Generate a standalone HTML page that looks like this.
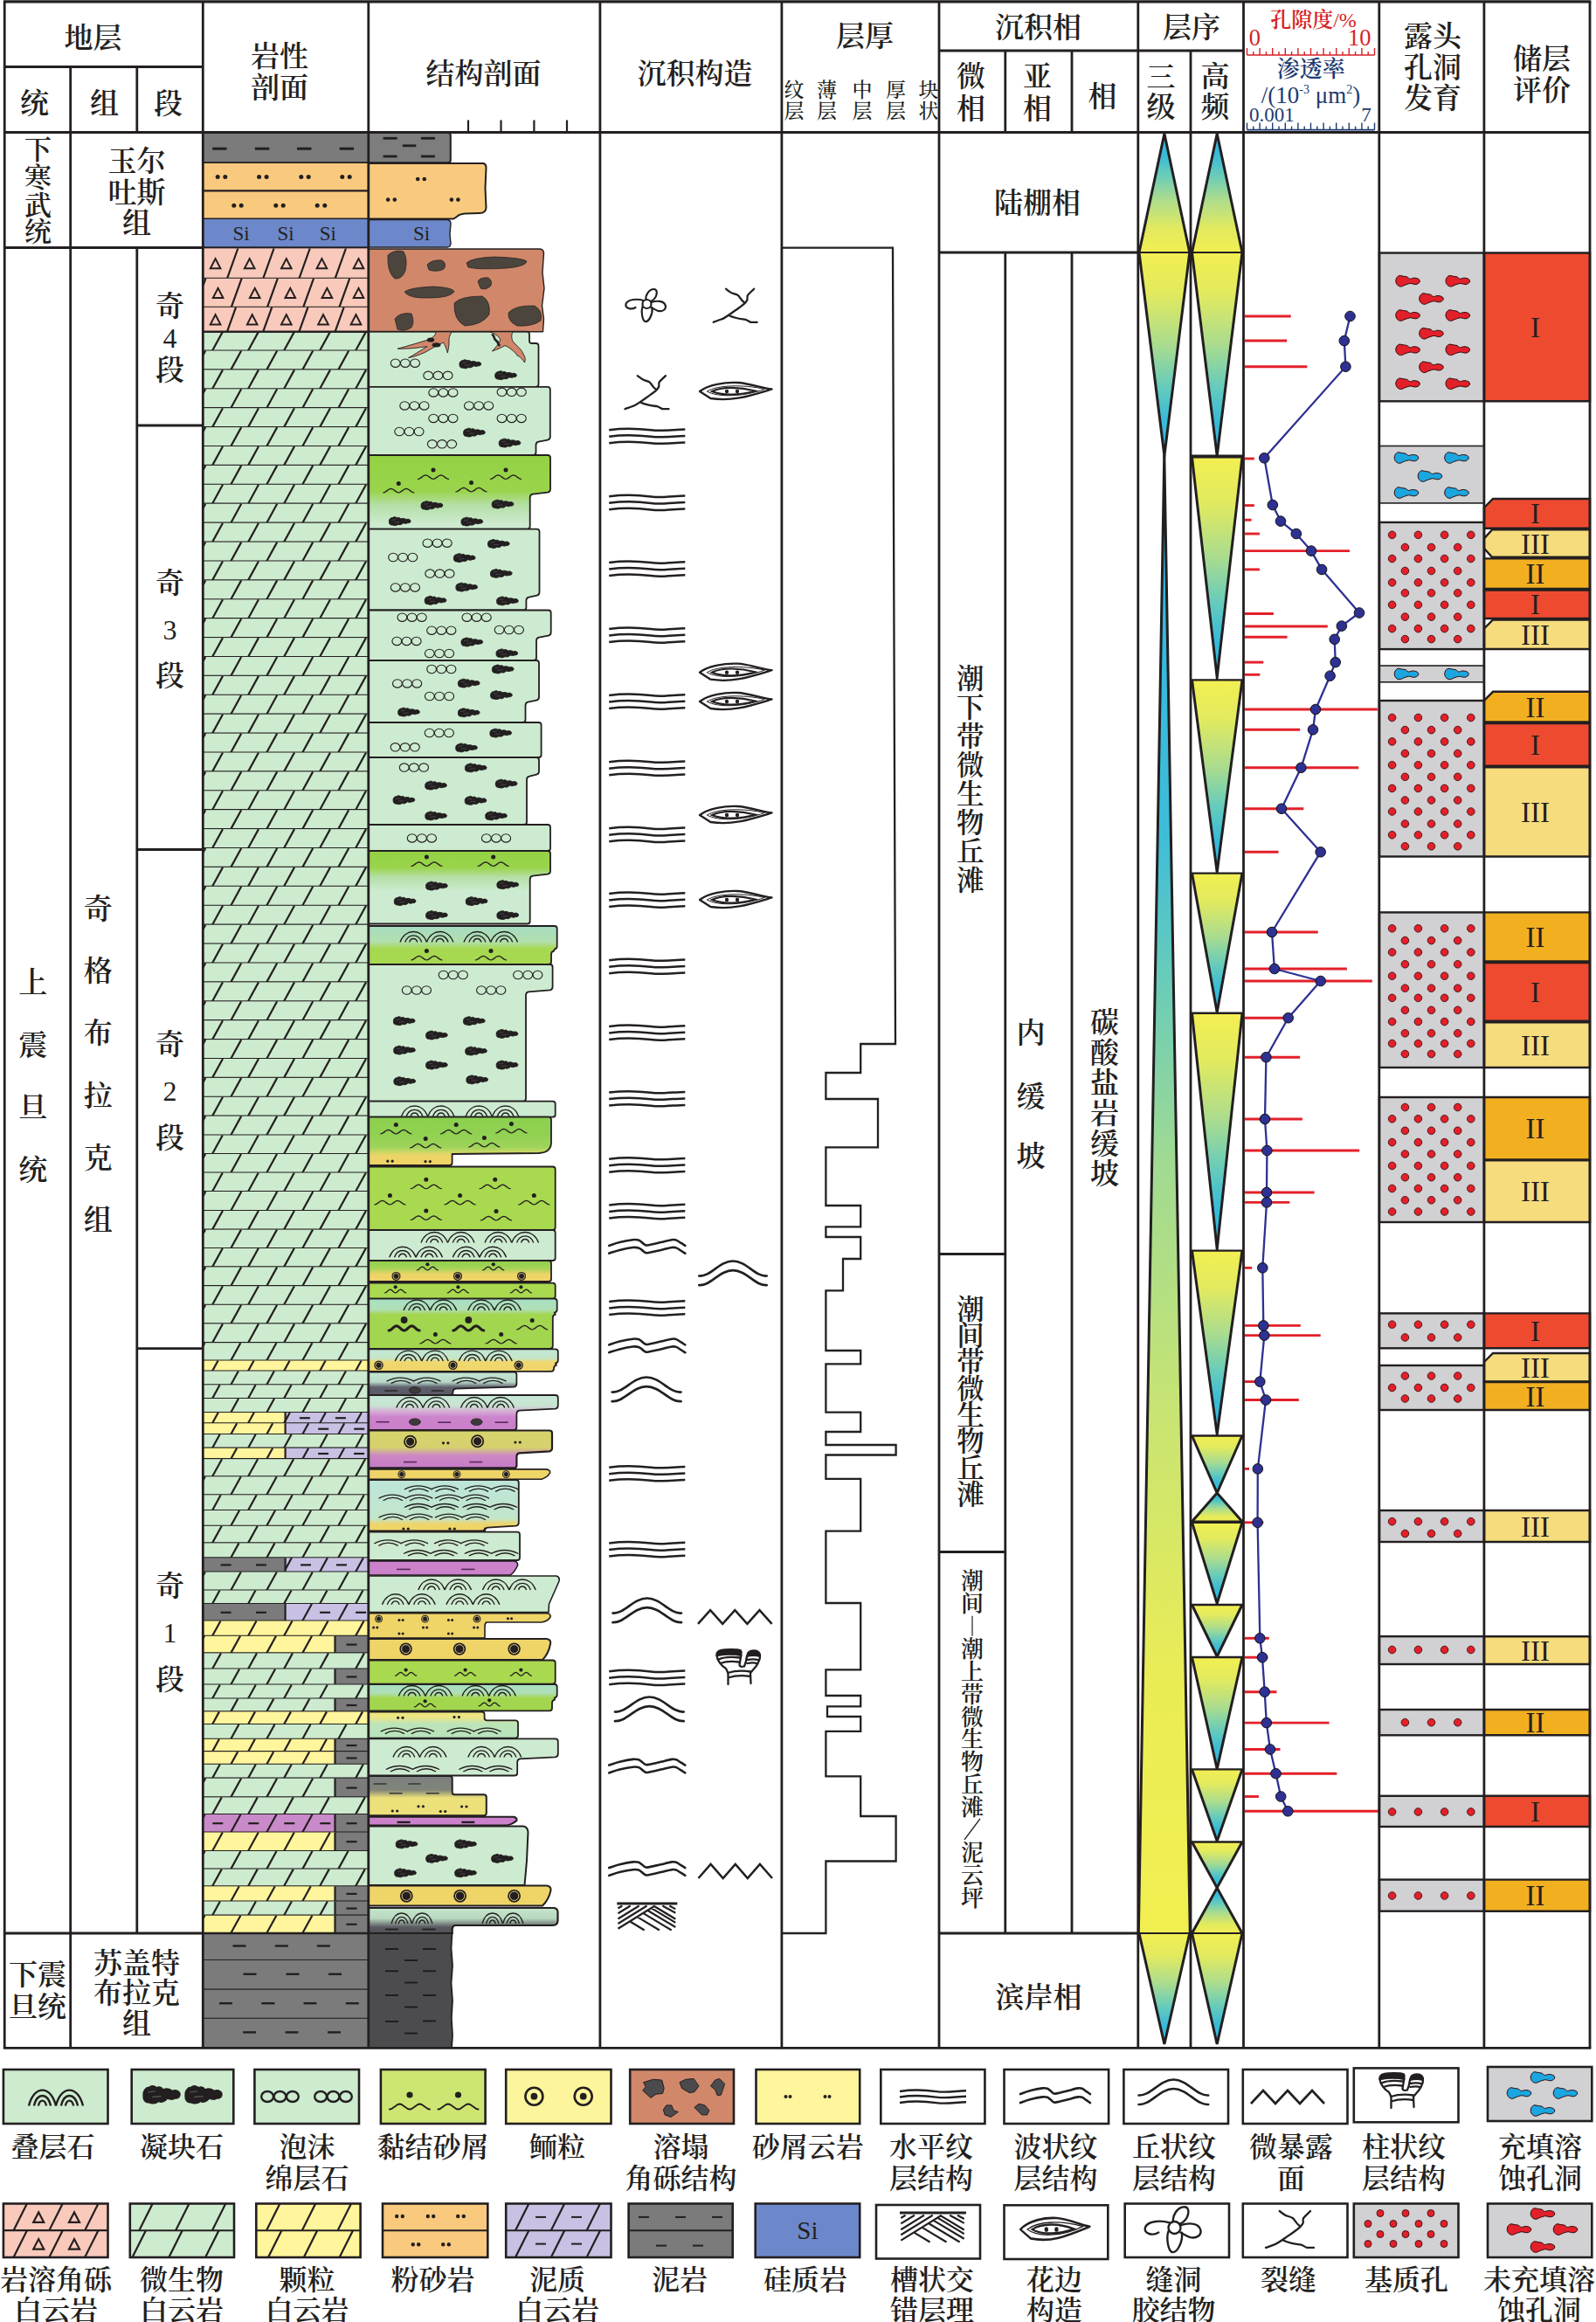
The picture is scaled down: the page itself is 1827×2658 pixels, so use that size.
<!DOCTYPE html>
<html><head><meta charset="utf-8"><title>Stratigraphic column</title>
<style>html,body{margin:0;padding:0;background:#fff;overflow:hidden}svg{display:block}
text{font-family:'Liberation Serif','Noto Serif CJK SC',serif}</style></head>
<body><svg xmlns="http://www.w3.org/2000/svg" width="1827" height="2658" viewBox="0 0 1827 2658">
<rect width="1827" height="2658" fill="#fff"/>
<defs><linearGradient id="g1" gradientUnits="userSpaceOnUse" x1="0" y1="521" x2="0" y2="606"><stop offset="0.0000" stop-color="#93d243"/><stop offset="0.4824" stop-color="#9ad44c"/><stop offset="0.6706" stop-color="#b4dfa6"/><stop offset="0.9294" stop-color="#cdebd0"/><stop offset="1.0000" stop-color="#cdebd0"/></linearGradient><linearGradient id="g2" gradientUnits="userSpaceOnUse" x1="0" y1="974" x2="0" y2="1057"><stop offset="0.0000" stop-color="#93d243"/><stop offset="0.2289" stop-color="#9ad44c"/><stop offset="0.3614" stop-color="#b4dfa6"/><stop offset="0.5542" stop-color="#cdebd0"/><stop offset="1.0000" stop-color="#cdebd0"/></linearGradient><linearGradient id="g3" gradientUnits="userSpaceOnUse" x1="0" y1="1060" x2="0" y2="1104"><stop offset="0.0000" stop-color="#a6dcc2"/><stop offset="0.4091" stop-color="#b2dfae"/><stop offset="0.5909" stop-color="#a6d850"/><stop offset="1.0000" stop-color="#a6d850"/></linearGradient><linearGradient id="g4" gradientUnits="userSpaceOnUse" x1="0" y1="1278.7" x2="0" y2="1334"><stop offset="0.0000" stop-color="#8bd04e"/><stop offset="0.3852" stop-color="#92d152"/><stop offset="0.6203" stop-color="#9ed45a"/><stop offset="0.7197" stop-color="#c8d864"/><stop offset="0.7920" stop-color="#ecd468"/><stop offset="1.0000" stop-color="#f0d466"/></linearGradient><linearGradient id="g5" gradientUnits="userSpaceOnUse" x1="0" y1="1443" x2="0" y2="1467"><stop offset="0.0000" stop-color="#8fd04e"/><stop offset="0.3750" stop-color="#a5d456"/><stop offset="0.6667" stop-color="#efd468"/><stop offset="1.0000" stop-color="#efd468"/></linearGradient><linearGradient id="g6" gradientUnits="userSpaceOnUse" x1="0" y1="1486.7" x2="0" y2="1543.8"><stop offset="0.0000" stop-color="#a8e0c4"/><stop offset="0.2154" stop-color="#b0dfb6"/><stop offset="0.3205" stop-color="#a2d64e"/><stop offset="0.9685" stop-color="#a2d64e"/></linearGradient><linearGradient id="g7" gradientUnits="userSpaceOnUse" x1="0" y1="1544.3" x2="0" y2="1569.8"><stop offset="0.0000" stop-color="#c0e8d8"/><stop offset="0.4196" stop-color="#c6e6c6"/><stop offset="0.5765" stop-color="#f0d870"/><stop offset="1.0000" stop-color="#efd468"/></linearGradient><linearGradient id="g8" gradientUnits="userSpaceOnUse" x1="0" y1="1570.6" x2="0" y2="1597"><stop offset="0.0000" stop-color="#c4e8d2"/><stop offset="0.4318" stop-color="#b8d8c8"/><stop offset="0.6591" stop-color="#5e5e6c"/><stop offset="1.0000" stop-color="#5a5a66"/></linearGradient><linearGradient id="g9" gradientUnits="userSpaceOnUse" x1="0" y1="1597" x2="0" y2="1637"><stop offset="0.0000" stop-color="#c6e8d6"/><stop offset="0.3000" stop-color="#c8e4d0"/><stop offset="0.4875" stop-color="#d6a6d6"/><stop offset="0.6250" stop-color="#cc84cc"/><stop offset="1.0000" stop-color="#c97ec9"/></linearGradient><linearGradient id="g10" gradientUnits="userSpaceOnUse" x1="0" y1="1637.5" x2="0" y2="1680.4"><stop offset="0.0000" stop-color="#d6d56c"/><stop offset="0.4545" stop-color="#d6d06e"/><stop offset="0.6643" stop-color="#cc88c4"/><stop offset="0.9907" stop-color="#c67ac6"/></linearGradient><linearGradient id="g11" gradientUnits="userSpaceOnUse" x1="0" y1="1694" x2="0" y2="1752.5"><stop offset="0.0000" stop-color="#bde6d8"/><stop offset="0.7521" stop-color="#c2e6cc"/><stop offset="0.8718" stop-color="#efd468"/><stop offset="1.0000" stop-color="#efd468"/></linearGradient><linearGradient id="g12" gradientUnits="userSpaceOnUse" x1="0" y1="1928" x2="0" y2="1958.3"><stop offset="0.0000" stop-color="#a8e0c4"/><stop offset="0.3300" stop-color="#b0dfb6"/><stop offset="0.5281" stop-color="#a2d64e"/><stop offset="0.9901" stop-color="#a2d64e"/></linearGradient><linearGradient id="g13" gradientUnits="userSpaceOnUse" x1="0" y1="1959.5" x2="0" y2="1989.6"><stop offset="0.0000" stop-color="#efe47e"/><stop offset="0.2159" stop-color="#ece684"/><stop offset="0.4485" stop-color="#bde4b8"/><stop offset="1.0000" stop-color="#b8e4bc"/></linearGradient><linearGradient id="g14" gradientUnits="userSpaceOnUse" x1="0" y1="2033" x2="0" y2="2078.3"><stop offset="0.0000" stop-color="#7a8080"/><stop offset="0.3532" stop-color="#808478"/><stop offset="0.5519" stop-color="#ece07a"/><stop offset="0.9934" stop-color="#ece07a"/></linearGradient><linearGradient id="g15" gradientUnits="userSpaceOnUse" x1="0" y1="2184" x2="0" y2="2213"><stop offset="0.0000" stop-color="#c4e6cc"/><stop offset="0.4138" stop-color="#b8d8c0"/><stop offset="0.7586" stop-color="#5a5a62"/><stop offset="1.0000" stop-color="#4e4e52"/></linearGradient><linearGradient id="g16" gradientUnits="userSpaceOnUse" x1="0" y1="153" x2="0" y2="289"><stop offset="0.0000" stop-color="#2bb6e3"/><stop offset="0.1800" stop-color="#3abbd6"/><stop offset="0.3400" stop-color="#66cbbb"/><stop offset="0.5500" stop-color="#abdc8e"/><stop offset="0.8000" stop-color="#e2ea5e"/><stop offset="1.0000" stop-color="#f2ef52"/></linearGradient><linearGradient id="g17" gradientUnits="userSpaceOnUse" x1="0" y1="289" x2="0" y2="521.8"><stop offset="0.0000" stop-color="#f2ef52"/><stop offset="0.2000" stop-color="#e2ea5e"/><stop offset="0.4500" stop-color="#abdc8e"/><stop offset="0.6600" stop-color="#66cbbb"/><stop offset="0.8200" stop-color="#3abbd6"/><stop offset="1.0000" stop-color="#2bb6e3"/></linearGradient><linearGradient id="g18" gradientUnits="userSpaceOnUse" x1="0" y1="521" x2="0" y2="2213"><stop offset="0.0000" stop-color="#2bb6e3"/><stop offset="0.2595" stop-color="#3fbdd8"/><stop offset="0.3481" stop-color="#66cbbb"/><stop offset="0.4781" stop-color="#a0da92"/><stop offset="0.6495" stop-color="#c8e472"/><stop offset="0.8268" stop-color="#eaec56"/><stop offset="1.0000" stop-color="#f2ef50"/></linearGradient><linearGradient id="g19" gradientUnits="userSpaceOnUse" x1="0" y1="2213" x2="0" y2="2340"><stop offset="0.0000" stop-color="#f2ef52"/><stop offset="0.2000" stop-color="#e2ea5e"/><stop offset="0.4500" stop-color="#abdc8e"/><stop offset="0.6600" stop-color="#66cbbb"/><stop offset="0.8200" stop-color="#3abbd6"/><stop offset="1.0000" stop-color="#2bb6e3"/></linearGradient><linearGradient id="g20" gradientUnits="userSpaceOnUse" x1="0" y1="153" x2="0" y2="289"><stop offset="0.0000" stop-color="#2bb6e3"/><stop offset="0.1800" stop-color="#3abbd6"/><stop offset="0.3400" stop-color="#66cbbb"/><stop offset="0.5500" stop-color="#abdc8e"/><stop offset="0.8000" stop-color="#e2ea5e"/><stop offset="1.0000" stop-color="#f2ef52"/></linearGradient><linearGradient id="g21" gradientUnits="userSpaceOnUse" x1="0" y1="289" x2="0" y2="521.8"><stop offset="0.0000" stop-color="#f2ef52"/><stop offset="0.2000" stop-color="#e2ea5e"/><stop offset="0.4500" stop-color="#abdc8e"/><stop offset="0.6600" stop-color="#66cbbb"/><stop offset="0.8200" stop-color="#3abbd6"/><stop offset="1.0000" stop-color="#2bb6e3"/></linearGradient><linearGradient id="g22" gradientUnits="userSpaceOnUse" x1="0" y1="523.4" x2="0" y2="775.6"><stop offset="0.0000" stop-color="#f2ef52"/><stop offset="0.2000" stop-color="#e2ea5e"/><stop offset="0.4500" stop-color="#abdc8e"/><stop offset="0.6600" stop-color="#66cbbb"/><stop offset="0.8200" stop-color="#3abbd6"/><stop offset="1.0000" stop-color="#2bb6e3"/></linearGradient><linearGradient id="g23" gradientUnits="userSpaceOnUse" x1="0" y1="778.4" x2="0" y2="998.5"><stop offset="0.0000" stop-color="#f2ef52"/><stop offset="0.2000" stop-color="#e2ea5e"/><stop offset="0.4500" stop-color="#abdc8e"/><stop offset="0.6600" stop-color="#66cbbb"/><stop offset="0.8200" stop-color="#3abbd6"/><stop offset="1.0000" stop-color="#2bb6e3"/></linearGradient><linearGradient id="g24" gradientUnits="userSpaceOnUse" x1="0" y1="999.6" x2="0" y2="1158.7"><stop offset="0.0000" stop-color="#f2ef52"/><stop offset="0.2000" stop-color="#e2ea5e"/><stop offset="0.4500" stop-color="#abdc8e"/><stop offset="0.6600" stop-color="#66cbbb"/><stop offset="0.8200" stop-color="#3abbd6"/><stop offset="1.0000" stop-color="#2bb6e3"/></linearGradient><linearGradient id="g25" gradientUnits="userSpaceOnUse" x1="0" y1="1159.8" x2="0" y2="1429.9"><stop offset="0.0000" stop-color="#f2ef52"/><stop offset="0.2000" stop-color="#e2ea5e"/><stop offset="0.4500" stop-color="#abdc8e"/><stop offset="0.6600" stop-color="#66cbbb"/><stop offset="0.8200" stop-color="#3abbd6"/><stop offset="1.0000" stop-color="#2bb6e3"/></linearGradient><linearGradient id="g26" gradientUnits="userSpaceOnUse" x1="0" y1="1431.6" x2="0" y2="1641.8"><stop offset="0.0000" stop-color="#f2ef52"/><stop offset="0.2000" stop-color="#e2ea5e"/><stop offset="0.4500" stop-color="#abdc8e"/><stop offset="0.6600" stop-color="#66cbbb"/><stop offset="0.8200" stop-color="#3abbd6"/><stop offset="1.0000" stop-color="#2bb6e3"/></linearGradient><linearGradient id="g27" gradientUnits="userSpaceOnUse" x1="0" y1="1643.5" x2="0" y2="1709"><stop offset="0.0000" stop-color="#f2ef52"/><stop offset="0.2000" stop-color="#e2ea5e"/><stop offset="0.4500" stop-color="#abdc8e"/><stop offset="0.6600" stop-color="#66cbbb"/><stop offset="0.8200" stop-color="#3abbd6"/><stop offset="1.0000" stop-color="#2bb6e3"/></linearGradient><linearGradient id="g28" gradientUnits="userSpaceOnUse" x1="0" y1="1742.7" x2="0" y2="1835.5"><stop offset="0.0000" stop-color="#f2ef52"/><stop offset="0.2000" stop-color="#e2ea5e"/><stop offset="0.4500" stop-color="#abdc8e"/><stop offset="0.6600" stop-color="#66cbbb"/><stop offset="0.8200" stop-color="#3abbd6"/><stop offset="1.0000" stop-color="#2bb6e3"/></linearGradient><linearGradient id="g29" gradientUnits="userSpaceOnUse" x1="0" y1="1837" x2="0" y2="1896.2"><stop offset="0.0000" stop-color="#f2ef52"/><stop offset="0.2000" stop-color="#e2ea5e"/><stop offset="0.4500" stop-color="#abdc8e"/><stop offset="0.6600" stop-color="#66cbbb"/><stop offset="0.8200" stop-color="#3abbd6"/><stop offset="1.0000" stop-color="#2bb6e3"/></linearGradient><linearGradient id="g30" gradientUnits="userSpaceOnUse" x1="0" y1="1897" x2="0" y2="2024.8"><stop offset="0.0000" stop-color="#f2ef52"/><stop offset="0.2000" stop-color="#e2ea5e"/><stop offset="0.4500" stop-color="#abdc8e"/><stop offset="0.6600" stop-color="#66cbbb"/><stop offset="0.8200" stop-color="#3abbd6"/><stop offset="1.0000" stop-color="#2bb6e3"/></linearGradient><linearGradient id="g31" gradientUnits="userSpaceOnUse" x1="0" y1="2025.4" x2="0" y2="2107.5"><stop offset="0.0000" stop-color="#f2ef52"/><stop offset="0.2000" stop-color="#e2ea5e"/><stop offset="0.4500" stop-color="#abdc8e"/><stop offset="0.6600" stop-color="#66cbbb"/><stop offset="0.8200" stop-color="#3abbd6"/><stop offset="1.0000" stop-color="#2bb6e3"/></linearGradient><linearGradient id="g32" gradientUnits="userSpaceOnUse" x1="0" y1="2108.5" x2="0" y2="2161"><stop offset="0.0000" stop-color="#f2ef52"/><stop offset="0.2000" stop-color="#e2ea5e"/><stop offset="0.4500" stop-color="#abdc8e"/><stop offset="0.6600" stop-color="#66cbbb"/><stop offset="0.8200" stop-color="#3abbd6"/><stop offset="1.0000" stop-color="#2bb6e3"/></linearGradient><linearGradient id="g33" gradientUnits="userSpaceOnUse" x1="0" y1="1709" x2="0" y2="1741.7"><stop offset="0.0000" stop-color="#2bb6e3"/><stop offset="0.1800" stop-color="#3abbd6"/><stop offset="0.3400" stop-color="#66cbbb"/><stop offset="0.5500" stop-color="#abdc8e"/><stop offset="0.8000" stop-color="#e2ea5e"/><stop offset="1.0000" stop-color="#f2ef52"/></linearGradient><linearGradient id="g34" gradientUnits="userSpaceOnUse" x1="0" y1="2161" x2="0" y2="2213"><stop offset="0.0000" stop-color="#2bb6e3"/><stop offset="0.1800" stop-color="#3abbd6"/><stop offset="0.3400" stop-color="#66cbbb"/><stop offset="0.5500" stop-color="#abdc8e"/><stop offset="0.8000" stop-color="#e2ea5e"/><stop offset="1.0000" stop-color="#f2ef52"/></linearGradient><linearGradient id="g35" gradientUnits="userSpaceOnUse" x1="0" y1="2213" x2="0" y2="2340"><stop offset="0.0000" stop-color="#f2ef52"/><stop offset="0.2000" stop-color="#e2ea5e"/><stop offset="0.4500" stop-color="#abdc8e"/><stop offset="0.6600" stop-color="#66cbbb"/><stop offset="0.8200" stop-color="#3abbd6"/><stop offset="1.0000" stop-color="#2bb6e3"/></linearGradient></defs>
<g id="litho">
<rect x="232.5" y="379.6" width="189" height="21.9" fill="#cdebce" stroke="none" stroke-width="0" />
<line x1="243" y1="401.5" x2="255" y2="379.6" stroke="#231f20" stroke-width="2.2" />
<line x1="284" y1="401.5" x2="296" y2="379.6" stroke="#231f20" stroke-width="2.2" />
<line x1="325" y1="401.5" x2="337" y2="379.6" stroke="#231f20" stroke-width="2.2" />
<line x1="366" y1="401.5" x2="378" y2="379.6" stroke="#231f20" stroke-width="2.2" />
<line x1="407" y1="401.5" x2="419" y2="379.6" stroke="#231f20" stroke-width="2.2" />
<line x1="232.5" y1="401.5" x2="421.5" y2="401.5" stroke="#231f20" stroke-width="2.2" />
<rect x="232.5" y="401.5" width="189" height="21.9" fill="#cdebce" stroke="none" stroke-width="0" />
<line x1="232.5" y1="406.5" x2="235.2" y2="401.5" stroke="#231f20" stroke-width="2.2" />
<line x1="264.2" y1="423.4" x2="276.2" y2="401.5" stroke="#231f20" stroke-width="2.2" />
<line x1="305.2" y1="423.4" x2="317.2" y2="401.5" stroke="#231f20" stroke-width="2.2" />
<line x1="346.2" y1="423.4" x2="358.2" y2="401.5" stroke="#231f20" stroke-width="2.2" />
<line x1="387.2" y1="423.4" x2="399.2" y2="401.5" stroke="#231f20" stroke-width="2.2" />
<line x1="232.5" y1="423.4" x2="421.5" y2="423.4" stroke="#231f20" stroke-width="2.2" />
<rect x="232.5" y="423.4" width="189" height="21.9" fill="#cdebce" stroke="none" stroke-width="0" />
<line x1="243" y1="445.3" x2="255" y2="423.4" stroke="#231f20" stroke-width="2.2" />
<line x1="284" y1="445.3" x2="296" y2="423.4" stroke="#231f20" stroke-width="2.2" />
<line x1="325" y1="445.3" x2="337" y2="423.4" stroke="#231f20" stroke-width="2.2" />
<line x1="366" y1="445.3" x2="378" y2="423.4" stroke="#231f20" stroke-width="2.2" />
<line x1="407" y1="445.3" x2="419" y2="423.4" stroke="#231f20" stroke-width="2.2" />
<line x1="232.5" y1="445.3" x2="421.5" y2="445.3" stroke="#231f20" stroke-width="2.2" />
<rect x="232.5" y="445.3" width="189" height="21.9" fill="#cdebce" stroke="none" stroke-width="0" />
<line x1="232.5" y1="450.3" x2="235.2" y2="445.3" stroke="#231f20" stroke-width="2.2" />
<line x1="264.2" y1="467.2" x2="276.2" y2="445.3" stroke="#231f20" stroke-width="2.2" />
<line x1="305.2" y1="467.2" x2="317.2" y2="445.3" stroke="#231f20" stroke-width="2.2" />
<line x1="346.2" y1="467.2" x2="358.2" y2="445.3" stroke="#231f20" stroke-width="2.2" />
<line x1="387.2" y1="467.2" x2="399.2" y2="445.3" stroke="#231f20" stroke-width="2.2" />
<line x1="232.5" y1="467.2" x2="421.5" y2="467.2" stroke="#231f20" stroke-width="2.2" />
<rect x="232.5" y="467.2" width="189" height="21.9" fill="#cdebce" stroke="none" stroke-width="0" />
<line x1="243" y1="489.1" x2="255" y2="467.2" stroke="#231f20" stroke-width="2.2" />
<line x1="284" y1="489.1" x2="296" y2="467.2" stroke="#231f20" stroke-width="2.2" />
<line x1="325" y1="489.1" x2="337" y2="467.2" stroke="#231f20" stroke-width="2.2" />
<line x1="366" y1="489.1" x2="378" y2="467.2" stroke="#231f20" stroke-width="2.2" />
<line x1="407" y1="489.1" x2="419" y2="467.2" stroke="#231f20" stroke-width="2.2" />
<line x1="232.5" y1="489.1" x2="421.5" y2="489.1" stroke="#231f20" stroke-width="2.2" />
<rect x="232.5" y="489.1" width="189" height="21.9" fill="#cdebce" stroke="none" stroke-width="0" />
<line x1="232.5" y1="494.1" x2="235.2" y2="489.1" stroke="#231f20" stroke-width="2.2" />
<line x1="264.2" y1="511" x2="276.2" y2="489.1" stroke="#231f20" stroke-width="2.2" />
<line x1="305.2" y1="511" x2="317.2" y2="489.1" stroke="#231f20" stroke-width="2.2" />
<line x1="346.2" y1="511" x2="358.2" y2="489.1" stroke="#231f20" stroke-width="2.2" />
<line x1="387.2" y1="511" x2="399.2" y2="489.1" stroke="#231f20" stroke-width="2.2" />
<line x1="232.5" y1="511" x2="421.5" y2="511" stroke="#231f20" stroke-width="2.2" />
<rect x="232.5" y="511" width="189" height="21.9" fill="#cdebce" stroke="none" stroke-width="0" />
<line x1="243" y1="532.9" x2="255" y2="511" stroke="#231f20" stroke-width="2.2" />
<line x1="284" y1="532.9" x2="296" y2="511" stroke="#231f20" stroke-width="2.2" />
<line x1="325" y1="532.9" x2="337" y2="511" stroke="#231f20" stroke-width="2.2" />
<line x1="366" y1="532.9" x2="378" y2="511" stroke="#231f20" stroke-width="2.2" />
<line x1="407" y1="532.9" x2="419" y2="511" stroke="#231f20" stroke-width="2.2" />
<line x1="232.5" y1="532.9" x2="421.5" y2="532.9" stroke="#231f20" stroke-width="2.2" />
<rect x="232.5" y="532.9" width="189" height="21.9" fill="#cdebce" stroke="none" stroke-width="0" />
<line x1="232.5" y1="537.9" x2="235.2" y2="532.9" stroke="#231f20" stroke-width="2.2" />
<line x1="264.2" y1="554.8" x2="276.2" y2="532.9" stroke="#231f20" stroke-width="2.2" />
<line x1="305.2" y1="554.8" x2="317.2" y2="532.9" stroke="#231f20" stroke-width="2.2" />
<line x1="346.2" y1="554.8" x2="358.2" y2="532.9" stroke="#231f20" stroke-width="2.2" />
<line x1="387.2" y1="554.8" x2="399.2" y2="532.9" stroke="#231f20" stroke-width="2.2" />
<line x1="232.5" y1="554.8" x2="421.5" y2="554.8" stroke="#231f20" stroke-width="2.2" />
<rect x="232.5" y="554.8" width="189" height="21.9" fill="#cdebce" stroke="none" stroke-width="0" />
<line x1="243" y1="576.7" x2="255" y2="554.8" stroke="#231f20" stroke-width="2.2" />
<line x1="284" y1="576.7" x2="296" y2="554.8" stroke="#231f20" stroke-width="2.2" />
<line x1="325" y1="576.7" x2="337" y2="554.8" stroke="#231f20" stroke-width="2.2" />
<line x1="366" y1="576.7" x2="378" y2="554.8" stroke="#231f20" stroke-width="2.2" />
<line x1="407" y1="576.7" x2="419" y2="554.8" stroke="#231f20" stroke-width="2.2" />
<line x1="232.5" y1="576.7" x2="421.5" y2="576.7" stroke="#231f20" stroke-width="2.2" />
<rect x="232.5" y="576.7" width="189" height="21.9" fill="#cdebce" stroke="none" stroke-width="0" />
<line x1="232.5" y1="581.7" x2="235.2" y2="576.7" stroke="#231f20" stroke-width="2.2" />
<line x1="264.2" y1="598.7" x2="276.2" y2="576.7" stroke="#231f20" stroke-width="2.2" />
<line x1="305.2" y1="598.7" x2="317.2" y2="576.7" stroke="#231f20" stroke-width="2.2" />
<line x1="346.2" y1="598.7" x2="358.2" y2="576.7" stroke="#231f20" stroke-width="2.2" />
<line x1="387.2" y1="598.7" x2="399.2" y2="576.7" stroke="#231f20" stroke-width="2.2" />
<line x1="232.5" y1="598.7" x2="421.5" y2="598.7" stroke="#231f20" stroke-width="2.2" />
<rect x="232.5" y="598.7" width="189" height="21.9" fill="#cdebce" stroke="none" stroke-width="0" />
<line x1="243" y1="620.6" x2="255" y2="598.7" stroke="#231f20" stroke-width="2.2" />
<line x1="284" y1="620.6" x2="296" y2="598.7" stroke="#231f20" stroke-width="2.2" />
<line x1="325" y1="620.6" x2="337" y2="598.7" stroke="#231f20" stroke-width="2.2" />
<line x1="366" y1="620.6" x2="378" y2="598.7" stroke="#231f20" stroke-width="2.2" />
<line x1="407" y1="620.6" x2="419" y2="598.7" stroke="#231f20" stroke-width="2.2" />
<line x1="232.5" y1="620.6" x2="421.5" y2="620.6" stroke="#231f20" stroke-width="2.2" />
<rect x="232.5" y="620.6" width="189" height="21.9" fill="#cdebce" stroke="none" stroke-width="0" />
<line x1="232.5" y1="625.6" x2="235.2" y2="620.6" stroke="#231f20" stroke-width="2.2" />
<line x1="264.2" y1="642.5" x2="276.2" y2="620.6" stroke="#231f20" stroke-width="2.2" />
<line x1="305.2" y1="642.5" x2="317.2" y2="620.6" stroke="#231f20" stroke-width="2.2" />
<line x1="346.2" y1="642.5" x2="358.2" y2="620.6" stroke="#231f20" stroke-width="2.2" />
<line x1="387.2" y1="642.5" x2="399.2" y2="620.6" stroke="#231f20" stroke-width="2.2" />
<line x1="232.5" y1="642.5" x2="421.5" y2="642.5" stroke="#231f20" stroke-width="2.2" />
<rect x="232.5" y="642.5" width="189" height="21.9" fill="#cdebce" stroke="none" stroke-width="0" />
<line x1="243" y1="664.4" x2="255" y2="642.5" stroke="#231f20" stroke-width="2.2" />
<line x1="284" y1="664.4" x2="296" y2="642.5" stroke="#231f20" stroke-width="2.2" />
<line x1="325" y1="664.4" x2="337" y2="642.5" stroke="#231f20" stroke-width="2.2" />
<line x1="366" y1="664.4" x2="378" y2="642.5" stroke="#231f20" stroke-width="2.2" />
<line x1="407" y1="664.4" x2="419" y2="642.5" stroke="#231f20" stroke-width="2.2" />
<line x1="232.5" y1="664.4" x2="421.5" y2="664.4" stroke="#231f20" stroke-width="2.2" />
<rect x="232.5" y="664.4" width="189" height="21.9" fill="#cdebce" stroke="none" stroke-width="0" />
<line x1="232.5" y1="669.4" x2="235.2" y2="664.4" stroke="#231f20" stroke-width="2.2" />
<line x1="264.2" y1="686.3" x2="276.2" y2="664.4" stroke="#231f20" stroke-width="2.2" />
<line x1="305.2" y1="686.3" x2="317.2" y2="664.4" stroke="#231f20" stroke-width="2.2" />
<line x1="346.2" y1="686.3" x2="358.2" y2="664.4" stroke="#231f20" stroke-width="2.2" />
<line x1="387.2" y1="686.3" x2="399.2" y2="664.4" stroke="#231f20" stroke-width="2.2" />
<line x1="232.5" y1="686.3" x2="421.5" y2="686.3" stroke="#231f20" stroke-width="2.2" />
<rect x="232.5" y="686.3" width="189" height="21.9" fill="#cdebce" stroke="none" stroke-width="0" />
<line x1="243" y1="708.2" x2="255" y2="686.3" stroke="#231f20" stroke-width="2.2" />
<line x1="284" y1="708.2" x2="296" y2="686.3" stroke="#231f20" stroke-width="2.2" />
<line x1="325" y1="708.2" x2="337" y2="686.3" stroke="#231f20" stroke-width="2.2" />
<line x1="366" y1="708.2" x2="378" y2="686.3" stroke="#231f20" stroke-width="2.2" />
<line x1="407" y1="708.2" x2="419" y2="686.3" stroke="#231f20" stroke-width="2.2" />
<line x1="232.5" y1="708.2" x2="421.5" y2="708.2" stroke="#231f20" stroke-width="2.2" />
<rect x="232.5" y="708.2" width="189" height="21.9" fill="#cdebce" stroke="none" stroke-width="0" />
<line x1="232.5" y1="713.2" x2="235.2" y2="708.2" stroke="#231f20" stroke-width="2.2" />
<line x1="264.2" y1="730.1" x2="276.2" y2="708.2" stroke="#231f20" stroke-width="2.2" />
<line x1="305.2" y1="730.1" x2="317.2" y2="708.2" stroke="#231f20" stroke-width="2.2" />
<line x1="346.2" y1="730.1" x2="358.2" y2="708.2" stroke="#231f20" stroke-width="2.2" />
<line x1="387.2" y1="730.1" x2="399.2" y2="708.2" stroke="#231f20" stroke-width="2.2" />
<line x1="232.5" y1="730.1" x2="421.5" y2="730.1" stroke="#231f20" stroke-width="2.2" />
<rect x="232.5" y="730.1" width="189" height="21.9" fill="#cdebce" stroke="none" stroke-width="0" />
<line x1="243" y1="752" x2="255" y2="730.1" stroke="#231f20" stroke-width="2.2" />
<line x1="284" y1="752" x2="296" y2="730.1" stroke="#231f20" stroke-width="2.2" />
<line x1="325" y1="752" x2="337" y2="730.1" stroke="#231f20" stroke-width="2.2" />
<line x1="366" y1="752" x2="378" y2="730.1" stroke="#231f20" stroke-width="2.2" />
<line x1="407" y1="752" x2="419" y2="730.1" stroke="#231f20" stroke-width="2.2" />
<line x1="232.5" y1="752" x2="421.5" y2="752" stroke="#231f20" stroke-width="2.2" />
<rect x="232.5" y="752" width="189" height="21.9" fill="#cdebce" stroke="none" stroke-width="0" />
<line x1="232.5" y1="757" x2="235.2" y2="752" stroke="#231f20" stroke-width="2.2" />
<line x1="264.2" y1="773.9" x2="276.2" y2="752" stroke="#231f20" stroke-width="2.2" />
<line x1="305.2" y1="773.9" x2="317.2" y2="752" stroke="#231f20" stroke-width="2.2" />
<line x1="346.2" y1="773.9" x2="358.2" y2="752" stroke="#231f20" stroke-width="2.2" />
<line x1="387.2" y1="773.9" x2="399.2" y2="752" stroke="#231f20" stroke-width="2.2" />
<line x1="232.5" y1="773.9" x2="421.5" y2="773.9" stroke="#231f20" stroke-width="2.2" />
<rect x="232.5" y="773.9" width="189" height="21.9" fill="#cdebce" stroke="none" stroke-width="0" />
<line x1="243" y1="795.8" x2="255" y2="773.9" stroke="#231f20" stroke-width="2.2" />
<line x1="284" y1="795.8" x2="296" y2="773.9" stroke="#231f20" stroke-width="2.2" />
<line x1="325" y1="795.8" x2="337" y2="773.9" stroke="#231f20" stroke-width="2.2" />
<line x1="366" y1="795.8" x2="378" y2="773.9" stroke="#231f20" stroke-width="2.2" />
<line x1="407" y1="795.8" x2="419" y2="773.9" stroke="#231f20" stroke-width="2.2" />
<line x1="232.5" y1="795.8" x2="421.5" y2="795.8" stroke="#231f20" stroke-width="2.2" />
<rect x="232.5" y="795.8" width="189" height="21.9" fill="#cdebce" stroke="none" stroke-width="0" />
<line x1="232.5" y1="800.8" x2="235.2" y2="795.8" stroke="#231f20" stroke-width="2.2" />
<line x1="264.2" y1="817.7" x2="276.2" y2="795.8" stroke="#231f20" stroke-width="2.2" />
<line x1="305.2" y1="817.7" x2="317.2" y2="795.8" stroke="#231f20" stroke-width="2.2" />
<line x1="346.2" y1="817.7" x2="358.2" y2="795.8" stroke="#231f20" stroke-width="2.2" />
<line x1="387.2" y1="817.7" x2="399.2" y2="795.8" stroke="#231f20" stroke-width="2.2" />
<line x1="232.5" y1="817.7" x2="421.5" y2="817.7" stroke="#231f20" stroke-width="2.2" />
<rect x="232.5" y="817.7" width="189" height="21.9" fill="#cdebce" stroke="none" stroke-width="0" />
<line x1="243" y1="839.6" x2="255" y2="817.7" stroke="#231f20" stroke-width="2.2" />
<line x1="284" y1="839.6" x2="296" y2="817.7" stroke="#231f20" stroke-width="2.2" />
<line x1="325" y1="839.6" x2="337" y2="817.7" stroke="#231f20" stroke-width="2.2" />
<line x1="366" y1="839.6" x2="378" y2="817.7" stroke="#231f20" stroke-width="2.2" />
<line x1="407" y1="839.6" x2="419" y2="817.7" stroke="#231f20" stroke-width="2.2" />
<line x1="232.5" y1="839.6" x2="421.5" y2="839.6" stroke="#231f20" stroke-width="2.2" />
<rect x="232.5" y="839.6" width="189" height="21.9" fill="#cdebce" stroke="none" stroke-width="0" />
<line x1="232.5" y1="844.6" x2="235.2" y2="839.6" stroke="#231f20" stroke-width="2.2" />
<line x1="264.2" y1="861.5" x2="276.2" y2="839.6" stroke="#231f20" stroke-width="2.2" />
<line x1="305.2" y1="861.5" x2="317.2" y2="839.6" stroke="#231f20" stroke-width="2.2" />
<line x1="346.2" y1="861.5" x2="358.2" y2="839.6" stroke="#231f20" stroke-width="2.2" />
<line x1="387.2" y1="861.5" x2="399.2" y2="839.6" stroke="#231f20" stroke-width="2.2" />
<line x1="232.5" y1="861.5" x2="421.5" y2="861.5" stroke="#231f20" stroke-width="2.2" />
<rect x="232.5" y="861.5" width="189" height="21.9" fill="#cdebce" stroke="none" stroke-width="0" />
<line x1="243" y1="883.4" x2="255" y2="861.5" stroke="#231f20" stroke-width="2.2" />
<line x1="284" y1="883.4" x2="296" y2="861.5" stroke="#231f20" stroke-width="2.2" />
<line x1="325" y1="883.4" x2="337" y2="861.5" stroke="#231f20" stroke-width="2.2" />
<line x1="366" y1="883.4" x2="378" y2="861.5" stroke="#231f20" stroke-width="2.2" />
<line x1="407" y1="883.4" x2="419" y2="861.5" stroke="#231f20" stroke-width="2.2" />
<line x1="232.5" y1="883.4" x2="421.5" y2="883.4" stroke="#231f20" stroke-width="2.2" />
<rect x="232.5" y="883.4" width="189" height="21.9" fill="#cdebce" stroke="none" stroke-width="0" />
<line x1="232.5" y1="888.4" x2="235.2" y2="883.4" stroke="#231f20" stroke-width="2.2" />
<line x1="264.2" y1="905.3" x2="276.2" y2="883.4" stroke="#231f20" stroke-width="2.2" />
<line x1="305.2" y1="905.3" x2="317.2" y2="883.4" stroke="#231f20" stroke-width="2.2" />
<line x1="346.2" y1="905.3" x2="358.2" y2="883.4" stroke="#231f20" stroke-width="2.2" />
<line x1="387.2" y1="905.3" x2="399.2" y2="883.4" stroke="#231f20" stroke-width="2.2" />
<line x1="232.5" y1="905.3" x2="421.5" y2="905.3" stroke="#231f20" stroke-width="2.2" />
<rect x="232.5" y="905.3" width="189" height="21.9" fill="#cdebce" stroke="none" stroke-width="0" />
<line x1="243" y1="927.2" x2="255" y2="905.3" stroke="#231f20" stroke-width="2.2" />
<line x1="284" y1="927.2" x2="296" y2="905.3" stroke="#231f20" stroke-width="2.2" />
<line x1="325" y1="927.2" x2="337" y2="905.3" stroke="#231f20" stroke-width="2.2" />
<line x1="366" y1="927.2" x2="378" y2="905.3" stroke="#231f20" stroke-width="2.2" />
<line x1="407" y1="927.2" x2="419" y2="905.3" stroke="#231f20" stroke-width="2.2" />
<line x1="232.5" y1="927.2" x2="421.5" y2="927.2" stroke="#231f20" stroke-width="2.2" />
<rect x="232.5" y="927.2" width="189" height="21.9" fill="#cdebce" stroke="none" stroke-width="0" />
<line x1="232.5" y1="932.2" x2="235.2" y2="927.2" stroke="#231f20" stroke-width="2.2" />
<line x1="264.2" y1="949.1" x2="276.2" y2="927.2" stroke="#231f20" stroke-width="2.2" />
<line x1="305.2" y1="949.1" x2="317.2" y2="927.2" stroke="#231f20" stroke-width="2.2" />
<line x1="346.2" y1="949.1" x2="358.2" y2="927.2" stroke="#231f20" stroke-width="2.2" />
<line x1="387.2" y1="949.1" x2="399.2" y2="927.2" stroke="#231f20" stroke-width="2.2" />
<line x1="232.5" y1="949.1" x2="421.5" y2="949.1" stroke="#231f20" stroke-width="2.2" />
<rect x="232.5" y="949.1" width="189" height="21.9" fill="#cdebce" stroke="none" stroke-width="0" />
<line x1="243" y1="971" x2="255" y2="949.1" stroke="#231f20" stroke-width="2.2" />
<line x1="284" y1="971" x2="296" y2="949.1" stroke="#231f20" stroke-width="2.2" />
<line x1="325" y1="971" x2="337" y2="949.1" stroke="#231f20" stroke-width="2.2" />
<line x1="366" y1="971" x2="378" y2="949.1" stroke="#231f20" stroke-width="2.2" />
<line x1="407" y1="971" x2="419" y2="949.1" stroke="#231f20" stroke-width="2.2" />
<line x1="232.5" y1="971" x2="421.5" y2="971" stroke="#231f20" stroke-width="2.2" />
<rect x="232.5" y="971" width="189" height="21.9" fill="#cdebce" stroke="none" stroke-width="0" />
<line x1="232.5" y1="976" x2="235.2" y2="971" stroke="#231f20" stroke-width="2.2" />
<line x1="264.2" y1="992.9" x2="276.2" y2="971" stroke="#231f20" stroke-width="2.2" />
<line x1="305.2" y1="992.9" x2="317.2" y2="971" stroke="#231f20" stroke-width="2.2" />
<line x1="346.2" y1="992.9" x2="358.2" y2="971" stroke="#231f20" stroke-width="2.2" />
<line x1="387.2" y1="992.9" x2="399.2" y2="971" stroke="#231f20" stroke-width="2.2" />
<line x1="232.5" y1="992.9" x2="421.5" y2="992.9" stroke="#231f20" stroke-width="2.2" />
<rect x="232.5" y="992.9" width="189" height="21.9" fill="#cdebce" stroke="none" stroke-width="0" />
<line x1="243" y1="1014.8" x2="255" y2="992.9" stroke="#231f20" stroke-width="2.2" />
<line x1="284" y1="1014.8" x2="296" y2="992.9" stroke="#231f20" stroke-width="2.2" />
<line x1="325" y1="1014.8" x2="337" y2="992.9" stroke="#231f20" stroke-width="2.2" />
<line x1="366" y1="1014.8" x2="378" y2="992.9" stroke="#231f20" stroke-width="2.2" />
<line x1="407" y1="1014.8" x2="419" y2="992.9" stroke="#231f20" stroke-width="2.2" />
<line x1="232.5" y1="1014.8" x2="421.5" y2="1014.8" stroke="#231f20" stroke-width="2.2" />
<rect x="232.5" y="1014.8" width="189" height="21.9" fill="#cdebce" stroke="none" stroke-width="0" />
<line x1="232.5" y1="1019.8" x2="235.2" y2="1014.8" stroke="#231f20" stroke-width="2.2" />
<line x1="264.2" y1="1036.8" x2="276.2" y2="1014.8" stroke="#231f20" stroke-width="2.2" />
<line x1="305.2" y1="1036.8" x2="317.2" y2="1014.8" stroke="#231f20" stroke-width="2.2" />
<line x1="346.2" y1="1036.8" x2="358.2" y2="1014.8" stroke="#231f20" stroke-width="2.2" />
<line x1="387.2" y1="1036.8" x2="399.2" y2="1014.8" stroke="#231f20" stroke-width="2.2" />
<line x1="232.5" y1="1036.8" x2="421.5" y2="1036.8" stroke="#231f20" stroke-width="2.2" />
<rect x="232.5" y="1036.8" width="189" height="21.9" fill="#cdebce" stroke="none" stroke-width="0" />
<line x1="243" y1="1058.7" x2="255" y2="1036.8" stroke="#231f20" stroke-width="2.2" />
<line x1="284" y1="1058.7" x2="296" y2="1036.8" stroke="#231f20" stroke-width="2.2" />
<line x1="325" y1="1058.7" x2="337" y2="1036.8" stroke="#231f20" stroke-width="2.2" />
<line x1="366" y1="1058.7" x2="378" y2="1036.8" stroke="#231f20" stroke-width="2.2" />
<line x1="407" y1="1058.7" x2="419" y2="1036.8" stroke="#231f20" stroke-width="2.2" />
<line x1="232.5" y1="1058.7" x2="421.5" y2="1058.7" stroke="#231f20" stroke-width="2.2" />
<rect x="232.5" y="1058.7" width="189" height="21.9" fill="#cdebce" stroke="none" stroke-width="0" />
<line x1="232.5" y1="1063.7" x2="235.2" y2="1058.7" stroke="#231f20" stroke-width="2.2" />
<line x1="264.2" y1="1080.6" x2="276.2" y2="1058.7" stroke="#231f20" stroke-width="2.2" />
<line x1="305.2" y1="1080.6" x2="317.2" y2="1058.7" stroke="#231f20" stroke-width="2.2" />
<line x1="346.2" y1="1080.6" x2="358.2" y2="1058.7" stroke="#231f20" stroke-width="2.2" />
<line x1="387.2" y1="1080.6" x2="399.2" y2="1058.7" stroke="#231f20" stroke-width="2.2" />
<line x1="232.5" y1="1080.6" x2="421.5" y2="1080.6" stroke="#231f20" stroke-width="2.2" />
<rect x="232.5" y="1080.6" width="189" height="21.9" fill="#cdebce" stroke="none" stroke-width="0" />
<line x1="243" y1="1102.5" x2="255" y2="1080.6" stroke="#231f20" stroke-width="2.2" />
<line x1="284" y1="1102.5" x2="296" y2="1080.6" stroke="#231f20" stroke-width="2.2" />
<line x1="325" y1="1102.5" x2="337" y2="1080.6" stroke="#231f20" stroke-width="2.2" />
<line x1="366" y1="1102.5" x2="378" y2="1080.6" stroke="#231f20" stroke-width="2.2" />
<line x1="407" y1="1102.5" x2="419" y2="1080.6" stroke="#231f20" stroke-width="2.2" />
<line x1="232.5" y1="1102.5" x2="421.5" y2="1102.5" stroke="#231f20" stroke-width="2.2" />
<rect x="232.5" y="1102.5" width="189" height="21.9" fill="#cdebce" stroke="none" stroke-width="0" />
<line x1="232.5" y1="1107.5" x2="235.2" y2="1102.5" stroke="#231f20" stroke-width="2.2" />
<line x1="264.2" y1="1124.4" x2="276.2" y2="1102.5" stroke="#231f20" stroke-width="2.2" />
<line x1="305.2" y1="1124.4" x2="317.2" y2="1102.5" stroke="#231f20" stroke-width="2.2" />
<line x1="346.2" y1="1124.4" x2="358.2" y2="1102.5" stroke="#231f20" stroke-width="2.2" />
<line x1="387.2" y1="1124.4" x2="399.2" y2="1102.5" stroke="#231f20" stroke-width="2.2" />
<line x1="232.5" y1="1124.4" x2="421.5" y2="1124.4" stroke="#231f20" stroke-width="2.2" />
<rect x="232.5" y="1124.4" width="189" height="21.9" fill="#cdebce" stroke="none" stroke-width="0" />
<line x1="243" y1="1146.3" x2="255" y2="1124.4" stroke="#231f20" stroke-width="2.2" />
<line x1="284" y1="1146.3" x2="296" y2="1124.4" stroke="#231f20" stroke-width="2.2" />
<line x1="325" y1="1146.3" x2="337" y2="1124.4" stroke="#231f20" stroke-width="2.2" />
<line x1="366" y1="1146.3" x2="378" y2="1124.4" stroke="#231f20" stroke-width="2.2" />
<line x1="407" y1="1146.3" x2="419" y2="1124.4" stroke="#231f20" stroke-width="2.2" />
<line x1="232.5" y1="1146.3" x2="421.5" y2="1146.3" stroke="#231f20" stroke-width="2.2" />
<rect x="232.5" y="1146.3" width="189" height="21.9" fill="#cdebce" stroke="none" stroke-width="0" />
<line x1="232.5" y1="1151.3" x2="235.2" y2="1146.3" stroke="#231f20" stroke-width="2.2" />
<line x1="264.2" y1="1168.2" x2="276.2" y2="1146.3" stroke="#231f20" stroke-width="2.2" />
<line x1="305.2" y1="1168.2" x2="317.2" y2="1146.3" stroke="#231f20" stroke-width="2.2" />
<line x1="346.2" y1="1168.2" x2="358.2" y2="1146.3" stroke="#231f20" stroke-width="2.2" />
<line x1="387.2" y1="1168.2" x2="399.2" y2="1146.3" stroke="#231f20" stroke-width="2.2" />
<line x1="232.5" y1="1168.2" x2="421.5" y2="1168.2" stroke="#231f20" stroke-width="2.2" />
<rect x="232.5" y="1168.2" width="189" height="21.9" fill="#cdebce" stroke="none" stroke-width="0" />
<line x1="243" y1="1190.1" x2="255" y2="1168.2" stroke="#231f20" stroke-width="2.2" />
<line x1="284" y1="1190.1" x2="296" y2="1168.2" stroke="#231f20" stroke-width="2.2" />
<line x1="325" y1="1190.1" x2="337" y2="1168.2" stroke="#231f20" stroke-width="2.2" />
<line x1="366" y1="1190.1" x2="378" y2="1168.2" stroke="#231f20" stroke-width="2.2" />
<line x1="407" y1="1190.1" x2="419" y2="1168.2" stroke="#231f20" stroke-width="2.2" />
<line x1="232.5" y1="1190.1" x2="421.5" y2="1190.1" stroke="#231f20" stroke-width="2.2" />
<rect x="232.5" y="1190.1" width="189" height="21.9" fill="#cdebce" stroke="none" stroke-width="0" />
<line x1="232.5" y1="1195.1" x2="235.2" y2="1190.1" stroke="#231f20" stroke-width="2.2" />
<line x1="264.2" y1="1212" x2="276.2" y2="1190.1" stroke="#231f20" stroke-width="2.2" />
<line x1="305.2" y1="1212" x2="317.2" y2="1190.1" stroke="#231f20" stroke-width="2.2" />
<line x1="346.2" y1="1212" x2="358.2" y2="1190.1" stroke="#231f20" stroke-width="2.2" />
<line x1="387.2" y1="1212" x2="399.2" y2="1190.1" stroke="#231f20" stroke-width="2.2" />
<line x1="232.5" y1="1212" x2="421.5" y2="1212" stroke="#231f20" stroke-width="2.2" />
<rect x="232.5" y="1212" width="189" height="21.9" fill="#cdebce" stroke="none" stroke-width="0" />
<line x1="243" y1="1233.9" x2="255" y2="1212" stroke="#231f20" stroke-width="2.2" />
<line x1="284" y1="1233.9" x2="296" y2="1212" stroke="#231f20" stroke-width="2.2" />
<line x1="325" y1="1233.9" x2="337" y2="1212" stroke="#231f20" stroke-width="2.2" />
<line x1="366" y1="1233.9" x2="378" y2="1212" stroke="#231f20" stroke-width="2.2" />
<line x1="407" y1="1233.9" x2="419" y2="1212" stroke="#231f20" stroke-width="2.2" />
<line x1="232.5" y1="1233.9" x2="421.5" y2="1233.9" stroke="#231f20" stroke-width="2.2" />
<rect x="232.5" y="1233.9" width="189" height="21.9" fill="#cdebce" stroke="none" stroke-width="0" />
<line x1="232.5" y1="1238.9" x2="235.2" y2="1233.9" stroke="#231f20" stroke-width="2.2" />
<line x1="264.2" y1="1255.8" x2="276.2" y2="1233.9" stroke="#231f20" stroke-width="2.2" />
<line x1="305.2" y1="1255.8" x2="317.2" y2="1233.9" stroke="#231f20" stroke-width="2.2" />
<line x1="346.2" y1="1255.8" x2="358.2" y2="1233.9" stroke="#231f20" stroke-width="2.2" />
<line x1="387.2" y1="1255.8" x2="399.2" y2="1233.9" stroke="#231f20" stroke-width="2.2" />
<line x1="232.5" y1="1255.8" x2="421.5" y2="1255.8" stroke="#231f20" stroke-width="2.2" />
<rect x="232.5" y="1255.8" width="189" height="21.8" fill="#cdebce" stroke="none" stroke-width="0" />
<line x1="243" y1="1277.6" x2="255" y2="1255.8" stroke="#231f20" stroke-width="2.2" />
<line x1="284" y1="1277.6" x2="296" y2="1255.8" stroke="#231f20" stroke-width="2.2" />
<line x1="325" y1="1277.6" x2="337" y2="1255.8" stroke="#231f20" stroke-width="2.2" />
<line x1="366" y1="1277.6" x2="378" y2="1255.8" stroke="#231f20" stroke-width="2.2" />
<line x1="407" y1="1277.6" x2="419" y2="1255.8" stroke="#231f20" stroke-width="2.2" />
<line x1="232.5" y1="1277.6" x2="421.5" y2="1277.6" stroke="#231f20" stroke-width="2.2" />
<rect x="232.5" y="1277.6" width="189" height="21.9" fill="#cdebce" stroke="none" stroke-width="0" />
<line x1="232.5" y1="1282.6" x2="235.2" y2="1277.6" stroke="#231f20" stroke-width="2.2" />
<line x1="264.2" y1="1299.5" x2="276.2" y2="1277.6" stroke="#231f20" stroke-width="2.2" />
<line x1="305.2" y1="1299.5" x2="317.2" y2="1277.6" stroke="#231f20" stroke-width="2.2" />
<line x1="346.2" y1="1299.5" x2="358.2" y2="1277.6" stroke="#231f20" stroke-width="2.2" />
<line x1="387.2" y1="1299.5" x2="399.2" y2="1277.6" stroke="#231f20" stroke-width="2.2" />
<line x1="232.5" y1="1299.5" x2="421.5" y2="1299.5" stroke="#231f20" stroke-width="2.2" />
<rect x="232.5" y="1299.5" width="189" height="21.5" fill="#cdebce" stroke="none" stroke-width="0" />
<line x1="243" y1="1321" x2="254.8" y2="1299.5" stroke="#231f20" stroke-width="2.2" />
<line x1="284" y1="1321" x2="295.8" y2="1299.5" stroke="#231f20" stroke-width="2.2" />
<line x1="325" y1="1321" x2="336.8" y2="1299.5" stroke="#231f20" stroke-width="2.2" />
<line x1="366" y1="1321" x2="377.8" y2="1299.5" stroke="#231f20" stroke-width="2.2" />
<line x1="407" y1="1321" x2="418.8" y2="1299.5" stroke="#231f20" stroke-width="2.2" />
<line x1="232.5" y1="1321" x2="421.5" y2="1321" stroke="#231f20" stroke-width="2.2" />
<rect x="232.5" y="1321" width="189" height="21.5" fill="#cdebce" stroke="none" stroke-width="0" />
<line x1="232.5" y1="1325.6" x2="235" y2="1321" stroke="#231f20" stroke-width="2.2" />
<line x1="264.2" y1="1342.5" x2="276" y2="1321" stroke="#231f20" stroke-width="2.2" />
<line x1="305.2" y1="1342.5" x2="317" y2="1321" stroke="#231f20" stroke-width="2.2" />
<line x1="346.2" y1="1342.5" x2="358" y2="1321" stroke="#231f20" stroke-width="2.2" />
<line x1="387.2" y1="1342.5" x2="399" y2="1321" stroke="#231f20" stroke-width="2.2" />
<line x1="232.5" y1="1342.5" x2="421.5" y2="1342.5" stroke="#231f20" stroke-width="2.2" />
<rect x="232.5" y="1342.5" width="189" height="21.5" fill="#cdebce" stroke="none" stroke-width="0" />
<line x1="243" y1="1364" x2="254.8" y2="1342.5" stroke="#231f20" stroke-width="2.2" />
<line x1="284" y1="1364" x2="295.8" y2="1342.5" stroke="#231f20" stroke-width="2.2" />
<line x1="325" y1="1364" x2="336.8" y2="1342.5" stroke="#231f20" stroke-width="2.2" />
<line x1="366" y1="1364" x2="377.8" y2="1342.5" stroke="#231f20" stroke-width="2.2" />
<line x1="407" y1="1364" x2="418.8" y2="1342.5" stroke="#231f20" stroke-width="2.2" />
<line x1="232.5" y1="1364" x2="421.5" y2="1364" stroke="#231f20" stroke-width="2.2" />
<rect x="232.5" y="1364" width="189" height="22" fill="#cdebce" stroke="none" stroke-width="0" />
<line x1="232.5" y1="1369.1" x2="235.3" y2="1364" stroke="#231f20" stroke-width="2.2" />
<line x1="264.2" y1="1386" x2="276.3" y2="1364" stroke="#231f20" stroke-width="2.2" />
<line x1="305.2" y1="1386" x2="317.3" y2="1364" stroke="#231f20" stroke-width="2.2" />
<line x1="346.2" y1="1386" x2="358.3" y2="1364" stroke="#231f20" stroke-width="2.2" />
<line x1="387.2" y1="1386" x2="399.3" y2="1364" stroke="#231f20" stroke-width="2.2" />
<line x1="232.5" y1="1386" x2="421.5" y2="1386" stroke="#231f20" stroke-width="2.2" />
<rect x="232.5" y="1386" width="189" height="21.6" fill="#cdebce" stroke="none" stroke-width="0" />
<line x1="243" y1="1407.6" x2="254.9" y2="1386" stroke="#231f20" stroke-width="2.2" />
<line x1="284" y1="1407.6" x2="295.9" y2="1386" stroke="#231f20" stroke-width="2.2" />
<line x1="325" y1="1407.6" x2="336.9" y2="1386" stroke="#231f20" stroke-width="2.2" />
<line x1="366" y1="1407.6" x2="377.9" y2="1386" stroke="#231f20" stroke-width="2.2" />
<line x1="407" y1="1407.6" x2="418.9" y2="1386" stroke="#231f20" stroke-width="2.2" />
<line x1="232.5" y1="1407.6" x2="421.5" y2="1407.6" stroke="#231f20" stroke-width="2.2" />
<rect x="232.5" y="1407.6" width="189" height="21.4" fill="#cdebce" stroke="none" stroke-width="0" />
<line x1="232.5" y1="1412.1" x2="235" y2="1407.6" stroke="#231f20" stroke-width="2.2" />
<line x1="264.2" y1="1429" x2="276" y2="1407.6" stroke="#231f20" stroke-width="2.2" />
<line x1="305.2" y1="1429" x2="317" y2="1407.6" stroke="#231f20" stroke-width="2.2" />
<line x1="346.2" y1="1429" x2="358" y2="1407.6" stroke="#231f20" stroke-width="2.2" />
<line x1="387.2" y1="1429" x2="399" y2="1407.6" stroke="#231f20" stroke-width="2.2" />
<line x1="232.5" y1="1429" x2="421.5" y2="1429" stroke="#231f20" stroke-width="2.2" />
<rect x="232.5" y="1429" width="189" height="21.4" fill="#cdebce" stroke="none" stroke-width="0" />
<line x1="243" y1="1450.4" x2="254.8" y2="1429" stroke="#231f20" stroke-width="2.2" />
<line x1="284" y1="1450.4" x2="295.8" y2="1429" stroke="#231f20" stroke-width="2.2" />
<line x1="325" y1="1450.4" x2="336.8" y2="1429" stroke="#231f20" stroke-width="2.2" />
<line x1="366" y1="1450.4" x2="377.8" y2="1429" stroke="#231f20" stroke-width="2.2" />
<line x1="407" y1="1450.4" x2="418.8" y2="1429" stroke="#231f20" stroke-width="2.2" />
<line x1="232.5" y1="1450.4" x2="421.5" y2="1450.4" stroke="#231f20" stroke-width="2.2" />
<rect x="232.5" y="1450.4" width="189" height="21.8" fill="#cdebce" stroke="none" stroke-width="0" />
<line x1="232.5" y1="1455.3" x2="235.2" y2="1450.4" stroke="#231f20" stroke-width="2.2" />
<line x1="264.2" y1="1472.2" x2="276.2" y2="1450.4" stroke="#231f20" stroke-width="2.2" />
<line x1="305.2" y1="1472.2" x2="317.2" y2="1450.4" stroke="#231f20" stroke-width="2.2" />
<line x1="346.2" y1="1472.2" x2="358.2" y2="1450.4" stroke="#231f20" stroke-width="2.2" />
<line x1="387.2" y1="1472.2" x2="399.2" y2="1450.4" stroke="#231f20" stroke-width="2.2" />
<line x1="232.5" y1="1472.2" x2="421.5" y2="1472.2" stroke="#231f20" stroke-width="2.2" />
<rect x="232.5" y="1472.2" width="189" height="21.6" fill="#cdebce" stroke="none" stroke-width="0" />
<line x1="243" y1="1493.8" x2="254.9" y2="1472.2" stroke="#231f20" stroke-width="2.2" />
<line x1="284" y1="1493.8" x2="295.9" y2="1472.2" stroke="#231f20" stroke-width="2.2" />
<line x1="325" y1="1493.8" x2="336.9" y2="1472.2" stroke="#231f20" stroke-width="2.2" />
<line x1="366" y1="1493.8" x2="377.9" y2="1472.2" stroke="#231f20" stroke-width="2.2" />
<line x1="407" y1="1493.8" x2="418.9" y2="1472.2" stroke="#231f20" stroke-width="2.2" />
<line x1="232.5" y1="1493.8" x2="421.5" y2="1493.8" stroke="#231f20" stroke-width="2.2" />
<rect x="232.5" y="1493.8" width="189" height="21.6" fill="#cdebce" stroke="none" stroke-width="0" />
<line x1="232.5" y1="1498.5" x2="235.1" y2="1493.8" stroke="#231f20" stroke-width="2.2" />
<line x1="264.2" y1="1515.4" x2="276.1" y2="1493.8" stroke="#231f20" stroke-width="2.2" />
<line x1="305.2" y1="1515.4" x2="317.1" y2="1493.8" stroke="#231f20" stroke-width="2.2" />
<line x1="346.2" y1="1515.4" x2="358.1" y2="1493.8" stroke="#231f20" stroke-width="2.2" />
<line x1="387.2" y1="1515.4" x2="399.1" y2="1493.8" stroke="#231f20" stroke-width="2.2" />
<line x1="232.5" y1="1515.4" x2="421.5" y2="1515.4" stroke="#231f20" stroke-width="2.2" />
<rect x="232.5" y="1515.4" width="189" height="21.8" fill="#cdebce" stroke="none" stroke-width="0" />
<line x1="243" y1="1537.2" x2="255" y2="1515.4" stroke="#231f20" stroke-width="2.2" />
<line x1="284" y1="1537.2" x2="296" y2="1515.4" stroke="#231f20" stroke-width="2.2" />
<line x1="325" y1="1537.2" x2="337" y2="1515.4" stroke="#231f20" stroke-width="2.2" />
<line x1="366" y1="1537.2" x2="378" y2="1515.4" stroke="#231f20" stroke-width="2.2" />
<line x1="407" y1="1537.2" x2="419" y2="1515.4" stroke="#231f20" stroke-width="2.2" />
<line x1="232.5" y1="1537.2" x2="421.5" y2="1537.2" stroke="#231f20" stroke-width="2.2" />
<rect x="232.5" y="1537.2" width="189" height="20.3" fill="#cdebce" stroke="none" stroke-width="0" />
<line x1="232.5" y1="1540.6" x2="234.4" y2="1537.2" stroke="#231f20" stroke-width="2.2" />
<line x1="264.2" y1="1557.5" x2="275.4" y2="1537.2" stroke="#231f20" stroke-width="2.2" />
<line x1="305.2" y1="1557.5" x2="316.4" y2="1537.2" stroke="#231f20" stroke-width="2.2" />
<line x1="346.2" y1="1557.5" x2="357.4" y2="1537.2" stroke="#231f20" stroke-width="2.2" />
<line x1="387.2" y1="1557.5" x2="398.4" y2="1537.2" stroke="#231f20" stroke-width="2.2" />
<line x1="232.5" y1="1557.5" x2="421.5" y2="1557.5" stroke="#231f20" stroke-width="2.2" />
<rect x="232.5" y="1557.5" width="189" height="12" fill="#fff59c" stroke="none" stroke-width="0" />
<line x1="243" y1="1569.5" x2="249.6" y2="1557.5" stroke="#231f20" stroke-width="2.2" />
<line x1="284" y1="1569.5" x2="290.6" y2="1557.5" stroke="#231f20" stroke-width="2.2" />
<line x1="325" y1="1569.5" x2="331.6" y2="1557.5" stroke="#231f20" stroke-width="2.2" />
<line x1="366" y1="1569.5" x2="372.6" y2="1557.5" stroke="#231f20" stroke-width="2.2" />
<line x1="407" y1="1569.5" x2="413.6" y2="1557.5" stroke="#231f20" stroke-width="2.2" />
<line x1="232.5" y1="1569.5" x2="421.5" y2="1569.5" stroke="#231f20" stroke-width="2.2" />
<rect x="232.5" y="1569.5" width="189" height="15.8" fill="#cdebce" stroke="none" stroke-width="0" />
<line x1="264.2" y1="1585.3" x2="272.9" y2="1569.5" stroke="#231f20" stroke-width="2.2" />
<line x1="305.2" y1="1585.3" x2="313.9" y2="1569.5" stroke="#231f20" stroke-width="2.2" />
<line x1="346.2" y1="1585.3" x2="354.9" y2="1569.5" stroke="#231f20" stroke-width="2.2" />
<line x1="387.2" y1="1585.3" x2="395.9" y2="1569.5" stroke="#231f20" stroke-width="2.2" />
<line x1="232.5" y1="1585.3" x2="421.5" y2="1585.3" stroke="#231f20" stroke-width="2.2" />
<rect x="232.5" y="1585.3" width="189" height="15.7" fill="#cdebce" stroke="none" stroke-width="0" />
<line x1="243" y1="1601" x2="251.6" y2="1585.3" stroke="#231f20" stroke-width="2.2" />
<line x1="284" y1="1601" x2="292.6" y2="1585.3" stroke="#231f20" stroke-width="2.2" />
<line x1="325" y1="1601" x2="333.6" y2="1585.3" stroke="#231f20" stroke-width="2.2" />
<line x1="366" y1="1601" x2="374.6" y2="1585.3" stroke="#231f20" stroke-width="2.2" />
<line x1="407" y1="1601" x2="415.6" y2="1585.3" stroke="#231f20" stroke-width="2.2" />
<line x1="232.5" y1="1601" x2="421.5" y2="1601" stroke="#231f20" stroke-width="2.2" />
<rect x="232.5" y="1601" width="189" height="16" fill="#cdebce" stroke="none" stroke-width="0" />
<line x1="264.2" y1="1617" x2="273" y2="1601" stroke="#231f20" stroke-width="2.2" />
<line x1="305.2" y1="1617" x2="314" y2="1601" stroke="#231f20" stroke-width="2.2" />
<line x1="346.2" y1="1617" x2="355" y2="1601" stroke="#231f20" stroke-width="2.2" />
<line x1="387.2" y1="1617" x2="396" y2="1601" stroke="#231f20" stroke-width="2.2" />
<line x1="232.5" y1="1617" x2="421.5" y2="1617" stroke="#231f20" stroke-width="2.2" />
<rect x="232.5" y="1617" width="94.1" height="12.3" fill="#fff59c" stroke="none" stroke-width="0" />
<line x1="243" y1="1629.3" x2="249.8" y2="1617" stroke="#231f20" stroke-width="2.2" />
<line x1="284" y1="1629.3" x2="290.8" y2="1617" stroke="#231f20" stroke-width="2.2" />
<line x1="325" y1="1629.3" x2="326.6" y2="1626.4" stroke="#231f20" stroke-width="2.2" />
<rect x="326.6" y="1617" width="94.9" height="12.3" fill="#c9c1e3" stroke="none" stroke-width="0" />
<line x1="326.6" y1="1626.4" x2="331.8" y2="1617" stroke="#231f20" stroke-width="2.2" />
<line x1="366" y1="1629.3" x2="372.8" y2="1617" stroke="#231f20" stroke-width="2.2" />
<line x1="407" y1="1629.3" x2="413.8" y2="1617" stroke="#231f20" stroke-width="2.2" />
<line x1="342.9" y1="1623.2" x2="354.9" y2="1623.2" stroke="#231f20" stroke-width="2.2" />
<line x1="383.9" y1="1623.2" x2="395.9" y2="1623.2" stroke="#231f20" stroke-width="2.2" />
<line x1="326.6" y1="1617" x2="326.6" y2="1629.3" stroke="#231f20" stroke-width="2.2" />
<line x1="232.5" y1="1629.3" x2="421.5" y2="1629.3" stroke="#231f20" stroke-width="2.2" />
<rect x="232.5" y="1629.3" width="94.1" height="12.7" fill="#fff59c" stroke="none" stroke-width="0" />
<line x1="264.2" y1="1642" x2="271.2" y2="1629.3" stroke="#231f20" stroke-width="2.2" />
<line x1="305.2" y1="1642" x2="312.2" y2="1629.3" stroke="#231f20" stroke-width="2.2" />
<rect x="326.6" y="1629.3" width="94.9" height="12.7" fill="#c9c1e3" stroke="none" stroke-width="0" />
<line x1="346.2" y1="1642" x2="353.2" y2="1629.3" stroke="#231f20" stroke-width="2.2" />
<line x1="387.2" y1="1642" x2="394.2" y2="1629.3" stroke="#231f20" stroke-width="2.2" />
<line x1="364.2" y1="1635.7" x2="376.2" y2="1635.7" stroke="#231f20" stroke-width="2.2" />
<line x1="405.2" y1="1635.7" x2="417.2" y2="1635.7" stroke="#231f20" stroke-width="2.2" />
<line x1="326.6" y1="1629.3" x2="326.6" y2="1642" stroke="#231f20" stroke-width="2.2" />
<line x1="232.5" y1="1642" x2="421.5" y2="1642" stroke="#231f20" stroke-width="2.2" />
<rect x="232.5" y="1642" width="189" height="15.7" fill="#cdebce" stroke="none" stroke-width="0" />
<line x1="243" y1="1657.7" x2="251.6" y2="1642" stroke="#231f20" stroke-width="2.2" />
<line x1="284" y1="1657.7" x2="292.6" y2="1642" stroke="#231f20" stroke-width="2.2" />
<line x1="325" y1="1657.7" x2="333.6" y2="1642" stroke="#231f20" stroke-width="2.2" />
<line x1="366" y1="1657.7" x2="374.6" y2="1642" stroke="#231f20" stroke-width="2.2" />
<line x1="407" y1="1657.7" x2="415.6" y2="1642" stroke="#231f20" stroke-width="2.2" />
<line x1="232.5" y1="1657.7" x2="421.5" y2="1657.7" stroke="#231f20" stroke-width="2.2" />
<rect x="232.5" y="1657.7" width="94.1" height="12.5" fill="#fff59c" stroke="none" stroke-width="0" />
<line x1="264.2" y1="1670.2" x2="271.1" y2="1657.7" stroke="#231f20" stroke-width="2.2" />
<line x1="305.2" y1="1670.2" x2="312.1" y2="1657.7" stroke="#231f20" stroke-width="2.2" />
<rect x="326.6" y="1657.7" width="94.9" height="12.5" fill="#c9c1e3" stroke="none" stroke-width="0" />
<line x1="346.2" y1="1670.2" x2="353.1" y2="1657.7" stroke="#231f20" stroke-width="2.2" />
<line x1="387.2" y1="1670.2" x2="394.1" y2="1657.7" stroke="#231f20" stroke-width="2.2" />
<line x1="364.1" y1="1664" x2="376.1" y2="1664" stroke="#231f20" stroke-width="2.2" />
<line x1="405.1" y1="1664" x2="417.1" y2="1664" stroke="#231f20" stroke-width="2.2" />
<line x1="326.6" y1="1657.7" x2="326.6" y2="1670.2" stroke="#231f20" stroke-width="2.2" />
<line x1="232.5" y1="1670.2" x2="421.5" y2="1670.2" stroke="#231f20" stroke-width="2.2" />
<rect x="232.5" y="1670.2" width="189" height="20.1" fill="#cdebce" stroke="none" stroke-width="0" />
<line x1="243" y1="1690.3" x2="254.1" y2="1670.2" stroke="#231f20" stroke-width="2.2" />
<line x1="284" y1="1690.3" x2="295.1" y2="1670.2" stroke="#231f20" stroke-width="2.2" />
<line x1="325" y1="1690.3" x2="336.1" y2="1670.2" stroke="#231f20" stroke-width="2.2" />
<line x1="366" y1="1690.3" x2="377.1" y2="1670.2" stroke="#231f20" stroke-width="2.2" />
<line x1="407" y1="1690.3" x2="418.1" y2="1670.2" stroke="#231f20" stroke-width="2.2" />
<line x1="232.5" y1="1690.3" x2="421.5" y2="1690.3" stroke="#231f20" stroke-width="2.2" />
<rect x="232.5" y="1690.3" width="189" height="21" fill="#cdebce" stroke="none" stroke-width="0" />
<line x1="232.5" y1="1694.4" x2="234.8" y2="1690.3" stroke="#231f20" stroke-width="2.2" />
<line x1="264.2" y1="1711.3" x2="275.8" y2="1690.3" stroke="#231f20" stroke-width="2.2" />
<line x1="305.2" y1="1711.3" x2="316.8" y2="1690.3" stroke="#231f20" stroke-width="2.2" />
<line x1="346.2" y1="1711.3" x2="357.8" y2="1690.3" stroke="#231f20" stroke-width="2.2" />
<line x1="387.2" y1="1711.3" x2="398.8" y2="1690.3" stroke="#231f20" stroke-width="2.2" />
<line x1="232.5" y1="1711.3" x2="421.5" y2="1711.3" stroke="#231f20" stroke-width="2.2" />
<rect x="232.5" y="1711.3" width="189" height="17.7" fill="#cdebce" stroke="none" stroke-width="0" />
<line x1="243" y1="1729" x2="252.7" y2="1711.3" stroke="#231f20" stroke-width="2.2" />
<line x1="284" y1="1729" x2="293.7" y2="1711.3" stroke="#231f20" stroke-width="2.2" />
<line x1="325" y1="1729" x2="334.7" y2="1711.3" stroke="#231f20" stroke-width="2.2" />
<line x1="366" y1="1729" x2="375.7" y2="1711.3" stroke="#231f20" stroke-width="2.2" />
<line x1="407" y1="1729" x2="416.7" y2="1711.3" stroke="#231f20" stroke-width="2.2" />
<line x1="232.5" y1="1729" x2="421.5" y2="1729" stroke="#231f20" stroke-width="2.2" />
<rect x="232.5" y="1729" width="189" height="17.8" fill="#cdebce" stroke="none" stroke-width="0" />
<line x1="232.5" y1="1729.9" x2="233" y2="1729" stroke="#231f20" stroke-width="2.2" />
<line x1="264.2" y1="1746.8" x2="274" y2="1729" stroke="#231f20" stroke-width="2.2" />
<line x1="305.2" y1="1746.8" x2="315" y2="1729" stroke="#231f20" stroke-width="2.2" />
<line x1="346.2" y1="1746.8" x2="356" y2="1729" stroke="#231f20" stroke-width="2.2" />
<line x1="387.2" y1="1746.8" x2="397" y2="1729" stroke="#231f20" stroke-width="2.2" />
<line x1="232.5" y1="1746.8" x2="421.5" y2="1746.8" stroke="#231f20" stroke-width="2.2" />
<rect x="232.5" y="1746.8" width="189" height="19.6" fill="#cdebce" stroke="none" stroke-width="0" />
<line x1="243" y1="1766.4" x2="253.8" y2="1746.8" stroke="#231f20" stroke-width="2.2" />
<line x1="284" y1="1766.4" x2="294.8" y2="1746.8" stroke="#231f20" stroke-width="2.2" />
<line x1="325" y1="1766.4" x2="335.8" y2="1746.8" stroke="#231f20" stroke-width="2.2" />
<line x1="366" y1="1766.4" x2="376.8" y2="1746.8" stroke="#231f20" stroke-width="2.2" />
<line x1="407" y1="1766.4" x2="417.8" y2="1746.8" stroke="#231f20" stroke-width="2.2" />
<line x1="232.5" y1="1766.4" x2="421.5" y2="1766.4" stroke="#231f20" stroke-width="2.2" />
<rect x="232.5" y="1766.4" width="189" height="16.9" fill="#cdebce" stroke="none" stroke-width="0" />
<line x1="264.2" y1="1783.3" x2="273.5" y2="1766.4" stroke="#231f20" stroke-width="2.2" />
<line x1="305.2" y1="1783.3" x2="314.5" y2="1766.4" stroke="#231f20" stroke-width="2.2" />
<line x1="346.2" y1="1783.3" x2="355.5" y2="1766.4" stroke="#231f20" stroke-width="2.2" />
<line x1="387.2" y1="1783.3" x2="396.5" y2="1766.4" stroke="#231f20" stroke-width="2.2" />
<line x1="232.5" y1="1783.3" x2="421.5" y2="1783.3" stroke="#231f20" stroke-width="2.2" />
<rect x="232.5" y="1783.3" width="94.1" height="16.2" fill="#7b7b7b" stroke="none" stroke-width="0" />
<line x1="252.6" y1="1791.4" x2="264.6" y2="1791.4" stroke="#231f20" stroke-width="2.2" />
<line x1="293" y1="1791.4" x2="305" y2="1791.4" stroke="#231f20" stroke-width="2.2" />
<rect x="326.6" y="1783.3" width="94.9" height="16.2" fill="#c9c1e3" stroke="none" stroke-width="0" />
<line x1="326.6" y1="1796.6" x2="333.9" y2="1783.3" stroke="#231f20" stroke-width="2.2" />
<line x1="366" y1="1799.5" x2="374.9" y2="1783.3" stroke="#231f20" stroke-width="2.2" />
<line x1="407" y1="1799.5" x2="415.9" y2="1783.3" stroke="#231f20" stroke-width="2.2" />
<line x1="344" y1="1791.4" x2="356" y2="1791.4" stroke="#231f20" stroke-width="2.2" />
<line x1="385" y1="1791.4" x2="397" y2="1791.4" stroke="#231f20" stroke-width="2.2" />
<line x1="326.6" y1="1783.3" x2="326.6" y2="1799.5" stroke="#231f20" stroke-width="2.2" />
<line x1="232.5" y1="1799.5" x2="421.5" y2="1799.5" stroke="#231f20" stroke-width="2.2" />
<rect x="232.5" y="1799.5" width="189" height="21" fill="#cdebce" stroke="none" stroke-width="0" />
<line x1="232.5" y1="1803.6" x2="234.8" y2="1799.5" stroke="#231f20" stroke-width="2.2" />
<line x1="264.2" y1="1820.5" x2="275.8" y2="1799.5" stroke="#231f20" stroke-width="2.2" />
<line x1="305.2" y1="1820.5" x2="316.8" y2="1799.5" stroke="#231f20" stroke-width="2.2" />
<line x1="346.2" y1="1820.5" x2="357.8" y2="1799.5" stroke="#231f20" stroke-width="2.2" />
<line x1="387.2" y1="1820.5" x2="398.8" y2="1799.5" stroke="#231f20" stroke-width="2.2" />
<line x1="232.5" y1="1820.5" x2="421.5" y2="1820.5" stroke="#231f20" stroke-width="2.2" />
<rect x="232.5" y="1820.5" width="189" height="15.5" fill="#cdebce" stroke="none" stroke-width="0" />
<line x1="243" y1="1836" x2="251.5" y2="1820.5" stroke="#231f20" stroke-width="2.2" />
<line x1="284" y1="1836" x2="292.5" y2="1820.5" stroke="#231f20" stroke-width="2.2" />
<line x1="325" y1="1836" x2="333.5" y2="1820.5" stroke="#231f20" stroke-width="2.2" />
<line x1="366" y1="1836" x2="374.5" y2="1820.5" stroke="#231f20" stroke-width="2.2" />
<line x1="407" y1="1836" x2="415.5" y2="1820.5" stroke="#231f20" stroke-width="2.2" />
<line x1="232.5" y1="1836" x2="421.5" y2="1836" stroke="#231f20" stroke-width="2.2" />
<rect x="232.5" y="1836" width="94.1" height="19.5" fill="#7b7b7b" stroke="none" stroke-width="0" />
<line x1="252.6" y1="1845.8" x2="264.6" y2="1845.8" stroke="#231f20" stroke-width="2.2" />
<line x1="293" y1="1845.8" x2="305" y2="1845.8" stroke="#231f20" stroke-width="2.2" />
<rect x="326.6" y="1836" width="94.9" height="19.5" fill="#c9c1e3" stroke="none" stroke-width="0" />
<line x1="346.2" y1="1855.5" x2="356.9" y2="1836" stroke="#231f20" stroke-width="2.2" />
<line x1="387.2" y1="1855.5" x2="397.9" y2="1836" stroke="#231f20" stroke-width="2.2" />
<line x1="366.1" y1="1845.8" x2="378.1" y2="1845.8" stroke="#231f20" stroke-width="2.2" />
<line x1="407.1" y1="1845.8" x2="419.1" y2="1845.8" stroke="#231f20" stroke-width="2.2" />
<line x1="326.6" y1="1836" x2="326.6" y2="1855.5" stroke="#231f20" stroke-width="2.2" />
<line x1="232.5" y1="1855.5" x2="421.5" y2="1855.5" stroke="#231f20" stroke-width="2.2" />
<rect x="232.5" y="1855.5" width="189" height="17.3" fill="#fff59c" stroke="none" stroke-width="0" />
<line x1="243" y1="1872.8" x2="252.5" y2="1855.5" stroke="#231f20" stroke-width="2.2" />
<line x1="284" y1="1872.8" x2="293.5" y2="1855.5" stroke="#231f20" stroke-width="2.2" />
<line x1="325" y1="1872.8" x2="334.5" y2="1855.5" stroke="#231f20" stroke-width="2.2" />
<line x1="366" y1="1872.8" x2="375.5" y2="1855.5" stroke="#231f20" stroke-width="2.2" />
<line x1="407" y1="1872.8" x2="416.5" y2="1855.5" stroke="#231f20" stroke-width="2.2" />
<line x1="232.5" y1="1872.8" x2="421.5" y2="1872.8" stroke="#231f20" stroke-width="2.2" />
<rect x="232.5" y="1872.8" width="151" height="19.6" fill="#fff59c" stroke="none" stroke-width="0" />
<line x1="232.5" y1="1875.5" x2="234" y2="1872.8" stroke="#231f20" stroke-width="2.2" />
<line x1="264.2" y1="1892.4" x2="275" y2="1872.8" stroke="#231f20" stroke-width="2.2" />
<line x1="305.2" y1="1892.4" x2="316" y2="1872.8" stroke="#231f20" stroke-width="2.2" />
<line x1="346.2" y1="1892.4" x2="357" y2="1872.8" stroke="#231f20" stroke-width="2.2" />
<rect x="383.5" y="1872.8" width="38" height="19.6" fill="#7b7b7b" stroke="none" stroke-width="0" />
<line x1="396.5" y1="1882.6" x2="408.5" y2="1882.6" stroke="#231f20" stroke-width="2.2" />
<line x1="383.5" y1="1872.8" x2="383.5" y2="1892.4" stroke="#231f20" stroke-width="2.2" />
<line x1="232.5" y1="1892.4" x2="421.5" y2="1892.4" stroke="#231f20" stroke-width="2.2" />
<rect x="232.5" y="1892.4" width="189" height="18.1" fill="#cdebce" stroke="none" stroke-width="0" />
<line x1="243" y1="1910.5" x2="253" y2="1892.4" stroke="#231f20" stroke-width="2.2" />
<line x1="284" y1="1910.5" x2="294" y2="1892.4" stroke="#231f20" stroke-width="2.2" />
<line x1="325" y1="1910.5" x2="335" y2="1892.4" stroke="#231f20" stroke-width="2.2" />
<line x1="366" y1="1910.5" x2="376" y2="1892.4" stroke="#231f20" stroke-width="2.2" />
<line x1="407" y1="1910.5" x2="417" y2="1892.4" stroke="#231f20" stroke-width="2.2" />
<line x1="232.5" y1="1910.5" x2="421.5" y2="1910.5" stroke="#231f20" stroke-width="2.2" />
<rect x="232.5" y="1910.5" width="151" height="18" fill="#cdebce" stroke="none" stroke-width="0" />
<line x1="232.5" y1="1911.6" x2="233.1" y2="1910.5" stroke="#231f20" stroke-width="2.2" />
<line x1="264.2" y1="1928.5" x2="274.1" y2="1910.5" stroke="#231f20" stroke-width="2.2" />
<line x1="305.2" y1="1928.5" x2="315.1" y2="1910.5" stroke="#231f20" stroke-width="2.2" />
<line x1="346.2" y1="1928.5" x2="356.1" y2="1910.5" stroke="#231f20" stroke-width="2.2" />
<rect x="383.5" y="1910.5" width="38" height="18" fill="#7b7b7b" stroke="none" stroke-width="0" />
<line x1="396.5" y1="1919.5" x2="408.5" y2="1919.5" stroke="#231f20" stroke-width="2.2" />
<line x1="383.5" y1="1910.5" x2="383.5" y2="1928.5" stroke="#231f20" stroke-width="2.2" />
<line x1="232.5" y1="1928.5" x2="421.5" y2="1928.5" stroke="#231f20" stroke-width="2.2" />
<rect x="232.5" y="1928.5" width="189" height="16" fill="#cdebce" stroke="none" stroke-width="0" />
<line x1="243" y1="1944.5" x2="251.8" y2="1928.5" stroke="#231f20" stroke-width="2.2" />
<line x1="284" y1="1944.5" x2="292.8" y2="1928.5" stroke="#231f20" stroke-width="2.2" />
<line x1="325" y1="1944.5" x2="333.8" y2="1928.5" stroke="#231f20" stroke-width="2.2" />
<line x1="366" y1="1944.5" x2="374.8" y2="1928.5" stroke="#231f20" stroke-width="2.2" />
<line x1="407" y1="1944.5" x2="415.8" y2="1928.5" stroke="#231f20" stroke-width="2.2" />
<line x1="232.5" y1="1944.5" x2="421.5" y2="1944.5" stroke="#231f20" stroke-width="2.2" />
<rect x="232.5" y="1944.5" width="151" height="14.9" fill="#cdebce" stroke="none" stroke-width="0" />
<line x1="264.2" y1="1959.4" x2="272.4" y2="1944.5" stroke="#231f20" stroke-width="2.2" />
<line x1="305.2" y1="1959.4" x2="313.4" y2="1944.5" stroke="#231f20" stroke-width="2.2" />
<line x1="346.2" y1="1959.4" x2="354.4" y2="1944.5" stroke="#231f20" stroke-width="2.2" />
<rect x="383.5" y="1944.5" width="38" height="14.9" fill="#7b7b7b" stroke="none" stroke-width="0" />
<line x1="396.5" y1="1952" x2="408.5" y2="1952" stroke="#231f20" stroke-width="2.2" />
<line x1="383.5" y1="1944.5" x2="383.5" y2="1959.4" stroke="#231f20" stroke-width="2.2" />
<line x1="232.5" y1="1959.4" x2="421.5" y2="1959.4" stroke="#231f20" stroke-width="2.2" />
<rect x="232.5" y="1959.4" width="189" height="14.6" fill="#fff59c" stroke="none" stroke-width="0" />
<line x1="243" y1="1974" x2="251" y2="1959.4" stroke="#231f20" stroke-width="2.2" />
<line x1="284" y1="1974" x2="292" y2="1959.4" stroke="#231f20" stroke-width="2.2" />
<line x1="325" y1="1974" x2="333" y2="1959.4" stroke="#231f20" stroke-width="2.2" />
<line x1="366" y1="1974" x2="374" y2="1959.4" stroke="#231f20" stroke-width="2.2" />
<line x1="407" y1="1974" x2="415" y2="1959.4" stroke="#231f20" stroke-width="2.2" />
<line x1="232.5" y1="1974" x2="421.5" y2="1974" stroke="#231f20" stroke-width="2.2" />
<rect x="232.5" y="1974" width="189" height="16.8" fill="#cdebce" stroke="none" stroke-width="0" />
<line x1="264.2" y1="1990.8" x2="273.4" y2="1974" stroke="#231f20" stroke-width="2.2" />
<line x1="305.2" y1="1990.8" x2="314.4" y2="1974" stroke="#231f20" stroke-width="2.2" />
<line x1="346.2" y1="1990.8" x2="355.4" y2="1974" stroke="#231f20" stroke-width="2.2" />
<line x1="387.2" y1="1990.8" x2="396.4" y2="1974" stroke="#231f20" stroke-width="2.2" />
<line x1="232.5" y1="1990.8" x2="421.5" y2="1990.8" stroke="#231f20" stroke-width="2.2" />
<rect x="232.5" y="1990.8" width="151" height="14.4" fill="#fff59c" stroke="none" stroke-width="0" />
<line x1="243" y1="2005.2" x2="250.9" y2="1990.8" stroke="#231f20" stroke-width="2.2" />
<line x1="284" y1="2005.2" x2="291.9" y2="1990.8" stroke="#231f20" stroke-width="2.2" />
<line x1="325" y1="2005.2" x2="332.9" y2="1990.8" stroke="#231f20" stroke-width="2.2" />
<line x1="366" y1="2005.2" x2="373.9" y2="1990.8" stroke="#231f20" stroke-width="2.2" />
<rect x="383.5" y="1990.8" width="38" height="14.4" fill="#7b7b7b" stroke="none" stroke-width="0" />
<line x1="396.5" y1="1998" x2="408.5" y2="1998" stroke="#231f20" stroke-width="2.2" />
<line x1="383.5" y1="1990.8" x2="383.5" y2="2005.2" stroke="#231f20" stroke-width="2.2" />
<line x1="232.5" y1="2005.2" x2="421.5" y2="2005.2" stroke="#231f20" stroke-width="2.2" />
<rect x="232.5" y="2005.2" width="151" height="14.6" fill="#fff59c" stroke="none" stroke-width="0" />
<line x1="264.2" y1="2019.8" x2="272.2" y2="2005.2" stroke="#231f20" stroke-width="2.2" />
<line x1="305.2" y1="2019.8" x2="313.2" y2="2005.2" stroke="#231f20" stroke-width="2.2" />
<line x1="346.2" y1="2019.8" x2="354.2" y2="2005.2" stroke="#231f20" stroke-width="2.2" />
<rect x="383.5" y="2005.2" width="38" height="14.6" fill="#7b7b7b" stroke="none" stroke-width="0" />
<line x1="396.5" y1="2012.5" x2="408.5" y2="2012.5" stroke="#231f20" stroke-width="2.2" />
<line x1="383.5" y1="2005.2" x2="383.5" y2="2019.8" stroke="#231f20" stroke-width="2.2" />
<line x1="232.5" y1="2019.8" x2="421.5" y2="2019.8" stroke="#231f20" stroke-width="2.2" />
<rect x="232.5" y="2019.8" width="189" height="15.9" fill="#cdebce" stroke="none" stroke-width="0" />
<line x1="243" y1="2035.7" x2="251.7" y2="2019.8" stroke="#231f20" stroke-width="2.2" />
<line x1="284" y1="2035.7" x2="292.7" y2="2019.8" stroke="#231f20" stroke-width="2.2" />
<line x1="325" y1="2035.7" x2="333.7" y2="2019.8" stroke="#231f20" stroke-width="2.2" />
<line x1="366" y1="2035.7" x2="374.7" y2="2019.8" stroke="#231f20" stroke-width="2.2" />
<line x1="407" y1="2035.7" x2="415.7" y2="2019.8" stroke="#231f20" stroke-width="2.2" />
<line x1="232.5" y1="2035.7" x2="421.5" y2="2035.7" stroke="#231f20" stroke-width="2.2" />
<rect x="232.5" y="2035.7" width="151" height="21.7" fill="#cdebce" stroke="none" stroke-width="0" />
<line x1="232.5" y1="2040.5" x2="235.1" y2="2035.7" stroke="#231f20" stroke-width="2.2" />
<line x1="264.2" y1="2057.4" x2="276.1" y2="2035.7" stroke="#231f20" stroke-width="2.2" />
<line x1="305.2" y1="2057.4" x2="317.1" y2="2035.7" stroke="#231f20" stroke-width="2.2" />
<line x1="346.2" y1="2057.4" x2="358.1" y2="2035.7" stroke="#231f20" stroke-width="2.2" />
<rect x="383.5" y="2035.7" width="38" height="21.7" fill="#7b7b7b" stroke="none" stroke-width="0" />
<line x1="396.5" y1="2046.6" x2="408.5" y2="2046.6" stroke="#231f20" stroke-width="2.2" />
<line x1="383.5" y1="2035.7" x2="383.5" y2="2057.4" stroke="#231f20" stroke-width="2.2" />
<line x1="232.5" y1="2057.4" x2="421.5" y2="2057.4" stroke="#231f20" stroke-width="2.2" />
<rect x="232.5" y="2057.4" width="189" height="19.6" fill="#cdebce" stroke="none" stroke-width="0" />
<line x1="243" y1="2077" x2="253.8" y2="2057.4" stroke="#231f20" stroke-width="2.2" />
<line x1="284" y1="2077" x2="294.8" y2="2057.4" stroke="#231f20" stroke-width="2.2" />
<line x1="325" y1="2077" x2="335.8" y2="2057.4" stroke="#231f20" stroke-width="2.2" />
<line x1="366" y1="2077" x2="376.8" y2="2057.4" stroke="#231f20" stroke-width="2.2" />
<line x1="407" y1="2077" x2="417.8" y2="2057.4" stroke="#231f20" stroke-width="2.2" />
<line x1="232.5" y1="2077" x2="421.5" y2="2077" stroke="#231f20" stroke-width="2.2" />
<rect x="232.5" y="2077" width="151" height="20.5" fill="#c98ac9" stroke="none" stroke-width="0" />
<line x1="232.5" y1="2080.6" x2="234.5" y2="2077" stroke="#231f20" stroke-width="2.2" />
<line x1="264.2" y1="2097.5" x2="275.5" y2="2077" stroke="#231f20" stroke-width="2.2" />
<line x1="305.2" y1="2097.5" x2="316.5" y2="2077" stroke="#231f20" stroke-width="2.2" />
<line x1="346.2" y1="2097.5" x2="357.5" y2="2077" stroke="#231f20" stroke-width="2.2" />
<line x1="243.3" y1="2087.2" x2="255.3" y2="2087.2" stroke="#231f20" stroke-width="2.2" />
<line x1="284.3" y1="2087.2" x2="296.3" y2="2087.2" stroke="#231f20" stroke-width="2.2" />
<line x1="325.3" y1="2087.2" x2="337.3" y2="2087.2" stroke="#231f20" stroke-width="2.2" />
<line x1="366.3" y1="2087.2" x2="378.3" y2="2087.2" stroke="#231f20" stroke-width="2.2" />
<rect x="383.5" y="2077" width="38" height="20.5" fill="#7b7b7b" stroke="none" stroke-width="0" />
<line x1="396.5" y1="2087.2" x2="408.5" y2="2087.2" stroke="#231f20" stroke-width="2.2" />
<line x1="383.5" y1="2077" x2="383.5" y2="2097.5" stroke="#231f20" stroke-width="2.2" />
<line x1="232.5" y1="2097.5" x2="421.5" y2="2097.5" stroke="#231f20" stroke-width="2.2" />
<rect x="232.5" y="2097.5" width="151" height="21.5" fill="#fff59c" stroke="none" stroke-width="0" />
<line x1="243" y1="2119" x2="254.8" y2="2097.5" stroke="#231f20" stroke-width="2.2" />
<line x1="284" y1="2119" x2="295.8" y2="2097.5" stroke="#231f20" stroke-width="2.2" />
<line x1="325" y1="2119" x2="336.8" y2="2097.5" stroke="#231f20" stroke-width="2.2" />
<line x1="366" y1="2119" x2="377.8" y2="2097.5" stroke="#231f20" stroke-width="2.2" />
<rect x="383.5" y="2097.5" width="38" height="21.5" fill="#7b7b7b" stroke="none" stroke-width="0" />
<line x1="396.5" y1="2108.2" x2="408.5" y2="2108.2" stroke="#231f20" stroke-width="2.2" />
<line x1="383.5" y1="2097.5" x2="383.5" y2="2119" stroke="#231f20" stroke-width="2.2" />
<line x1="232.5" y1="2119" x2="421.5" y2="2119" stroke="#231f20" stroke-width="2.2" />
<rect x="232.5" y="2119" width="189" height="20.6" fill="#cdebce" stroke="none" stroke-width="0" />
<line x1="232.5" y1="2122.7" x2="234.5" y2="2119" stroke="#231f20" stroke-width="2.2" />
<line x1="264.2" y1="2139.6" x2="275.5" y2="2119" stroke="#231f20" stroke-width="2.2" />
<line x1="305.2" y1="2139.6" x2="316.5" y2="2119" stroke="#231f20" stroke-width="2.2" />
<line x1="346.2" y1="2139.6" x2="357.5" y2="2119" stroke="#231f20" stroke-width="2.2" />
<line x1="387.2" y1="2139.6" x2="398.5" y2="2119" stroke="#231f20" stroke-width="2.2" />
<line x1="232.5" y1="2139.6" x2="421.5" y2="2139.6" stroke="#231f20" stroke-width="2.2" />
<rect x="232.5" y="2139.6" width="189" height="19.7" fill="#cdebce" stroke="none" stroke-width="0" />
<line x1="243" y1="2159.3" x2="253.8" y2="2139.6" stroke="#231f20" stroke-width="2.2" />
<line x1="284" y1="2159.3" x2="294.8" y2="2139.6" stroke="#231f20" stroke-width="2.2" />
<line x1="325" y1="2159.3" x2="335.8" y2="2139.6" stroke="#231f20" stroke-width="2.2" />
<line x1="366" y1="2159.3" x2="376.8" y2="2139.6" stroke="#231f20" stroke-width="2.2" />
<line x1="407" y1="2159.3" x2="417.8" y2="2139.6" stroke="#231f20" stroke-width="2.2" />
<line x1="232.5" y1="2159.3" x2="421.5" y2="2159.3" stroke="#231f20" stroke-width="2.2" />
<rect x="232.5" y="2159.3" width="151" height="17.2" fill="#fff59c" stroke="none" stroke-width="0" />
<line x1="232.5" y1="2159.6" x2="232.7" y2="2159.3" stroke="#231f20" stroke-width="2.2" />
<line x1="264.2" y1="2176.5" x2="273.7" y2="2159.3" stroke="#231f20" stroke-width="2.2" />
<line x1="305.2" y1="2176.5" x2="314.7" y2="2159.3" stroke="#231f20" stroke-width="2.2" />
<line x1="346.2" y1="2176.5" x2="355.7" y2="2159.3" stroke="#231f20" stroke-width="2.2" />
<rect x="383.5" y="2159.3" width="38" height="17.2" fill="#7b7b7b" stroke="none" stroke-width="0" />
<line x1="396.5" y1="2167.9" x2="408.5" y2="2167.9" stroke="#231f20" stroke-width="2.2" />
<line x1="383.5" y1="2159.3" x2="383.5" y2="2176.5" stroke="#231f20" stroke-width="2.2" />
<line x1="232.5" y1="2176.5" x2="421.5" y2="2176.5" stroke="#231f20" stroke-width="2.2" />
<rect x="232.5" y="2176.5" width="151" height="16.2" fill="#cdebce" stroke="none" stroke-width="0" />
<line x1="243" y1="2192.7" x2="251.9" y2="2176.5" stroke="#231f20" stroke-width="2.2" />
<line x1="284" y1="2192.7" x2="292.9" y2="2176.5" stroke="#231f20" stroke-width="2.2" />
<line x1="325" y1="2192.7" x2="333.9" y2="2176.5" stroke="#231f20" stroke-width="2.2" />
<line x1="366" y1="2192.7" x2="374.9" y2="2176.5" stroke="#231f20" stroke-width="2.2" />
<rect x="383.5" y="2176.5" width="38" height="16.2" fill="#7b7b7b" stroke="none" stroke-width="0" />
<line x1="396.5" y1="2184.6" x2="408.5" y2="2184.6" stroke="#231f20" stroke-width="2.2" />
<line x1="383.5" y1="2176.5" x2="383.5" y2="2192.7" stroke="#231f20" stroke-width="2.2" />
<line x1="232.5" y1="2192.7" x2="421.5" y2="2192.7" stroke="#231f20" stroke-width="2.2" />
<rect x="232.5" y="2192.7" width="151" height="20.3" fill="#fff59c" stroke="none" stroke-width="0" />
<line x1="232.5" y1="2196.1" x2="234.4" y2="2192.7" stroke="#231f20" stroke-width="2.2" />
<line x1="264.2" y1="2213" x2="275.4" y2="2192.7" stroke="#231f20" stroke-width="2.2" />
<line x1="305.2" y1="2213" x2="316.4" y2="2192.7" stroke="#231f20" stroke-width="2.2" />
<line x1="346.2" y1="2213" x2="357.4" y2="2192.7" stroke="#231f20" stroke-width="2.2" />
<rect x="383.5" y="2192.7" width="38" height="20.3" fill="#7b7b7b" stroke="none" stroke-width="0" />
<line x1="396.5" y1="2202.8" x2="408.5" y2="2202.8" stroke="#231f20" stroke-width="2.2" />
<line x1="383.5" y1="2192.7" x2="383.5" y2="2213" stroke="#231f20" stroke-width="2.2" />
<line x1="232.5" y1="2213" x2="421.5" y2="2213" stroke="#231f20" stroke-width="2.2" />
<line x1="232.5" y1="379.6" x2="421.5" y2="379.6" stroke="#231f20" stroke-width="2.2" />
<rect x="232.5" y="152" width="189" height="34" fill="#7b7b7b" stroke="none" stroke-width="0" />
<line x1="243.2" y1="170.2" x2="259.6" y2="170.2" stroke="#231f20" stroke-width="3" />
<line x1="291.8" y1="170.2" x2="308.2" y2="170.2" stroke="#231f20" stroke-width="3" />
<line x1="340" y1="170.2" x2="356.4" y2="170.2" stroke="#231f20" stroke-width="3" />
<line x1="388.6" y1="170.2" x2="405" y2="170.2" stroke="#231f20" stroke-width="3" />
<line x1="232.5" y1="186.3" x2="421.5" y2="186.3" stroke="#231f20" stroke-width="2.2" />
<rect x="232.5" y="187" width="189" height="31.5" fill="#f9ca7e" stroke="none" stroke-width="0" />
<rect x="232.5" y="218.5" width="189" height="32" fill="#f9ca7e" stroke="none" stroke-width="0" />
<line x1="232.5" y1="218.3" x2="421.5" y2="218.3" stroke="#231f20" stroke-width="2.2" />
<circle cx="249.2" cy="202.4" r="2.5" fill="#231f20" stroke="none" stroke-width="0" />
<circle cx="257.8" cy="202.4" r="2.5" fill="#231f20" stroke="none" stroke-width="0" />
<circle cx="296.6" cy="202.4" r="2.5" fill="#231f20" stroke="none" stroke-width="0" />
<circle cx="305.1" cy="202.4" r="2.5" fill="#231f20" stroke="none" stroke-width="0" />
<circle cx="344.8" cy="202.4" r="2.5" fill="#231f20" stroke="none" stroke-width="0" />
<circle cx="353.2" cy="202.4" r="2.5" fill="#231f20" stroke="none" stroke-width="0" />
<circle cx="391.8" cy="202.4" r="2.5" fill="#231f20" stroke="none" stroke-width="0" />
<circle cx="400.2" cy="202.4" r="2.5" fill="#231f20" stroke="none" stroke-width="0" />
<circle cx="267.8" cy="235.3" r="2.5" fill="#231f20" stroke="none" stroke-width="0" />
<circle cx="276.2" cy="235.3" r="2.5" fill="#231f20" stroke="none" stroke-width="0" />
<circle cx="315.8" cy="235.3" r="2.5" fill="#231f20" stroke="none" stroke-width="0" />
<circle cx="324.2" cy="235.3" r="2.5" fill="#231f20" stroke="none" stroke-width="0" />
<circle cx="363.2" cy="235.3" r="2.5" fill="#231f20" stroke="none" stroke-width="0" />
<circle cx="371.8" cy="235.3" r="2.5" fill="#231f20" stroke="none" stroke-width="0" />
<line x1="232.5" y1="250.5" x2="421.5" y2="250.5" stroke="#231f20" stroke-width="2.2" />
<rect x="232.5" y="251" width="189" height="32" fill="#6c88ca" stroke="none" stroke-width="0" />
<text x="276" y="274.5" font-size="23" text-anchor="middle" fill="#231f20" font-weight="normal" >Si</text>
<text x="327" y="274.5" font-size="23" text-anchor="middle" fill="#231f20" font-weight="normal" >Si</text>
<text x="375.3" y="274.5" font-size="23" text-anchor="middle" fill="#231f20" font-weight="normal" >Si</text>
<line x1="232.5" y1="283.5" x2="421.5" y2="283.5" stroke="#231f20" stroke-width="2.6" />
<rect x="232.5" y="284.5" width="189" height="34.3" fill="#f9cabb" stroke="none" stroke-width="0" />
<line x1="260" y1="318.8" x2="272.3" y2="284.5" stroke="#231f20" stroke-width="2.2" />
<line x1="301.2" y1="318.8" x2="313.5" y2="284.5" stroke="#231f20" stroke-width="2.2" />
<line x1="342.4" y1="318.8" x2="354.7" y2="284.5" stroke="#231f20" stroke-width="2.2" />
<line x1="383.6" y1="318.8" x2="395.9" y2="284.5" stroke="#231f20" stroke-width="2.2" />
<path d="M240.8 307.3 L252.4 307.3 L246.6 296.1 Z" fill="none" stroke="#231f20" stroke-width="2" />
<path d="M279.9 307.3 L291.5 307.3 L285.7 296.1 Z" fill="none" stroke="#231f20" stroke-width="2" />
<path d="M322 307.3 L333.6 307.3 L327.8 296.1 Z" fill="none" stroke="#231f20" stroke-width="2" />
<path d="M362.6 307.3 L374.2 307.3 L368.4 296.1 Z" fill="none" stroke="#231f20" stroke-width="2" />
<path d="M404.7 307.3 L416.3 307.3 L410.5 296.1 Z" fill="none" stroke="#231f20" stroke-width="2" />
<line x1="232.5" y1="318.8" x2="421.5" y2="318.8" stroke="#231f20" stroke-width="2.2" />
<rect x="232.5" y="318.8" width="189" height="33" fill="#f9cabb" stroke="none" stroke-width="0" />
<line x1="232.5" y1="326.8" x2="235.4" y2="318.8" stroke="#231f20" stroke-width="2.2" />
<line x1="264.7" y1="351.8" x2="276.6" y2="318.8" stroke="#231f20" stroke-width="2.2" />
<line x1="305.9" y1="351.8" x2="317.8" y2="318.8" stroke="#231f20" stroke-width="2.2" />
<line x1="347.1" y1="351.8" x2="359" y2="318.8" stroke="#231f20" stroke-width="2.2" />
<line x1="388.3" y1="351.8" x2="400.2" y2="318.8" stroke="#231f20" stroke-width="2.2" />
<path d="M243.8 341 L255.4 341 L249.6 329.8 Z" fill="none" stroke="#231f20" stroke-width="2" />
<path d="M285.9 341 L297.5 341 L291.7 329.8 Z" fill="none" stroke="#231f20" stroke-width="2" />
<path d="M326.5 341 L338.1 341 L332.3 329.8 Z" fill="none" stroke="#231f20" stroke-width="2" />
<path d="M368.6 341 L380.2 341 L374.4 329.8 Z" fill="none" stroke="#231f20" stroke-width="2" />
<path d="M404.7 341 L416.3 341 L410.5 329.8 Z" fill="none" stroke="#231f20" stroke-width="2" />
<line x1="232.5" y1="351.8" x2="421.5" y2="351.8" stroke="#231f20" stroke-width="2.2" />
<rect x="232.5" y="351.8" width="189" height="27.8" fill="#f9cabb" stroke="none" stroke-width="0" />
<line x1="260" y1="379.6" x2="270" y2="351.8" stroke="#231f20" stroke-width="2.2" />
<line x1="301.2" y1="379.6" x2="311.2" y2="351.8" stroke="#231f20" stroke-width="2.2" />
<line x1="342.4" y1="379.6" x2="352.4" y2="351.8" stroke="#231f20" stroke-width="2.2" />
<line x1="383.6" y1="379.6" x2="393.6" y2="351.8" stroke="#231f20" stroke-width="2.2" />
<path d="M240.8 371.4 L252.4 371.4 L246.6 360.2 Z" fill="none" stroke="#231f20" stroke-width="2" />
<path d="M282.9 371.4 L294.5 371.4 L288.7 360.2 Z" fill="none" stroke="#231f20" stroke-width="2" />
<path d="M322 371.4 L333.6 371.4 L327.8 360.2 Z" fill="none" stroke="#231f20" stroke-width="2" />
<path d="M364.2 371.4 L375.8 371.4 L370 360.2 Z" fill="none" stroke="#231f20" stroke-width="2" />
<path d="M401.7 371.4 L413.3 371.4 L407.5 360.2 Z" fill="none" stroke="#231f20" stroke-width="2" />
<line x1="232.5" y1="379.6" x2="421.5" y2="379.6" stroke="#231f20" stroke-width="2.2" />
<rect x="232.5" y="2213" width="189" height="31" fill="#7b7b7b" stroke="none" stroke-width="0" />
<line x1="266.5" y1="2227.5" x2="281.5" y2="2227.5" stroke="#231f20" stroke-width="2.4" />
<line x1="314.8" y1="2227.5" x2="329.8" y2="2227.5" stroke="#231f20" stroke-width="2.4" />
<line x1="362.9" y1="2227.5" x2="377.9" y2="2227.5" stroke="#231f20" stroke-width="2.4" />
<line x1="232.5" y1="2244" x2="421.5" y2="2244" stroke="#231f20" stroke-width="2.2" />
<rect x="232.5" y="2244" width="189" height="33.7" fill="#7b7b7b" stroke="none" stroke-width="0" />
<line x1="278.5" y1="2259.8" x2="293.5" y2="2259.8" stroke="#231f20" stroke-width="2.4" />
<line x1="327.5" y1="2259.8" x2="342.5" y2="2259.8" stroke="#231f20" stroke-width="2.4" />
<line x1="376.1" y1="2259.8" x2="391.1" y2="2259.8" stroke="#231f20" stroke-width="2.4" />
<line x1="232.5" y1="2277.7" x2="421.5" y2="2277.7" stroke="#231f20" stroke-width="2.2" />
<rect x="232.5" y="2277.7" width="189" height="33.1" fill="#7b7b7b" stroke="none" stroke-width="0" />
<line x1="251" y1="2293.2" x2="266" y2="2293.2" stroke="#231f20" stroke-width="2.4" />
<line x1="299.4" y1="2293.2" x2="314.4" y2="2293.2" stroke="#231f20" stroke-width="2.4" />
<line x1="347.5" y1="2293.2" x2="362.5" y2="2293.2" stroke="#231f20" stroke-width="2.4" />
<line x1="395.8" y1="2293.2" x2="410.8" y2="2293.2" stroke="#231f20" stroke-width="2.4" />
<line x1="232.5" y1="2310.8" x2="421.5" y2="2310.8" stroke="#231f20" stroke-width="2.2" />
<rect x="232.5" y="2310.8" width="189" height="33.2" fill="#7b7b7b" stroke="none" stroke-width="0" />
<line x1="278.1" y1="2326.4" x2="293.1" y2="2326.4" stroke="#231f20" stroke-width="2.4" />
<line x1="326.5" y1="2326.4" x2="341.5" y2="2326.4" stroke="#231f20" stroke-width="2.4" />
<line x1="375" y1="2326.4" x2="390" y2="2326.4" stroke="#231f20" stroke-width="2.4" />
<line x1="232.5" y1="2344" x2="421.5" y2="2344" stroke="#231f20" stroke-width="2.2" />
<line x1="232.5" y1="2213" x2="421.5" y2="2213" stroke="#231f20" stroke-width="2.4" />
</g>
<g id="struct">
<path d="M422 152 L512.8 152 Q515.8 152 515.8 155 L515.8 183.3 Q515.8 186.3 512.8 186.3 L422 186.3 Z" fill="#7d7d7d" stroke="#231f20" stroke-width="2" stroke-linejoin="round"/>
<line x1="438.6" y1="158.3" x2="454.6" y2="158.3" stroke="#231f20" stroke-width="2.8" />
<line x1="438.6" y1="179" x2="454.6" y2="179" stroke="#231f20" stroke-width="2.8" />
<line x1="460.8" y1="166.8" x2="476.3" y2="166.8" stroke="#231f20" stroke-width="2.8" />
<line x1="481.9" y1="158.3" x2="497.9" y2="158.3" stroke="#231f20" stroke-width="2.8" />
<line x1="481.9" y1="179" x2="497.9" y2="179" stroke="#231f20" stroke-width="2.8" />
<path d="M422 187 L553 187 Q556.5 187.5 556.5 192 L555.5 215 L556.5 238 Q556 244 549 244 L532 244.5 Q526 245 523 248 L519 250.5 L422 250.5 Z" fill="#f9ca7e" stroke="#231f20" stroke-width="2" />
<circle cx="478.2" cy="205" r="2.3" fill="#231f20" stroke="none" stroke-width="0" />
<circle cx="485.8" cy="205" r="2.3" fill="#231f20" stroke="none" stroke-width="0" />
<circle cx="444.2" cy="228.6" r="2.3" fill="#231f20" stroke="none" stroke-width="0" />
<circle cx="451.8" cy="228.6" r="2.3" fill="#231f20" stroke="none" stroke-width="0" />
<circle cx="516.9" cy="228.6" r="2.3" fill="#231f20" stroke="none" stroke-width="0" />
<circle cx="524.4" cy="228.6" r="2.3" fill="#231f20" stroke="none" stroke-width="0" />
<path d="M422 251.5 L512 251.5 Q516 252 516 256 L515 268 L516 279 Q515.5 283 512 283 L422 283 Z" fill="#6c88ca" stroke="#231f20" stroke-width="1.4" />
<text x="482.5" y="275" font-size="23" text-anchor="middle" fill="#231f20" font-weight="normal" >Si</text>
<path d="M422 285 L618 285 Q622.5 285.5 622.5 290 L621 312 L623 330 L620.5 350 L622.5 365 L621.5 379.6 L422 379.6 Z" fill="#d1886a" stroke="#231f20" stroke-width="1.4" />
<path d="M444 292 Q452 285 462 288 Q467 296 464 310 Q460 320 452 319 Q443 312 444 292 Z" fill="#4b453d" stroke="#231f20" stroke-width="0.7" />
<path d="M489 303 Q494 297 506 298 Q512 302 508 308 Q500 312 491 309 Z" fill="#4b453d" stroke="#231f20" stroke-width="0.7" />
<path d="M534 301 Q540 295 566 294 Q598 295 603 299 Q602 305 580 307 Q548 309 536 306 Z" fill="#4b453d" stroke="#231f20" stroke-width="0.7" />
<path d="M547 322 Q550 317 559 318 Q564 321 562 327 Q556 333 550 330 Z" fill="#4b453d" stroke="#231f20" stroke-width="0.7" />
<path d="M463 334 Q470 329 496 328 Q519 329 520 334 Q514 341 492 341 Q468 342 463 334 Z" fill="#4b453d" stroke="#231f20" stroke-width="0.7" />
<path d="M520 347 Q527 339 552 339 Q562 345 560 360 Q552 372 532 373 Q519 366 520 347 Z" fill="#4b453d" stroke="#231f20" stroke-width="0.7" />
<path d="M582 358 Q590 349 612 350 Q622 356 619 367 Q610 374 592 373 Q581 368 582 358 Z" fill="#4b453d" stroke="#231f20" stroke-width="0.7" />
<path d="M452 365 Q458 357 471 359 Q475 368 471 375 Q463 380 455 377 Z" fill="#4b453d" stroke="#231f20" stroke-width="0.7" />
<path d="M422 379.6 L603 379.6 Q606 379.6 606 382.6 L606 390.5 Q606 393 609 393 L613.5 393 Q616.5 393 616.5 396 L616.5 439.8 Q616.5 442.8 613.5 442.8 L422 442.8 Z" fill="#cdebd0" stroke="#231f20" stroke-width="1.8" stroke-linejoin="round"/>
<path d="M499 379.6 L517 379.6 C515 384 513.5 387 514 390 C514.5 395 513 400 512.4 404 C511 399 509.5 395 507.5 392 C504 394 499 396 494 399 C487 404 476 408 467.6 409.6 C474 406 482 401 489 396.5 C480 398 468 399.5 455.2 399.2 C467 396 480 392 490 389 C495 387 499 384 499 379.6 Z" fill="#d1886a" stroke="#231f20" stroke-width="0.9" />
<path d="M560.5 379.6 L587 379.6 C585 384 585.5 389 588 392 C592 396 597 400 599 405 C601 408 602 412 600.6 415 C598 411 595 408 592 406.8 L590 404 C587 401 582 397 578 395.5 C574 398 569 400 563.4 402 C567 398 571 394 572.5 390 C573 386 568 383 560.5 379.6 Z" fill="#d1886a" stroke="#231f20" stroke-width="0.9" />
<ellipse cx="493" cy="389" rx="4.2" ry="2.6" fill="#231f20"/>
<ellipse cx="499.5" cy="394.8" rx="5" ry="2.6" fill="#231f20"/>
<path d="M563 382.5 C567 385 564.5 388 568 390 C571.5 392 569 394.5 572.5 395.5" fill="none" stroke="#231f20" stroke-width="2.6" />
<line x1="422" y1="379.6" x2="621.5" y2="379.6" stroke="#231f20" stroke-width="1.4" />
<ellipse cx="452.7" cy="415.7" rx="5.4" ry="4.7" fill="none" stroke="#231f20" stroke-width="1.1"/>
<ellipse cx="463.9" cy="415.7" rx="5.4" ry="4.7" fill="none" stroke="#231f20" stroke-width="1.1"/>
<ellipse cx="475.1" cy="415.7" rx="5.4" ry="4.7" fill="none" stroke="#231f20" stroke-width="1.1"/>
<ellipse cx="490.2" cy="429.8" rx="5.4" ry="4.7" fill="none" stroke="#231f20" stroke-width="1.1"/>
<ellipse cx="501.4" cy="429.8" rx="5.4" ry="4.7" fill="none" stroke="#231f20" stroke-width="1.1"/>
<ellipse cx="512.6" cy="429.8" rx="5.4" ry="4.7" fill="none" stroke="#231f20" stroke-width="1.1"/>
<path d="M0 0.5 C-0.4 -2.2 1.5 -4.2 4 -4.3 C5 -5.3 7.5 -5.4 9 -4 C10.5 -4.8 12.3 -4.3 13.2 -3 C15.5 -3.6 18 -3.4 19.5 -2.2 C21 -3 24 -2.6 24.6 -0.8 C25 1 23.4 2.2 21.5 1.8 C20 2.8 17.5 2.6 16.2 1.9 C14.5 3.8 12 4.5 10.2 3.6 C8.5 5 5.5 5.2 3.8 4.2 C1.6 4.6 -0.2 3 0 0.5 Z" fill="#231f20" stroke="#231f20" stroke-width="0.9" transform="translate(526 416.9) scale(1)"/>
<path d="M529 415.4 l5 -0.6 M532 418.1 l6 -0.4" stroke="#5a5a5a" stroke-width="0.6" fill="none"/>
<path d="M0 0.5 C-0.4 -2.2 1.5 -4.2 4 -4.3 C5 -5.3 7.5 -5.4 9 -4 C10.5 -4.8 12.3 -4.3 13.2 -3 C15.5 -3.6 18 -3.4 19.5 -2.2 C21 -3 24 -2.6 24.6 -0.8 C25 1 23.4 2.2 21.5 1.8 C20 2.8 17.5 2.6 16.2 1.9 C14.5 3.8 12 4.5 10.2 3.6 C8.5 5 5.5 5.2 3.8 4.2 C1.6 4.6 -0.2 3 0 0.5 Z" fill="#231f20" stroke="#231f20" stroke-width="0.9" transform="translate(566.7 429.8) scale(1)"/>
<path d="M569.7 428.3 l5 -0.6 M572.7 431 l6 -0.4" stroke="#5a5a5a" stroke-width="0.6" fill="none"/>
<path d="M422 442.8 L626.8 442.8 Q629.8 442.8 629.8 445.8 L629.8 500 Q629.8 503 626.8 503.6 L616.5 505.6 Q613.5 506.2 613.5 509.5 L613.5 518 Q613.5 521 610.5 521 L422 521 Z" fill="#cdebd0" stroke="#231f20" stroke-width="1.8" stroke-linejoin="round"/>
<ellipse cx="496.2" cy="449.4" rx="5.4" ry="4.7" fill="none" stroke="#231f20" stroke-width="1.1"/>
<ellipse cx="507.4" cy="449.4" rx="5.4" ry="4.7" fill="none" stroke="#231f20" stroke-width="1.1"/>
<ellipse cx="518.6" cy="449.4" rx="5.4" ry="4.7" fill="none" stroke="#231f20" stroke-width="1.1"/>
<ellipse cx="574.5" cy="448.8" rx="5.4" ry="4.7" fill="none" stroke="#231f20" stroke-width="1.1"/>
<ellipse cx="585.7" cy="448.8" rx="5.4" ry="4.7" fill="none" stroke="#231f20" stroke-width="1.1"/>
<ellipse cx="596.9" cy="448.8" rx="5.4" ry="4.7" fill="none" stroke="#231f20" stroke-width="1.1"/>
<ellipse cx="463.2" cy="464.4" rx="5.4" ry="4.7" fill="none" stroke="#231f20" stroke-width="1.1"/>
<ellipse cx="474.4" cy="464.4" rx="5.4" ry="4.7" fill="none" stroke="#231f20" stroke-width="1.1"/>
<ellipse cx="485.6" cy="464.4" rx="5.4" ry="4.7" fill="none" stroke="#231f20" stroke-width="1.1"/>
<ellipse cx="536.9" cy="464.4" rx="5.4" ry="4.7" fill="none" stroke="#231f20" stroke-width="1.1"/>
<ellipse cx="548.1" cy="464.4" rx="5.4" ry="4.7" fill="none" stroke="#231f20" stroke-width="1.1"/>
<ellipse cx="559.3" cy="464.4" rx="5.4" ry="4.7" fill="none" stroke="#231f20" stroke-width="1.1"/>
<ellipse cx="496.2" cy="478.9" rx="5.4" ry="4.7" fill="none" stroke="#231f20" stroke-width="1.1"/>
<ellipse cx="507.4" cy="478.9" rx="5.4" ry="4.7" fill="none" stroke="#231f20" stroke-width="1.1"/>
<ellipse cx="518.6" cy="478.9" rx="5.4" ry="4.7" fill="none" stroke="#231f20" stroke-width="1.1"/>
<ellipse cx="574.5" cy="478.9" rx="5.4" ry="4.7" fill="none" stroke="#231f20" stroke-width="1.1"/>
<ellipse cx="585.7" cy="478.9" rx="5.4" ry="4.7" fill="none" stroke="#231f20" stroke-width="1.1"/>
<ellipse cx="596.9" cy="478.9" rx="5.4" ry="4.7" fill="none" stroke="#231f20" stroke-width="1.1"/>
<ellipse cx="457.2" cy="494" rx="5.4" ry="4.7" fill="none" stroke="#231f20" stroke-width="1.1"/>
<ellipse cx="468.4" cy="494" rx="5.4" ry="4.7" fill="none" stroke="#231f20" stroke-width="1.1"/>
<ellipse cx="479.6" cy="494" rx="5.4" ry="4.7" fill="none" stroke="#231f20" stroke-width="1.1"/>
<ellipse cx="494.8" cy="508.3" rx="5.4" ry="4.7" fill="none" stroke="#231f20" stroke-width="1.1"/>
<ellipse cx="506" cy="508.3" rx="5.4" ry="4.7" fill="none" stroke="#231f20" stroke-width="1.1"/>
<ellipse cx="517.2" cy="508.3" rx="5.4" ry="4.7" fill="none" stroke="#231f20" stroke-width="1.1"/>
<path d="M0 0.5 C-0.4 -2.2 1.5 -4.2 4 -4.3 C5 -5.3 7.5 -5.4 9 -4 C10.5 -4.8 12.3 -4.3 13.2 -3 C15.5 -3.6 18 -3.4 19.5 -2.2 C21 -3 24 -2.6 24.6 -0.8 C25 1 23.4 2.2 21.5 1.8 C20 2.8 17.5 2.6 16.2 1.9 C14.5 3.8 12 4.5 10.2 3.6 C8.5 5 5.5 5.2 3.8 4.2 C1.6 4.6 -0.2 3 0 0.5 Z" fill="#231f20" stroke="#231f20" stroke-width="0.9" transform="translate(530.6 495.2) scale(1)"/>
<path d="M533.6 493.7 l5 -0.6 M536.6 496.4 l6 -0.4" stroke="#5a5a5a" stroke-width="0.6" fill="none"/>
<path d="M0 0.5 C-0.4 -2.2 1.5 -4.2 4 -4.3 C5 -5.3 7.5 -5.4 9 -4 C10.5 -4.8 12.3 -4.3 13.2 -3 C15.5 -3.6 18 -3.4 19.5 -2.2 C21 -3 24 -2.6 24.6 -0.8 C25 1 23.4 2.2 21.5 1.8 C20 2.8 17.5 2.6 16.2 1.9 C14.5 3.8 12 4.5 10.2 3.6 C8.5 5 5.5 5.2 3.8 4.2 C1.6 4.6 -0.2 3 0 0.5 Z" fill="#231f20" stroke="#231f20" stroke-width="0.9" transform="translate(571.2 507.2) scale(1)"/>
<path d="M574.2 505.7 l5 -0.6 M577.2 508.4 l6 -0.4" stroke="#5a5a5a" stroke-width="0.6" fill="none"/>
<path d="M422 521 L627 521 Q630 521 630 524 L630 560 Q630 563 627 563.6 L609.7 565.6 Q606.7 566.2 606.7 569.5 L606.7 602.6 Q606.7 605.6 603.7 605.6 L422 605.6 Z" fill="url(#g1)" stroke="#231f20" stroke-width="1.8" stroke-linejoin="round"/>
<circle cx="496" cy="538" r="2.5" fill="#231f20" stroke="none" stroke-width="0" />
<path d="M478.5 548.3 L479.6 548.1 L480.7 547.7 L481.8 546.9 L482.9 546.1 L484 545.3 L485.1 544.5 L486.2 544.1 L487.2 543.9 L488.3 544.1 L489.4 544.5 L490.5 545.3 L491.6 546.1 L492.7 546.9 L493.8 547.7 L494.9 548.1 L496 548.3 L497.1 548.1 L498.2 547.7 L499.3 546.9 L500.4 546.1 L501.5 545.3 L502.6 544.5 L503.7 544.1 L504.8 543.9 L505.8 544.1 L506.9 544.5 L508 545.3 L509.1 546.1 L510.2 546.9 L511.3 547.7 L512.4 548.1 L513.5 548.3" fill="none" stroke="#231f20" stroke-width="1.3" stroke-linecap="round" stroke-linejoin="round"/>
<circle cx="579" cy="538" r="2.5" fill="#231f20" stroke="none" stroke-width="0" />
<path d="M561.5 548.3 L562.6 548.1 L563.7 547.7 L564.8 546.9 L565.9 546.1 L567 545.3 L568.1 544.5 L569.2 544.1 L570.2 543.9 L571.3 544.1 L572.4 544.5 L573.5 545.3 L574.6 546.1 L575.7 546.9 L576.8 547.7 L577.9 548.1 L579 548.3 L580.1 548.1 L581.2 547.7 L582.3 546.9 L583.4 546.1 L584.5 545.3 L585.6 544.5 L586.7 544.1 L587.8 543.9 L588.8 544.1 L589.9 544.5 L591 545.3 L592.1 546.1 L593.2 546.9 L594.3 547.7 L595.4 548.1 L596.5 548.3" fill="none" stroke="#231f20" stroke-width="1.3" stroke-linecap="round" stroke-linejoin="round"/>
<circle cx="456.3" cy="553.5" r="2.5" fill="#231f20" stroke="none" stroke-width="0" />
<path d="M438.8 563.8 L439.9 563.6 L441 563.2 L442.1 562.4 L443.2 561.6 L444.3 560.8 L445.4 560 L446.5 559.6 L447.6 559.4 L448.6 559.6 L449.7 560 L450.8 560.8 L451.9 561.6 L453 562.4 L454.1 563.2 L455.2 563.6 L456.3 563.8 L457.4 563.6 L458.5 563.2 L459.6 562.4 L460.7 561.6 L461.8 560.8 L462.9 560 L464 559.6 L465.1 559.4 L466.1 559.6 L467.2 560 L468.3 560.8 L469.4 561.6 L470.5 562.4 L471.6 563.2 L472.7 563.6 L473.8 563.8" fill="none" stroke="#231f20" stroke-width="1.3" stroke-linecap="round" stroke-linejoin="round"/>
<circle cx="539.5" cy="552.5" r="2.5" fill="#231f20" stroke="none" stroke-width="0" />
<path d="M522 562.8 L523.1 562.6 L524.2 562.2 L525.3 561.4 L526.4 560.6 L527.5 559.8 L528.6 559 L529.7 558.6 L530.8 558.4 L531.8 558.6 L532.9 559 L534 559.8 L535.1 560.6 L536.2 561.4 L537.3 562.2 L538.4 562.6 L539.5 562.8 L540.6 562.6 L541.7 562.2 L542.8 561.4 L543.9 560.6 L545 559.8 L546.1 559 L547.2 558.6 L548.2 558.4 L549.3 558.6 L550.4 559 L551.5 559.8 L552.6 560.6 L553.7 561.4 L554.8 562.2 L555.9 562.6 L557 562.8" fill="none" stroke="#231f20" stroke-width="1.3" stroke-linecap="round" stroke-linejoin="round"/>
<path d="M0 0.5 C-0.4 -2.2 1.5 -4.2 4 -4.3 C5 -5.3 7.5 -5.4 9 -4 C10.5 -4.8 12.3 -4.3 13.2 -3 C15.5 -3.6 18 -3.4 19.5 -2.2 C21 -3 24 -2.6 24.6 -0.8 C25 1 23.4 2.2 21.5 1.8 C20 2.8 17.5 2.6 16.2 1.9 C14.5 3.8 12 4.5 10.2 3.6 C8.5 5 5.5 5.2 3.8 4.2 C1.6 4.6 -0.2 3 0 0.5 Z" fill="#231f20" stroke="#231f20" stroke-width="0.9" transform="translate(482.1 578.7) scale(1)"/>
<path d="M485.1 577.2 l5 -0.6 M488.1 579.9 l6 -0.4" stroke="#5a5a5a" stroke-width="0.6" fill="none"/>
<path d="M0 0.5 C-0.4 -2.2 1.5 -4.2 4 -4.3 C5 -5.3 7.5 -5.4 9 -4 C10.5 -4.8 12.3 -4.3 13.2 -3 C15.5 -3.6 18 -3.4 19.5 -2.2 C21 -3 24 -2.6 24.6 -0.8 C25 1 23.4 2.2 21.5 1.8 C20 2.8 17.5 2.6 16.2 1.9 C14.5 3.8 12 4.5 10.2 3.6 C8.5 5 5.5 5.2 3.8 4.2 C1.6 4.6 -0.2 3 0 0.5 Z" fill="#231f20" stroke="#231f20" stroke-width="0.9" transform="translate(563.2 577.2) scale(1)"/>
<path d="M566.2 575.7 l5 -0.6 M569.2 578.4 l6 -0.4" stroke="#5a5a5a" stroke-width="0.6" fill="none"/>
<path d="M0 0.5 C-0.4 -2.2 1.5 -4.2 4 -4.3 C5 -5.3 7.5 -5.4 9 -4 C10.5 -4.8 12.3 -4.3 13.2 -3 C15.5 -3.6 18 -3.4 19.5 -2.2 C21 -3 24 -2.6 24.6 -0.8 C25 1 23.4 2.2 21.5 1.8 C20 2.8 17.5 2.6 16.2 1.9 C14.5 3.8 12 4.5 10.2 3.6 C8.5 5 5.5 5.2 3.8 4.2 C1.6 4.6 -0.2 3 0 0.5 Z" fill="#231f20" stroke="#231f20" stroke-width="0.9" transform="translate(445.4 596.8) scale(1)"/>
<path d="M448.4 595.3 l5 -0.6 M451.4 598 l6 -0.4" stroke="#5a5a5a" stroke-width="0.6" fill="none"/>
<path d="M0 0.5 C-0.4 -2.2 1.5 -4.2 4 -4.3 C5 -5.3 7.5 -5.4 9 -4 C10.5 -4.8 12.3 -4.3 13.2 -3 C15.5 -3.6 18 -3.4 19.5 -2.2 C21 -3 24 -2.6 24.6 -0.8 C25 1 23.4 2.2 21.5 1.8 C20 2.8 17.5 2.6 16.2 1.9 C14.5 3.8 12 4.5 10.2 3.6 C8.5 5 5.5 5.2 3.8 4.2 C1.6 4.6 -0.2 3 0 0.5 Z" fill="#231f20" stroke="#231f20" stroke-width="0.9" transform="translate(528 597.2) scale(1)"/>
<path d="M531 595.7 l5 -0.6 M534 598.4 l6 -0.4" stroke="#5a5a5a" stroke-width="0.6" fill="none"/>
<path d="M422 605.6 L614.5 605.6 Q617.5 605.6 617.5 608.6 L617.5 678 Q617.5 681 614.5 681.6 L605.4 683.6 Q602.4 684.2 602.4 687.5 L602.4 695.5 Q602.4 698.5 599.4 698.5 L422 698.5 Z" fill="#cdebd0" stroke="#231f20" stroke-width="1.8" stroke-linejoin="round"/>
<ellipse cx="489.4" cy="621.7" rx="5.4" ry="4.7" fill="none" stroke="#231f20" stroke-width="1.1"/>
<ellipse cx="500.6" cy="621.7" rx="5.4" ry="4.7" fill="none" stroke="#231f20" stroke-width="1.1"/>
<ellipse cx="511.8" cy="621.7" rx="5.4" ry="4.7" fill="none" stroke="#231f20" stroke-width="1.1"/>
<ellipse cx="450.1" cy="638" rx="5.4" ry="4.7" fill="none" stroke="#231f20" stroke-width="1.1"/>
<ellipse cx="461.2" cy="638" rx="5.4" ry="4.7" fill="none" stroke="#231f20" stroke-width="1.1"/>
<ellipse cx="472.4" cy="638" rx="5.4" ry="4.7" fill="none" stroke="#231f20" stroke-width="1.1"/>
<ellipse cx="492.2" cy="656.6" rx="5.4" ry="4.7" fill="none" stroke="#231f20" stroke-width="1.1"/>
<ellipse cx="503.4" cy="656.6" rx="5.4" ry="4.7" fill="none" stroke="#231f20" stroke-width="1.1"/>
<ellipse cx="514.6" cy="656.6" rx="5.4" ry="4.7" fill="none" stroke="#231f20" stroke-width="1.1"/>
<ellipse cx="452.7" cy="672.4" rx="5.4" ry="4.7" fill="none" stroke="#231f20" stroke-width="1.1"/>
<ellipse cx="463.9" cy="672.4" rx="5.4" ry="4.7" fill="none" stroke="#231f20" stroke-width="1.1"/>
<ellipse cx="475.1" cy="672.4" rx="5.4" ry="4.7" fill="none" stroke="#231f20" stroke-width="1.1"/>
<path d="M0 0.5 C-0.4 -2.2 1.5 -4.2 4 -4.3 C5 -5.3 7.5 -5.4 9 -4 C10.5 -4.8 12.3 -4.3 13.2 -3 C15.5 -3.6 18 -3.4 19.5 -2.2 C21 -3 24 -2.6 24.6 -0.8 C25 1 23.4 2.2 21.5 1.8 C20 2.8 17.5 2.6 16.2 1.9 C14.5 3.8 12 4.5 10.2 3.6 C8.5 5 5.5 5.2 3.8 4.2 C1.6 4.6 -0.2 3 0 0.5 Z" fill="#231f20" stroke="#231f20" stroke-width="0.9" transform="translate(558.5 622.6) scale(1)"/>
<path d="M561.5 621.1 l5 -0.6 M564.5 623.8 l6 -0.4" stroke="#5a5a5a" stroke-width="0.6" fill="none"/>
<path d="M0 0.5 C-0.4 -2.2 1.5 -4.2 4 -4.3 C5 -5.3 7.5 -5.4 9 -4 C10.5 -4.8 12.3 -4.3 13.2 -3 C15.5 -3.6 18 -3.4 19.5 -2.2 C21 -3 24 -2.6 24.6 -0.8 C25 1 23.4 2.2 21.5 1.8 C20 2.8 17.5 2.6 16.2 1.9 C14.5 3.8 12 4.5 10.2 3.6 C8.5 5 5.5 5.2 3.8 4.2 C1.6 4.6 -0.2 3 0 0.5 Z" fill="#231f20" stroke="#231f20" stroke-width="0.9" transform="translate(519.4 638.7) scale(1)"/>
<path d="M522.4 637.2 l5 -0.6 M525.4 639.9 l6 -0.4" stroke="#5a5a5a" stroke-width="0.6" fill="none"/>
<path d="M0 0.5 C-0.4 -2.2 1.5 -4.2 4 -4.3 C5 -5.3 7.5 -5.4 9 -4 C10.5 -4.8 12.3 -4.3 13.2 -3 C15.5 -3.6 18 -3.4 19.5 -2.2 C21 -3 24 -2.6 24.6 -0.8 C25 1 23.4 2.2 21.5 1.8 C20 2.8 17.5 2.6 16.2 1.9 C14.5 3.8 12 4.5 10.2 3.6 C8.5 5 5.5 5.2 3.8 4.2 C1.6 4.6 -0.2 3 0 0.5 Z" fill="#231f20" stroke="#231f20" stroke-width="0.9" transform="translate(561.5 656.5) scale(1)"/>
<path d="M564.5 655 l5 -0.6 M567.5 657.7 l6 -0.4" stroke="#5a5a5a" stroke-width="0.6" fill="none"/>
<path d="M0 0.5 C-0.4 -2.2 1.5 -4.2 4 -4.3 C5 -5.3 7.5 -5.4 9 -4 C10.5 -4.8 12.3 -4.3 13.2 -3 C15.5 -3.6 18 -3.4 19.5 -2.2 C21 -3 24 -2.6 24.6 -0.8 C25 1 23.4 2.2 21.5 1.8 C20 2.8 17.5 2.6 16.2 1.9 C14.5 3.8 12 4.5 10.2 3.6 C8.5 5 5.5 5.2 3.8 4.2 C1.6 4.6 -0.2 3 0 0.5 Z" fill="#231f20" stroke="#231f20" stroke-width="0.9" transform="translate(521.9 672.2) scale(1)"/>
<path d="M524.9 670.7 l5 -0.6 M527.9 673.4 l6 -0.4" stroke="#5a5a5a" stroke-width="0.6" fill="none"/>
<path d="M0 0.5 C-0.4 -2.2 1.5 -4.2 4 -4.3 C5 -5.3 7.5 -5.4 9 -4 C10.5 -4.8 12.3 -4.3 13.2 -3 C15.5 -3.6 18 -3.4 19.5 -2.2 C21 -3 24 -2.6 24.6 -0.8 C25 1 23.4 2.2 21.5 1.8 C20 2.8 17.5 2.6 16.2 1.9 C14.5 3.8 12 4.5 10.2 3.6 C8.5 5 5.5 5.2 3.8 4.2 C1.6 4.6 -0.2 3 0 0.5 Z" fill="#231f20" stroke="#231f20" stroke-width="0.9" transform="translate(486.2 687.4) scale(1)"/>
<path d="M489.2 685.9 l5 -0.6 M492.2 688.6 l6 -0.4" stroke="#5a5a5a" stroke-width="0.6" fill="none"/>
<path d="M0 0.5 C-0.4 -2.2 1.5 -4.2 4 -4.3 C5 -5.3 7.5 -5.4 9 -4 C10.5 -4.8 12.3 -4.3 13.2 -3 C15.5 -3.6 18 -3.4 19.5 -2.2 C21 -3 24 -2.6 24.6 -0.8 C25 1 23.4 2.2 21.5 1.8 C20 2.8 17.5 2.6 16.2 1.9 C14.5 3.8 12 4.5 10.2 3.6 C8.5 5 5.5 5.2 3.8 4.2 C1.6 4.6 -0.2 3 0 0.5 Z" fill="#231f20" stroke="#231f20" stroke-width="0.9" transform="translate(568.6 688) scale(1)"/>
<path d="M571.6 686.5 l5 -0.6 M574.6 689.2 l6 -0.4" stroke="#5a5a5a" stroke-width="0.6" fill="none"/>
<path d="M422 698.5 L627.7 698.5 Q630.7 698.5 630.7 701.5 L630.7 724 Q630.7 727 627.7 727.6 L617 729.6 Q614 730.2 614 733.5 L614 753 Q614 756 611 756 L422 756 Z" fill="#cdebd0" stroke="#231f20" stroke-width="1.8" stroke-linejoin="round"/>
<ellipse cx="460.4" cy="706.7" rx="5.4" ry="4.7" fill="none" stroke="#231f20" stroke-width="1.1"/>
<ellipse cx="471.6" cy="706.7" rx="5.4" ry="4.7" fill="none" stroke="#231f20" stroke-width="1.1"/>
<ellipse cx="482.8" cy="706.7" rx="5.4" ry="4.7" fill="none" stroke="#231f20" stroke-width="1.1"/>
<ellipse cx="534.4" cy="706.7" rx="5.4" ry="4.7" fill="none" stroke="#231f20" stroke-width="1.1"/>
<ellipse cx="545.6" cy="706.7" rx="5.4" ry="4.7" fill="none" stroke="#231f20" stroke-width="1.1"/>
<ellipse cx="556.8" cy="706.7" rx="5.4" ry="4.7" fill="none" stroke="#231f20" stroke-width="1.1"/>
<ellipse cx="494.1" cy="721.7" rx="5.4" ry="4.7" fill="none" stroke="#231f20" stroke-width="1.1"/>
<ellipse cx="505.3" cy="721.7" rx="5.4" ry="4.7" fill="none" stroke="#231f20" stroke-width="1.1"/>
<ellipse cx="516.5" cy="721.7" rx="5.4" ry="4.7" fill="none" stroke="#231f20" stroke-width="1.1"/>
<ellipse cx="571.6" cy="721" rx="5.4" ry="4.7" fill="none" stroke="#231f20" stroke-width="1.1"/>
<ellipse cx="582.8" cy="721" rx="5.4" ry="4.7" fill="none" stroke="#231f20" stroke-width="1.1"/>
<ellipse cx="594" cy="721" rx="5.4" ry="4.7" fill="none" stroke="#231f20" stroke-width="1.1"/>
<ellipse cx="454.3" cy="733.9" rx="5.4" ry="4.7" fill="none" stroke="#231f20" stroke-width="1.1"/>
<ellipse cx="465.5" cy="733.9" rx="5.4" ry="4.7" fill="none" stroke="#231f20" stroke-width="1.1"/>
<ellipse cx="476.7" cy="733.9" rx="5.4" ry="4.7" fill="none" stroke="#231f20" stroke-width="1.1"/>
<path d="M0 0.5 C-0.4 -2.2 1.5 -4.2 4 -4.3 C5 -5.3 7.5 -5.4 9 -4 C10.5 -4.8 12.3 -4.3 13.2 -3 C15.5 -3.6 18 -3.4 19.5 -2.2 C21 -3 24 -2.6 24.6 -0.8 C25 1 23.4 2.2 21.5 1.8 C20 2.8 17.5 2.6 16.2 1.9 C14.5 3.8 12 4.5 10.2 3.6 C8.5 5 5.5 5.2 3.8 4.2 C1.6 4.6 -0.2 3 0 0.5 Z" fill="#231f20" stroke="#231f20" stroke-width="0.9" transform="translate(528 735.1) scale(1)"/>
<path d="M531 733.6 l5 -0.6 M534 736.3 l6 -0.4" stroke="#5a5a5a" stroke-width="0.6" fill="none"/>
<ellipse cx="491.8" cy="748" rx="5.4" ry="4.7" fill="none" stroke="#231f20" stroke-width="1.1"/>
<ellipse cx="503" cy="748" rx="5.4" ry="4.7" fill="none" stroke="#231f20" stroke-width="1.1"/>
<ellipse cx="514.2" cy="748" rx="5.4" ry="4.7" fill="none" stroke="#231f20" stroke-width="1.1"/>
<path d="M0 0.5 C-0.4 -2.2 1.5 -4.2 4 -4.3 C5 -5.3 7.5 -5.4 9 -4 C10.5 -4.8 12.3 -4.3 13.2 -3 C15.5 -3.6 18 -3.4 19.5 -2.2 C21 -3 24 -2.6 24.6 -0.8 C25 1 23.4 2.2 21.5 1.8 C20 2.8 17.5 2.6 16.2 1.9 C14.5 3.8 12 4.5 10.2 3.6 C8.5 5 5.5 5.2 3.8 4.2 C1.6 4.6 -0.2 3 0 0.5 Z" fill="#231f20" stroke="#231f20" stroke-width="0.9" transform="translate(568 748) scale(1)"/>
<path d="M571 746.5 l5 -0.6 M574 749.2 l6 -0.4" stroke="#5a5a5a" stroke-width="0.6" fill="none"/>
<path d="M422 756 L614 756 Q617 756 617 759 L617 798 Q617 801 614 801.6 L604.5 803.6 Q601.5 804.2 601.5 807.5 L601.5 824 Q601.5 827 598.5 827 L422 827 Z" fill="#cdebd0" stroke="#231f20" stroke-width="1.8" stroke-linejoin="round"/>
<ellipse cx="494.1" cy="766" rx="5.4" ry="4.7" fill="none" stroke="#231f20" stroke-width="1.1"/>
<ellipse cx="505.3" cy="766" rx="5.4" ry="4.7" fill="none" stroke="#231f20" stroke-width="1.1"/>
<ellipse cx="516.5" cy="766" rx="5.4" ry="4.7" fill="none" stroke="#231f20" stroke-width="1.1"/>
<path d="M0 0.5 C-0.4 -2.2 1.5 -4.2 4 -4.3 C5 -5.3 7.5 -5.4 9 -4 C10.5 -4.8 12.3 -4.3 13.2 -3 C15.5 -3.6 18 -3.4 19.5 -2.2 C21 -3 24 -2.6 24.6 -0.8 C25 1 23.4 2.2 21.5 1.8 C20 2.8 17.5 2.6 16.2 1.9 C14.5 3.8 12 4.5 10.2 3.6 C8.5 5 5.5 5.2 3.8 4.2 C1.6 4.6 -0.2 3 0 0.5 Z" fill="#231f20" stroke="#231f20" stroke-width="0.9" transform="translate(563.4 766.1) scale(1)"/>
<path d="M566.4 764.6 l5 -0.6 M569.4 767.3 l6 -0.4" stroke="#5a5a5a" stroke-width="0.6" fill="none"/>
<ellipse cx="454.9" cy="782.4" rx="5.4" ry="4.7" fill="none" stroke="#231f20" stroke-width="1.1"/>
<ellipse cx="466.1" cy="782.4" rx="5.4" ry="4.7" fill="none" stroke="#231f20" stroke-width="1.1"/>
<ellipse cx="477.3" cy="782.4" rx="5.4" ry="4.7" fill="none" stroke="#231f20" stroke-width="1.1"/>
<path d="M0 0.5 C-0.4 -2.2 1.5 -4.2 4 -4.3 C5 -5.3 7.5 -5.4 9 -4 C10.5 -4.8 12.3 -4.3 13.2 -3 C15.5 -3.6 18 -3.4 19.5 -2.2 C21 -3 24 -2.6 24.6 -0.8 C25 1 23.4 2.2 21.5 1.8 C20 2.8 17.5 2.6 16.2 1.9 C14.5 3.8 12 4.5 10.2 3.6 C8.5 5 5.5 5.2 3.8 4.2 C1.6 4.6 -0.2 3 0 0.5 Z" fill="#231f20" stroke="#231f20" stroke-width="0.9" transform="translate(524.4 782.2) scale(1)"/>
<path d="M527.4 780.7 l5 -0.6 M530.4 783.4 l6 -0.4" stroke="#5a5a5a" stroke-width="0.6" fill="none"/>
<ellipse cx="491.8" cy="797" rx="5.4" ry="4.7" fill="none" stroke="#231f20" stroke-width="1.1"/>
<ellipse cx="503" cy="797" rx="5.4" ry="4.7" fill="none" stroke="#231f20" stroke-width="1.1"/>
<ellipse cx="514.2" cy="797" rx="5.4" ry="4.7" fill="none" stroke="#231f20" stroke-width="1.1"/>
<path d="M0 0.5 C-0.4 -2.2 1.5 -4.2 4 -4.3 C5 -5.3 7.5 -5.4 9 -4 C10.5 -4.8 12.3 -4.3 13.2 -3 C15.5 -3.6 18 -3.4 19.5 -2.2 C21 -3 24 -2.6 24.6 -0.8 C25 1 23.4 2.2 21.5 1.8 C20 2.8 17.5 2.6 16.2 1.9 C14.5 3.8 12 4.5 10.2 3.6 C8.5 5 5.5 5.2 3.8 4.2 C1.6 4.6 -0.2 3 0 0.5 Z" fill="#231f20" stroke="#231f20" stroke-width="0.9" transform="translate(561.6 795.8) scale(1)"/>
<path d="M564.6 794.3 l5 -0.6 M567.6 797 l6 -0.4" stroke="#5a5a5a" stroke-width="0.6" fill="none"/>
<path d="M0 0.5 C-0.4 -2.2 1.5 -4.2 4 -4.3 C5 -5.3 7.5 -5.4 9 -4 C10.5 -4.8 12.3 -4.3 13.2 -3 C15.5 -3.6 18 -3.4 19.5 -2.2 C21 -3 24 -2.6 24.6 -0.8 C25 1 23.4 2.2 21.5 1.8 C20 2.8 17.5 2.6 16.2 1.9 C14.5 3.8 12 4.5 10.2 3.6 C8.5 5 5.5 5.2 3.8 4.2 C1.6 4.6 -0.2 3 0 0.5 Z" fill="#231f20" stroke="#231f20" stroke-width="0.9" transform="translate(455.7 815.2) scale(1)"/>
<path d="M458.7 813.7 l5 -0.6 M461.7 816.4 l6 -0.4" stroke="#5a5a5a" stroke-width="0.6" fill="none"/>
<path d="M0 0.5 C-0.4 -2.2 1.5 -4.2 4 -4.3 C5 -5.3 7.5 -5.4 9 -4 C10.5 -4.8 12.3 -4.3 13.2 -3 C15.5 -3.6 18 -3.4 19.5 -2.2 C21 -3 24 -2.6 24.6 -0.8 C25 1 23.4 2.2 21.5 1.8 C20 2.8 17.5 2.6 16.2 1.9 C14.5 3.8 12 4.5 10.2 3.6 C8.5 5 5.5 5.2 3.8 4.2 C1.6 4.6 -0.2 3 0 0.5 Z" fill="#231f20" stroke="#231f20" stroke-width="0.9" transform="translate(524.4 815.9) scale(1)"/>
<path d="M527.4 814.4 l5 -0.6 M530.4 817.1 l6 -0.4" stroke="#5a5a5a" stroke-width="0.6" fill="none"/>
<path d="M422 827 L616.6 827 Q619.6 827 619.6 830 L619.6 864 Q619.6 867 616.6 867 L422 867 Z" fill="#cdebd0" stroke="#231f20" stroke-width="1.8" stroke-linejoin="round"/>
<ellipse cx="491.6" cy="839" rx="5.4" ry="4.7" fill="none" stroke="#231f20" stroke-width="1.1"/>
<ellipse cx="502.8" cy="839" rx="5.4" ry="4.7" fill="none" stroke="#231f20" stroke-width="1.1"/>
<ellipse cx="514" cy="839" rx="5.4" ry="4.7" fill="none" stroke="#231f20" stroke-width="1.1"/>
<path d="M0 0.5 C-0.4 -2.2 1.5 -4.2 4 -4.3 C5 -5.3 7.5 -5.4 9 -4 C10.5 -4.8 12.3 -4.3 13.2 -3 C15.5 -3.6 18 -3.4 19.5 -2.2 C21 -3 24 -2.6 24.6 -0.8 C25 1 23.4 2.2 21.5 1.8 C20 2.8 17.5 2.6 16.2 1.9 C14.5 3.8 12 4.5 10.2 3.6 C8.5 5 5.5 5.2 3.8 4.2 C1.6 4.6 -0.2 3 0 0.5 Z" fill="#231f20" stroke="#231f20" stroke-width="0.9" transform="translate(560.9 839.2) scale(1)"/>
<path d="M563.9 837.7 l5 -0.6 M566.9 840.4 l6 -0.4" stroke="#5a5a5a" stroke-width="0.6" fill="none"/>
<ellipse cx="452.5" cy="855.3" rx="5.4" ry="4.7" fill="none" stroke="#231f20" stroke-width="1.1"/>
<ellipse cx="463.7" cy="855.3" rx="5.4" ry="4.7" fill="none" stroke="#231f20" stroke-width="1.1"/>
<ellipse cx="474.9" cy="855.3" rx="5.4" ry="4.7" fill="none" stroke="#231f20" stroke-width="1.1"/>
<path d="M0 0.5 C-0.4 -2.2 1.5 -4.2 4 -4.3 C5 -5.3 7.5 -5.4 9 -4 C10.5 -4.8 12.3 -4.3 13.2 -3 C15.5 -3.6 18 -3.4 19.5 -2.2 C21 -3 24 -2.6 24.6 -0.8 C25 1 23.4 2.2 21.5 1.8 C20 2.8 17.5 2.6 16.2 1.9 C14.5 3.8 12 4.5 10.2 3.6 C8.5 5 5.5 5.2 3.8 4.2 C1.6 4.6 -0.2 3 0 0.5 Z" fill="#231f20" stroke="#231f20" stroke-width="0.9" transform="translate(521.7 856) scale(1)"/>
<path d="M524.7 854.5 l5 -0.6 M527.7 857.2 l6 -0.4" stroke="#5a5a5a" stroke-width="0.6" fill="none"/>
<path d="M422 867 L614 867 Q617 867 617 870 L617 883 Q617 886 614 886.6 L606 888.6 Q603 889.2 603 892.5 L603 941 Q603 944 600 944 L422 944 Z" fill="#cdebd0" stroke="#231f20" stroke-width="1.8" stroke-linejoin="round"/>
<ellipse cx="462.7" cy="878.6" rx="5.4" ry="4.7" fill="none" stroke="#231f20" stroke-width="1.1"/>
<ellipse cx="473.9" cy="878.6" rx="5.4" ry="4.7" fill="none" stroke="#231f20" stroke-width="1.1"/>
<ellipse cx="485.1" cy="878.6" rx="5.4" ry="4.7" fill="none" stroke="#231f20" stroke-width="1.1"/>
<path d="M0 0.5 C-0.4 -2.2 1.5 -4.2 4 -4.3 C5 -5.3 7.5 -5.4 9 -4 C10.5 -4.8 12.3 -4.3 13.2 -3 C15.5 -3.6 18 -3.4 19.5 -2.2 C21 -3 24 -2.6 24.6 -0.8 C25 1 23.4 2.2 21.5 1.8 C20 2.8 17.5 2.6 16.2 1.9 C14.5 3.8 12 4.5 10.2 3.6 C8.5 5 5.5 5.2 3.8 4.2 C1.6 4.6 -0.2 3 0 0.5 Z" fill="#231f20" stroke="#231f20" stroke-width="0.9" transform="translate(532.4 879) scale(1)"/>
<path d="M535.4 877.5 l5 -0.6 M538.4 880.2 l6 -0.4" stroke="#5a5a5a" stroke-width="0.6" fill="none"/>
<path d="M0 0.5 C-0.4 -2.2 1.5 -4.2 4 -4.3 C5 -5.3 7.5 -5.4 9 -4 C10.5 -4.8 12.3 -4.3 13.2 -3 C15.5 -3.6 18 -3.4 19.5 -2.2 C21 -3 24 -2.6 24.6 -0.8 C25 1 23.4 2.2 21.5 1.8 C20 2.8 17.5 2.6 16.2 1.9 C14.5 3.8 12 4.5 10.2 3.6 C8.5 5 5.5 5.2 3.8 4.2 C1.6 4.6 -0.2 3 0 0.5 Z" fill="#231f20" stroke="#231f20" stroke-width="0.9" transform="translate(486.7 899.2) scale(1)"/>
<path d="M489.7 897.7 l5 -0.6 M492.7 900.4 l6 -0.4" stroke="#5a5a5a" stroke-width="0.6" fill="none"/>
<path d="M0 0.5 C-0.4 -2.2 1.5 -4.2 4 -4.3 C5 -5.3 7.5 -5.4 9 -4 C10.5 -4.8 12.3 -4.3 13.2 -3 C15.5 -3.6 18 -3.4 19.5 -2.2 C21 -3 24 -2.6 24.6 -0.8 C25 1 23.4 2.2 21.5 1.8 C20 2.8 17.5 2.6 16.2 1.9 C14.5 3.8 12 4.5 10.2 3.6 C8.5 5 5.5 5.2 3.8 4.2 C1.6 4.6 -0.2 3 0 0.5 Z" fill="#231f20" stroke="#231f20" stroke-width="0.9" transform="translate(567.3 897.2) scale(1)"/>
<path d="M570.3 895.7 l5 -0.6 M573.3 898.4 l6 -0.4" stroke="#5a5a5a" stroke-width="0.6" fill="none"/>
<path d="M0 0.5 C-0.4 -2.2 1.5 -4.2 4 -4.3 C5 -5.3 7.5 -5.4 9 -4 C10.5 -4.8 12.3 -4.3 13.2 -3 C15.5 -3.6 18 -3.4 19.5 -2.2 C21 -3 24 -2.6 24.6 -0.8 C25 1 23.4 2.2 21.5 1.8 C20 2.8 17.5 2.6 16.2 1.9 C14.5 3.8 12 4.5 10.2 3.6 C8.5 5 5.5 5.2 3.8 4.2 C1.6 4.6 -0.2 3 0 0.5 Z" fill="#231f20" stroke="#231f20" stroke-width="0.9" transform="translate(450.1 915.9) scale(1)"/>
<path d="M453.1 914.4 l5 -0.6 M456.1 917.1 l6 -0.4" stroke="#5a5a5a" stroke-width="0.6" fill="none"/>
<path d="M0 0.5 C-0.4 -2.2 1.5 -4.2 4 -4.3 C5 -5.3 7.5 -5.4 9 -4 C10.5 -4.8 12.3 -4.3 13.2 -3 C15.5 -3.6 18 -3.4 19.5 -2.2 C21 -3 24 -2.6 24.6 -0.8 C25 1 23.4 2.2 21.5 1.8 C20 2.8 17.5 2.6 16.2 1.9 C14.5 3.8 12 4.5 10.2 3.6 C8.5 5 5.5 5.2 3.8 4.2 C1.6 4.6 -0.2 3 0 0.5 Z" fill="#231f20" stroke="#231f20" stroke-width="0.9" transform="translate(532.2 916.5) scale(1)"/>
<path d="M535.2 915 l5 -0.6 M538.2 917.7 l6 -0.4" stroke="#5a5a5a" stroke-width="0.6" fill="none"/>
<path d="M0 0.5 C-0.4 -2.2 1.5 -4.2 4 -4.3 C5 -5.3 7.5 -5.4 9 -4 C10.5 -4.8 12.3 -4.3 13.2 -3 C15.5 -3.6 18 -3.4 19.5 -2.2 C21 -3 24 -2.6 24.6 -0.8 C25 1 23.4 2.2 21.5 1.8 C20 2.8 17.5 2.6 16.2 1.9 C14.5 3.8 12 4.5 10.2 3.6 C8.5 5 5.5 5.2 3.8 4.2 C1.6 4.6 -0.2 3 0 0.5 Z" fill="#231f20" stroke="#231f20" stroke-width="0.9" transform="translate(486.8 934) scale(1)"/>
<path d="M489.8 932.5 l5 -0.6 M492.8 935.2 l6 -0.4" stroke="#5a5a5a" stroke-width="0.6" fill="none"/>
<path d="M0 0.5 C-0.4 -2.2 1.5 -4.2 4 -4.3 C5 -5.3 7.5 -5.4 9 -4 C10.5 -4.8 12.3 -4.3 13.2 -3 C15.5 -3.6 18 -3.4 19.5 -2.2 C21 -3 24 -2.6 24.6 -0.8 C25 1 23.4 2.2 21.5 1.8 C20 2.8 17.5 2.6 16.2 1.9 C14.5 3.8 12 4.5 10.2 3.6 C8.5 5 5.5 5.2 3.8 4.2 C1.6 4.6 -0.2 3 0 0.5 Z" fill="#231f20" stroke="#231f20" stroke-width="0.9" transform="translate(555.7 934) scale(1)"/>
<path d="M558.7 932.5 l5 -0.6 M561.7 935.2 l6 -0.4" stroke="#5a5a5a" stroke-width="0.6" fill="none"/>
<path d="M422 944 L627 944 Q630 944 630 947 L630 971 Q630 974 627 974 L422 974 Z" fill="#cdebd0" stroke="#231f20" stroke-width="1.8" stroke-linejoin="round"/>
<ellipse cx="471.7" cy="959.4" rx="5.4" ry="4.7" fill="none" stroke="#231f20" stroke-width="1.1"/>
<ellipse cx="482.9" cy="959.4" rx="5.4" ry="4.7" fill="none" stroke="#231f20" stroke-width="1.1"/>
<ellipse cx="494.1" cy="959.4" rx="5.4" ry="4.7" fill="none" stroke="#231f20" stroke-width="1.1"/>
<ellipse cx="556.8" cy="959.4" rx="5.4" ry="4.7" fill="none" stroke="#231f20" stroke-width="1.1"/>
<ellipse cx="568" cy="959.4" rx="5.4" ry="4.7" fill="none" stroke="#231f20" stroke-width="1.1"/>
<ellipse cx="579.2" cy="959.4" rx="5.4" ry="4.7" fill="none" stroke="#231f20" stroke-width="1.1"/>
<path d="M422 974 L627 974 Q630 974 630 977 L630 997 Q630 1000 627 1000.6 L609.7 1002.6 Q606.7 1003.2 606.7 1006.5 L606.7 1054.5 Q606.7 1057.5 603.7 1057.5 L422 1057.5 Z" fill="url(#g2)" stroke="#231f20" stroke-width="1.8" stroke-linejoin="round"/>
<circle cx="488.4" cy="981" r="2.5" fill="#231f20" stroke="none" stroke-width="0" />
<path d="M470.9 991.3 L472 991.1 L473.1 990.7 L474.2 989.9 L475.3 989.1 L476.4 988.3 L477.5 987.5 L478.6 987.1 L479.6 986.9 L480.7 987.1 L481.8 987.5 L482.9 988.3 L484 989.1 L485.1 989.9 L486.2 990.7 L487.3 991.1 L488.4 991.3 L489.5 991.1 L490.6 990.7 L491.7 989.9 L492.8 989.1 L493.9 988.3 L495 987.5 L496.1 987.1 L497.1 986.9 L498.2 987.1 L499.3 987.5 L500.4 988.3 L501.5 989.1 L502.6 989.9 L503.7 990.7 L504.8 991.1 L505.9 991.3" fill="none" stroke="#231f20" stroke-width="1.3" stroke-linecap="round" stroke-linejoin="round"/>
<circle cx="564.7" cy="981" r="2.5" fill="#231f20" stroke="none" stroke-width="0" />
<path d="M547.2 991.3 L548.3 991.1 L549.4 990.7 L550.5 989.9 L551.6 989.1 L552.7 988.3 L553.8 987.5 L554.9 987.1 L556 986.9 L557 987.1 L558.1 987.5 L559.2 988.3 L560.3 989.1 L561.4 989.9 L562.5 990.7 L563.6 991.1 L564.7 991.3 L565.8 991.1 L566.9 990.7 L568 989.9 L569.1 989.1 L570.2 988.3 L571.3 987.5 L572.4 987.1 L573.5 986.9 L574.5 987.1 L575.6 987.5 L576.7 988.3 L577.8 989.1 L578.9 989.9 L580 990.7 L581.1 991.1 L582.2 991.3" fill="none" stroke="#231f20" stroke-width="1.3" stroke-linecap="round" stroke-linejoin="round"/>
<path d="M0 0.5 C-0.4 -2.2 1.5 -4.2 4 -4.3 C5 -5.3 7.5 -5.4 9 -4 C10.5 -4.8 12.3 -4.3 13.2 -3 C15.5 -3.6 18 -3.4 19.5 -2.2 C21 -3 24 -2.6 24.6 -0.8 C25 1 23.4 2.2 21.5 1.8 C20 2.8 17.5 2.6 16.2 1.9 C14.5 3.8 12 4.5 10.2 3.6 C8.5 5 5.5 5.2 3.8 4.2 C1.6 4.6 -0.2 3 0 0.5 Z" fill="#231f20" stroke="#231f20" stroke-width="0.9" transform="translate(487.6 1014.2) scale(1)"/>
<path d="M490.6 1012.7 l5 -0.6 M493.6 1015.4 l6 -0.4" stroke="#5a5a5a" stroke-width="0.6" fill="none"/>
<path d="M0 0.5 C-0.4 -2.2 1.5 -4.2 4 -4.3 C5 -5.3 7.5 -5.4 9 -4 C10.5 -4.8 12.3 -4.3 13.2 -3 C15.5 -3.6 18 -3.4 19.5 -2.2 C21 -3 24 -2.6 24.6 -0.8 C25 1 23.4 2.2 21.5 1.8 C20 2.8 17.5 2.6 16.2 1.9 C14.5 3.8 12 4.5 10.2 3.6 C8.5 5 5.5 5.2 3.8 4.2 C1.6 4.6 -0.2 3 0 0.5 Z" fill="#231f20" stroke="#231f20" stroke-width="0.9" transform="translate(568.9 1012.8) scale(1)"/>
<path d="M571.9 1011.3 l5 -0.6 M574.9 1014 l6 -0.4" stroke="#5a5a5a" stroke-width="0.6" fill="none"/>
<path d="M0 0.5 C-0.4 -2.2 1.5 -4.2 4 -4.3 C5 -5.3 7.5 -5.4 9 -4 C10.5 -4.8 12.3 -4.3 13.2 -3 C15.5 -3.6 18 -3.4 19.5 -2.2 C21 -3 24 -2.6 24.6 -0.8 C25 1 23.4 2.2 21.5 1.8 C20 2.8 17.5 2.6 16.2 1.9 C14.5 3.8 12 4.5 10.2 3.6 C8.5 5 5.5 5.2 3.8 4.2 C1.6 4.6 -0.2 3 0 0.5 Z" fill="#231f20" stroke="#231f20" stroke-width="0.9" transform="translate(451.3 1031.7) scale(1)"/>
<path d="M454.3 1030.2 l5 -0.6 M457.3 1032.9 l6 -0.4" stroke="#5a5a5a" stroke-width="0.6" fill="none"/>
<path d="M0 0.5 C-0.4 -2.2 1.5 -4.2 4 -4.3 C5 -5.3 7.5 -5.4 9 -4 C10.5 -4.8 12.3 -4.3 13.2 -3 C15.5 -3.6 18 -3.4 19.5 -2.2 C21 -3 24 -2.6 24.6 -0.8 C25 1 23.4 2.2 21.5 1.8 C20 2.8 17.5 2.6 16.2 1.9 C14.5 3.8 12 4.5 10.2 3.6 C8.5 5 5.5 5.2 3.8 4.2 C1.6 4.6 -0.2 3 0 0.5 Z" fill="#231f20" stroke="#231f20" stroke-width="0.9" transform="translate(533.3 1031.7) scale(1)"/>
<path d="M536.3 1030.2 l5 -0.6 M539.3 1032.9 l6 -0.4" stroke="#5a5a5a" stroke-width="0.6" fill="none"/>
<path d="M0 0.5 C-0.4 -2.2 1.5 -4.2 4 -4.3 C5 -5.3 7.5 -5.4 9 -4 C10.5 -4.8 12.3 -4.3 13.2 -3 C15.5 -3.6 18 -3.4 19.5 -2.2 C21 -3 24 -2.6 24.6 -0.8 C25 1 23.4 2.2 21.5 1.8 C20 2.8 17.5 2.6 16.2 1.9 C14.5 3.8 12 4.5 10.2 3.6 C8.5 5 5.5 5.2 3.8 4.2 C1.6 4.6 -0.2 3 0 0.5 Z" fill="#231f20" stroke="#231f20" stroke-width="0.9" transform="translate(487.6 1047.7) scale(1)"/>
<path d="M490.6 1046.2 l5 -0.6 M493.6 1048.9 l6 -0.4" stroke="#5a5a5a" stroke-width="0.6" fill="none"/>
<path d="M0 0.5 C-0.4 -2.2 1.5 -4.2 4 -4.3 C5 -5.3 7.5 -5.4 9 -4 C10.5 -4.8 12.3 -4.3 13.2 -3 C15.5 -3.6 18 -3.4 19.5 -2.2 C21 -3 24 -2.6 24.6 -0.8 C25 1 23.4 2.2 21.5 1.8 C20 2.8 17.5 2.6 16.2 1.9 C14.5 3.8 12 4.5 10.2 3.6 C8.5 5 5.5 5.2 3.8 4.2 C1.6 4.6 -0.2 3 0 0.5 Z" fill="#231f20" stroke="#231f20" stroke-width="0.9" transform="translate(568.9 1047.7) scale(1)"/>
<path d="M571.9 1046.2 l5 -0.6 M574.9 1048.9 l6 -0.4" stroke="#5a5a5a" stroke-width="0.6" fill="none"/>
<path d="M422 1060 L634.7 1060 Q637.7 1060 637.7 1063 L637.7 1083 Q637.7 1086 634.7 1086.6 L634 1088.6 Q631 1089.2 631 1092.5 L631 1101 Q631 1104 628 1104 L422 1104 Z" fill="url(#g3)" stroke="#231f20" stroke-width="1.8" stroke-linejoin="round"/>
<path d="M458 1078.5 C463.8 1062.5 482.7 1062.5 488.5 1078.5" fill="none" stroke="#231f20" stroke-width="1.4"/>
<path d="M463.8 1078.5 C467.4 1068.3 479.1 1068.3 482.7 1078.5" fill="none" stroke="#231f20" stroke-width="1.4"/>
<path d="M468.7 1078.5 C470.4 1073.2 476.1 1073.2 477.8 1078.5" fill="none" stroke="#231f20" stroke-width="1.4"/>
<path d="M488.4 1078.5 C494.2 1062.5 513.1 1062.5 518.9 1078.5" fill="none" stroke="#231f20" stroke-width="1.4"/>
<path d="M494.2 1078.5 C497.8 1068.3 509.5 1068.3 513.1 1078.5" fill="none" stroke="#231f20" stroke-width="1.4"/>
<path d="M499.1 1078.5 C500.8 1073.2 506.5 1073.2 508.2 1078.5" fill="none" stroke="#231f20" stroke-width="1.4"/>
<path d="M531 1078.5 C536.8 1062.5 555.9 1062.5 561.8 1078.5" fill="none" stroke="#231f20" stroke-width="1.4"/>
<path d="M536.8 1078.5 C540.5 1068.3 552.3 1068.3 555.9 1078.5" fill="none" stroke="#231f20" stroke-width="1.4"/>
<path d="M541.8 1078.5 C543.5 1073.2 549.2 1073.2 551 1078.5" fill="none" stroke="#231f20" stroke-width="1.4"/>
<path d="M561.8 1078.5 C567.6 1062.5 586.7 1062.5 592.5 1078.5" fill="none" stroke="#231f20" stroke-width="1.4"/>
<path d="M567.6 1078.5 C571.2 1068.3 583 1068.3 586.7 1078.5" fill="none" stroke="#231f20" stroke-width="1.4"/>
<path d="M572.5 1078.5 C574.3 1073.2 580 1073.2 581.7 1078.5" fill="none" stroke="#231f20" stroke-width="1.4"/>
<circle cx="488.4" cy="1088.5" r="2.5" fill="#231f20" stroke="none" stroke-width="0" />
<path d="M470.9 1098.8 L472 1098.6 L473.1 1098.2 L474.2 1097.4 L475.3 1096.6 L476.4 1095.8 L477.5 1095 L478.6 1094.6 L479.6 1094.4 L480.7 1094.6 L481.8 1095 L482.9 1095.8 L484 1096.6 L485.1 1097.4 L486.2 1098.2 L487.3 1098.6 L488.4 1098.8 L489.5 1098.6 L490.6 1098.2 L491.7 1097.4 L492.8 1096.6 L493.9 1095.8 L495 1095 L496.1 1094.6 L497.1 1094.4 L498.2 1094.6 L499.3 1095 L500.4 1095.8 L501.5 1096.6 L502.6 1097.4 L503.7 1098.2 L504.8 1098.6 L505.9 1098.8" fill="none" stroke="#231f20" stroke-width="1.3" stroke-linecap="round" stroke-linejoin="round"/>
<circle cx="562" cy="1088.5" r="2.5" fill="#231f20" stroke="none" stroke-width="0" />
<path d="M544.5 1098.8 L545.6 1098.6 L546.7 1098.2 L547.8 1097.4 L548.9 1096.6 L550 1095.8 L551.1 1095 L552.2 1094.6 L553.2 1094.4 L554.3 1094.6 L555.4 1095 L556.5 1095.8 L557.6 1096.6 L558.7 1097.4 L559.8 1098.2 L560.9 1098.6 L562 1098.8 L563.1 1098.6 L564.2 1098.2 L565.3 1097.4 L566.4 1096.6 L567.5 1095.8 L568.6 1095 L569.7 1094.6 L570.8 1094.4 L571.8 1094.6 L572.9 1095 L574 1095.8 L575.1 1096.6 L576.2 1097.4 L577.3 1098.2 L578.4 1098.6 L579.5 1098.8" fill="none" stroke="#231f20" stroke-width="1.3" stroke-linecap="round" stroke-linejoin="round"/>
<path d="M422 1104 L629.6 1104 Q632.6 1104 632.6 1107 L632.6 1129.7 Q632.6 1132.7 629.6 1133.3 L605 1135.3 Q602 1135.9 602 1139.2 L602 1257.6 Q602 1260.6 599 1260.6 L422 1260.6 Z" fill="#cdebd0" stroke="#231f20" stroke-width="1.8" stroke-linejoin="round"/>
<ellipse cx="507.6" cy="1116" rx="5.4" ry="4.7" fill="none" stroke="#231f20" stroke-width="1.1"/>
<ellipse cx="518.8" cy="1116" rx="5.4" ry="4.7" fill="none" stroke="#231f20" stroke-width="1.1"/>
<ellipse cx="530" cy="1116" rx="5.4" ry="4.7" fill="none" stroke="#231f20" stroke-width="1.1"/>
<ellipse cx="593" cy="1116" rx="5.4" ry="4.7" fill="none" stroke="#231f20" stroke-width="1.1"/>
<ellipse cx="604.2" cy="1116" rx="5.4" ry="4.7" fill="none" stroke="#231f20" stroke-width="1.1"/>
<ellipse cx="615.5" cy="1116" rx="5.4" ry="4.7" fill="none" stroke="#231f20" stroke-width="1.1"/>
<ellipse cx="465.7" cy="1133.5" rx="5.4" ry="4.7" fill="none" stroke="#231f20" stroke-width="1.1"/>
<ellipse cx="476.9" cy="1133.5" rx="5.4" ry="4.7" fill="none" stroke="#231f20" stroke-width="1.1"/>
<ellipse cx="488.1" cy="1133.5" rx="5.4" ry="4.7" fill="none" stroke="#231f20" stroke-width="1.1"/>
<ellipse cx="551" cy="1133.5" rx="5.4" ry="4.7" fill="none" stroke="#231f20" stroke-width="1.1"/>
<ellipse cx="562.2" cy="1133.5" rx="5.4" ry="4.7" fill="none" stroke="#231f20" stroke-width="1.1"/>
<ellipse cx="573.4" cy="1133.5" rx="5.4" ry="4.7" fill="none" stroke="#231f20" stroke-width="1.1"/>
<path d="M0 0.5 C-0.4 -2.2 1.5 -4.2 4 -4.3 C5 -5.3 7.5 -5.4 9 -4 C10.5 -4.8 12.3 -4.3 13.2 -3 C15.5 -3.6 18 -3.4 19.5 -2.2 C21 -3 24 -2.6 24.6 -0.8 C25 1 23.4 2.2 21.5 1.8 C20 2.8 17.5 2.6 16.2 1.9 C14.5 3.8 12 4.5 10.2 3.6 C8.5 5 5.5 5.2 3.8 4.2 C1.6 4.6 -0.2 3 0 0.5 Z" fill="#231f20" stroke="#231f20" stroke-width="0.9" transform="translate(450.4 1168.8) scale(1)"/>
<path d="M453.4 1167.3 l5 -0.6 M456.4 1170 l6 -0.4" stroke="#5a5a5a" stroke-width="0.6" fill="none"/>
<path d="M0 0.5 C-0.4 -2.2 1.5 -4.2 4 -4.3 C5 -5.3 7.5 -5.4 9 -4 C10.5 -4.8 12.3 -4.3 13.2 -3 C15.5 -3.6 18 -3.4 19.5 -2.2 C21 -3 24 -2.6 24.6 -0.8 C25 1 23.4 2.2 21.5 1.8 C20 2.8 17.5 2.6 16.2 1.9 C14.5 3.8 12 4.5 10.2 3.6 C8.5 5 5.5 5.2 3.8 4.2 C1.6 4.6 -0.2 3 0 0.5 Z" fill="#231f20" stroke="#231f20" stroke-width="0.9" transform="translate(530.5 1168.8) scale(1)"/>
<path d="M533.5 1167.3 l5 -0.6 M536.5 1170 l6 -0.4" stroke="#5a5a5a" stroke-width="0.6" fill="none"/>
<path d="M0 0.5 C-0.4 -2.2 1.5 -4.2 4 -4.3 C5 -5.3 7.5 -5.4 9 -4 C10.5 -4.8 12.3 -4.3 13.2 -3 C15.5 -3.6 18 -3.4 19.5 -2.2 C21 -3 24 -2.6 24.6 -0.8 C25 1 23.4 2.2 21.5 1.8 C20 2.8 17.5 2.6 16.2 1.9 C14.5 3.8 12 4.5 10.2 3.6 C8.5 5 5.5 5.2 3.8 4.2 C1.6 4.6 -0.2 3 0 0.5 Z" fill="#231f20" stroke="#231f20" stroke-width="0.9" transform="translate(487.6 1185.1) scale(1)"/>
<path d="M490.6 1183.6 l5 -0.6 M493.6 1186.3 l6 -0.4" stroke="#5a5a5a" stroke-width="0.6" fill="none"/>
<path d="M0 0.5 C-0.4 -2.2 1.5 -4.2 4 -4.3 C5 -5.3 7.5 -5.4 9 -4 C10.5 -4.8 12.3 -4.3 13.2 -3 C15.5 -3.6 18 -3.4 19.5 -2.2 C21 -3 24 -2.6 24.6 -0.8 C25 1 23.4 2.2 21.5 1.8 C20 2.8 17.5 2.6 16.2 1.9 C14.5 3.8 12 4.5 10.2 3.6 C8.5 5 5.5 5.2 3.8 4.2 C1.6 4.6 -0.2 3 0 0.5 Z" fill="#231f20" stroke="#231f20" stroke-width="0.9" transform="translate(568.2 1183.5) scale(1)"/>
<path d="M571.2 1182 l5 -0.6 M574.2 1184.7 l6 -0.4" stroke="#5a5a5a" stroke-width="0.6" fill="none"/>
<path d="M0 0.5 C-0.4 -2.2 1.5 -4.2 4 -4.3 C5 -5.3 7.5 -5.4 9 -4 C10.5 -4.8 12.3 -4.3 13.2 -3 C15.5 -3.6 18 -3.4 19.5 -2.2 C21 -3 24 -2.6 24.6 -0.8 C25 1 23.4 2.2 21.5 1.8 C20 2.8 17.5 2.6 16.2 1.9 C14.5 3.8 12 4.5 10.2 3.6 C8.5 5 5.5 5.2 3.8 4.2 C1.6 4.6 -0.2 3 0 0.5 Z" fill="#231f20" stroke="#231f20" stroke-width="0.9" transform="translate(450.7 1202.2) scale(1)"/>
<path d="M453.7 1200.7 l5 -0.6 M456.7 1203.4 l6 -0.4" stroke="#5a5a5a" stroke-width="0.6" fill="none"/>
<path d="M0 0.5 C-0.4 -2.2 1.5 -4.2 4 -4.3 C5 -5.3 7.5 -5.4 9 -4 C10.5 -4.8 12.3 -4.3 13.2 -3 C15.5 -3.6 18 -3.4 19.5 -2.2 C21 -3 24 -2.6 24.6 -0.8 C25 1 23.4 2.2 21.5 1.8 C20 2.8 17.5 2.6 16.2 1.9 C14.5 3.8 12 4.5 10.2 3.6 C8.5 5 5.5 5.2 3.8 4.2 C1.6 4.6 -0.2 3 0 0.5 Z" fill="#231f20" stroke="#231f20" stroke-width="0.9" transform="translate(532.7 1203.2) scale(1)"/>
<path d="M535.7 1201.7 l5 -0.6 M538.7 1204.4 l6 -0.4" stroke="#5a5a5a" stroke-width="0.6" fill="none"/>
<path d="M0 0.5 C-0.4 -2.2 1.5 -4.2 4 -4.3 C5 -5.3 7.5 -5.4 9 -4 C10.5 -4.8 12.3 -4.3 13.2 -3 C15.5 -3.6 18 -3.4 19.5 -2.2 C21 -3 24 -2.6 24.6 -0.8 C25 1 23.4 2.2 21.5 1.8 C20 2.8 17.5 2.6 16.2 1.9 C14.5 3.8 12 4.5 10.2 3.6 C8.5 5 5.5 5.2 3.8 4.2 C1.6 4.6 -0.2 3 0 0.5 Z" fill="#231f20" stroke="#231f20" stroke-width="0.9" transform="translate(487.6 1219.2) scale(1)"/>
<path d="M490.6 1217.7 l5 -0.6 M493.6 1220.4 l6 -0.4" stroke="#5a5a5a" stroke-width="0.6" fill="none"/>
<path d="M0 0.5 C-0.4 -2.2 1.5 -4.2 4 -4.3 C5 -5.3 7.5 -5.4 9 -4 C10.5 -4.8 12.3 -4.3 13.2 -3 C15.5 -3.6 18 -3.4 19.5 -2.2 C21 -3 24 -2.6 24.6 -0.8 C25 1 23.4 2.2 21.5 1.8 C20 2.8 17.5 2.6 16.2 1.9 C14.5 3.8 12 4.5 10.2 3.6 C8.5 5 5.5 5.2 3.8 4.2 C1.6 4.6 -0.2 3 0 0.5 Z" fill="#231f20" stroke="#231f20" stroke-width="0.9" transform="translate(568.2 1219.2) scale(1)"/>
<path d="M571.2 1217.7 l5 -0.6 M574.2 1220.4 l6 -0.4" stroke="#5a5a5a" stroke-width="0.6" fill="none"/>
<path d="M0 0.5 C-0.4 -2.2 1.5 -4.2 4 -4.3 C5 -5.3 7.5 -5.4 9 -4 C10.5 -4.8 12.3 -4.3 13.2 -3 C15.5 -3.6 18 -3.4 19.5 -2.2 C21 -3 24 -2.6 24.6 -0.8 C25 1 23.4 2.2 21.5 1.8 C20 2.8 17.5 2.6 16.2 1.9 C14.5 3.8 12 4.5 10.2 3.6 C8.5 5 5.5 5.2 3.8 4.2 C1.6 4.6 -0.2 3 0 0.5 Z" fill="#231f20" stroke="#231f20" stroke-width="0.9" transform="translate(450.9 1237.8) scale(1)"/>
<path d="M453.9 1236.3 l5 -0.6 M456.9 1239 l6 -0.4" stroke="#5a5a5a" stroke-width="0.6" fill="none"/>
<path d="M0 0.5 C-0.4 -2.2 1.5 -4.2 4 -4.3 C5 -5.3 7.5 -5.4 9 -4 C10.5 -4.8 12.3 -4.3 13.2 -3 C15.5 -3.6 18 -3.4 19.5 -2.2 C21 -3 24 -2.6 24.6 -0.8 C25 1 23.4 2.2 21.5 1.8 C20 2.8 17.5 2.6 16.2 1.9 C14.5 3.8 12 4.5 10.2 3.6 C8.5 5 5.5 5.2 3.8 4.2 C1.6 4.6 -0.2 3 0 0.5 Z" fill="#231f20" stroke="#231f20" stroke-width="0.9" transform="translate(533.9 1236) scale(1)"/>
<path d="M536.9 1234.5 l5 -0.6 M539.9 1237.2 l6 -0.4" stroke="#5a5a5a" stroke-width="0.6" fill="none"/>
<path d="M422 1260.6 L632.7 1260.6 Q635.7 1260.6 635.7 1263.6 L635.7 1275.7 Q635.7 1278.7 632.7 1278.7 L422 1278.7 Z" fill="#cdebd0" stroke="#231f20" stroke-width="1.8" stroke-linejoin="round"/>
<clipPath id="cpB16"><rect x="422" y="1261" width="214" height="17"/></clipPath><g clip-path="url(#cpB16)">
<path d="M459.4 1278 C465.2 1262 483.9 1262 489.7 1278" fill="none" stroke="#231f20" stroke-width="1.4"/>
<path d="M465.2 1278 C468.7 1267.8 480.4 1267.8 483.9 1278" fill="none" stroke="#231f20" stroke-width="1.4"/>
<path d="M470 1278 C471.7 1272.7 477.4 1272.7 479.1 1278" fill="none" stroke="#231f20" stroke-width="1.4"/>
<path d="M489.7 1278 C495.5 1262 514.2 1262 520 1278" fill="none" stroke="#231f20" stroke-width="1.4"/>
<path d="M495.5 1278 C499 1267.8 510.7 1267.8 514.2 1278" fill="none" stroke="#231f20" stroke-width="1.4"/>
<path d="M500.3 1278 C502 1272.7 507.7 1272.7 509.4 1278" fill="none" stroke="#231f20" stroke-width="1.4"/>
<path d="M533 1278 C538.8 1262 557.6 1262 563.4 1278" fill="none" stroke="#231f20" stroke-width="1.4"/>
<path d="M538.8 1278 C542.4 1267.8 554 1267.8 557.6 1278" fill="none" stroke="#231f20" stroke-width="1.4"/>
<path d="M543.6 1278 C545.4 1272.7 551 1272.7 552.8 1278" fill="none" stroke="#231f20" stroke-width="1.4"/>
<path d="M563.4 1278 C569.2 1262 588 1262 593.8 1278" fill="none" stroke="#231f20" stroke-width="1.4"/>
<path d="M569.2 1278 C572.8 1267.8 584.4 1267.8 588 1278" fill="none" stroke="#231f20" stroke-width="1.4"/>
<path d="M574 1278 C575.8 1272.7 581.4 1272.7 583.2 1278" fill="none" stroke="#231f20" stroke-width="1.4"/>
</g>
<path d="M422 1278.7 L628 1278.7 Q631 1278.7 631 1281.7 L631 1307.5 Q631 1319.5 616.6 1320 L517.6 1321 L517.6 1331 Q517.6 1334 514.6 1334 L422 1334 Z" fill="url(#g4)" stroke="#231f20" stroke-width="1.8" stroke-linejoin="round"/>
<circle cx="453.3" cy="1287.5" r="2.5" fill="#231f20" stroke="none" stroke-width="0" />
<path d="M435.8 1297.8 L436.9 1297.6 L438 1297.2 L439.1 1296.4 L440.2 1295.6 L441.3 1294.8 L442.4 1294 L443.5 1293.6 L444.6 1293.4 L445.6 1293.6 L446.7 1294 L447.8 1294.8 L448.9 1295.6 L450 1296.4 L451.1 1297.2 L452.2 1297.6 L453.3 1297.8 L454.4 1297.6 L455.5 1297.2 L456.6 1296.4 L457.7 1295.6 L458.8 1294.8 L459.9 1294 L461 1293.6 L462.1 1293.4 L463.1 1293.6 L464.2 1294 L465.3 1294.8 L466.4 1295.6 L467.5 1296.4 L468.6 1297.2 L469.7 1297.6 L470.8 1297.8" fill="none" stroke="#231f20" stroke-width="1.3" stroke-linecap="round" stroke-linejoin="round"/>
<circle cx="522.2" cy="1287.5" r="2.5" fill="#231f20" stroke="none" stroke-width="0" />
<path d="M504.7 1297.8 L505.8 1297.6 L506.9 1297.2 L508 1296.4 L509.1 1295.6 L510.2 1294.8 L511.3 1294 L512.4 1293.6 L513.5 1293.4 L514.5 1293.6 L515.6 1294 L516.7 1294.8 L517.8 1295.6 L518.9 1296.4 L520 1297.2 L521.1 1297.6 L522.2 1297.8 L523.3 1297.6 L524.4 1297.2 L525.5 1296.4 L526.6 1295.6 L527.7 1294.8 L528.8 1294 L529.9 1293.6 L531 1293.4 L532 1293.6 L533.1 1294 L534.2 1294.8 L535.3 1295.6 L536.4 1296.4 L537.5 1297.2 L538.6 1297.6 L539.7 1297.8" fill="none" stroke="#231f20" stroke-width="1.3" stroke-linecap="round" stroke-linejoin="round"/>
<circle cx="585.4" cy="1286.5" r="2.5" fill="#231f20" stroke="none" stroke-width="0" />
<path d="M567.9 1296.8 L569 1296.6 L570.1 1296.2 L571.2 1295.4 L572.3 1294.6 L573.4 1293.8 L574.5 1293 L575.6 1292.6 L576.6 1292.4 L577.7 1292.6 L578.8 1293 L579.9 1293.8 L581 1294.6 L582.1 1295.4 L583.2 1296.2 L584.3 1296.6 L585.4 1296.8 L586.5 1296.6 L587.6 1296.2 L588.7 1295.4 L589.8 1294.6 L590.9 1293.8 L592 1293 L593.1 1292.6 L594.1 1292.4 L595.2 1292.6 L596.3 1293 L597.4 1293.8 L598.5 1294.6 L599.6 1295.4 L600.7 1296.2 L601.8 1296.6 L602.9 1296.8" fill="none" stroke="#231f20" stroke-width="1.3" stroke-linecap="round" stroke-linejoin="round"/>
<circle cx="487.2" cy="1303.5" r="2.5" fill="#231f20" stroke="none" stroke-width="0" />
<path d="M469.7 1313.8 L470.8 1313.6 L471.9 1313.2 L473 1312.4 L474.1 1311.6 L475.2 1310.8 L476.3 1310 L477.4 1309.6 L478.4 1309.4 L479.5 1309.6 L480.6 1310 L481.7 1310.8 L482.8 1311.6 L483.9 1312.4 L485 1313.2 L486.1 1313.6 L487.2 1313.8 L488.3 1313.6 L489.4 1313.2 L490.5 1312.4 L491.6 1311.6 L492.7 1310.8 L493.8 1310 L494.9 1309.6 L495.9 1309.4 L497 1309.6 L498.1 1310 L499.2 1310.8 L500.3 1311.6 L501.4 1312.4 L502.5 1313.2 L503.6 1313.6 L504.7 1313.8" fill="none" stroke="#231f20" stroke-width="1.3" stroke-linecap="round" stroke-linejoin="round"/>
<circle cx="554.4" cy="1302.5" r="2.5" fill="#231f20" stroke="none" stroke-width="0" />
<path d="M536.9 1312.8 L538 1312.6 L539.1 1312.2 L540.2 1311.4 L541.3 1310.6 L542.4 1309.8 L543.5 1309 L544.6 1308.6 L545.6 1308.4 L546.7 1308.6 L547.8 1309 L548.9 1309.8 L550 1310.6 L551.1 1311.4 L552.2 1312.2 L553.3 1312.6 L554.4 1312.8 L555.5 1312.6 L556.6 1312.2 L557.7 1311.4 L558.8 1310.6 L559.9 1309.8 L561 1309 L562.1 1308.6 L563.1 1308.4 L564.2 1308.6 L565.3 1309 L566.4 1309.8 L567.5 1310.6 L568.6 1311.4 L569.7 1312.2 L570.8 1312.6 L571.9 1312.8" fill="none" stroke="#231f20" stroke-width="1.3" stroke-linecap="round" stroke-linejoin="round"/>
<circle cx="443.8" cy="1329.2" r="1.6" fill="#231f20" stroke="none" stroke-width="0" />
<circle cx="449.2" cy="1329.2" r="1.6" fill="#231f20" stroke="none" stroke-width="0" />
<circle cx="487" cy="1329.6" r="1.6" fill="#231f20" stroke="none" stroke-width="0" />
<circle cx="492.4" cy="1329.6" r="1.6" fill="#231f20" stroke="none" stroke-width="0" />
<path d="M422 1335.5 L632.7 1335.5 Q635.7 1335.5 635.7 1338.5 L635.7 1405 Q635.7 1408 632.7 1408 L422 1408 Z" fill="#a9d94f" stroke="#231f20" stroke-width="1.8" stroke-linejoin="round"/>
<circle cx="487.8" cy="1350.3" r="2.5" fill="#231f20" stroke="none" stroke-width="0" />
<path d="M470.3 1360.6 L471.4 1360.4 L472.5 1360 L473.6 1359.2 L474.7 1358.4 L475.8 1357.6 L476.9 1356.8 L478 1356.4 L479.1 1356.2 L480.1 1356.4 L481.2 1356.8 L482.3 1357.6 L483.4 1358.4 L484.5 1359.2 L485.6 1360 L486.7 1360.4 L487.8 1360.6 L488.9 1360.4 L490 1360 L491.1 1359.2 L492.2 1358.4 L493.3 1357.6 L494.4 1356.8 L495.5 1356.4 L496.6 1356.2 L497.6 1356.4 L498.7 1356.8 L499.8 1357.6 L500.9 1358.4 L502 1359.2 L503.1 1360 L504.2 1360.4 L505.3 1360.6" fill="none" stroke="#231f20" stroke-width="1.3" stroke-linecap="round" stroke-linejoin="round"/>
<circle cx="566.7" cy="1350.3" r="2.5" fill="#231f20" stroke="none" stroke-width="0" />
<path d="M549.2 1360.6 L550.3 1360.4 L551.4 1360 L552.5 1359.2 L553.6 1358.4 L554.7 1357.6 L555.8 1356.8 L556.9 1356.4 L558 1356.2 L559 1356.4 L560.1 1356.8 L561.2 1357.6 L562.3 1358.4 L563.4 1359.2 L564.5 1360 L565.6 1360.4 L566.7 1360.6 L567.8 1360.4 L568.9 1360 L570 1359.2 L571.1 1358.4 L572.2 1357.6 L573.3 1356.8 L574.4 1356.4 L575.5 1356.2 L576.5 1356.4 L577.6 1356.8 L578.7 1357.6 L579.8 1358.4 L580.9 1359.2 L582 1360 L583.1 1360.4 L584.2 1360.6" fill="none" stroke="#231f20" stroke-width="1.3" stroke-linecap="round" stroke-linejoin="round"/>
<circle cx="446.4" cy="1368.5" r="2.5" fill="#231f20" stroke="none" stroke-width="0" />
<path d="M428.9 1378.8 L430 1378.6 L431.1 1378.2 L432.2 1377.4 L433.3 1376.6 L434.4 1375.8 L435.5 1375 L436.6 1374.6 L437.6 1374.4 L438.7 1374.6 L439.8 1375 L440.9 1375.8 L442 1376.6 L443.1 1377.4 L444.2 1378.2 L445.3 1378.6 L446.4 1378.8 L447.5 1378.6 L448.6 1378.2 L449.7 1377.4 L450.8 1376.6 L451.9 1375.8 L453 1375 L454.1 1374.6 L455.1 1374.4 L456.2 1374.6 L457.3 1375 L458.4 1375.8 L459.5 1376.6 L460.6 1377.4 L461.7 1378.2 L462.8 1378.6 L463.9 1378.8" fill="none" stroke="#231f20" stroke-width="1.3" stroke-linecap="round" stroke-linejoin="round"/>
<circle cx="526.6" cy="1368.5" r="2.5" fill="#231f20" stroke="none" stroke-width="0" />
<path d="M509.1 1378.8 L510.2 1378.6 L511.3 1378.2 L512.4 1377.4 L513.5 1376.6 L514.6 1375.8 L515.7 1375 L516.8 1374.6 L517.9 1374.4 L518.9 1374.6 L520 1375 L521.1 1375.8 L522.2 1376.6 L523.3 1377.4 L524.4 1378.2 L525.5 1378.6 L526.6 1378.8 L527.7 1378.6 L528.8 1378.2 L529.9 1377.4 L531 1376.6 L532.1 1375.8 L533.2 1375 L534.3 1374.6 L535.4 1374.4 L536.4 1374.6 L537.5 1375 L538.6 1375.8 L539.7 1376.6 L540.8 1377.4 L541.9 1378.2 L543 1378.6 L544.1 1378.8" fill="none" stroke="#231f20" stroke-width="1.3" stroke-linecap="round" stroke-linejoin="round"/>
<circle cx="611.3" cy="1368.5" r="2.5" fill="#231f20" stroke="none" stroke-width="0" />
<path d="M593.8 1378.8 L594.9 1378.6 L596 1378.2 L597.1 1377.4 L598.2 1376.6 L599.3 1375.8 L600.4 1375 L601.5 1374.6 L602.5 1374.4 L603.6 1374.6 L604.7 1375 L605.8 1375.8 L606.9 1376.6 L608 1377.4 L609.1 1378.2 L610.2 1378.6 L611.3 1378.8 L612.4 1378.6 L613.5 1378.2 L614.6 1377.4 L615.7 1376.6 L616.8 1375.8 L617.9 1375 L619 1374.6 L620 1374.4 L621.1 1374.6 L622.2 1375 L623.3 1375.8 L624.4 1376.6 L625.5 1377.4 L626.6 1378.2 L627.7 1378.6 L628.8 1378.8" fill="none" stroke="#231f20" stroke-width="1.3" stroke-linecap="round" stroke-linejoin="round"/>
<circle cx="487.8" cy="1386" r="2.5" fill="#231f20" stroke="none" stroke-width="0" />
<path d="M470.3 1396.3 L471.4 1396.1 L472.5 1395.7 L473.6 1394.9 L474.7 1394.1 L475.8 1393.3 L476.9 1392.5 L478 1392.1 L479.1 1391.9 L480.1 1392.1 L481.2 1392.5 L482.3 1393.3 L483.4 1394.1 L484.5 1394.9 L485.6 1395.7 L486.7 1396.1 L487.8 1396.3 L488.9 1396.1 L490 1395.7 L491.1 1394.9 L492.2 1394.1 L493.3 1393.3 L494.4 1392.5 L495.5 1392.1 L496.6 1391.9 L497.6 1392.1 L498.7 1392.5 L499.8 1393.3 L500.9 1394.1 L502 1394.9 L503.1 1395.7 L504.2 1396.1 L505.3 1396.3" fill="none" stroke="#231f20" stroke-width="1.3" stroke-linecap="round" stroke-linejoin="round"/>
<circle cx="568" cy="1386.5" r="2.5" fill="#231f20" stroke="none" stroke-width="0" />
<path d="M550.5 1396.8 L551.6 1396.6 L552.7 1396.2 L553.8 1395.4 L554.9 1394.6 L556 1393.8 L557.1 1393 L558.2 1392.6 L559.2 1392.4 L560.3 1392.6 L561.4 1393 L562.5 1393.8 L563.6 1394.6 L564.7 1395.4 L565.8 1396.2 L566.9 1396.6 L568 1396.8 L569.1 1396.6 L570.2 1396.2 L571.3 1395.4 L572.4 1394.6 L573.5 1393.8 L574.6 1393 L575.7 1392.6 L576.8 1392.4 L577.8 1392.6 L578.9 1393 L580 1393.8 L581.1 1394.6 L582.2 1395.4 L583.3 1396.2 L584.4 1396.6 L585.5 1396.8" fill="none" stroke="#231f20" stroke-width="1.3" stroke-linecap="round" stroke-linejoin="round"/>
<path d="M422 1408 L632.7 1408 Q635.7 1408 635.7 1411 L635.7 1440 Q635.7 1443 632.7 1443 L422 1443 Z" fill="#cdebd0" stroke="#231f20" stroke-width="1.8" stroke-linejoin="round"/>
<path d="M482 1422.5 C487.8 1406.5 506.7 1406.5 512.5 1422.5" fill="none" stroke="#231f20" stroke-width="1.4"/>
<path d="M487.8 1422.5 C491.4 1412.3 503.1 1412.3 506.7 1422.5" fill="none" stroke="#231f20" stroke-width="1.4"/>
<path d="M492.7 1422.5 C494.4 1417.2 500.1 1417.2 501.8 1422.5" fill="none" stroke="#231f20" stroke-width="1.4"/>
<path d="M512.5 1422.5 C518.3 1406.5 537.2 1406.5 543 1422.5" fill="none" stroke="#231f20" stroke-width="1.4"/>
<path d="M518.3 1422.5 C521.9 1412.3 533.6 1412.3 537.2 1422.5" fill="none" stroke="#231f20" stroke-width="1.4"/>
<path d="M523.2 1422.5 C524.9 1417.2 530.6 1417.2 532.3 1422.5" fill="none" stroke="#231f20" stroke-width="1.4"/>
<path d="M555 1422.5 C560.8 1406.5 579.9 1406.5 585.8 1422.5" fill="none" stroke="#231f20" stroke-width="1.4"/>
<path d="M560.8 1422.5 C564.5 1412.3 576.3 1412.3 579.9 1422.5" fill="none" stroke="#231f20" stroke-width="1.4"/>
<path d="M565.8 1422.5 C567.5 1417.2 573.2 1417.2 575 1422.5" fill="none" stroke="#231f20" stroke-width="1.4"/>
<path d="M585.8 1422.5 C591.6 1406.5 610.7 1406.5 616.5 1422.5" fill="none" stroke="#231f20" stroke-width="1.4"/>
<path d="M591.6 1422.5 C595.2 1412.3 607 1412.3 610.7 1422.5" fill="none" stroke="#231f20" stroke-width="1.4"/>
<path d="M596.5 1422.5 C598.3 1417.2 604 1417.2 605.7 1422.5" fill="none" stroke="#231f20" stroke-width="1.4"/>
<path d="M445.7 1439.2 C451.5 1423.2 470.3 1423.2 476.1 1439.2" fill="none" stroke="#231f20" stroke-width="1.4"/>
<path d="M451.5 1439.2 C455.1 1429 466.7 1429 470.3 1439.2" fill="none" stroke="#231f20" stroke-width="1.4"/>
<path d="M456.3 1439.2 C458.1 1433.9 463.7 1433.9 465.5 1439.2" fill="none" stroke="#231f20" stroke-width="1.4"/>
<path d="M476.1 1439.2 C481.9 1423.2 500.7 1423.2 506.5 1439.2" fill="none" stroke="#231f20" stroke-width="1.4"/>
<path d="M481.9 1439.2 C485.5 1429 497.1 1429 500.7 1439.2" fill="none" stroke="#231f20" stroke-width="1.4"/>
<path d="M486.7 1439.2 C488.5 1433.9 494.1 1433.9 495.9 1439.2" fill="none" stroke="#231f20" stroke-width="1.4"/>
<path d="M518.3 1439.2 C524.1 1423.2 543.1 1423.2 549 1439.2" fill="none" stroke="#231f20" stroke-width="1.4"/>
<path d="M524.1 1439.2 C527.7 1429 539.5 1429 543.1 1439.2" fill="none" stroke="#231f20" stroke-width="1.4"/>
<path d="M529 1439.2 C530.8 1433.9 536.5 1433.9 538.2 1439.2" fill="none" stroke="#231f20" stroke-width="1.4"/>
<path d="M549 1439.2 C554.8 1423.2 573.8 1423.2 579.6 1439.2" fill="none" stroke="#231f20" stroke-width="1.4"/>
<path d="M554.8 1439.2 C558.4 1429 570.2 1429 573.8 1439.2" fill="none" stroke="#231f20" stroke-width="1.4"/>
<path d="M559.7 1439.2 C561.4 1433.9 567.1 1433.9 568.9 1439.2" fill="none" stroke="#231f20" stroke-width="1.4"/>
<path d="M422 1443 L628 1443 Q631 1443 631 1446 L631 1464 Q631 1467 628 1467 L422 1467 Z" fill="url(#g5)" stroke="#231f20" stroke-width="1.8" stroke-linejoin="round"/>
<circle cx="489.4" cy="1447.3" r="2.1" fill="#231f20" stroke="none" stroke-width="0" />
<path d="M477.4 1453.8 L478.1 1453.7 L478.9 1453.3 L479.6 1452.7 L480.4 1452 L481.1 1451.3 L481.9 1450.7 L482.6 1450.3 L483.4 1450.2 L484.1 1450.3 L484.9 1450.7 L485.6 1451.3 L486.4 1452 L487.1 1452.7 L487.9 1453.3 L488.6 1453.7 L489.4 1453.8 L490.1 1453.7 L490.9 1453.3 L491.6 1452.7 L492.4 1452 L493.1 1451.3 L493.9 1450.7 L494.6 1450.3 L495.4 1450.2 L496.1 1450.3 L496.9 1450.7 L497.6 1451.3 L498.4 1452 L499.1 1452.7 L499.9 1453.3 L500.6 1453.7 L501.4 1453.8" fill="none" stroke="#231f20" stroke-width="1.3" stroke-linecap="round" stroke-linejoin="round"/>
<circle cx="564.8" cy="1447.3" r="2.1" fill="#231f20" stroke="none" stroke-width="0" />
<path d="M552.8 1453.8 L553.5 1453.7 L554.3 1453.3 L555 1452.7 L555.8 1452 L556.5 1451.3 L557.3 1450.7 L558 1450.3 L558.8 1450.2 L559.5 1450.3 L560.3 1450.7 L561 1451.3 L561.8 1452 L562.5 1452.7 L563.3 1453.3 L564 1453.7 L564.8 1453.8 L565.5 1453.7 L566.3 1453.3 L567 1452.7 L567.8 1452 L568.5 1451.3 L569.3 1450.7 L570 1450.3 L570.8 1450.2 L571.5 1450.3 L572.3 1450.7 L573 1451.3 L573.8 1452 L574.5 1452.7 L575.3 1453.3 L576 1453.7 L576.8 1453.8" fill="none" stroke="#231f20" stroke-width="1.3" stroke-linecap="round" stroke-linejoin="round"/>
<circle cx="453.5" cy="1460.9" r="5" fill="#231f20" stroke="none" stroke-width="0" />
<circle cx="453.5" cy="1460.9" r="3.5" fill="none" stroke="#e6d27a" stroke-width="0.8" />
<circle cx="453.5" cy="1460.9" r="2.1" fill="#231f20" stroke="none" stroke-width="0" />
<circle cx="524" cy="1460.9" r="5" fill="#231f20" stroke="none" stroke-width="0" />
<circle cx="524" cy="1460.9" r="3.5" fill="none" stroke="#e6d27a" stroke-width="0.8" />
<circle cx="524" cy="1460.9" r="2.1" fill="#231f20" stroke="none" stroke-width="0" />
<circle cx="597" cy="1460.9" r="5" fill="#231f20" stroke="none" stroke-width="0" />
<circle cx="597" cy="1460.9" r="3.5" fill="none" stroke="#e6d27a" stroke-width="0.8" />
<circle cx="597" cy="1460.9" r="2.1" fill="#231f20" stroke="none" stroke-width="0" />
<path d="M422 1468.6 L632.7 1468.6 Q635.7 1468.6 635.7 1471.6 L635.7 1483.7 Q635.7 1486.7 632.7 1486.7 L422 1486.7 Z" fill="#a9d94f" stroke="#231f20" stroke-width="1.8" stroke-linejoin="round"/>
<circle cx="452.7" cy="1473.3" r="2.1" fill="#231f20" stroke="none" stroke-width="0" />
<path d="M440.7 1479.8 L441.4 1479.7 L442.2 1479.3 L442.9 1478.7 L443.7 1478 L444.4 1477.3 L445.2 1476.7 L445.9 1476.3 L446.7 1476.2 L447.4 1476.3 L448.2 1476.7 L448.9 1477.3 L449.7 1478 L450.4 1478.7 L451.2 1479.3 L451.9 1479.7 L452.7 1479.8 L453.4 1479.7 L454.2 1479.3 L454.9 1478.7 L455.7 1478 L456.4 1477.3 L457.2 1476.7 L457.9 1476.3 L458.7 1476.2 L459.4 1476.3 L460.2 1476.7 L460.9 1477.3 L461.7 1478 L462.4 1478.7 L463.2 1479.3 L463.9 1479.7 L464.7 1479.8" fill="none" stroke="#231f20" stroke-width="1.3" stroke-linecap="round" stroke-linejoin="round"/>
<circle cx="524.4" cy="1473.3" r="2.1" fill="#231f20" stroke="none" stroke-width="0" />
<path d="M512.4 1479.8 L513.1 1479.7 L513.9 1479.3 L514.6 1478.7 L515.4 1478 L516.1 1477.3 L516.9 1476.7 L517.6 1476.3 L518.4 1476.2 L519.1 1476.3 L519.9 1476.7 L520.6 1477.3 L521.4 1478 L522.1 1478.7 L522.9 1479.3 L523.6 1479.7 L524.4 1479.8 L525.1 1479.7 L525.9 1479.3 L526.6 1478.7 L527.4 1478 L528.1 1477.3 L528.9 1476.7 L529.6 1476.3 L530.4 1476.2 L531.1 1476.3 L531.9 1476.7 L532.6 1477.3 L533.4 1478 L534.1 1478.7 L534.9 1479.3 L535.6 1479.7 L536.4 1479.8" fill="none" stroke="#231f20" stroke-width="1.3" stroke-linecap="round" stroke-linejoin="round"/>
<circle cx="596.4" cy="1473.3" r="2.1" fill="#231f20" stroke="none" stroke-width="0" />
<path d="M584.4 1479.8 L585.1 1479.7 L585.9 1479.3 L586.6 1478.7 L587.4 1478 L588.1 1477.3 L588.9 1476.7 L589.6 1476.3 L590.4 1476.2 L591.1 1476.3 L591.9 1476.7 L592.6 1477.3 L593.4 1478 L594.1 1478.7 L594.9 1479.3 L595.6 1479.7 L596.4 1479.8 L597.1 1479.7 L597.9 1479.3 L598.6 1478.7 L599.4 1478 L600.1 1477.3 L600.9 1476.7 L601.6 1476.3 L602.4 1476.2 L603.1 1476.3 L603.9 1476.7 L604.6 1477.3 L605.4 1478 L606.1 1478.7 L606.9 1479.3 L607.6 1479.7 L608.4 1479.8" fill="none" stroke="#231f20" stroke-width="1.3" stroke-linecap="round" stroke-linejoin="round"/>
<path d="M422 1486.7 L634.7 1486.7 Q637.7 1486.7 637.7 1489.7 L637.7 1499 Q637.7 1502 634.7 1502.6 L635.8 1504.6 Q632.8 1505.2 632.8 1508.5 L632.8 1540.8 Q632.8 1543.8 629.8 1543.8 L422 1543.8 Z" fill="url(#g6)" stroke="#231f20" stroke-width="1.8" stroke-linejoin="round"/>
<path d="M462 1500 C467.8 1484 486.6 1484 492.4 1500" fill="none" stroke="#231f20" stroke-width="1.4"/>
<path d="M467.8 1500 C471.3 1489.8 483 1489.8 486.6 1500" fill="none" stroke="#231f20" stroke-width="1.4"/>
<path d="M472.6 1500 C474.4 1494.7 480 1494.7 481.7 1500" fill="none" stroke="#231f20" stroke-width="1.4"/>
<path d="M492.4 1500 C498.1 1484 516.9 1484 522.7 1500" fill="none" stroke="#231f20" stroke-width="1.4"/>
<path d="M498.1 1500 C501.7 1489.8 513.4 1489.8 516.9 1500" fill="none" stroke="#231f20" stroke-width="1.4"/>
<path d="M503 1500 C504.7 1494.7 510.3 1494.7 512.1 1500" fill="none" stroke="#231f20" stroke-width="1.4"/>
<path d="M535.7 1500 C541.5 1484 560.3 1484 566 1500" fill="none" stroke="#231f20" stroke-width="1.4"/>
<path d="M541.5 1500 C545 1489.8 556.7 1489.8 560.3 1500" fill="none" stroke="#231f20" stroke-width="1.4"/>
<path d="M546.3 1500 C548.1 1494.7 553.7 1494.7 555.4 1500" fill="none" stroke="#231f20" stroke-width="1.4"/>
<path d="M566 1500 C571.8 1484 590.6 1484 596.4 1500" fill="none" stroke="#231f20" stroke-width="1.4"/>
<path d="M571.8 1500 C575.4 1489.8 587.1 1489.8 590.6 1500" fill="none" stroke="#231f20" stroke-width="1.4"/>
<path d="M576.7 1500 C578.4 1494.7 584 1494.7 585.8 1500" fill="none" stroke="#231f20" stroke-width="1.4"/>
<circle cx="462.6" cy="1511" r="3.9" fill="#231f20" stroke="none" stroke-width="0" />
<path d="M445.1 1523 L446.2 1522.8 L447.3 1522.2 L448.4 1521.4 L449.5 1520.4 L450.6 1519.4 L451.7 1518.6 L452.8 1518 L453.9 1517.8 L454.9 1518 L456 1518.6 L457.1 1519.4 L458.2 1520.4 L459.3 1521.4 L460.4 1522.2 L461.5 1522.8 L462.6 1523 L463.7 1522.8 L464.8 1522.2 L465.9 1521.4 L467 1520.4 L468.1 1519.4 L469.2 1518.6 L470.3 1518 L471.4 1517.8 L472.4 1518 L473.5 1518.6 L474.6 1519.4 L475.7 1520.4 L476.8 1521.4 L477.9 1522.2 L479 1522.8 L480.1 1523" fill="none" stroke="#231f20" stroke-width="3.1" stroke-linecap="round" stroke-linejoin="round"/>
<circle cx="536.3" cy="1511" r="3.9" fill="#231f20" stroke="none" stroke-width="0" />
<path d="M518.8 1523 L519.9 1522.8 L521 1522.2 L522.1 1521.4 L523.2 1520.4 L524.3 1519.4 L525.4 1518.6 L526.5 1518 L527.5 1517.8 L528.6 1518 L529.7 1518.6 L530.8 1519.4 L531.9 1520.4 L533 1521.4 L534.1 1522.2 L535.2 1522.8 L536.3 1523 L537.4 1522.8 L538.5 1522.2 L539.6 1521.4 L540.7 1520.4 L541.8 1519.4 L542.9 1518.6 L544 1518 L545 1517.8 L546.1 1518 L547.2 1518.6 L548.3 1519.4 L549.4 1520.4 L550.5 1521.4 L551.6 1522.2 L552.7 1522.8 L553.8 1523" fill="none" stroke="#231f20" stroke-width="3.1" stroke-linecap="round" stroke-linejoin="round"/>
<circle cx="498.4" cy="1527.5" r="2.5" fill="#231f20" stroke="none" stroke-width="0" />
<path d="M480.9 1537.8 L482 1537.6 L483.1 1537.2 L484.2 1536.4 L485.3 1535.6 L486.4 1534.8 L487.5 1534 L488.6 1533.6 L489.6 1533.4 L490.7 1533.6 L491.8 1534 L492.9 1534.8 L494 1535.6 L495.1 1536.4 L496.2 1537.2 L497.3 1537.6 L498.4 1537.8 L499.5 1537.6 L500.6 1537.2 L501.7 1536.4 L502.8 1535.6 L503.9 1534.8 L505 1534 L506.1 1533.6 L507.1 1533.4 L508.2 1533.6 L509.3 1534 L510.4 1534.8 L511.5 1535.6 L512.6 1536.4 L513.7 1537.2 L514.8 1537.6 L515.9 1537.8" fill="none" stroke="#231f20" stroke-width="1.3" stroke-linecap="round" stroke-linejoin="round"/>
<circle cx="573.7" cy="1527.5" r="2.5" fill="#231f20" stroke="none" stroke-width="0" />
<path d="M556.2 1537.8 L557.3 1537.6 L558.4 1537.2 L559.5 1536.4 L560.6 1535.6 L561.7 1534.8 L562.8 1534 L563.9 1533.6 L565 1533.4 L566 1533.6 L567.1 1534 L568.2 1534.8 L569.3 1535.6 L570.4 1536.4 L571.5 1537.2 L572.6 1537.6 L573.7 1537.8 L574.8 1537.6 L575.9 1537.2 L577 1536.4 L578.1 1535.6 L579.2 1534.8 L580.3 1534 L581.4 1533.6 L582.5 1533.4 L583.5 1533.6 L584.6 1534 L585.7 1534.8 L586.8 1535.6 L587.9 1536.4 L589 1537.2 L590.1 1537.6 L591.2 1537.8" fill="none" stroke="#231f20" stroke-width="1.3" stroke-linecap="round" stroke-linejoin="round"/>
<circle cx="609.2" cy="1511.5" r="2.5" fill="#231f20" stroke="none" stroke-width="0" />
<path d="M591.7 1521.8 L592.8 1521.6 L593.9 1521.2 L595 1520.4 L596.1 1519.6 L597.2 1518.8 L598.3 1518 L599.4 1517.6 L600.5 1517.4 L601.5 1517.6 L602.6 1518 L603.7 1518.8 L604.8 1519.6 L605.9 1520.4 L607 1521.2 L608.1 1521.6 L609.2 1521.8 L610.3 1521.6 L611.4 1521.2 L612.5 1520.4 L613.6 1519.6 L614.7 1518.8 L615.8 1518 L616.9 1517.6 L618 1517.4 L619 1517.6 L620.1 1518 L621.2 1518.8 L622.3 1519.6 L623.4 1520.4 L624.5 1521.2 L625.6 1521.6 L626.7 1521.8" fill="none" stroke="#231f20" stroke-width="1.3" stroke-linecap="round" stroke-linejoin="round"/>
<path d="M422 1544.3 L635.8 1544.3 Q638.8 1544.3 638.8 1547.3 L638.8 1557 Q638.8 1560 635.8 1560.6 L637 1562.6 Q634 1563.2 634 1566.5 L634 1566.8 Q634 1569.8 631 1569.8 L422 1569.8 Z" fill="url(#g7)" stroke="#231f20" stroke-width="1.8" stroke-linejoin="round"/>
<path d="M452.3 1558.1 C458.1 1542.1 477 1542.1 482.8 1558.1" fill="none" stroke="#231f20" stroke-width="1.4"/>
<path d="M458.1 1558.1 C461.7 1547.9 473.4 1547.9 477 1558.1" fill="none" stroke="#231f20" stroke-width="1.4"/>
<path d="M463 1558.1 C464.7 1552.8 470.4 1552.8 472.1 1558.1" fill="none" stroke="#231f20" stroke-width="1.4"/>
<path d="M482.8 1558.1 C488.5 1542.1 507.4 1542.1 513.2 1558.1" fill="none" stroke="#231f20" stroke-width="1.4"/>
<path d="M488.5 1558.1 C492.1 1547.9 503.8 1547.9 507.4 1558.1" fill="none" stroke="#231f20" stroke-width="1.4"/>
<path d="M493.4 1558.1 C495.1 1552.8 500.8 1552.8 502.5 1558.1" fill="none" stroke="#231f20" stroke-width="1.4"/>
<path d="M525.3 1558.1 C531.1 1542.1 550 1542.1 555.8 1558.1" fill="none" stroke="#231f20" stroke-width="1.4"/>
<path d="M531.1 1558.1 C534.7 1547.9 546.4 1547.9 550 1558.1" fill="none" stroke="#231f20" stroke-width="1.4"/>
<path d="M536 1558.1 C537.7 1552.8 543.4 1552.8 545.1 1558.1" fill="none" stroke="#231f20" stroke-width="1.4"/>
<path d="M555.8 1558.1 C561.5 1542.1 580.4 1542.1 586.2 1558.1" fill="none" stroke="#231f20" stroke-width="1.4"/>
<path d="M561.5 1558.1 C565.1 1547.9 576.8 1547.9 580.4 1558.1" fill="none" stroke="#231f20" stroke-width="1.4"/>
<path d="M566.4 1558.1 C568.1 1552.8 573.8 1552.8 575.5 1558.1" fill="none" stroke="#231f20" stroke-width="1.4"/>
<circle cx="433.5" cy="1562.8" r="5.2" fill="#231f20" stroke="none" stroke-width="0" />
<circle cx="433.5" cy="1562.8" r="3.6" fill="none" stroke="#e6d27a" stroke-width="0.8" />
<circle cx="433.5" cy="1562.8" r="2.2" fill="#231f20" stroke="none" stroke-width="0" />
<circle cx="518.5" cy="1562.8" r="5.2" fill="#231f20" stroke="none" stroke-width="0" />
<circle cx="518.5" cy="1562.8" r="3.6" fill="none" stroke="#e6d27a" stroke-width="0.8" />
<circle cx="518.5" cy="1562.8" r="2.2" fill="#231f20" stroke="none" stroke-width="0" />
<circle cx="593.7" cy="1562.8" r="5.2" fill="#231f20" stroke="none" stroke-width="0" />
<circle cx="593.7" cy="1562.8" r="3.6" fill="none" stroke="#e6d27a" stroke-width="0.8" />
<circle cx="593.7" cy="1562.8" r="2.2" fill="#231f20" stroke="none" stroke-width="0" />
<path d="M422 1570.6 L588.4 1570.6 Q591.4 1570.6 591.4 1573.6 L591.4 1584 Q591.4 1587 588.4 1587.6 L521.5 1589.6 Q518.5 1590.2 518.5 1593.5 L518.5 1594 Q518.5 1597 515.5 1597 L422 1597 Z" fill="url(#g8)" stroke="#231f20" stroke-width="1.8" stroke-linejoin="round"/>
<path d="M442.6 1581.1 Q457.8 1573.1 474.1 1581.1" fill="none" stroke="#231f20" stroke-width="1.3"/>
<path d="M447.6 1583.6 Q458.8 1577.1 470.1 1583.6" fill="none" stroke="#231f20" stroke-width="1.3"/>
<path d="M473.1 1581.1 Q488.3 1573.1 504.5 1581.1" fill="none" stroke="#231f20" stroke-width="1.3"/>
<path d="M478.1 1583.6 Q489.3 1577.1 500.5 1583.6" fill="none" stroke="#231f20" stroke-width="1.3"/>
<path d="M517.7 1581.1 Q532.9 1573.1 549.2 1581.1" fill="none" stroke="#231f20" stroke-width="1.3"/>
<path d="M522.7 1583.6 Q533.9 1577.1 545.2 1583.6" fill="none" stroke="#231f20" stroke-width="1.3"/>
<path d="M548.2 1581.1 Q563.4 1573.1 579.6 1581.1" fill="none" stroke="#231f20" stroke-width="1.3"/>
<path d="M553.2 1583.6 Q564.4 1577.1 575.6 1583.6" fill="none" stroke="#231f20" stroke-width="1.3"/>
<line x1="440.3" y1="1592" x2="455.3" y2="1592" stroke="#2a2a2a" stroke-width="1.6" />
<ellipse cx="474.9" cy="1591.4" rx="6.5" ry="3.8" fill="#3e3a3c" stroke="#231f20" stroke-width="0.8"/>
<line x1="493.7" y1="1592" x2="508" y2="1592" stroke="#2a2a2a" stroke-width="1.6" />
<path d="M422 1597 L635.8 1597 Q638.8 1597 638.8 1600 L638.8 1609 Q638.8 1612 635.8 1612.6 L594.4 1614.6 Q591.4 1615.2 591.4 1618.5 L591.4 1633.8 Q591.4 1636.8 588.4 1636.8 L422 1636.8 Z" fill="url(#g9)" stroke="#231f20" stroke-width="1.8" stroke-linejoin="round"/>
<path d="M453.8 1611.5 C459.6 1595.5 478.5 1595.5 484.3 1611.5" fill="none" stroke="#231f20" stroke-width="1.4"/>
<path d="M459.6 1611.5 C463.2 1601.3 474.9 1601.3 478.5 1611.5" fill="none" stroke="#231f20" stroke-width="1.4"/>
<path d="M464.5 1611.5 C466.2 1606.2 471.9 1606.2 473.6 1611.5" fill="none" stroke="#231f20" stroke-width="1.4"/>
<path d="M484.2 1611.5 C490 1595.5 508.9 1595.5 514.7 1611.5" fill="none" stroke="#231f20" stroke-width="1.4"/>
<path d="M490 1611.5 C493.6 1601.3 505.3 1601.3 508.9 1611.5" fill="none" stroke="#231f20" stroke-width="1.4"/>
<path d="M494.9 1611.5 C496.6 1606.2 502.3 1606.2 504 1611.5" fill="none" stroke="#231f20" stroke-width="1.4"/>
<path d="M527.5 1611.5 C533.3 1595.5 552.2 1595.5 558 1611.5" fill="none" stroke="#231f20" stroke-width="1.4"/>
<path d="M533.3 1611.5 C536.9 1601.3 548.6 1601.3 552.2 1611.5" fill="none" stroke="#231f20" stroke-width="1.4"/>
<path d="M538.2 1611.5 C539.9 1606.2 545.6 1606.2 547.3 1611.5" fill="none" stroke="#231f20" stroke-width="1.4"/>
<path d="M558 1611.5 C563.7 1595.5 582.6 1595.5 588.4 1611.5" fill="none" stroke="#231f20" stroke-width="1.4"/>
<path d="M563.7 1611.5 C567.3 1601.3 579 1601.3 582.6 1611.5" fill="none" stroke="#231f20" stroke-width="1.4"/>
<path d="M568.6 1611.5 C570.3 1606.2 576 1606.2 577.7 1611.5" fill="none" stroke="#231f20" stroke-width="1.4"/>
<line x1="430.5" y1="1627.7" x2="445.6" y2="1627.7" stroke="#5a2a5a" stroke-width="1.6" />
<ellipse cx="474.9" cy="1627.7" rx="6.5" ry="3.8" fill="#3e3a3c" stroke="#231f20" stroke-width="0.8"/>
<line x1="501.2" y1="1628.2" x2="516.2" y2="1628.2" stroke="#5a2a5a" stroke-width="1.6" />
<ellipse cx="545.6" cy="1627.7" rx="6.5" ry="3.8" fill="#3e3a3c" stroke="#231f20" stroke-width="0.8"/>
<line x1="566.6" y1="1628.2" x2="581.7" y2="1628.2" stroke="#5a2a5a" stroke-width="1.6" />
<path d="M422 1637.5 L629 1637.5 Q632 1637.5 632 1640.5 L632 1657.8 Q632 1660.8 629 1661.4 L594.4 1663.4 Q591.4 1664 591.4 1667.3 L591.4 1677.4 Q591.4 1680.4 588.4 1680.4 L422 1680.4 Z" fill="url(#g10)" stroke="#231f20" stroke-width="2.2" stroke-linejoin="round"/>
<circle cx="469.6" cy="1650.3" r="7.5" fill="#231f20" stroke="none" stroke-width="0" />
<circle cx="469.6" cy="1650.3" r="5.2" fill="none" stroke="#e6d27a" stroke-width="1.1" />
<circle cx="469.6" cy="1650.3" r="3.1" fill="#231f20" stroke="none" stroke-width="0" />
<circle cx="546.6" cy="1649.8" r="7.5" fill="#231f20" stroke="none" stroke-width="0" />
<circle cx="546.6" cy="1649.8" r="5.2" fill="none" stroke="#e6d27a" stroke-width="1.1" />
<circle cx="546.6" cy="1649.8" r="3.1" fill="#231f20" stroke="none" stroke-width="0" />
<circle cx="507.5" cy="1651.8" r="1.6" fill="#231f20" stroke="none" stroke-width="0" />
<circle cx="512.9" cy="1651.8" r="1.6" fill="#231f20" stroke="none" stroke-width="0" />
<circle cx="589.9" cy="1651" r="1.6" fill="#231f20" stroke="none" stroke-width="0" />
<circle cx="595.3" cy="1651" r="1.6" fill="#231f20" stroke="none" stroke-width="0" />
<line x1="462" y1="1673.6" x2="477" y2="1673.6" stroke="#5a2a5a" stroke-width="1.6" />
<line x1="537.3" y1="1673.6" x2="552.3" y2="1673.6" stroke="#5a2a5a" stroke-width="1.6" />
<path d="M422 1681.9 L625 1681.9 Q630.5 1682.5 629.5 1686 Q627 1691 620 1693.2 L422 1693.2 Z" fill="#efd468" stroke="#231f20" stroke-width="1.6" />
<circle cx="459.8" cy="1687.6" r="4.4" fill="#231f20" stroke="none" stroke-width="0" />
<circle cx="459.8" cy="1687.6" r="3.1" fill="none" stroke="#e6d27a" stroke-width="0.8" />
<circle cx="459.8" cy="1687.6" r="1.8" fill="#231f20" stroke="none" stroke-width="0" />
<circle cx="523" cy="1687.6" r="4.4" fill="#231f20" stroke="none" stroke-width="0" />
<circle cx="523" cy="1687.6" r="3.1" fill="none" stroke="#e6d27a" stroke-width="0.8" />
<circle cx="523" cy="1687.6" r="1.8" fill="#231f20" stroke="none" stroke-width="0" />
<circle cx="579.4" cy="1687.6" r="4.4" fill="#231f20" stroke="none" stroke-width="0" />
<circle cx="579.4" cy="1687.6" r="3.1" fill="none" stroke="#e6d27a" stroke-width="0.8" />
<circle cx="579.4" cy="1687.6" r="1.8" fill="#231f20" stroke="none" stroke-width="0" />
<path d="M422 1694 L590.8 1694 Q593.8 1694 593.8 1697 L593.8 1743 Q593.8 1746 590.8 1746.6 L558 1748.6 Q555 1749.2 555 1752.5 L555 1749.5 Q555 1752.5 552 1752.5 L422 1752.5 Z" fill="url(#g11)" stroke="#231f20" stroke-width="1.8" stroke-linejoin="round"/>
<path d="M463 1704.9 Q478.2 1696.9 494.5 1704.9" fill="none" stroke="#231f20" stroke-width="1.3"/>
<path d="M468 1707.4 Q479.2 1700.9 490.5 1707.4" fill="none" stroke="#231f20" stroke-width="1.3"/>
<path d="M493.5 1704.9 Q508.8 1696.9 525 1704.9" fill="none" stroke="#231f20" stroke-width="1.3"/>
<path d="M498.5 1707.4 Q509.8 1700.9 521 1707.4" fill="none" stroke="#231f20" stroke-width="1.3"/>
<path d="M531.8 1704.9 Q547 1696.9 563.1 1704.9" fill="none" stroke="#231f20" stroke-width="1.3"/>
<path d="M536.8 1707.4 Q548 1700.9 559.1 1707.4" fill="none" stroke="#231f20" stroke-width="1.3"/>
<path d="M562.1 1704.9 Q577.3 1696.9 593.5 1704.9" fill="none" stroke="#231f20" stroke-width="1.3"/>
<path d="M567.1 1707.4 Q578.3 1700.9 589.5 1707.4" fill="none" stroke="#231f20" stroke-width="1.3"/>
<path d="M433.6 1715.2 Q448.8 1707.2 465 1715.2" fill="none" stroke="#231f20" stroke-width="1.3"/>
<path d="M438.6 1717.7 Q449.8 1711.2 461 1717.7" fill="none" stroke="#231f20" stroke-width="1.3"/>
<path d="M464 1715.2 Q479.1 1707.2 495.3 1715.2" fill="none" stroke="#231f20" stroke-width="1.3"/>
<path d="M469 1717.7 Q480.1 1711.2 491.3 1717.7" fill="none" stroke="#231f20" stroke-width="1.3"/>
<path d="M498 1715.2 Q513.2 1707.2 529.5 1715.2" fill="none" stroke="#231f20" stroke-width="1.3"/>
<path d="M503 1717.7 Q514.2 1711.2 525.5 1717.7" fill="none" stroke="#231f20" stroke-width="1.3"/>
<path d="M528.5 1715.2 Q543.8 1707.2 560 1715.2" fill="none" stroke="#231f20" stroke-width="1.3"/>
<path d="M533.5 1717.7 Q544.8 1711.2 556 1717.7" fill="none" stroke="#231f20" stroke-width="1.3"/>
<path d="M463 1725.5 Q478.2 1717.5 494.5 1725.5" fill="none" stroke="#231f20" stroke-width="1.3"/>
<path d="M468 1728 Q479.2 1721.5 490.5 1728" fill="none" stroke="#231f20" stroke-width="1.3"/>
<path d="M493.5 1725.5 Q508.8 1717.5 525 1725.5" fill="none" stroke="#231f20" stroke-width="1.3"/>
<path d="M498.5 1728 Q509.8 1721.5 521 1728" fill="none" stroke="#231f20" stroke-width="1.3"/>
<path d="M529.5 1725.5 Q544.9 1717.5 561.4 1725.5" fill="none" stroke="#231f20" stroke-width="1.3"/>
<path d="M534.5 1728 Q545.9 1721.5 557.4 1728" fill="none" stroke="#231f20" stroke-width="1.3"/>
<path d="M560.4 1725.5 Q575.8 1717.5 592.2 1725.5" fill="none" stroke="#231f20" stroke-width="1.3"/>
<path d="M565.4 1728 Q576.8 1721.5 588.2 1728" fill="none" stroke="#231f20" stroke-width="1.3"/>
<path d="M433.6 1737.2 Q448.8 1729.2 465 1737.2" fill="none" stroke="#231f20" stroke-width="1.3"/>
<path d="M438.6 1739.7 Q449.8 1733.2 461 1739.7" fill="none" stroke="#231f20" stroke-width="1.3"/>
<path d="M464 1737.2 Q479.1 1729.2 495.3 1737.2" fill="none" stroke="#231f20" stroke-width="1.3"/>
<path d="M469 1739.7 Q480.1 1733.2 491.3 1739.7" fill="none" stroke="#231f20" stroke-width="1.3"/>
<path d="M498 1737.2 Q513.2 1729.2 529.5 1737.2" fill="none" stroke="#231f20" stroke-width="1.3"/>
<path d="M503 1739.7 Q514.2 1733.2 525.5 1739.7" fill="none" stroke="#231f20" stroke-width="1.3"/>
<path d="M528.5 1737.2 Q543.8 1729.2 560 1737.2" fill="none" stroke="#231f20" stroke-width="1.3"/>
<path d="M533.5 1739.7 Q544.8 1733.2 556 1739.7" fill="none" stroke="#231f20" stroke-width="1.3"/>
<circle cx="461.9" cy="1750" r="1.6" fill="#231f20" stroke="none" stroke-width="0" />
<circle cx="467.3" cy="1750" r="1.6" fill="#231f20" stroke="none" stroke-width="0" />
<circle cx="514.9" cy="1750" r="1.6" fill="#231f20" stroke="none" stroke-width="0" />
<circle cx="520.3" cy="1750" r="1.6" fill="#231f20" stroke="none" stroke-width="0" />
<path d="M422 1753.7 L592 1753.7 Q595 1753.7 595 1756.7 L595 1783 Q595 1786 592 1786 L422 1786 Z" fill="#cdebd0" stroke="#231f20" stroke-width="1.8" stroke-linejoin="round"/>
<path d="M428.4 1766.9 Q443.5 1758.9 459.7 1766.9" fill="none" stroke="#231f20" stroke-width="1.3"/>
<path d="M433.4 1769.4 Q444.5 1762.9 455.7 1769.4" fill="none" stroke="#231f20" stroke-width="1.3"/>
<path d="M458.7 1766.9 Q473.9 1758.9 490 1766.9" fill="none" stroke="#231f20" stroke-width="1.3"/>
<path d="M463.7 1769.4 Q474.9 1762.9 486 1769.4" fill="none" stroke="#231f20" stroke-width="1.3"/>
<path d="M497 1766.9 Q512.1 1758.9 528.3 1766.9" fill="none" stroke="#231f20" stroke-width="1.3"/>
<path d="M502 1769.4 Q513.1 1762.9 524.3 1769.4" fill="none" stroke="#231f20" stroke-width="1.3"/>
<path d="M527.3 1766.9 Q542.4 1758.9 558.6 1766.9" fill="none" stroke="#231f20" stroke-width="1.3"/>
<path d="M532.3 1769.4 Q543.4 1762.9 554.6 1769.4" fill="none" stroke="#231f20" stroke-width="1.3"/>
<path d="M462 1778.5 Q477.2 1770.5 493.4 1778.5" fill="none" stroke="#231f20" stroke-width="1.3"/>
<path d="M467 1781 Q478.2 1774.5 489.4 1781" fill="none" stroke="#231f20" stroke-width="1.3"/>
<path d="M492.4 1778.5 Q507.5 1770.5 523.7 1778.5" fill="none" stroke="#231f20" stroke-width="1.3"/>
<path d="M497.4 1781 Q508.5 1774.5 519.7 1781" fill="none" stroke="#231f20" stroke-width="1.3"/>
<path d="M531.8 1778.5 Q547 1770.5 563.1 1778.5" fill="none" stroke="#231f20" stroke-width="1.3"/>
<path d="M536.8 1781 Q548 1774.5 559.1 1781" fill="none" stroke="#231f20" stroke-width="1.3"/>
<path d="M562.1 1778.5 Q577.3 1770.5 593.5 1778.5" fill="none" stroke="#231f20" stroke-width="1.3"/>
<path d="M567.1 1781 Q578.3 1774.5 589.5 1781" fill="none" stroke="#231f20" stroke-width="1.3"/>
<path d="M422 1787 L589 1787 Q593 1788 592.5 1792 Q589 1800 584 1803 L422 1803 Z" fill="#cb82cb" stroke="#231f20" stroke-width="1.6" />
<line x1="454" y1="1796.4" x2="469.8" y2="1796.4" stroke="#5a2a5a" stroke-width="1.6" />
<line x1="528" y1="1796.4" x2="543.4" y2="1796.4" stroke="#5a2a5a" stroke-width="1.6" />
<path d="M422 1804 L637 1804 Q641 1805 640 1810 Q633 1826 628.5 1836 L628 1845.5 L422 1845.5 Z" fill="#cdebd0" stroke="#231f20" stroke-width="1.6" />
<path d="M478.8 1820 C484.6 1804 503.4 1804 509.2 1820" fill="none" stroke="#231f20" stroke-width="1.4"/>
<path d="M484.6 1820 C488.1 1809.8 499.8 1809.8 503.4 1820" fill="none" stroke="#231f20" stroke-width="1.4"/>
<path d="M489.4 1820 C491.2 1814.7 496.8 1814.7 498.5 1820" fill="none" stroke="#231f20" stroke-width="1.4"/>
<path d="M509.1 1820 C514.9 1804 533.7 1804 539.5 1820" fill="none" stroke="#231f20" stroke-width="1.4"/>
<path d="M514.9 1820 C518.5 1809.8 530.2 1809.8 533.7 1820" fill="none" stroke="#231f20" stroke-width="1.4"/>
<path d="M519.8 1820 C521.5 1814.7 527.1 1814.7 528.9 1820" fill="none" stroke="#231f20" stroke-width="1.4"/>
<path d="M552.5 1820 C558.3 1804 577.1 1804 582.8 1820" fill="none" stroke="#231f20" stroke-width="1.4"/>
<path d="M558.3 1820 C561.8 1809.8 573.5 1809.8 577.1 1820" fill="none" stroke="#231f20" stroke-width="1.4"/>
<path d="M563.1 1820 C564.9 1814.7 570.5 1814.7 572.2 1820" fill="none" stroke="#231f20" stroke-width="1.4"/>
<path d="M582.9 1820 C588.6 1804 607.4 1804 613.2 1820" fill="none" stroke="#231f20" stroke-width="1.4"/>
<path d="M588.6 1820 C592.2 1809.8 603.9 1809.8 607.4 1820" fill="none" stroke="#231f20" stroke-width="1.4"/>
<path d="M593.5 1820 C595.2 1814.7 600.8 1814.7 602.6 1820" fill="none" stroke="#231f20" stroke-width="1.4"/>
<path d="M437.5 1836.8 C443.3 1820.8 462.1 1820.8 467.9 1836.8" fill="none" stroke="#231f20" stroke-width="1.4"/>
<path d="M443.3 1836.8 C446.8 1826.6 458.5 1826.6 462.1 1836.8" fill="none" stroke="#231f20" stroke-width="1.4"/>
<path d="M448.1 1836.8 C449.9 1831.5 455.5 1831.5 457.2 1836.8" fill="none" stroke="#231f20" stroke-width="1.4"/>
<path d="M467.9 1836.8 C473.6 1820.8 492.4 1820.8 498.2 1836.8" fill="none" stroke="#231f20" stroke-width="1.4"/>
<path d="M473.6 1836.8 C477.2 1826.6 488.9 1826.6 492.4 1836.8" fill="none" stroke="#231f20" stroke-width="1.4"/>
<path d="M478.5 1836.8 C480.2 1831.5 485.8 1831.5 487.6 1836.8" fill="none" stroke="#231f20" stroke-width="1.4"/>
<path d="M511 1836.8 C516.8 1820.8 535.6 1820.8 541.4 1836.8" fill="none" stroke="#231f20" stroke-width="1.4"/>
<path d="M516.8 1836.8 C520.4 1826.6 532 1826.6 535.6 1836.8" fill="none" stroke="#231f20" stroke-width="1.4"/>
<path d="M521.6 1836.8 C523.4 1831.5 529 1831.5 530.8 1836.8" fill="none" stroke="#231f20" stroke-width="1.4"/>
<path d="M541.4 1836.8 C547.2 1820.8 566 1820.8 571.8 1836.8" fill="none" stroke="#231f20" stroke-width="1.4"/>
<path d="M547.2 1836.8 C550.8 1826.6 562.4 1826.6 566 1836.8" fill="none" stroke="#231f20" stroke-width="1.4"/>
<path d="M552 1836.8 C553.8 1831.5 559.4 1831.5 561.2 1836.8" fill="none" stroke="#231f20" stroke-width="1.4"/>
<path d="M422 1846.8 L626 1846.8 Q631 1847.5 630 1851 Q627 1856 620 1857 L557 1857 Q555 1858 555 1862 L555 1875 L422 1875 Z" fill="#efd468" stroke="#231f20" stroke-width="1.6" />
<circle cx="433.6" cy="1853.2" r="4.4" fill="#231f20" stroke="none" stroke-width="0" />
<circle cx="433.6" cy="1853.2" r="3.1" fill="none" stroke="#e6d27a" stroke-width="0.8" />
<circle cx="433.6" cy="1853.2" r="1.8" fill="#231f20" stroke="none" stroke-width="0" />
<circle cx="486.6" cy="1853.2" r="4.4" fill="#231f20" stroke="none" stroke-width="0" />
<circle cx="486.6" cy="1853.2" r="3.1" fill="none" stroke="#e6d27a" stroke-width="0.8" />
<circle cx="486.6" cy="1853.2" r="1.8" fill="#231f20" stroke="none" stroke-width="0" />
<circle cx="546" cy="1853.2" r="4.4" fill="#231f20" stroke="none" stroke-width="0" />
<circle cx="546" cy="1853.2" r="3.1" fill="none" stroke="#e6d27a" stroke-width="0.8" />
<circle cx="546" cy="1853.2" r="1.8" fill="#231f20" stroke="none" stroke-width="0" />
<circle cx="456.9" cy="1854.5" r="1.5" fill="#231f20" stroke="none" stroke-width="0" />
<circle cx="461.1" cy="1854.5" r="1.5" fill="#231f20" stroke="none" stroke-width="0" />
<circle cx="513.4" cy="1854.5" r="1.5" fill="#231f20" stroke="none" stroke-width="0" />
<circle cx="517.6" cy="1854.5" r="1.5" fill="#231f20" stroke="none" stroke-width="0" />
<circle cx="581.4" cy="1852.7" r="1.5" fill="#231f20" stroke="none" stroke-width="0" />
<circle cx="585.6" cy="1852.7" r="1.5" fill="#231f20" stroke="none" stroke-width="0" />
<circle cx="427.6" cy="1863" r="1.5" fill="#231f20" stroke="none" stroke-width="0" />
<circle cx="431.8" cy="1863" r="1.5" fill="#231f20" stroke="none" stroke-width="0" />
<circle cx="484.5" cy="1863" r="1.5" fill="#231f20" stroke="none" stroke-width="0" />
<circle cx="488.7" cy="1863" r="1.5" fill="#231f20" stroke="none" stroke-width="0" />
<circle cx="542.6" cy="1863" r="1.5" fill="#231f20" stroke="none" stroke-width="0" />
<circle cx="546.8" cy="1863" r="1.5" fill="#231f20" stroke="none" stroke-width="0" />
<circle cx="456.9" cy="1870" r="1.5" fill="#231f20" stroke="none" stroke-width="0" />
<circle cx="461.1" cy="1870" r="1.5" fill="#231f20" stroke="none" stroke-width="0" />
<circle cx="513.4" cy="1870" r="1.5" fill="#231f20" stroke="none" stroke-width="0" />
<circle cx="517.6" cy="1870" r="1.5" fill="#231f20" stroke="none" stroke-width="0" />
<path d="M422 1876 L626 1876 Q631 1877 630 1882 Q628 1893 621 1900 L422 1900 Z" fill="#efd468" stroke="#231f20" stroke-width="2" />
<circle cx="464.6" cy="1887.6" r="7.2" fill="#231f20" stroke="none" stroke-width="0" />
<circle cx="464.6" cy="1887.6" r="5" fill="none" stroke="#e6d27a" stroke-width="1" />
<circle cx="464.6" cy="1887.6" r="3" fill="#231f20" stroke="none" stroke-width="0" />
<circle cx="526" cy="1887.6" r="7.2" fill="#231f20" stroke="none" stroke-width="0" />
<circle cx="526" cy="1887.6" r="5" fill="none" stroke="#e6d27a" stroke-width="1" />
<circle cx="526" cy="1887.6" r="3" fill="#231f20" stroke="none" stroke-width="0" />
<circle cx="588.6" cy="1887.6" r="7.2" fill="#231f20" stroke="none" stroke-width="0" />
<circle cx="588.6" cy="1887.6" r="5" fill="none" stroke="#e6d27a" stroke-width="1" />
<circle cx="588.6" cy="1887.6" r="3" fill="#231f20" stroke="none" stroke-width="0" />
<path d="M422 1900.5 L632.7 1900.5 Q635.7 1900.5 635.7 1903.5 L635.7 1924.6 Q635.7 1927.6 632.7 1927.6 L422 1927.6 Z" fill="#a9d94f" stroke="#231f20" stroke-width="1.8" stroke-linejoin="round"/>
<circle cx="464.6" cy="1911.6" r="2.1" fill="#231f20" stroke="none" stroke-width="0" />
<path d="M452.6 1918.1 L453.4 1918 L454.1 1917.6 L454.9 1917 L455.6 1916.3 L456.4 1915.6 L457.1 1915 L457.9 1914.6 L458.6 1914.5 L459.4 1914.6 L460.1 1915 L460.9 1915.6 L461.6 1916.3 L462.4 1917 L463.1 1917.6 L463.9 1918 L464.6 1918.1 L465.4 1918 L466.1 1917.6 L466.9 1917 L467.6 1916.3 L468.4 1915.6 L469.1 1915 L469.9 1914.6 L470.6 1914.5 L471.4 1914.6 L472.1 1915 L472.9 1915.6 L473.6 1916.3 L474.4 1917 L475.1 1917.6 L475.9 1918 L476.6 1918.1" fill="none" stroke="#231f20" stroke-width="1.3" stroke-linecap="round" stroke-linejoin="round"/>
<circle cx="532.6" cy="1911.6" r="2.1" fill="#231f20" stroke="none" stroke-width="0" />
<path d="M520.6 1918.1 L521.4 1918 L522.1 1917.6 L522.9 1917 L523.6 1916.3 L524.4 1915.6 L525.1 1915 L525.9 1914.6 L526.6 1914.5 L527.4 1914.6 L528.1 1915 L528.9 1915.6 L529.6 1916.3 L530.4 1917 L531.1 1917.6 L531.9 1918 L532.6 1918.1 L533.4 1918 L534.1 1917.6 L534.9 1917 L535.6 1916.3 L536.4 1915.6 L537.1 1915 L537.9 1914.6 L538.6 1914.5 L539.4 1914.6 L540.1 1915 L540.9 1915.6 L541.6 1916.3 L542.4 1917 L543.1 1917.6 L543.9 1918 L544.6 1918.1" fill="none" stroke="#231f20" stroke-width="1.3" stroke-linecap="round" stroke-linejoin="round"/>
<circle cx="596.4" cy="1911.6" r="2.1" fill="#231f20" stroke="none" stroke-width="0" />
<path d="M584.4 1918.1 L585.1 1918 L585.9 1917.6 L586.6 1917 L587.4 1916.3 L588.1 1915.6 L588.9 1915 L589.6 1914.6 L590.4 1914.5 L591.1 1914.6 L591.9 1915 L592.6 1915.6 L593.4 1916.3 L594.1 1917 L594.9 1917.6 L595.6 1918 L596.4 1918.1 L597.1 1918 L597.9 1917.6 L598.6 1917 L599.4 1916.3 L600.1 1915.6 L600.9 1915 L601.6 1914.6 L602.4 1914.5 L603.1 1914.6 L603.9 1915 L604.6 1915.6 L605.4 1916.3 L606.1 1917 L606.9 1917.6 L607.6 1918 L608.4 1918.1" fill="none" stroke="#231f20" stroke-width="1.3" stroke-linecap="round" stroke-linejoin="round"/>
<path d="M422 1928 L634.7 1928 Q637.7 1928 637.7 1931 L637.7 1940 Q637.7 1943 634.7 1943.6 L635 1945.6 Q632 1946.2 632 1949.5 L632 1955.3 Q632 1958.3 629 1958.3 L422 1958.3 Z" fill="url(#g12)" stroke="#231f20" stroke-width="1.8" stroke-linejoin="round"/>
<path d="M456.3 1941.5 C462.1 1925.5 481.1 1925.5 486.9 1941.5" fill="none" stroke="#231f20" stroke-width="1.4"/>
<path d="M462.1 1941.5 C465.7 1931.3 477.5 1931.3 481.1 1941.5" fill="none" stroke="#231f20" stroke-width="1.4"/>
<path d="M467 1941.5 C468.8 1936.2 474.5 1936.2 476.2 1941.5" fill="none" stroke="#231f20" stroke-width="1.4"/>
<path d="M487 1941.5 C492.8 1925.5 511.8 1925.5 517.6 1941.5" fill="none" stroke="#231f20" stroke-width="1.4"/>
<path d="M492.8 1941.5 C496.4 1931.3 508.2 1931.3 511.8 1941.5" fill="none" stroke="#231f20" stroke-width="1.4"/>
<path d="M497.7 1941.5 C499.4 1936.2 505.1 1936.2 506.9 1941.5" fill="none" stroke="#231f20" stroke-width="1.4"/>
<path d="M529 1941.5 C534.8 1925.5 553.9 1925.5 559.7 1941.5" fill="none" stroke="#231f20" stroke-width="1.4"/>
<path d="M534.8 1941.5 C538.4 1931.3 550.3 1931.3 553.9 1941.5" fill="none" stroke="#231f20" stroke-width="1.4"/>
<path d="M539.7 1941.5 C541.5 1936.2 547.2 1936.2 549 1941.5" fill="none" stroke="#231f20" stroke-width="1.4"/>
<path d="M559.7 1941.5 C565.5 1925.5 584.6 1925.5 590.4 1941.5" fill="none" stroke="#231f20" stroke-width="1.4"/>
<path d="M565.5 1941.5 C569.1 1931.3 581 1931.3 584.6 1941.5" fill="none" stroke="#231f20" stroke-width="1.4"/>
<path d="M570.4 1941.5 C572.2 1936.2 577.9 1936.2 579.7 1941.5" fill="none" stroke="#231f20" stroke-width="1.4"/>
<circle cx="486.6" cy="1947.3" r="2.1" fill="#231f20" stroke="none" stroke-width="0" />
<path d="M474.6 1953.8 L475.4 1953.7 L476.1 1953.3 L476.9 1952.7 L477.6 1952 L478.4 1951.3 L479.1 1950.7 L479.9 1950.3 L480.6 1950.2 L481.4 1950.3 L482.1 1950.7 L482.9 1951.3 L483.6 1952 L484.4 1952.7 L485.1 1953.3 L485.9 1953.7 L486.6 1953.8 L487.4 1953.7 L488.1 1953.3 L488.9 1952.7 L489.6 1952 L490.4 1951.3 L491.1 1950.7 L491.9 1950.3 L492.6 1950.2 L493.4 1950.3 L494.1 1950.7 L494.9 1951.3 L495.6 1952 L496.4 1952.7 L497.1 1953.3 L497.9 1953.7 L498.6 1953.8" fill="none" stroke="#231f20" stroke-width="1.3" stroke-linecap="round" stroke-linejoin="round"/>
<circle cx="560.2" cy="1946.3" r="2.1" fill="#231f20" stroke="none" stroke-width="0" />
<path d="M548.2 1952.8 L549 1952.7 L549.7 1952.3 L550.5 1951.7 L551.2 1951 L552 1950.3 L552.7 1949.7 L553.5 1949.3 L554.2 1949.2 L555 1949.3 L555.7 1949.7 L556.5 1950.3 L557.2 1951 L558 1951.7 L558.7 1952.3 L559.5 1952.7 L560.2 1952.8 L561 1952.7 L561.7 1952.3 L562.5 1951.7 L563.2 1951 L564 1950.3 L564.7 1949.7 L565.5 1949.3 L566.2 1949.2 L567 1949.3 L567.7 1949.7 L568.5 1950.3 L569.2 1951 L570 1951.7 L570.7 1952.3 L571.5 1952.7 L572.2 1952.8" fill="none" stroke="#231f20" stroke-width="1.3" stroke-linecap="round" stroke-linejoin="round"/>
<path d="M422 1959.5 L551.6 1959.5 Q554.6 1959.5 554.6 1962.5 L554.6 1966.8 Q554.6 1969.3 557.6 1969.3 L590 1969.3 Q593 1969.3 593 1972.3 L593 1986.6 Q593 1989.6 590 1989.6 L422 1989.6 Z" fill="url(#g13)" stroke="#231f20" stroke-width="1.8" stroke-linejoin="round"/>
<circle cx="455.6" cy="1966.3" r="1.6" fill="#231f20" stroke="none" stroke-width="0" />
<circle cx="461" cy="1966.3" r="1.6" fill="#231f20" stroke="none" stroke-width="0" />
<circle cx="520" cy="1965.6" r="1.6" fill="#231f20" stroke="none" stroke-width="0" />
<circle cx="525.4" cy="1965.6" r="1.6" fill="#231f20" stroke="none" stroke-width="0" />
<path d="M435.8 1982.1 Q450.9 1974.1 466.9 1982.1" fill="none" stroke="#231f20" stroke-width="1.3"/>
<path d="M440.8 1984.6 Q451.9 1978.1 462.9 1984.6" fill="none" stroke="#231f20" stroke-width="1.3"/>
<path d="M465.9 1982.1 Q480.9 1974.1 497 1982.1" fill="none" stroke="#231f20" stroke-width="1.3"/>
<path d="M470.9 1984.6 Q481.9 1978.1 493 1984.6" fill="none" stroke="#231f20" stroke-width="1.3"/>
<path d="M511.7 1982.1 Q526.9 1974.1 543.1 1982.1" fill="none" stroke="#231f20" stroke-width="1.3"/>
<path d="M516.7 1984.6 Q527.9 1978.1 539.1 1984.6" fill="none" stroke="#231f20" stroke-width="1.3"/>
<path d="M542.1 1982.1 Q557.4 1974.1 573.6 1982.1" fill="none" stroke="#231f20" stroke-width="1.3"/>
<path d="M547.1 1984.6 Q558.4 1978.1 569.6 1984.6" fill="none" stroke="#231f20" stroke-width="1.3"/>
<path d="M422 1990.4 L635.8 1990.4 Q638.8 1990.4 638.8 1993.4 L638.8 2007.7 Q638.8 2010.7 635.8 2011.3 L595.2 2013.3 Q592.2 2013.9 592.2 2017.2 L592.2 2029.5 Q592.2 2032.5 589.2 2032.5 L422 2032.5 Z" fill="#cdebd0" stroke="#231f20" stroke-width="1.8" stroke-linejoin="round"/>
<path d="M450 2011.5 C455.8 1995.5 474.7 1995.5 480.5 2011.5" fill="none" stroke="#231f20" stroke-width="1.4"/>
<path d="M455.8 2011.5 C459.4 2001.3 471.1 2001.3 474.7 2011.5" fill="none" stroke="#231f20" stroke-width="1.4"/>
<path d="M460.7 2011.5 C462.4 2006.2 468.1 2006.2 469.8 2011.5" fill="none" stroke="#231f20" stroke-width="1.4"/>
<path d="M480.5 2011.5 C486.3 1995.5 505.2 1995.5 511 2011.5" fill="none" stroke="#231f20" stroke-width="1.4"/>
<path d="M486.3 2011.5 C489.9 2001.3 501.6 2001.3 505.2 2011.5" fill="none" stroke="#231f20" stroke-width="1.4"/>
<path d="M491.2 2011.5 C492.9 2006.2 498.6 2006.2 500.3 2011.5" fill="none" stroke="#231f20" stroke-width="1.4"/>
<path d="M535.8 2011.5 C541.6 1995.5 560.5 1995.5 566.2 2011.5" fill="none" stroke="#231f20" stroke-width="1.4"/>
<path d="M541.6 2011.5 C545.2 2001.3 556.9 2001.3 560.5 2011.5" fill="none" stroke="#231f20" stroke-width="1.4"/>
<path d="M546.5 2011.5 C548.2 2006.2 553.9 2006.2 555.6 2011.5" fill="none" stroke="#231f20" stroke-width="1.4"/>
<path d="M566.2 2011.5 C572 1995.5 590.9 1995.5 596.7 2011.5" fill="none" stroke="#231f20" stroke-width="1.4"/>
<path d="M572 2011.5 C575.6 2001.3 587.3 2001.3 590.9 2011.5" fill="none" stroke="#231f20" stroke-width="1.4"/>
<path d="M576.9 2011.5 C578.6 2006.2 584.3 2006.2 586 2011.5" fill="none" stroke="#231f20" stroke-width="1.4"/>
<path d="M441.8 2025.5 Q456.9 2017.5 472.9 2025.5" fill="none" stroke="#231f20" stroke-width="1.3"/>
<path d="M446.8 2028 Q457.9 2021.5 468.9 2028" fill="none" stroke="#231f20" stroke-width="1.3"/>
<path d="M471.9 2025.5 Q486.9 2017.5 503 2025.5" fill="none" stroke="#231f20" stroke-width="1.3"/>
<path d="M476.9 2028 Q487.9 2021.5 499 2028" fill="none" stroke="#231f20" stroke-width="1.3"/>
<path d="M525.3 2025.5 Q540.3 2017.5 556.3 2025.5" fill="none" stroke="#231f20" stroke-width="1.3"/>
<path d="M530.3 2028 Q541.3 2021.5 552.3 2028" fill="none" stroke="#231f20" stroke-width="1.3"/>
<path d="M555.3 2025.5 Q570.4 2017.5 586.4 2025.5" fill="none" stroke="#231f20" stroke-width="1.3"/>
<path d="M560.3 2028 Q571.4 2021.5 582.4 2028" fill="none" stroke="#231f20" stroke-width="1.3"/>
<path d="M422 2033 L514.7 2033 Q517.7 2033 517.7 2036 L517.7 2051.8 Q517.7 2054.3 520.7 2054.3 L553.8 2054.3 Q556.8 2054.3 556.8 2057.3 L556.8 2075.3 Q556.8 2078.3 553.8 2078.3 L422 2078.3 Z" fill="url(#g14)" stroke="#231f20" stroke-width="2" stroke-linejoin="round"/>
<line x1="427.5" y1="2042" x2="442.6" y2="2042" stroke="#3a3a3a" stroke-width="1.6" />
<line x1="467.4" y1="2042" x2="481.7" y2="2042" stroke="#3a3a3a" stroke-width="1.6" />
<line x1="445.6" y1="2052.8" x2="460.6" y2="2052.8" stroke="#3a3a3a" stroke-width="1.6" />
<line x1="487.7" y1="2052.8" x2="502.7" y2="2052.8" stroke="#3a3a3a" stroke-width="1.6" />
<circle cx="479" cy="2067.8" r="1.6" fill="#231f20" stroke="none" stroke-width="0" />
<circle cx="484.4" cy="2067.8" r="1.6" fill="#231f20" stroke="none" stroke-width="0" />
<circle cx="528.6" cy="2068" r="1.6" fill="#231f20" stroke="none" stroke-width="0" />
<circle cx="534" cy="2068" r="1.6" fill="#231f20" stroke="none" stroke-width="0" />
<circle cx="449.3" cy="2073" r="1.6" fill="#231f20" stroke="none" stroke-width="0" />
<circle cx="454.7" cy="2073" r="1.6" fill="#231f20" stroke="none" stroke-width="0" />
<circle cx="504.3" cy="2073.5" r="1.6" fill="#231f20" stroke="none" stroke-width="0" />
<circle cx="509.7" cy="2073.5" r="1.6" fill="#231f20" stroke="none" stroke-width="0" />
<path d="M422 2079.8 L588 2079.8 Q592 2080.5 591.5 2084 Q587 2088 580 2089.6 L422 2089.6 Z" fill="#cb82cb" stroke="#231f20" stroke-width="2" />
<line x1="454.6" y1="2085.9" x2="469.6" y2="2085.9" stroke="#231f20" stroke-width="2.4" />
<line x1="528.3" y1="2085.9" x2="543.3" y2="2085.9" stroke="#231f20" stroke-width="2.4" />
<path d="M422 2090.4 L599 2090.4 Q604 2091 604.5 2097 L603 2130 L600.5 2158 L422 2158 Z" fill="#cdebd0" stroke="#231f20" stroke-width="2" />
<path d="M0 0.5 C-0.4 -2.2 1.5 -4.2 4 -4.3 C5 -5.3 7.5 -5.4 9 -4 C10.5 -4.8 12.3 -4.3 13.2 -3 C15.5 -3.6 18 -3.4 19.5 -2.2 C21 -3 24 -2.6 24.6 -0.8 C25 1 23.4 2.2 21.5 1.8 C20 2.8 17.5 2.6 16.2 1.9 C14.5 3.8 12 4.5 10.2 3.6 C8.5 5 5.5 5.2 3.8 4.2 C1.6 4.6 -0.2 3 0 0.5 Z" fill="#231f20" stroke="#231f20" stroke-width="0.9" transform="translate(453.2 2111) scale(1)"/>
<path d="M456.2 2109.5 l5 -0.6 M459.2 2112.2 l6 -0.4" stroke="#5a5a5a" stroke-width="0.6" fill="none"/>
<path d="M0 0.5 C-0.4 -2.2 1.5 -4.2 4 -4.3 C5 -5.3 7.5 -5.4 9 -4 C10.5 -4.8 12.3 -4.3 13.2 -3 C15.5 -3.6 18 -3.4 19.5 -2.2 C21 -3 24 -2.6 24.6 -0.8 C25 1 23.4 2.2 21.5 1.8 C20 2.8 17.5 2.6 16.2 1.9 C14.5 3.8 12 4.5 10.2 3.6 C8.5 5 5.5 5.2 3.8 4.2 C1.6 4.6 -0.2 3 0 0.5 Z" fill="#231f20" stroke="#231f20" stroke-width="0.9" transform="translate(520.7 2111) scale(1)"/>
<path d="M523.7 2109.5 l5 -0.6 M526.7 2112.2 l6 -0.4" stroke="#5a5a5a" stroke-width="0.6" fill="none"/>
<path d="M0 0.5 C-0.4 -2.2 1.5 -4.2 4 -4.3 C5 -5.3 7.5 -5.4 9 -4 C10.5 -4.8 12.3 -4.3 13.2 -3 C15.5 -3.6 18 -3.4 19.5 -2.2 C21 -3 24 -2.6 24.6 -0.8 C25 1 23.4 2.2 21.5 1.8 C20 2.8 17.5 2.6 16.2 1.9 C14.5 3.8 12 4.5 10.2 3.6 C8.5 5 5.5 5.2 3.8 4.2 C1.6 4.6 -0.2 3 0 0.5 Z" fill="#231f20" stroke="#231f20" stroke-width="0.9" transform="translate(487.7 2127.5) scale(1)"/>
<path d="M490.7 2126 l5 -0.6 M493.7 2128.7 l6 -0.4" stroke="#5a5a5a" stroke-width="0.6" fill="none"/>
<path d="M0 0.5 C-0.4 -2.2 1.5 -4.2 4 -4.3 C5 -5.3 7.5 -5.4 9 -4 C10.5 -4.8 12.3 -4.3 13.2 -3 C15.5 -3.6 18 -3.4 19.5 -2.2 C21 -3 24 -2.6 24.6 -0.8 C25 1 23.4 2.2 21.5 1.8 C20 2.8 17.5 2.6 16.2 1.9 C14.5 3.8 12 4.5 10.2 3.6 C8.5 5 5.5 5.2 3.8 4.2 C1.6 4.6 -0.2 3 0 0.5 Z" fill="#231f20" stroke="#231f20" stroke-width="0.9" transform="translate(562.7 2127.5) scale(1)"/>
<path d="M565.7 2126 l5 -0.6 M568.7 2128.7 l6 -0.4" stroke="#5a5a5a" stroke-width="0.6" fill="none"/>
<path d="M0 0.5 C-0.4 -2.2 1.5 -4.2 4 -4.3 C5 -5.3 7.5 -5.4 9 -4 C10.5 -4.8 12.3 -4.3 13.2 -3 C15.5 -3.6 18 -3.4 19.5 -2.2 C21 -3 24 -2.6 24.6 -0.8 C25 1 23.4 2.2 21.5 1.8 C20 2.8 17.5 2.6 16.2 1.9 C14.5 3.8 12 4.5 10.2 3.6 C8.5 5 5.5 5.2 3.8 4.2 C1.6 4.6 -0.2 3 0 0.5 Z" fill="#231f20" stroke="#231f20" stroke-width="0.9" transform="translate(451.7 2144) scale(1)"/>
<path d="M454.7 2142.5 l5 -0.6 M457.7 2145.2 l6 -0.4" stroke="#5a5a5a" stroke-width="0.6" fill="none"/>
<path d="M0 0.5 C-0.4 -2.2 1.5 -4.2 4 -4.3 C5 -5.3 7.5 -5.4 9 -4 C10.5 -4.8 12.3 -4.3 13.2 -3 C15.5 -3.6 18 -3.4 19.5 -2.2 C21 -3 24 -2.6 24.6 -0.8 C25 1 23.4 2.2 21.5 1.8 C20 2.8 17.5 2.6 16.2 1.9 C14.5 3.8 12 4.5 10.2 3.6 C8.5 5 5.5 5.2 3.8 4.2 C1.6 4.6 -0.2 3 0 0.5 Z" fill="#231f20" stroke="#231f20" stroke-width="0.9" transform="translate(520.7 2144) scale(1)"/>
<path d="M523.7 2142.5 l5 -0.6 M526.7 2145.2 l6 -0.4" stroke="#5a5a5a" stroke-width="0.6" fill="none"/>
<path d="M422 2158.6 L626 2158.6 Q631 2159.5 630.5 2164 Q628 2175 621 2181.5 L422 2181.5 Z" fill="#efd468" stroke="#231f20" stroke-width="2" />
<circle cx="465.3" cy="2170.3" r="7.4" fill="#231f20" stroke="none" stroke-width="0" />
<circle cx="465.3" cy="2170.3" r="5.2" fill="none" stroke="#e6d27a" stroke-width="1" />
<circle cx="465.3" cy="2170.3" r="3.1" fill="#231f20" stroke="none" stroke-width="0" />
<circle cx="526.6" cy="2170.3" r="7.4" fill="#231f20" stroke="none" stroke-width="0" />
<circle cx="526.6" cy="2170.3" r="5.2" fill="none" stroke="#e6d27a" stroke-width="1" />
<circle cx="526.6" cy="2170.3" r="3.1" fill="#231f20" stroke="none" stroke-width="0" />
<circle cx="588.6" cy="2170.3" r="7.4" fill="#231f20" stroke="none" stroke-width="0" />
<circle cx="588.6" cy="2170.3" r="5.2" fill="none" stroke="#e6d27a" stroke-width="1" />
<circle cx="588.6" cy="2170.3" r="3.1" fill="#231f20" stroke="none" stroke-width="0" />
<path d="M422 2184 L634 2184 Q638.5 2184.5 638.5 2189 L638.5 2199 Q638 2204 633 2204 L521 2204 Q518 2204.5 517.7 2208 L517.7 2213 L422 2213 Z" fill="url(#g15)" stroke="#231f20" stroke-width="2.2" />
<clipPath id="cpB42"><rect x="422" y="2184" width="217" height="20"/></clipPath><g clip-path="url(#cpB42)">
<path d="M448 2202 C452.5 2186 467 2186 471.5 2202" fill="none" stroke="#231f20" stroke-width="1.4"/>
<path d="M452.5 2202 C455.2 2191.8 464.3 2191.8 467 2202" fill="none" stroke="#231f20" stroke-width="1.4"/>
<path d="M456.2 2202 C457.6 2196.7 461.9 2196.7 463.3 2202" fill="none" stroke="#231f20" stroke-width="1.4"/>
<path d="M471.5 2202 C476 2186 490.5 2186 495 2202" fill="none" stroke="#231f20" stroke-width="1.4"/>
<path d="M476 2202 C478.7 2191.8 487.8 2191.8 490.5 2202" fill="none" stroke="#231f20" stroke-width="1.4"/>
<path d="M479.7 2202 C481.1 2196.7 485.4 2196.7 486.8 2202" fill="none" stroke="#231f20" stroke-width="1.4"/>
<path d="M552 2202 C556.5 2186 571 2186 575.5 2202" fill="none" stroke="#231f20" stroke-width="1.4"/>
<path d="M556.5 2202 C559.2 2191.8 568.3 2191.8 571 2202" fill="none" stroke="#231f20" stroke-width="1.4"/>
<path d="M560.2 2202 C561.6 2196.7 565.9 2196.7 567.3 2202" fill="none" stroke="#231f20" stroke-width="1.4"/>
<path d="M575.5 2202 C580 2186 594.5 2186 599 2202" fill="none" stroke="#231f20" stroke-width="1.4"/>
<path d="M580 2202 C582.7 2191.8 591.8 2191.8 594.5 2202" fill="none" stroke="#231f20" stroke-width="1.4"/>
<path d="M583.7 2202 C585.1 2196.7 589.4 2196.7 590.8 2202" fill="none" stroke="#231f20" stroke-width="1.4"/>
</g>
<line x1="441" y1="2208.5" x2="456" y2="2208.5" stroke="#231f20" stroke-width="1.8" />
<line x1="483.5" y1="2208.5" x2="498.5" y2="2208.5" stroke="#231f20" stroke-width="1.8" />
<path d="M422 2213 L517.5 2213 L516.5 2230 L518 2250 L516.5 2270 L518 2290 L516.8 2310 L518 2330 L517 2344 L422 2344 Z" fill="#4c4b4d" stroke="#231f20" stroke-width="1.8" />
<line x1="441" y1="2231" x2="456" y2="2231" stroke="#1a1a1a" stroke-width="1.8" />
<line x1="484" y1="2231" x2="499" y2="2231" stroke="#1a1a1a" stroke-width="1.8" />
<line x1="463" y1="2244" x2="478" y2="2244" stroke="#1a1a1a" stroke-width="1.8" />
<line x1="441" y1="2256.3" x2="456" y2="2256.3" stroke="#1a1a1a" stroke-width="1.8" />
<line x1="484" y1="2256.3" x2="499" y2="2256.3" stroke="#1a1a1a" stroke-width="1.8" />
<line x1="463" y1="2269.5" x2="478" y2="2269.5" stroke="#1a1a1a" stroke-width="1.8" />
<line x1="441" y1="2284" x2="456" y2="2284" stroke="#1a1a1a" stroke-width="1.8" />
<line x1="484" y1="2284" x2="499" y2="2284" stroke="#1a1a1a" stroke-width="1.8" />
<line x1="463" y1="2297.5" x2="478" y2="2297.5" stroke="#1a1a1a" stroke-width="1.8" />
<line x1="441" y1="2314" x2="456" y2="2314" stroke="#1a1a1a" stroke-width="1.8" />
<line x1="484" y1="2313.5" x2="499" y2="2313.5" stroke="#1a1a1a" stroke-width="1.8" />
<line x1="463" y1="2327.5" x2="478" y2="2327.5" stroke="#1a1a1a" stroke-width="1.8" />
</g>
<g id="sed">
<path d="M697.2 492.2 C714.6 489.9 730.3 490.5 745.1 492.3 S771.2 491.5 784.3 491.5" fill="none" stroke="#231f20" stroke-width="2.5"/>
<path d="M697.2 499.7 C714.6 497.4 730.3 498 745.1 499.8 S771.2 499 784.3 499" fill="none" stroke="#231f20" stroke-width="2.5"/>
<path d="M697.2 507.2 C714.6 504.9 730.3 505.5 745.1 507.3 S771.2 506.5 784.3 506.5" fill="none" stroke="#231f20" stroke-width="2.5"/>
<path d="M697.2 568.3 C714.6 566 730.3 566.6 745.1 568.4 S771.2 567.6 784.3 567.6" fill="none" stroke="#231f20" stroke-width="2.5"/>
<path d="M697.2 575.8 C714.6 573.5 730.3 574.1 745.1 575.9 S771.2 575.1 784.3 575.1" fill="none" stroke="#231f20" stroke-width="2.5"/>
<path d="M697.2 583.3 C714.6 581 730.3 581.6 745.1 583.4 S771.2 582.6 784.3 582.6" fill="none" stroke="#231f20" stroke-width="2.5"/>
<path d="M697.2 644 C714.6 641.7 730.3 642.3 745.1 644.1 S771.2 643.3 784.3 643.3" fill="none" stroke="#231f20" stroke-width="2.5"/>
<path d="M697.2 651.5 C714.6 649.2 730.3 649.8 745.1 651.6 S771.2 650.8 784.3 650.8" fill="none" stroke="#231f20" stroke-width="2.5"/>
<path d="M697.2 659 C714.6 656.7 730.3 657.3 745.1 659.1 S771.2 658.3 784.3 658.3" fill="none" stroke="#231f20" stroke-width="2.5"/>
<path d="M697.2 720 C714.6 717.7 730.3 718.3 745.1 720.1 S771.2 719.3 784.3 719.3" fill="none" stroke="#231f20" stroke-width="2.5"/>
<path d="M697.2 727.5 C714.6 725.2 730.3 725.8 745.1 727.6 S771.2 726.8 784.3 726.8" fill="none" stroke="#231f20" stroke-width="2.5"/>
<path d="M697.2 735 C714.6 732.7 730.3 733.3 745.1 735.1 S771.2 734.3 784.3 734.3" fill="none" stroke="#231f20" stroke-width="2.5"/>
<path d="M697.2 796 C714.6 793.7 730.3 794.3 745.1 796.1 S771.2 795.3 784.3 795.3" fill="none" stroke="#231f20" stroke-width="2.5"/>
<path d="M697.2 803.5 C714.6 801.2 730.3 801.8 745.1 803.6 S771.2 802.8 784.3 802.8" fill="none" stroke="#231f20" stroke-width="2.5"/>
<path d="M697.2 811 C714.6 808.7 730.3 809.3 745.1 811.1 S771.2 810.3 784.3 810.3" fill="none" stroke="#231f20" stroke-width="2.5"/>
<path d="M697.2 872.2 C714.6 869.9 730.3 870.5 745.1 872.3 S771.2 871.5 784.3 871.5" fill="none" stroke="#231f20" stroke-width="2.5"/>
<path d="M697.2 879.7 C714.6 877.4 730.3 878 745.1 879.8 S771.2 879 784.3 879" fill="none" stroke="#231f20" stroke-width="2.5"/>
<path d="M697.2 887.2 C714.6 884.9 730.3 885.5 745.1 887.3 S771.2 886.5 784.3 886.5" fill="none" stroke="#231f20" stroke-width="2.5"/>
<path d="M697.2 948.3 C714.6 946 730.3 946.6 745.1 948.4 S771.2 947.6 784.3 947.6" fill="none" stroke="#231f20" stroke-width="2.5"/>
<path d="M697.2 955.8 C714.6 953.5 730.3 954.1 745.1 955.9 S771.2 955.1 784.3 955.1" fill="none" stroke="#231f20" stroke-width="2.5"/>
<path d="M697.2 963.3 C714.6 961 730.3 961.6 745.1 963.4 S771.2 962.6 784.3 962.6" fill="none" stroke="#231f20" stroke-width="2.5"/>
<path d="M697.2 1023 C714.6 1020.7 730.3 1021.3 745.1 1023.1 S771.2 1022.3 784.3 1022.3" fill="none" stroke="#231f20" stroke-width="2.5"/>
<path d="M697.2 1030.5 C714.6 1028.2 730.3 1028.8 745.1 1030.6 S771.2 1029.8 784.3 1029.8" fill="none" stroke="#231f20" stroke-width="2.5"/>
<path d="M697.2 1038 C714.6 1035.7 730.3 1036.3 745.1 1038.1 S771.2 1037.3 784.3 1037.3" fill="none" stroke="#231f20" stroke-width="2.5"/>
<path d="M697.2 1099.2 C714.6 1096.9 730.3 1097.5 745.1 1099.3 S771.2 1098.5 784.3 1098.5" fill="none" stroke="#231f20" stroke-width="2.5"/>
<path d="M697.2 1106.7 C714.6 1104.4 730.3 1105 745.1 1106.8 S771.2 1106 784.3 1106" fill="none" stroke="#231f20" stroke-width="2.5"/>
<path d="M697.2 1114.2 C714.6 1111.9 730.3 1112.5 745.1 1114.3 S771.2 1113.5 784.3 1113.5" fill="none" stroke="#231f20" stroke-width="2.5"/>
<path d="M697.2 1175 C714.6 1172.7 730.3 1173.3 745.1 1175.1 S771.2 1174.3 784.3 1174.3" fill="none" stroke="#231f20" stroke-width="2.5"/>
<path d="M697.2 1182.5 C714.6 1180.2 730.3 1180.8 745.1 1182.6 S771.2 1181.8 784.3 1181.8" fill="none" stroke="#231f20" stroke-width="2.5"/>
<path d="M697.2 1190 C714.6 1187.7 730.3 1188.3 745.1 1190.1 S771.2 1189.3 784.3 1189.3" fill="none" stroke="#231f20" stroke-width="2.5"/>
<path d="M697.2 1250.6 C714.6 1248.3 730.3 1248.9 745.1 1250.7 S771.2 1249.9 784.3 1249.9" fill="none" stroke="#231f20" stroke-width="2.5"/>
<path d="M697.2 1258.1 C714.6 1255.8 730.3 1256.4 745.1 1258.2 S771.2 1257.4 784.3 1257.4" fill="none" stroke="#231f20" stroke-width="2.5"/>
<path d="M697.2 1265.6 C714.6 1263.3 730.3 1263.9 745.1 1265.7 S771.2 1264.9 784.3 1264.9" fill="none" stroke="#231f20" stroke-width="2.5"/>
<path d="M697.2 1326.7 C714.6 1324.4 730.3 1325 745.1 1326.8 S771.2 1326 784.3 1326" fill="none" stroke="#231f20" stroke-width="2.5"/>
<path d="M697.2 1334.2 C714.6 1331.9 730.3 1332.5 745.1 1334.3 S771.2 1333.5 784.3 1333.5" fill="none" stroke="#231f20" stroke-width="2.5"/>
<path d="M697.2 1341.7 C714.6 1339.4 730.3 1340 745.1 1341.8 S771.2 1341 784.3 1341" fill="none" stroke="#231f20" stroke-width="2.5"/>
<path d="M697.2 1379.5 C714.6 1377.2 730.3 1377.8 745.1 1379.6 S771.2 1378.8 784.3 1378.8" fill="none" stroke="#231f20" stroke-width="2.5"/>
<path d="M697.2 1387 C714.6 1384.7 730.3 1385.3 745.1 1387.1 S771.2 1386.3 784.3 1386.3" fill="none" stroke="#231f20" stroke-width="2.5"/>
<path d="M697.2 1394.5 C714.6 1392.2 730.3 1392.8 745.1 1394.6 S771.2 1393.8 784.3 1393.8" fill="none" stroke="#231f20" stroke-width="2.5"/>
<path d="M697.2 1490 C714.6 1487.7 730.3 1488.3 745.1 1490.1 S771.2 1489.3 784.3 1489.3" fill="none" stroke="#231f20" stroke-width="2.5"/>
<path d="M697.2 1497.5 C714.6 1495.2 730.3 1495.8 745.1 1497.6 S771.2 1496.8 784.3 1496.8" fill="none" stroke="#231f20" stroke-width="2.5"/>
<path d="M697.2 1505 C714.6 1502.7 730.3 1503.3 745.1 1505.1 S771.2 1504.3 784.3 1504.3" fill="none" stroke="#231f20" stroke-width="2.5"/>
<path d="M697.2 1679.7 C714.6 1677.4 730.3 1678 745.1 1679.8 S771.2 1679 784.3 1679" fill="none" stroke="#231f20" stroke-width="2.5"/>
<path d="M697.2 1687.2 C714.6 1684.9 730.3 1685.5 745.1 1687.3 S771.2 1686.5 784.3 1686.5" fill="none" stroke="#231f20" stroke-width="2.5"/>
<path d="M697.2 1694.7 C714.6 1692.4 730.3 1693 745.1 1694.8 S771.2 1694 784.3 1694" fill="none" stroke="#231f20" stroke-width="2.5"/>
<path d="M697.2 1766.5 C714.6 1764.2 730.3 1764.8 745.1 1766.6 S771.2 1765.8 784.3 1765.8" fill="none" stroke="#231f20" stroke-width="2.5"/>
<path d="M697.2 1774 C714.6 1771.7 730.3 1772.3 745.1 1774.1 S771.2 1773.3 784.3 1773.3" fill="none" stroke="#231f20" stroke-width="2.5"/>
<path d="M697.2 1781.5 C714.6 1779.2 730.3 1779.8 745.1 1781.6 S771.2 1780.8 784.3 1780.8" fill="none" stroke="#231f20" stroke-width="2.5"/>
<path d="M697.2 1913.3 C714.6 1911 730.3 1911.6 745.1 1913.4 S771.2 1912.6 784.3 1912.6" fill="none" stroke="#231f20" stroke-width="2.5"/>
<path d="M697.2 1920.8 C714.6 1918.5 730.3 1919.1 745.1 1920.9 S771.2 1920.1 784.3 1920.1" fill="none" stroke="#231f20" stroke-width="2.5"/>
<path d="M697.2 1928.3 C714.6 1926 730.3 1926.6 745.1 1928.4 S771.2 1927.6 784.3 1927.6" fill="none" stroke="#231f20" stroke-width="2.5"/>
<path d="M697.2 1425.9 C699.2 1425.3 704.7 1423.2 709.3 1422.1 C713.8 1421 720.9 1419.6 724.5 1419.2 C728.1 1418.8 729.2 1419.1 730.9 1419.6 C732.6 1420.1 733.5 1421.2 734.8 1422.1 C736 1423 737.2 1424.5 738.5 1425 C739.8 1425.5 739.4 1425.7 742.4 1425.2 C745.4 1424.7 751.9 1423.1 756.4 1422.1 C760.8 1421.1 766.1 1419.6 769.1 1419.2 C772 1418.8 772.5 1419 774.1 1419.6 C775.8 1420.2 777.5 1421.7 779.2 1422.7 C780.9 1423.8 783.5 1425.4 784.3 1425.9" fill="none" stroke="#231f20" stroke-width="2.6" stroke-linecap="round"/>
<path d="M697.2 1434.7 C699.2 1434.1 704.7 1432 709.3 1430.9 C713.8 1429.8 720.9 1428.4 724.5 1428 C728.1 1427.6 729.2 1427.9 730.9 1428.4 C732.6 1428.9 733.5 1430 734.8 1430.9 C736 1431.8 737.2 1433.3 738.5 1433.8 C739.8 1434.3 739.4 1434.5 742.4 1434 C745.4 1433.5 751.9 1431.9 756.4 1430.9 C760.8 1429.9 766.1 1428.4 769.1 1428 C772 1427.6 772.5 1427.8 774.1 1428.4 C775.8 1429 777.5 1430.5 779.2 1431.5 C780.9 1432.5 783.5 1434.2 784.3 1434.7" fill="none" stroke="#231f20" stroke-width="2.6" stroke-linecap="round"/>
<path d="M697.2 1539.4 C699.2 1538.8 704.7 1536.7 709.3 1535.6 C713.8 1534.5 720.9 1533.1 724.5 1532.7 C728.1 1532.3 729.2 1532.6 730.9 1533.1 C732.6 1533.6 733.5 1534.7 734.8 1535.6 C736 1536.5 737.2 1538 738.5 1538.5 C739.8 1539 739.4 1539.2 742.4 1538.7 C745.4 1538.2 751.9 1536.6 756.4 1535.6 C760.8 1534.6 766.1 1533.1 769.1 1532.7 C772 1532.3 772.5 1532.5 774.1 1533.1 C775.8 1533.7 777.5 1535.2 779.2 1536.2 C780.9 1537.2 783.5 1538.9 784.3 1539.4" fill="none" stroke="#231f20" stroke-width="2.6" stroke-linecap="round"/>
<path d="M697.2 1548.2 C699.2 1547.6 704.7 1545.5 709.3 1544.4 C713.8 1543.3 720.9 1541.9 724.5 1541.5 C728.1 1541.1 729.2 1541.4 730.9 1541.9 C732.6 1542.4 733.5 1543.5 734.8 1544.4 C736 1545.3 737.2 1546.8 738.5 1547.3 C739.8 1547.8 739.4 1548 742.4 1547.5 C745.4 1547 751.9 1545.4 756.4 1544.4 C760.8 1543.4 766.1 1541.9 769.1 1541.5 C772 1541.1 772.5 1541.3 774.1 1541.9 C775.8 1542.5 777.5 1544 779.2 1545 C780.9 1546 783.5 1547.7 784.3 1548.2" fill="none" stroke="#231f20" stroke-width="2.6" stroke-linecap="round"/>
<path d="M697.2 2020.6 C699.2 2020 704.7 2017.9 709.3 2016.8 C713.8 2015.7 720.9 2014.3 724.5 2013.9 C728.1 2013.5 729.2 2013.8 730.9 2014.3 C732.6 2014.8 733.5 2015.9 734.8 2016.8 C736 2017.7 737.2 2019.2 738.5 2019.7 C739.8 2020.2 739.4 2020.4 742.4 2019.9 C745.4 2019.4 751.9 2017.8 756.4 2016.8 C760.8 2015.8 766.1 2014.3 769.1 2013.9 C772 2013.5 772.5 2013.7 774.1 2014.3 C775.8 2014.9 777.5 2016.4 779.2 2017.4 C780.9 2018.5 783.5 2020.1 784.3 2020.6" fill="none" stroke="#231f20" stroke-width="2.6" stroke-linecap="round"/>
<path d="M697.2 2029.4 C699.2 2028.8 704.7 2026.7 709.3 2025.6 C713.8 2024.5 720.9 2023.1 724.5 2022.7 C728.1 2022.3 729.2 2022.6 730.9 2023.1 C732.6 2023.6 733.5 2024.7 734.8 2025.6 C736 2026.5 737.2 2028 738.5 2028.5 C739.8 2029 739.4 2029.2 742.4 2028.7 C745.4 2028.2 751.9 2026.6 756.4 2025.6 C760.8 2024.6 766.1 2023.1 769.1 2022.7 C772 2022.3 772.5 2022.5 774.1 2023.1 C775.8 2023.7 777.5 2025.2 779.2 2026.2 C780.9 2027.2 783.5 2028.9 784.3 2029.4" fill="none" stroke="#231f20" stroke-width="2.6" stroke-linecap="round"/>
<path d="M697.2 2138.1 C699.2 2137.5 704.7 2135.4 709.3 2134.3 C713.8 2133.2 720.9 2131.8 724.5 2131.4 C728.1 2131 729.2 2131.3 730.9 2131.8 C732.6 2132.3 733.5 2133.4 734.8 2134.3 C736 2135.2 737.2 2136.7 738.5 2137.2 C739.8 2137.7 739.4 2137.9 742.4 2137.4 C745.4 2136.9 751.9 2135.3 756.4 2134.3 C760.8 2133.3 766.1 2131.8 769.1 2131.4 C772 2131 772.5 2131.2 774.1 2131.8 C775.8 2132.4 777.5 2133.9 779.2 2134.9 C780.9 2135.9 783.5 2137.6 784.3 2138.1" fill="none" stroke="#231f20" stroke-width="2.6" stroke-linecap="round"/>
<path d="M697.2 2146.9 C699.2 2146.3 704.7 2144.2 709.3 2143.1 C713.8 2142 720.9 2140.6 724.5 2140.2 C728.1 2139.8 729.2 2140.1 730.9 2140.6 C732.6 2141.1 733.5 2142.2 734.8 2143.1 C736 2144 737.2 2145.5 738.5 2146 C739.8 2146.5 739.4 2146.7 742.4 2146.2 C745.4 2145.7 751.9 2144.1 756.4 2143.1 C760.8 2142.1 766.1 2140.6 769.1 2140.2 C772 2139.8 772.5 2140 774.1 2140.6 C775.8 2141.2 777.5 2142.7 779.2 2143.7 C780.9 2144.8 783.5 2146.4 784.3 2146.9" fill="none" stroke="#231f20" stroke-width="2.6" stroke-linecap="round"/>
<path d="M800.3 1460.5 C813.5 1461.5 823.5 1443.5 839 1443.5 C854.5 1443.5 864.5 1461.5 877.7 1460.5" fill="none" stroke="#231f20" stroke-width="2.7" stroke-linecap="round"/>
<path d="M800.3 1471.1 C813.5 1472.1 823.5 1454.1 839 1454.1 C854.5 1454.1 864.5 1472.1 877.7 1471.1" fill="none" stroke="#231f20" stroke-width="2.7" stroke-linecap="round"/>
<path d="M700.7 1593.5 C714.1 1594.5 724.3 1576.5 740.1 1576.5 C755.9 1576.5 766.1 1594.5 779.5 1593.5" fill="none" stroke="#231f20" stroke-width="2.7" stroke-linecap="round"/>
<path d="M700.7 1604.1 C714.1 1605.1 724.3 1587.1 740.1 1587.1 C755.9 1587.1 766.1 1605.1 779.5 1604.1" fill="none" stroke="#231f20" stroke-width="2.7" stroke-linecap="round"/>
<path d="M701.5 1846.5 C714.8 1847.5 725 1829.5 740.8 1829.5 C756.5 1829.5 766.7 1847.5 780 1846.5" fill="none" stroke="#231f20" stroke-width="2.7" stroke-linecap="round"/>
<path d="M701.5 1857.1 C714.8 1858.1 725 1840.1 740.8 1840.1 C756.5 1840.1 766.7 1858.1 780 1857.1" fill="none" stroke="#231f20" stroke-width="2.7" stroke-linecap="round"/>
<path d="M704 1959.5 C717.4 1960.5 727.6 1942.5 743.4 1942.5 C759.1 1942.5 769.3 1960.5 782.7 1959.5" fill="none" stroke="#231f20" stroke-width="2.7" stroke-linecap="round"/>
<path d="M704 1970.1 C717.4 1971.1 727.6 1953.1 743.4 1953.1 C759.1 1953.1 769.3 1971.1 782.7 1970.1" fill="none" stroke="#231f20" stroke-width="2.7" stroke-linecap="round"/>
<path d="M801 448 C810.9 440 829.9 437.5 844 438 C857.2 438.5 871.2 444 883.6 445.5 C858.8 453 838.2 460 813.4 456 Z" fill="none" stroke="#231f20" stroke-width="2.3" stroke-linejoin="round"/>
<path d="M809.3 448 C821.6 440.5 850.6 440 875.3 445.4 C850.6 454.5 821.6 455 809.3 448 Z" fill="none" stroke="#231f20" stroke-width="1"/>
<path d="M815 448 C825.8 442.5 846.4 442.5 864.6 447.5 C846.4 452.8 825.8 452.8 815 448 Z" fill="none" stroke="#231f20" stroke-width="2.2"/>
<circle cx="832" cy="448" r="2.2" fill="#231f20" stroke="none" stroke-width="0" />
<circle cx="844" cy="448" r="2.2" fill="#231f20" stroke="none" stroke-width="0" />
<path d="M801 769.7 C810.9 761.7 829.9 759.2 844 759.7 C857.2 760.2 871.2 765.7 883.6 767.2 C858.8 774.7 838.2 781.7 813.4 777.7 Z" fill="none" stroke="#231f20" stroke-width="2.3" stroke-linejoin="round"/>
<path d="M809.3 769.7 C821.6 762.2 850.6 761.7 875.3 767.1 C850.6 776.2 821.6 776.7 809.3 769.7 Z" fill="none" stroke="#231f20" stroke-width="1"/>
<path d="M815 769.7 C825.8 764.2 846.4 764.2 864.6 769.2 C846.4 774.5 825.8 774.5 815 769.7 Z" fill="none" stroke="#231f20" stroke-width="2.2"/>
<circle cx="832" cy="769.7" r="2.2" fill="#231f20" stroke="none" stroke-width="0" />
<circle cx="844" cy="769.7" r="2.2" fill="#231f20" stroke="none" stroke-width="0" />
<path d="M801 803 C810.9 795 829.9 792.5 844 793 C857.2 793.5 871.2 799 883.6 800.5 C858.8 808 838.2 815 813.4 811 Z" fill="none" stroke="#231f20" stroke-width="2.3" stroke-linejoin="round"/>
<path d="M809.3 803 C821.6 795.5 850.6 795 875.3 800.4 C850.6 809.5 821.6 810 809.3 803 Z" fill="none" stroke="#231f20" stroke-width="1"/>
<path d="M815 803 C825.8 797.5 846.4 797.5 864.6 802.5 C846.4 807.8 825.8 807.8 815 803 Z" fill="none" stroke="#231f20" stroke-width="2.2"/>
<circle cx="832" cy="803" r="2.2" fill="#231f20" stroke="none" stroke-width="0" />
<circle cx="844" cy="803" r="2.2" fill="#231f20" stroke="none" stroke-width="0" />
<path d="M801 933 C810.9 925 829.9 922.5 844 923 C857.2 923.5 871.2 929 883.6 930.5 C858.8 938 838.2 945 813.4 941 Z" fill="none" stroke="#231f20" stroke-width="2.3" stroke-linejoin="round"/>
<path d="M809.3 933 C821.6 925.5 850.6 925 875.3 930.4 C850.6 939.5 821.6 940 809.3 933 Z" fill="none" stroke="#231f20" stroke-width="1"/>
<path d="M815 933 C825.8 927.5 846.4 927.5 864.6 932.5 C846.4 937.8 825.8 937.8 815 933 Z" fill="none" stroke="#231f20" stroke-width="2.2"/>
<circle cx="832" cy="933" r="2.2" fill="#231f20" stroke="none" stroke-width="0" />
<circle cx="844" cy="933" r="2.2" fill="#231f20" stroke="none" stroke-width="0" />
<path d="M801 1030 C810.9 1022 829.9 1019.5 844 1020 C857.2 1020.5 871.2 1026 883.6 1027.5 C858.8 1035 838.2 1042 813.4 1038 Z" fill="none" stroke="#231f20" stroke-width="2.3" stroke-linejoin="round"/>
<path d="M809.3 1030 C821.6 1022.5 850.6 1022 875.3 1027.4 C850.6 1036.5 821.6 1037 809.3 1030 Z" fill="none" stroke="#231f20" stroke-width="1"/>
<path d="M815 1030 C825.8 1024.5 846.4 1024.5 864.6 1029.5 C846.4 1034.8 825.8 1034.8 815 1030 Z" fill="none" stroke="#231f20" stroke-width="2.2"/>
<circle cx="832" cy="1030" r="2.2" fill="#231f20" stroke="none" stroke-width="0" />
<circle cx="844" cy="1030" r="2.2" fill="#231f20" stroke="none" stroke-width="0" />
<g transform="translate(740.5 348) scale(1)" fill="none" stroke="#231f20" stroke-width="2.2" stroke-linecap="round"><path d="M-1 -5 C-2 -9 2 -17 8 -17 C12 -17 12 -12 10 -8 C8 -5 5 -3 3 -3"/><path d="M-4 -4 C-10 -6 -22 -6 -24 0 C-25 5 -18 7 -13 4"/><path d="M5 -2 C11 -4 19 -4 21 1 C23 6 18 9 13 8 C10 7 7 5 5 4"/><path d="M-5 3 C-7 9 -5 19 -2 20 C2 21 7 12 6 4"/><circle cx="0" cy="0" r="5" fill="white"/></g>
<path d="M14.3 0 C17 2 19 4 21.4 4.8 C24 5.8 26 6 27.9 7.2 C29.5 8.5 30 10 30.9 10.7 C32 12.5 33 13.8 34.5 14.8 M46.4 0 C44 2.5 41 5 39.3 7.2 C38.5 8.5 38.7 9.5 38.9 10.6 C39.2 12 38.5 13.5 37 15 M37.5 14.5 C36 17 33 19 29.7 21.3 C26 24 23 26 20.2 28 C16 31 12.5 33.5 9.5 34.6 C6 36 3 37 0 38.1 M17.8 30.3 C20 31.5 23 32.5 26.2 33.3 C30 34.3 33 34.5 36.9 35.1 C39 35.8 41 37.5 42.8 38.1 L50 38.1" fill="none" stroke="#231f20" stroke-width="2.3" stroke-linejoin="round" stroke-linecap="round" transform="translate(816.7 330.7) scale(1)"/>
<path d="M14.3 0 C17 2 19 4 21.4 4.8 C24 5.8 26 6 27.9 7.2 C29.5 8.5 30 10 30.9 10.7 C32 12.5 33 13.8 34.5 14.8 M46.4 0 C44 2.5 41 5 39.3 7.2 C38.5 8.5 38.7 9.5 38.9 10.6 C39.2 12 38.5 13.5 37 15 M37.5 14.5 C36 17 33 19 29.7 21.3 C26 24 23 26 20.2 28 C16 31 12.5 33.5 9.5 34.6 C6 36 3 37 0 38.1 M17.8 30.3 C20 31.5 23 32.5 26.2 33.3 C30 34.3 33 34.5 36.9 35.1 C39 35.8 41 37.5 42.8 38.1 L50 38.1" fill="none" stroke="#231f20" stroke-width="2.3" stroke-linejoin="round" stroke-linecap="round" transform="translate(715.5 430.1) scale(1)"/>
<path d="M799 1858.8 L813.1 1843.2 L827.2 1858.8 L841.3 1843.2 L855.4 1858.8 L869.5 1843.2 L883.6 1858.8" fill="none" stroke="#231f20" stroke-width="2.5" stroke-linejoin="miter"/>
<path d="M799.5 2150 L813.6 2134 L827.7 2150 L841.8 2134 L855.8 2150 L869.9 2134 L884 2150" fill="none" stroke="#231f20" stroke-width="2.5" stroke-linejoin="miter"/>
<g transform="translate(820 1888) scale(1)" stroke="#231f20" stroke-width="2.3" stroke-linecap="round" stroke-linejoin="round"><path fill="#231f20" d="M0.5 7 C0 2 5 0.5 10 0.3 C17 0 25 0 28 1.5 C29 3 28.8 5 28.3 7 C20 5 9 5.5 0.5 7 Z"/><path fill="#231f20" d="M35 8 C35.5 3 38 1.5 43 1.5 C48 1.5 50 4 50 8 C45 6.5 40 6.5 35 8 Z"/><path fill="none" d="M0.5 7 C1 13 6 19 11 22 L13.5 27 L13.5 40 M28.3 7 L26.5 18 C27 20 30 20 32 19.5 C33.5 16 34.5 12 35 8 M50 8 C50 13 47 17 45 20 L39 27 L39.5 39 M2.5 11.5 C8 9 18 8.5 26.5 9.5 M4.5 16 C10 14 18 13.5 25.5 14.5 M13 27 C21 24.5 30 24 39 25.5 M13.5 32.5 C21 30 30 29.5 39.2 31 M35 12 C40 11 45 11 49 12.5 M35.5 16 C40 15 44 15 47.5 16.5"/></g>
<g transform="translate(706.3 2179) scale(1)" stroke="#231f20" stroke-linecap="butt" fill="none"><path d="M0 0 L69 0" stroke-width="3.2"/><path d="M1.2 28.7 L43.5 2.5 M1.2 23 L34.3 2.5 M1.2 17.5 L25.4 2.5 M1.2 11.3 L15.4 2.5 M1.2 5.5 L6 2.5 M15.3 20.8 L31.4 30.5 M23.8 15.6 L48.6 30.5 M30.6 11.4 L62.4 30.5 M35.7 8.3 L67 27 M40 5.6 L67 21.9 M43.4 3.5 L67 17.7 M52 2.5 L67 10.8 M60 2.5 L67 6.4 " stroke-width="2.2"/></g>
</g>
<path d="M895 283.6 L1022 283.6 L1025 1195 L985.2 1195 L985.2 1228 L945.4 1228 L945.4 1258 L1005 1258 L1005 1313.4 L945.4 1313.4 L945.4 1380 L985.2 1380 L985.2 1404.3 L945.4 1404.3 L945.4 1416 L985.2 1416 L985.2 1441 L965 1441 L965 1477.4 L945.4 1477.4 L945.4 1546 L985.2 1546 L985.2 1561.4 L945.4 1561.4 L945.4 1616.6 L985.2 1616.6 L985.2 1639 L945.4 1639 L945.4 1654 L1025.6 1654 L1025.6 1665.5 L945.4 1665.5 L945.4 1692.8 L985.2 1692.8 L985.2 1752.7 L945.4 1752.7 L945.4 1835 L985.2 1835 L985.2 1911.4 L945.4 1911.4 L945.4 1941 L985.2 1941 L985.2 1953.4 L947 1953.4 L947 1965 L985.2 1965 L985.2 1981.8 L945.4 1981.8 L945.4 2033.3 L985.2 2033.3 L985.2 2079 L1025.6 2079 L1025.6 2130.5 L945.4 2130.5 L945.4 2213 L895 2213" fill="none" stroke="#231f20" stroke-width="2.3" stroke-linejoin="miter"/>
<g id="seq">
<path d="M1332.9 153 L1361.8 289 L1304 289 Z" fill="url(#g16)" stroke="none" stroke-width="0" />
<path d="M1304 289 L1332.9 153 L1361.8 289" fill="none" stroke="#231f20" stroke-width="3" stroke-linejoin="miter" stroke-miterlimit="2"/>
<path d="M1304 289 L1361.8 289 L1332.9 521.8 Z" fill="url(#g17)" stroke="none" stroke-width="0" />
<path d="M1304 289 L1332.9 521.8 L1361.8 289" fill="none" stroke="#231f20" stroke-width="3" stroke-linejoin="miter" stroke-miterlimit="20"/>
<path d="M1332.8 521 L1362.3 2213 L1303.3 2213 Z" fill="url(#g18)" stroke="none" stroke-width="0" />
<path d="M1303.3 2213 L1332.8 521 L1362.3 2213" fill="none" stroke="#231f20" stroke-width="3.0" stroke-linejoin="miter" stroke-miterlimit="40"/>
<path d="M1304 2213 L1361.8 2213 L1332.9 2340 Z" fill="url(#g19)" stroke="none" stroke-width="0" />
<path d="M1304 2213 L1332.9 2340 L1361.8 2213" fill="none" stroke="#231f20" stroke-width="3" stroke-linejoin="miter" stroke-miterlimit="3"/>
<path d="M1393.2 153 L1422 289 L1364.5 289 Z" fill="url(#g20)" stroke="none" stroke-width="0" />
<path d="M1364.5 289 L1393.2 153 L1422 289" fill="none" stroke="#231f20" stroke-width="3" stroke-linejoin="miter" stroke-miterlimit="2"/>
<path d="M1364.5 289 L1422 289 L1393.2 521.8 Z" fill="url(#g21)" stroke="none" stroke-width="0" />
<path d="M1364.5 289 L1393.2 521.8 L1422 289" fill="none" stroke="#231f20" stroke-width="3" stroke-linejoin="miter" stroke-miterlimit="20"/>
<path d="M1364.5 523.4 L1422 523.4 L1393.2 775.6 Z" fill="url(#g22)" stroke="none" stroke-width="0" />
<path d="M1364.5 523.4 L1393.2 775.6 L1422 523.4" fill="none" stroke="#231f20" stroke-width="3" stroke-linejoin="miter" stroke-miterlimit="20"/>
<path d="M1364.5 778.4 L1422 778.4 L1393.2 998.5 Z" fill="url(#g23)" stroke="none" stroke-width="0" />
<path d="M1364.5 778.4 L1393.2 998.5 L1422 778.4" fill="none" stroke="#231f20" stroke-width="3" stroke-linejoin="miter" stroke-miterlimit="20"/>
<path d="M1364.5 999.6 L1422 999.6 L1393.2 1158.7 Z" fill="url(#g24)" stroke="none" stroke-width="0" />
<path d="M1364.5 999.6 L1393.2 1158.7 L1422 999.6" fill="none" stroke="#231f20" stroke-width="3" stroke-linejoin="miter" stroke-miterlimit="20"/>
<path d="M1364.5 1159.8 L1422 1159.8 L1393.2 1429.9 Z" fill="url(#g25)" stroke="none" stroke-width="0" />
<path d="M1364.5 1159.8 L1393.2 1429.9 L1422 1159.8" fill="none" stroke="#231f20" stroke-width="3" stroke-linejoin="miter" stroke-miterlimit="20"/>
<path d="M1364.5 1431.6 L1422 1431.6 L1393.2 1641.8 Z" fill="url(#g26)" stroke="none" stroke-width="0" />
<path d="M1364.5 1431.6 L1393.2 1641.8 L1422 1431.6" fill="none" stroke="#231f20" stroke-width="3" stroke-linejoin="miter" stroke-miterlimit="20"/>
<path d="M1364.5 1643.5 L1422 1643.5 L1393.2 1709 Z" fill="url(#g27)" stroke="none" stroke-width="0" />
<path d="M1364.5 1643.5 L1393.2 1709 L1422 1643.5" fill="none" stroke="#231f20" stroke-width="3" stroke-linejoin="miter" stroke-miterlimit="20"/>
<path d="M1364.5 1742.7 L1422 1742.7 L1393.2 1835.5 Z" fill="url(#g28)" stroke="none" stroke-width="0" />
<path d="M1364.5 1742.7 L1393.2 1835.5 L1422 1742.7" fill="none" stroke="#231f20" stroke-width="3" stroke-linejoin="miter" stroke-miterlimit="20"/>
<path d="M1364.5 1837 L1422 1837 L1393.2 1896.2 Z" fill="url(#g29)" stroke="none" stroke-width="0" />
<path d="M1364.5 1837 L1393.2 1896.2 L1422 1837" fill="none" stroke="#231f20" stroke-width="3" stroke-linejoin="miter" stroke-miterlimit="20"/>
<path d="M1364.5 1897 L1422 1897 L1393.2 2024.8 Z" fill="url(#g30)" stroke="none" stroke-width="0" />
<path d="M1364.5 1897 L1393.2 2024.8 L1422 1897" fill="none" stroke="#231f20" stroke-width="3" stroke-linejoin="miter" stroke-miterlimit="20"/>
<path d="M1364.5 2025.4 L1422 2025.4 L1393.2 2107.5 Z" fill="url(#g31)" stroke="none" stroke-width="0" />
<path d="M1364.5 2025.4 L1393.2 2107.5 L1422 2025.4" fill="none" stroke="#231f20" stroke-width="3" stroke-linejoin="miter" stroke-miterlimit="20"/>
<path d="M1364.5 2108.5 L1422 2108.5 L1393.2 2161 Z" fill="url(#g32)" stroke="none" stroke-width="0" />
<path d="M1364.5 2108.5 L1393.2 2161 L1422 2108.5" fill="none" stroke="#231f20" stroke-width="3" stroke-linejoin="miter" stroke-miterlimit="20"/>
<path d="M1393.2 1709 L1422 1741.7 L1364.5 1741.7 Z" fill="url(#g33)" stroke="none" stroke-width="0" />
<path d="M1364.5 1741.7 L1393.2 1709 L1422 1741.7" fill="none" stroke="#231f20" stroke-width="3" stroke-linejoin="miter" stroke-miterlimit="20"/>
<path d="M1393.2 2161 L1422 2213 L1364.5 2213 Z" fill="url(#g34)" stroke="none" stroke-width="0" />
<path d="M1364.5 2213 L1393.2 2161 L1422 2213" fill="none" stroke="#231f20" stroke-width="3" stroke-linejoin="miter" stroke-miterlimit="20"/>
<path d="M1364.5 2213 L1422 2213 L1393.2 2340 Z" fill="url(#g35)" stroke="none" stroke-width="0" />
<path d="M1364.5 2213 L1393.2 2340 L1422 2213" fill="none" stroke="#231f20" stroke-width="3" stroke-linejoin="miter" stroke-miterlimit="3"/>
<line x1="1363" y1="523.4" x2="1423.5" y2="523.4" stroke="#231f20" stroke-width="2.4" />
<line x1="1363" y1="778.4" x2="1423.5" y2="778.4" stroke="#231f20" stroke-width="2.4" />
<line x1="1363" y1="999.6" x2="1423.5" y2="999.6" stroke="#231f20" stroke-width="2.4" />
<line x1="1363" y1="1159.8" x2="1423.5" y2="1159.8" stroke="#231f20" stroke-width="2.4" />
<line x1="1363" y1="1431.6" x2="1423.5" y2="1431.6" stroke="#231f20" stroke-width="2.4" />
<line x1="1363" y1="1643.5" x2="1423.5" y2="1643.5" stroke="#231f20" stroke-width="2.4" />
<line x1="1363" y1="1742.7" x2="1423.5" y2="1742.7" stroke="#231f20" stroke-width="2.4" />
<line x1="1363" y1="1837" x2="1423.5" y2="1837" stroke="#231f20" stroke-width="2.4" />
<line x1="1363" y1="1897" x2="1423.5" y2="1897" stroke="#231f20" stroke-width="2.4" />
<line x1="1363" y1="2025.4" x2="1423.5" y2="2025.4" stroke="#231f20" stroke-width="2.4" />
<line x1="1363" y1="2108.5" x2="1423.5" y2="2108.5" stroke="#231f20" stroke-width="2.4" />
<line x1="1363" y1="1741.7" x2="1423.5" y2="1741.7" stroke="#231f20" stroke-width="2.4" />
<line x1="1363" y1="521.8" x2="1423.5" y2="521.8" stroke="#231f20" stroke-width="2.4" />
<line x1="1302.5" y1="289" x2="1423.5" y2="289" stroke="#231f20" stroke-width="2" />
<line x1="1302.5" y1="2213" x2="1423.5" y2="2213" stroke="#231f20" stroke-width="2" />
<line x1="1302.5" y1="2213" x2="1423.5" y2="2213" stroke="#231f20" stroke-width="2" />
</g>
<g id="poro">
<line x1="1425" y1="362" x2="1477.7" y2="362" stroke="#e3202a" stroke-width="2.9" />
<line x1="1425" y1="390" x2="1473.2" y2="390" stroke="#e3202a" stroke-width="2.9" />
<line x1="1425" y1="419.7" x2="1496.3" y2="419.7" stroke="#e3202a" stroke-width="2.9" />
<line x1="1425" y1="525" x2="1435.8" y2="525" stroke="#e3202a" stroke-width="2.9" />
<line x1="1425" y1="578.6" x2="1435.8" y2="578.6" stroke="#e3202a" stroke-width="2.9" />
<line x1="1425" y1="595.2" x2="1432.6" y2="595.2" stroke="#e3202a" stroke-width="2.9" />
<line x1="1425" y1="611" x2="1441.9" y2="611" stroke="#e3202a" stroke-width="2.9" />
<line x1="1425" y1="630.6" x2="1545" y2="630.6" stroke="#e3202a" stroke-width="2.9" />
<line x1="1425" y1="651.9" x2="1441.9" y2="651.9" stroke="#e3202a" stroke-width="2.9" />
<line x1="1425" y1="702.5" x2="1457.9" y2="702.5" stroke="#e3202a" stroke-width="2.9" />
<line x1="1425" y1="717" x2="1519.8" y2="717" stroke="#e3202a" stroke-width="2.9" />
<line x1="1425" y1="729.2" x2="1473.6" y2="729.2" stroke="#e3202a" stroke-width="2.9" />
<line x1="1425" y1="758.1" x2="1446.3" y2="758.1" stroke="#e3202a" stroke-width="2.9" />
<line x1="1425" y1="772.3" x2="1442.3" y2="772.3" stroke="#e3202a" stroke-width="2.9" />
<line x1="1425" y1="812" x2="1576.9" y2="812" stroke="#e3202a" stroke-width="2.9" />
<line x1="1425" y1="835.3" x2="1488.2" y2="835.3" stroke="#e3202a" stroke-width="2.9" />
<line x1="1425" y1="878.8" x2="1555.2" y2="878.8" stroke="#e3202a" stroke-width="2.9" />
<line x1="1425" y1="925.7" x2="1492.3" y2="925.7" stroke="#e3202a" stroke-width="2.9" />
<line x1="1425" y1="975.3" x2="1463.5" y2="975.3" stroke="#e3202a" stroke-width="2.9" />
<line x1="1425" y1="1067" x2="1508.7" y2="1067" stroke="#e3202a" stroke-width="2.9" />
<line x1="1425" y1="1109" x2="1541.9" y2="1109" stroke="#e3202a" stroke-width="2.9" />
<line x1="1425" y1="1123" x2="1570.8" y2="1123" stroke="#e3202a" stroke-width="2.9" />
<line x1="1425" y1="1165.2" x2="1474.7" y2="1165.2" stroke="#e3202a" stroke-width="2.9" />
<line x1="1425" y1="1210.2" x2="1488.2" y2="1210.2" stroke="#e3202a" stroke-width="2.9" />
<line x1="1425" y1="1281" x2="1490.9" y2="1281" stroke="#e3202a" stroke-width="2.9" />
<line x1="1425" y1="1317" x2="1556.2" y2="1317" stroke="#e3202a" stroke-width="2.9" />
<line x1="1425" y1="1365" x2="1504.6" y2="1365" stroke="#e3202a" stroke-width="2.9" />
<line x1="1425" y1="1376.4" x2="1476.3" y2="1376.4" stroke="#e3202a" stroke-width="2.9" />
<line x1="1425" y1="1451.3" x2="1433.2" y2="1451.3" stroke="#e3202a" stroke-width="2.9" />
<line x1="1425" y1="1517.4" x2="1488.8" y2="1517.4" stroke="#e3202a" stroke-width="2.9" />
<line x1="1425" y1="1528.6" x2="1511.7" y2="1528.6" stroke="#e3202a" stroke-width="2.9" />
<line x1="1425" y1="1581.6" x2="1442.3" y2="1581.6" stroke="#e3202a" stroke-width="2.9" />
<line x1="1425" y1="1602.5" x2="1486.8" y2="1602.5" stroke="#e3202a" stroke-width="2.9" />
<line x1="1425" y1="1681.4" x2="1430" y2="1681.4" stroke="#e3202a" stroke-width="2.9" />
<line x1="1425" y1="1742.8" x2="1446.3" y2="1742.8" stroke="#e3202a" stroke-width="2.9" />
<line x1="1425" y1="1875.3" x2="1452.8" y2="1875.3" stroke="#e3202a" stroke-width="2.9" />
<line x1="1425" y1="1897.2" x2="1451.4" y2="1897.2" stroke="#e3202a" stroke-width="2.9" />
<line x1="1425" y1="1936.7" x2="1461.5" y2="1936.7" stroke="#e3202a" stroke-width="2.9" />
<line x1="1425" y1="1972.1" x2="1521.6" y2="1972.1" stroke="#e3202a" stroke-width="2.9" />
<line x1="1425" y1="2002.5" x2="1465.5" y2="2002.5" stroke="#e3202a" stroke-width="2.9" />
<line x1="1425" y1="2030.2" x2="1530.3" y2="2030.2" stroke="#e3202a" stroke-width="2.9" />
<line x1="1425" y1="2056.5" x2="1440.9" y2="2056.5" stroke="#e3202a" stroke-width="2.9" />
<line x1="1425" y1="2073.3" x2="1578" y2="2073.3" stroke="#e3202a" stroke-width="2.9" />
<path d="M1545.5 362 L1538.8 390.1 L1540.4 419.7 L1447.3 524.3 L1456.8 578 L1466 596.6 L1483.8 611 L1501 630.6 L1513.1 651.9 L1556 701.5 L1535.8 716.6 L1527.7 731.8 L1528.7 758.1 L1522.6 773.7 L1506 812 L1503 835.3 L1489.4 878.8 L1467 925.7 L1511.7 975.3 L1456 1067 L1458.9 1109 L1511.7 1123 L1474.7 1165.2 L1449.4 1210.2 L1448 1281 L1450.4 1317 L1450 1365 L1450 1376.4 L1445.3 1451.3 L1446.3 1517.4 L1447.3 1528.6 L1442.3 1581.6 L1449 1602.5 L1439.8 1681.4 L1439.6 1742.8 L1442.3 1875.3 L1445 1897.2 L1447.7 1936.7 L1449.8 1972.1 L1454 2002.5 L1460.5 2030.2 L1466.2 2056.5 L1474.3 2073.3" fill="none" stroke="#2e3192" stroke-width="2.3" stroke-linejoin="round"/>
<circle cx="1545.5" cy="362" r="5.8" fill="#2e3192" stroke="#111" stroke-width="1" />
<circle cx="1538.8" cy="390.1" r="5.8" fill="#2e3192" stroke="#111" stroke-width="1" />
<circle cx="1540.4" cy="419.7" r="5.8" fill="#2e3192" stroke="#111" stroke-width="1" />
<circle cx="1447.3" cy="524.3" r="5.8" fill="#2e3192" stroke="#111" stroke-width="1" />
<circle cx="1456.8" cy="578" r="5.8" fill="#2e3192" stroke="#111" stroke-width="1" />
<circle cx="1466" cy="596.6" r="5.8" fill="#2e3192" stroke="#111" stroke-width="1" />
<circle cx="1483.8" cy="611" r="5.8" fill="#2e3192" stroke="#111" stroke-width="1" />
<circle cx="1501" cy="630.6" r="5.8" fill="#2e3192" stroke="#111" stroke-width="1" />
<circle cx="1513.1" cy="651.9" r="5.8" fill="#2e3192" stroke="#111" stroke-width="1" />
<circle cx="1556" cy="701.5" r="5.8" fill="#2e3192" stroke="#111" stroke-width="1" />
<circle cx="1535.8" cy="716.6" r="5.8" fill="#2e3192" stroke="#111" stroke-width="1" />
<circle cx="1527.7" cy="731.8" r="5.8" fill="#2e3192" stroke="#111" stroke-width="1" />
<circle cx="1528.7" cy="758.1" r="5.8" fill="#2e3192" stroke="#111" stroke-width="1" />
<circle cx="1522.6" cy="773.7" r="5.8" fill="#2e3192" stroke="#111" stroke-width="1" />
<circle cx="1506" cy="812" r="5.8" fill="#2e3192" stroke="#111" stroke-width="1" />
<circle cx="1503" cy="835.3" r="5.8" fill="#2e3192" stroke="#111" stroke-width="1" />
<circle cx="1489.4" cy="878.8" r="5.8" fill="#2e3192" stroke="#111" stroke-width="1" />
<circle cx="1467" cy="925.7" r="5.8" fill="#2e3192" stroke="#111" stroke-width="1" />
<circle cx="1511.7" cy="975.3" r="5.8" fill="#2e3192" stroke="#111" stroke-width="1" />
<circle cx="1456" cy="1067" r="5.8" fill="#2e3192" stroke="#111" stroke-width="1" />
<circle cx="1458.9" cy="1109" r="5.8" fill="#2e3192" stroke="#111" stroke-width="1" />
<circle cx="1511.7" cy="1123" r="5.8" fill="#2e3192" stroke="#111" stroke-width="1" />
<circle cx="1474.7" cy="1165.2" r="5.8" fill="#2e3192" stroke="#111" stroke-width="1" />
<circle cx="1449.4" cy="1210.2" r="5.8" fill="#2e3192" stroke="#111" stroke-width="1" />
<circle cx="1448" cy="1281" r="5.8" fill="#2e3192" stroke="#111" stroke-width="1" />
<circle cx="1450.4" cy="1317" r="5.8" fill="#2e3192" stroke="#111" stroke-width="1" />
<circle cx="1450" cy="1365" r="5.8" fill="#2e3192" stroke="#111" stroke-width="1" />
<circle cx="1450" cy="1376.4" r="5.8" fill="#2e3192" stroke="#111" stroke-width="1" />
<circle cx="1445.3" cy="1451.3" r="5.8" fill="#2e3192" stroke="#111" stroke-width="1" />
<circle cx="1446.3" cy="1517.4" r="5.8" fill="#2e3192" stroke="#111" stroke-width="1" />
<circle cx="1447.3" cy="1528.6" r="5.8" fill="#2e3192" stroke="#111" stroke-width="1" />
<circle cx="1442.3" cy="1581.6" r="5.8" fill="#2e3192" stroke="#111" stroke-width="1" />
<circle cx="1449" cy="1602.5" r="5.8" fill="#2e3192" stroke="#111" stroke-width="1" />
<circle cx="1439.8" cy="1681.4" r="5.8" fill="#2e3192" stroke="#111" stroke-width="1" />
<circle cx="1439.6" cy="1742.8" r="5.8" fill="#2e3192" stroke="#111" stroke-width="1" />
<circle cx="1442.3" cy="1875.3" r="5.8" fill="#2e3192" stroke="#111" stroke-width="1" />
<circle cx="1445" cy="1897.2" r="5.8" fill="#2e3192" stroke="#111" stroke-width="1" />
<circle cx="1447.7" cy="1936.7" r="5.8" fill="#2e3192" stroke="#111" stroke-width="1" />
<circle cx="1449.8" cy="1972.1" r="5.8" fill="#2e3192" stroke="#111" stroke-width="1" />
<circle cx="1454" cy="2002.5" r="5.8" fill="#2e3192" stroke="#111" stroke-width="1" />
<circle cx="1460.5" cy="2030.2" r="5.8" fill="#2e3192" stroke="#111" stroke-width="1" />
<circle cx="1466.2" cy="2056.5" r="5.8" fill="#2e3192" stroke="#111" stroke-width="1" />
<circle cx="1474.3" cy="2073.3" r="5.8" fill="#2e3192" stroke="#111" stroke-width="1" />
</g>
<g id="outcrop">
<rect x="1579" y="289.5" width="120" height="169.8" fill="#d1d0d3" stroke="#231f20" stroke-width="2.4" />
<path d="M0 0 C0 -3 2 -6 4.5 -6.3 C7 -6 10 -5 13 -4.8 C14.5 -3.5 15.5 -2.5 16.5 -2.5 C18 -2.5 19.5 -3.8 22 -3.5 C25 -3.2 27.6 -2 27.6 0 C27.6 2 25 4 22 3.8 C19.5 3.5 18 2.5 16 2.8 C13 3.5 9 5 7.5 6 C5 7 2 5.5 0.8 3 C0.2 2 0 1 0 0 Z" fill="#e3202a" stroke="#2a0a0a" stroke-width="1" transform="translate(1597.8 321.7) scale(1)"/>
<path d="M0 0 C0 -3 2 -6 4.5 -6.3 C7 -6 10 -5 13 -4.8 C14.5 -3.5 15.5 -2.5 16.5 -2.5 C18 -2.5 19.5 -3.8 22 -3.5 C25 -3.2 27.6 -2 27.6 0 C27.6 2 25 4 22 3.8 C19.5 3.5 18 2.5 16 2.8 C13 3.5 9 5 7.5 6 C5 7 2 5.5 0.8 3 C0.2 2 0 1 0 0 Z" fill="#e3202a" stroke="#2a0a0a" stroke-width="1" transform="translate(1655 321.7) scale(1)"/>
<path d="M0 0 C0 -3 2 -6 4.5 -6.3 C7 -6 10 -5 13 -4.8 C14.5 -3.5 15.5 -2.5 16.5 -2.5 C18 -2.5 19.5 -3.8 22 -3.5 C25 -3.2 27.6 -2 27.6 0 C27.6 2 25 4 22 3.8 C19.5 3.5 18 2.5 16 2.8 C13 3.5 9 5 7.5 6 C5 7 2 5.5 0.8 3 C0.2 2 0 1 0 0 Z" fill="#e3202a" stroke="#2a0a0a" stroke-width="1" transform="translate(1624.7 342) scale(1)"/>
<path d="M0 0 C0 -3 2 -6 4.5 -6.3 C7 -6 10 -5 13 -4.8 C14.5 -3.5 15.5 -2.5 16.5 -2.5 C18 -2.5 19.5 -3.8 22 -3.5 C25 -3.2 27.6 -2 27.6 0 C27.6 2 25 4 22 3.8 C19.5 3.5 18 2.5 16 2.8 C13 3.5 9 5 7.5 6 C5 7 2 5.5 0.8 3 C0.2 2 0 1 0 0 Z" fill="#e3202a" stroke="#2a0a0a" stroke-width="1" transform="translate(1597.8 361) scale(1)"/>
<path d="M0 0 C0 -3 2 -6 4.5 -6.3 C7 -6 10 -5 13 -4.8 C14.5 -3.5 15.5 -2.5 16.5 -2.5 C18 -2.5 19.5 -3.8 22 -3.5 C25 -3.2 27.6 -2 27.6 0 C27.6 2 25 4 22 3.8 C19.5 3.5 18 2.5 16 2.8 C13 3.5 9 5 7.5 6 C5 7 2 5.5 0.8 3 C0.2 2 0 1 0 0 Z" fill="#e3202a" stroke="#2a0a0a" stroke-width="1" transform="translate(1655 361) scale(1)"/>
<path d="M0 0 C0 -3 2 -6 4.5 -6.3 C7 -6 10 -5 13 -4.8 C14.5 -3.5 15.5 -2.5 16.5 -2.5 C18 -2.5 19.5 -3.8 22 -3.5 C25 -3.2 27.6 -2 27.6 0 C27.6 2 25 4 22 3.8 C19.5 3.5 18 2.5 16 2.8 C13 3.5 9 5 7.5 6 C5 7 2 5.5 0.8 3 C0.2 2 0 1 0 0 Z" fill="#e3202a" stroke="#2a0a0a" stroke-width="1" transform="translate(1624.7 381.7) scale(1)"/>
<path d="M0 0 C0 -3 2 -6 4.5 -6.3 C7 -6 10 -5 13 -4.8 C14.5 -3.5 15.5 -2.5 16.5 -2.5 C18 -2.5 19.5 -3.8 22 -3.5 C25 -3.2 27.6 -2 27.6 0 C27.6 2 25 4 22 3.8 C19.5 3.5 18 2.5 16 2.8 C13 3.5 9 5 7.5 6 C5 7 2 5.5 0.8 3 C0.2 2 0 1 0 0 Z" fill="#e3202a" stroke="#2a0a0a" stroke-width="1" transform="translate(1597.8 400.3) scale(1)"/>
<path d="M0 0 C0 -3 2 -6 4.5 -6.3 C7 -6 10 -5 13 -4.8 C14.5 -3.5 15.5 -2.5 16.5 -2.5 C18 -2.5 19.5 -3.8 22 -3.5 C25 -3.2 27.6 -2 27.6 0 C27.6 2 25 4 22 3.8 C19.5 3.5 18 2.5 16 2.8 C13 3.5 9 5 7.5 6 C5 7 2 5.5 0.8 3 C0.2 2 0 1 0 0 Z" fill="#e3202a" stroke="#2a0a0a" stroke-width="1" transform="translate(1655 400.3) scale(1)"/>
<path d="M0 0 C0 -3 2 -6 4.5 -6.3 C7 -6 10 -5 13 -4.8 C14.5 -3.5 15.5 -2.5 16.5 -2.5 C18 -2.5 19.5 -3.8 22 -3.5 C25 -3.2 27.6 -2 27.6 0 C27.6 2 25 4 22 3.8 C19.5 3.5 18 2.5 16 2.8 C13 3.5 9 5 7.5 6 C5 7 2 5.5 0.8 3 C0.2 2 0 1 0 0 Z" fill="#e3202a" stroke="#2a0a0a" stroke-width="1" transform="translate(1624.7 420.2) scale(1)"/>
<path d="M0 0 C0 -3 2 -6 4.5 -6.3 C7 -6 10 -5 13 -4.8 C14.5 -3.5 15.5 -2.5 16.5 -2.5 C18 -2.5 19.5 -3.8 22 -3.5 C25 -3.2 27.6 -2 27.6 0 C27.6 2 25 4 22 3.8 C19.5 3.5 18 2.5 16 2.8 C13 3.5 9 5 7.5 6 C5 7 2 5.5 0.8 3 C0.2 2 0 1 0 0 Z" fill="#e3202a" stroke="#2a0a0a" stroke-width="1" transform="translate(1597.8 439.2) scale(1)"/>
<path d="M0 0 C0 -3 2 -6 4.5 -6.3 C7 -6 10 -5 13 -4.8 C14.5 -3.5 15.5 -2.5 16.5 -2.5 C18 -2.5 19.5 -3.8 22 -3.5 C25 -3.2 27.6 -2 27.6 0 C27.6 2 25 4 22 3.8 C19.5 3.5 18 2.5 16 2.8 C13 3.5 9 5 7.5 6 C5 7 2 5.5 0.8 3 C0.2 2 0 1 0 0 Z" fill="#e3202a" stroke="#2a0a0a" stroke-width="1" transform="translate(1655 439.2) scale(1)"/>
<rect x="1579" y="510.5" width="120" height="65.4" fill="#d1d0d3" stroke="#231f20" stroke-width="1.6" />
<path d="M0 0 C0 -3 2 -6 4.5 -6.3 C7 -6 10 -5 13 -4.8 C14.5 -3.5 15.5 -2.5 16.5 -2.5 C18 -2.5 19.5 -3.8 22 -3.5 C25 -3.2 27.6 -2 27.6 0 C27.6 2 25 4 22 3.8 C19.5 3.5 18 2.5 16 2.8 C13 3.5 9 5 7.5 6 C5 7 2 5.5 0.8 3 C0.2 2 0 1 0 0 Z" fill="#1ba6e0" stroke="#2a0a0a" stroke-width="1" transform="translate(1596.2 524) scale(1)"/>
<path d="M0 0 C0 -3 2 -6 4.5 -6.3 C7 -6 10 -5 13 -4.8 C14.5 -3.5 15.5 -2.5 16.5 -2.5 C18 -2.5 19.5 -3.8 22 -3.5 C25 -3.2 27.6 -2 27.6 0 C27.6 2 25 4 22 3.8 C19.5 3.5 18 2.5 16 2.8 C13 3.5 9 5 7.5 6 C5 7 2 5.5 0.8 3 C0.2 2 0 1 0 0 Z" fill="#1ba6e0" stroke="#2a0a0a" stroke-width="1" transform="translate(1653.7 524) scale(1)"/>
<path d="M0 0 C0 -3 2 -6 4.5 -6.3 C7 -6 10 -5 13 -4.8 C14.5 -3.5 15.5 -2.5 16.5 -2.5 C18 -2.5 19.5 -3.8 22 -3.5 C25 -3.2 27.6 -2 27.6 0 C27.6 2 25 4 22 3.8 C19.5 3.5 18 2.5 16 2.8 C13 3.5 9 5 7.5 6 C5 7 2 5.5 0.8 3 C0.2 2 0 1 0 0 Z" fill="#1ba6e0" stroke="#2a0a0a" stroke-width="1" transform="translate(1623.2 545) scale(1)"/>
<path d="M0 0 C0 -3 2 -6 4.5 -6.3 C7 -6 10 -5 13 -4.8 C14.5 -3.5 15.5 -2.5 16.5 -2.5 C18 -2.5 19.5 -3.8 22 -3.5 C25 -3.2 27.6 -2 27.6 0 C27.6 2 25 4 22 3.8 C19.5 3.5 18 2.5 16 2.8 C13 3.5 9 5 7.5 6 C5 7 2 5.5 0.8 3 C0.2 2 0 1 0 0 Z" fill="#1ba6e0" stroke="#2a0a0a" stroke-width="1" transform="translate(1596.2 564) scale(1)"/>
<path d="M0 0 C0 -3 2 -6 4.5 -6.3 C7 -6 10 -5 13 -4.8 C14.5 -3.5 15.5 -2.5 16.5 -2.5 C18 -2.5 19.5 -3.8 22 -3.5 C25 -3.2 27.6 -2 27.6 0 C27.6 2 25 4 22 3.8 C19.5 3.5 18 2.5 16 2.8 C13 3.5 9 5 7.5 6 C5 7 2 5.5 0.8 3 C0.2 2 0 1 0 0 Z" fill="#1ba6e0" stroke="#2a0a0a" stroke-width="1" transform="translate(1653.7 564) scale(1)"/>
<rect x="1579" y="597.9" width="120" height="145.2" fill="#d1d0d3" stroke="#231f20" stroke-width="2.4" />
<circle cx="1593.6" cy="612.3" r="4.3" fill="#e3202a" stroke="#3a1010" stroke-width="0.9" />
<circle cx="1623.4" cy="612.3" r="4.3" fill="#e3202a" stroke="#3a1010" stroke-width="0.9" />
<circle cx="1653.6" cy="612.3" r="4.3" fill="#e3202a" stroke="#3a1010" stroke-width="0.9" />
<circle cx="1683.8" cy="612.3" r="4.3" fill="#e3202a" stroke="#3a1010" stroke-width="0.9" />
<circle cx="1608.4" cy="626.5" r="4.3" fill="#e3202a" stroke="#3a1010" stroke-width="0.9" />
<circle cx="1638.5" cy="626.5" r="4.3" fill="#e3202a" stroke="#3a1010" stroke-width="0.9" />
<circle cx="1668.7" cy="626.5" r="4.3" fill="#e3202a" stroke="#3a1010" stroke-width="0.9" />
<circle cx="1593.6" cy="639.5" r="4.3" fill="#e3202a" stroke="#3a1010" stroke-width="0.9" />
<circle cx="1623.4" cy="639.5" r="4.3" fill="#e3202a" stroke="#3a1010" stroke-width="0.9" />
<circle cx="1653.6" cy="639.5" r="4.3" fill="#e3202a" stroke="#3a1010" stroke-width="0.9" />
<circle cx="1683.8" cy="639.5" r="4.3" fill="#e3202a" stroke="#3a1010" stroke-width="0.9" />
<circle cx="1608.4" cy="653.5" r="4.3" fill="#e3202a" stroke="#3a1010" stroke-width="0.9" />
<circle cx="1638.5" cy="653.5" r="4.3" fill="#e3202a" stroke="#3a1010" stroke-width="0.9" />
<circle cx="1668.7" cy="653.5" r="4.3" fill="#e3202a" stroke="#3a1010" stroke-width="0.9" />
<circle cx="1593.6" cy="666.8" r="4.3" fill="#e3202a" stroke="#3a1010" stroke-width="0.9" />
<circle cx="1623.4" cy="666.8" r="4.3" fill="#e3202a" stroke="#3a1010" stroke-width="0.9" />
<circle cx="1653.6" cy="666.8" r="4.3" fill="#e3202a" stroke="#3a1010" stroke-width="0.9" />
<circle cx="1683.8" cy="666.8" r="4.3" fill="#e3202a" stroke="#3a1010" stroke-width="0.9" />
<circle cx="1608.4" cy="678.8" r="4.3" fill="#e3202a" stroke="#3a1010" stroke-width="0.9" />
<circle cx="1638.5" cy="678.8" r="4.3" fill="#e3202a" stroke="#3a1010" stroke-width="0.9" />
<circle cx="1668.7" cy="678.8" r="4.3" fill="#e3202a" stroke="#3a1010" stroke-width="0.9" />
<circle cx="1593.6" cy="692.3" r="4.3" fill="#e3202a" stroke="#3a1010" stroke-width="0.9" />
<circle cx="1623.4" cy="692.3" r="4.3" fill="#e3202a" stroke="#3a1010" stroke-width="0.9" />
<circle cx="1653.6" cy="692.3" r="4.3" fill="#e3202a" stroke="#3a1010" stroke-width="0.9" />
<circle cx="1683.8" cy="692.3" r="4.3" fill="#e3202a" stroke="#3a1010" stroke-width="0.9" />
<circle cx="1608.4" cy="706.1" r="4.3" fill="#e3202a" stroke="#3a1010" stroke-width="0.9" />
<circle cx="1638.5" cy="706.1" r="4.3" fill="#e3202a" stroke="#3a1010" stroke-width="0.9" />
<circle cx="1668.7" cy="706.1" r="4.3" fill="#e3202a" stroke="#3a1010" stroke-width="0.9" />
<circle cx="1593.6" cy="719.6" r="4.3" fill="#e3202a" stroke="#3a1010" stroke-width="0.9" />
<circle cx="1623.4" cy="719.6" r="4.3" fill="#e3202a" stroke="#3a1010" stroke-width="0.9" />
<circle cx="1653.6" cy="719.6" r="4.3" fill="#e3202a" stroke="#3a1010" stroke-width="0.9" />
<circle cx="1683.8" cy="719.6" r="4.3" fill="#e3202a" stroke="#3a1010" stroke-width="0.9" />
<circle cx="1608.4" cy="731.6" r="4.3" fill="#e3202a" stroke="#3a1010" stroke-width="0.9" />
<circle cx="1638.5" cy="731.6" r="4.3" fill="#e3202a" stroke="#3a1010" stroke-width="0.9" />
<circle cx="1668.7" cy="731.6" r="4.3" fill="#e3202a" stroke="#3a1010" stroke-width="0.9" />
<rect x="1579" y="762" width="120" height="18.8" fill="#d1d0d3" stroke="#231f20" stroke-width="1.6" />
<path d="M0 0 C0 -3 2 -6 4.5 -6.3 C7 -6 10 -5 13 -4.8 C14.5 -3.5 15.5 -2.5 16.5 -2.5 C18 -2.5 19.5 -3.8 22 -3.5 C25 -3.2 27.6 -2 27.6 0 C27.6 2 25 4 22 3.8 C19.5 3.5 18 2.5 16 2.8 C13 3.5 9 5 7.5 6 C5 7 2 5.5 0.8 3 C0.2 2 0 1 0 0 Z" fill="#1ba6e0" stroke="#2a0a0a" stroke-width="1" transform="translate(1596.2 771.5) scale(1)"/>
<path d="M0 0 C0 -3 2 -6 4.5 -6.3 C7 -6 10 -5 13 -4.8 C14.5 -3.5 15.5 -2.5 16.5 -2.5 C18 -2.5 19.5 -3.8 22 -3.5 C25 -3.2 27.6 -2 27.6 0 C27.6 2 25 4 22 3.8 C19.5 3.5 18 2.5 16 2.8 C13 3.5 9 5 7.5 6 C5 7 2 5.5 0.8 3 C0.2 2 0 1 0 0 Z" fill="#1ba6e0" stroke="#2a0a0a" stroke-width="1" transform="translate(1653.7 771.5) scale(1)"/>
<rect x="1579" y="802" width="120" height="178.5" fill="#d1d0d3" stroke="#231f20" stroke-width="2.4" />
<circle cx="1593.6" cy="821.5" r="4.3" fill="#e3202a" stroke="#3a1010" stroke-width="0.9" />
<circle cx="1623.4" cy="821.5" r="4.3" fill="#e3202a" stroke="#3a1010" stroke-width="0.9" />
<circle cx="1653.6" cy="821.5" r="4.3" fill="#e3202a" stroke="#3a1010" stroke-width="0.9" />
<circle cx="1683.8" cy="821.5" r="4.3" fill="#e3202a" stroke="#3a1010" stroke-width="0.9" />
<circle cx="1608.4" cy="835.6" r="4.3" fill="#e3202a" stroke="#3a1010" stroke-width="0.9" />
<circle cx="1638.5" cy="835.6" r="4.3" fill="#e3202a" stroke="#3a1010" stroke-width="0.9" />
<circle cx="1668.7" cy="835.6" r="4.3" fill="#e3202a" stroke="#3a1010" stroke-width="0.9" />
<circle cx="1593.6" cy="848.9" r="4.3" fill="#e3202a" stroke="#3a1010" stroke-width="0.9" />
<circle cx="1623.4" cy="848.9" r="4.3" fill="#e3202a" stroke="#3a1010" stroke-width="0.9" />
<circle cx="1653.6" cy="848.9" r="4.3" fill="#e3202a" stroke="#3a1010" stroke-width="0.9" />
<circle cx="1683.8" cy="848.9" r="4.3" fill="#e3202a" stroke="#3a1010" stroke-width="0.9" />
<circle cx="1608.4" cy="862.5" r="4.3" fill="#e3202a" stroke="#3a1010" stroke-width="0.9" />
<circle cx="1638.5" cy="862.5" r="4.3" fill="#e3202a" stroke="#3a1010" stroke-width="0.9" />
<circle cx="1668.7" cy="862.5" r="4.3" fill="#e3202a" stroke="#3a1010" stroke-width="0.9" />
<circle cx="1593.6" cy="875.8" r="4.3" fill="#e3202a" stroke="#3a1010" stroke-width="0.9" />
<circle cx="1623.4" cy="875.8" r="4.3" fill="#e3202a" stroke="#3a1010" stroke-width="0.9" />
<circle cx="1653.6" cy="875.8" r="4.3" fill="#e3202a" stroke="#3a1010" stroke-width="0.9" />
<circle cx="1683.8" cy="875.8" r="4.3" fill="#e3202a" stroke="#3a1010" stroke-width="0.9" />
<circle cx="1608.4" cy="889.3" r="4.3" fill="#e3202a" stroke="#3a1010" stroke-width="0.9" />
<circle cx="1638.5" cy="889.3" r="4.3" fill="#e3202a" stroke="#3a1010" stroke-width="0.9" />
<circle cx="1668.7" cy="889.3" r="4.3" fill="#e3202a" stroke="#3a1010" stroke-width="0.9" />
<circle cx="1593.6" cy="902.4" r="4.3" fill="#e3202a" stroke="#3a1010" stroke-width="0.9" />
<circle cx="1623.4" cy="902.4" r="4.3" fill="#e3202a" stroke="#3a1010" stroke-width="0.9" />
<circle cx="1653.6" cy="902.4" r="4.3" fill="#e3202a" stroke="#3a1010" stroke-width="0.9" />
<circle cx="1683.8" cy="902.4" r="4.3" fill="#e3202a" stroke="#3a1010" stroke-width="0.9" />
<circle cx="1608.4" cy="916" r="4.3" fill="#e3202a" stroke="#3a1010" stroke-width="0.9" />
<circle cx="1638.5" cy="916" r="4.3" fill="#e3202a" stroke="#3a1010" stroke-width="0.9" />
<circle cx="1668.7" cy="916" r="4.3" fill="#e3202a" stroke="#3a1010" stroke-width="0.9" />
<circle cx="1593.6" cy="929" r="4.3" fill="#e3202a" stroke="#3a1010" stroke-width="0.9" />
<circle cx="1623.4" cy="929" r="4.3" fill="#e3202a" stroke="#3a1010" stroke-width="0.9" />
<circle cx="1653.6" cy="929" r="4.3" fill="#e3202a" stroke="#3a1010" stroke-width="0.9" />
<circle cx="1683.8" cy="929" r="4.3" fill="#e3202a" stroke="#3a1010" stroke-width="0.9" />
<circle cx="1608.4" cy="943" r="4.3" fill="#e3202a" stroke="#3a1010" stroke-width="0.9" />
<circle cx="1638.5" cy="943" r="4.3" fill="#e3202a" stroke="#3a1010" stroke-width="0.9" />
<circle cx="1668.7" cy="943" r="4.3" fill="#e3202a" stroke="#3a1010" stroke-width="0.9" />
<circle cx="1593.6" cy="955.8" r="4.3" fill="#e3202a" stroke="#3a1010" stroke-width="0.9" />
<circle cx="1623.4" cy="955.8" r="4.3" fill="#e3202a" stroke="#3a1010" stroke-width="0.9" />
<circle cx="1653.6" cy="955.8" r="4.3" fill="#e3202a" stroke="#3a1010" stroke-width="0.9" />
<circle cx="1683.8" cy="955.8" r="4.3" fill="#e3202a" stroke="#3a1010" stroke-width="0.9" />
<circle cx="1608.4" cy="968.8" r="4.3" fill="#e3202a" stroke="#3a1010" stroke-width="0.9" />
<circle cx="1638.5" cy="968.8" r="4.3" fill="#e3202a" stroke="#3a1010" stroke-width="0.9" />
<circle cx="1668.7" cy="968.8" r="4.3" fill="#e3202a" stroke="#3a1010" stroke-width="0.9" />
<rect x="1579" y="1044.4" width="120" height="177.6" fill="#d1d0d3" stroke="#231f20" stroke-width="2.4" />
<circle cx="1593.6" cy="1062.8" r="4.3" fill="#e3202a" stroke="#3a1010" stroke-width="0.9" />
<circle cx="1623.4" cy="1062.8" r="4.3" fill="#e3202a" stroke="#3a1010" stroke-width="0.9" />
<circle cx="1653.6" cy="1062.8" r="4.3" fill="#e3202a" stroke="#3a1010" stroke-width="0.9" />
<circle cx="1683.8" cy="1062.8" r="4.3" fill="#e3202a" stroke="#3a1010" stroke-width="0.9" />
<circle cx="1608.4" cy="1076.6" r="4.3" fill="#e3202a" stroke="#3a1010" stroke-width="0.9" />
<circle cx="1638.5" cy="1076.6" r="4.3" fill="#e3202a" stroke="#3a1010" stroke-width="0.9" />
<circle cx="1668.7" cy="1076.6" r="4.3" fill="#e3202a" stroke="#3a1010" stroke-width="0.9" />
<circle cx="1593.6" cy="1090" r="4.3" fill="#e3202a" stroke="#3a1010" stroke-width="0.9" />
<circle cx="1623.4" cy="1090" r="4.3" fill="#e3202a" stroke="#3a1010" stroke-width="0.9" />
<circle cx="1653.6" cy="1090" r="4.3" fill="#e3202a" stroke="#3a1010" stroke-width="0.9" />
<circle cx="1683.8" cy="1090" r="4.3" fill="#e3202a" stroke="#3a1010" stroke-width="0.9" />
<circle cx="1608.4" cy="1103.8" r="4.3" fill="#e3202a" stroke="#3a1010" stroke-width="0.9" />
<circle cx="1638.5" cy="1103.8" r="4.3" fill="#e3202a" stroke="#3a1010" stroke-width="0.9" />
<circle cx="1668.7" cy="1103.8" r="4.3" fill="#e3202a" stroke="#3a1010" stroke-width="0.9" />
<circle cx="1593.6" cy="1117.2" r="4.3" fill="#e3202a" stroke="#3a1010" stroke-width="0.9" />
<circle cx="1623.4" cy="1117.2" r="4.3" fill="#e3202a" stroke="#3a1010" stroke-width="0.9" />
<circle cx="1653.6" cy="1117.2" r="4.3" fill="#e3202a" stroke="#3a1010" stroke-width="0.9" />
<circle cx="1683.8" cy="1117.2" r="4.3" fill="#e3202a" stroke="#3a1010" stroke-width="0.9" />
<circle cx="1608.4" cy="1131.2" r="4.3" fill="#e3202a" stroke="#3a1010" stroke-width="0.9" />
<circle cx="1638.5" cy="1131.2" r="4.3" fill="#e3202a" stroke="#3a1010" stroke-width="0.9" />
<circle cx="1668.7" cy="1131.2" r="4.3" fill="#e3202a" stroke="#3a1010" stroke-width="0.9" />
<circle cx="1593.6" cy="1142.3" r="4.3" fill="#e3202a" stroke="#3a1010" stroke-width="0.9" />
<circle cx="1623.4" cy="1142.3" r="4.3" fill="#e3202a" stroke="#3a1010" stroke-width="0.9" />
<circle cx="1653.6" cy="1142.3" r="4.3" fill="#e3202a" stroke="#3a1010" stroke-width="0.9" />
<circle cx="1683.8" cy="1142.3" r="4.3" fill="#e3202a" stroke="#3a1010" stroke-width="0.9" />
<circle cx="1608.4" cy="1156.3" r="4.3" fill="#e3202a" stroke="#3a1010" stroke-width="0.9" />
<circle cx="1638.5" cy="1156.3" r="4.3" fill="#e3202a" stroke="#3a1010" stroke-width="0.9" />
<circle cx="1668.7" cy="1156.3" r="4.3" fill="#e3202a" stroke="#3a1010" stroke-width="0.9" />
<circle cx="1593.6" cy="1169.5" r="4.3" fill="#e3202a" stroke="#3a1010" stroke-width="0.9" />
<circle cx="1623.4" cy="1169.5" r="4.3" fill="#e3202a" stroke="#3a1010" stroke-width="0.9" />
<circle cx="1653.6" cy="1169.5" r="4.3" fill="#e3202a" stroke="#3a1010" stroke-width="0.9" />
<circle cx="1683.8" cy="1169.5" r="4.3" fill="#e3202a" stroke="#3a1010" stroke-width="0.9" />
<circle cx="1608.4" cy="1182.8" r="4.3" fill="#e3202a" stroke="#3a1010" stroke-width="0.9" />
<circle cx="1638.5" cy="1182.8" r="4.3" fill="#e3202a" stroke="#3a1010" stroke-width="0.9" />
<circle cx="1668.7" cy="1182.8" r="4.3" fill="#e3202a" stroke="#3a1010" stroke-width="0.9" />
<circle cx="1593.6" cy="1194.5" r="4.3" fill="#e3202a" stroke="#3a1010" stroke-width="0.9" />
<circle cx="1623.4" cy="1194.5" r="4.3" fill="#e3202a" stroke="#3a1010" stroke-width="0.9" />
<circle cx="1653.6" cy="1194.5" r="4.3" fill="#e3202a" stroke="#3a1010" stroke-width="0.9" />
<circle cx="1683.8" cy="1194.5" r="4.3" fill="#e3202a" stroke="#3a1010" stroke-width="0.9" />
<circle cx="1608.4" cy="1206.5" r="4.3" fill="#e3202a" stroke="#3a1010" stroke-width="0.9" />
<circle cx="1638.5" cy="1206.5" r="4.3" fill="#e3202a" stroke="#3a1010" stroke-width="0.9" />
<circle cx="1668.7" cy="1206.5" r="4.3" fill="#e3202a" stroke="#3a1010" stroke-width="0.9" />
<rect x="1579" y="1256" width="120" height="143" fill="#d1d0d3" stroke="#231f20" stroke-width="2.4" />
<circle cx="1608.4" cy="1267.5" r="4.3" fill="#e3202a" stroke="#3a1010" stroke-width="0.9" />
<circle cx="1638.5" cy="1267.5" r="4.3" fill="#e3202a" stroke="#3a1010" stroke-width="0.9" />
<circle cx="1668.7" cy="1267.5" r="4.3" fill="#e3202a" stroke="#3a1010" stroke-width="0.9" />
<circle cx="1593.6" cy="1280.8" r="4.3" fill="#e3202a" stroke="#3a1010" stroke-width="0.9" />
<circle cx="1623.4" cy="1280.8" r="4.3" fill="#e3202a" stroke="#3a1010" stroke-width="0.9" />
<circle cx="1653.6" cy="1280.8" r="4.3" fill="#e3202a" stroke="#3a1010" stroke-width="0.9" />
<circle cx="1683.8" cy="1280.8" r="4.3" fill="#e3202a" stroke="#3a1010" stroke-width="0.9" />
<circle cx="1608.4" cy="1294.3" r="4.3" fill="#e3202a" stroke="#3a1010" stroke-width="0.9" />
<circle cx="1638.5" cy="1294.3" r="4.3" fill="#e3202a" stroke="#3a1010" stroke-width="0.9" />
<circle cx="1668.7" cy="1294.3" r="4.3" fill="#e3202a" stroke="#3a1010" stroke-width="0.9" />
<circle cx="1593.6" cy="1307.6" r="4.3" fill="#e3202a" stroke="#3a1010" stroke-width="0.9" />
<circle cx="1623.4" cy="1307.6" r="4.3" fill="#e3202a" stroke="#3a1010" stroke-width="0.9" />
<circle cx="1653.6" cy="1307.6" r="4.3" fill="#e3202a" stroke="#3a1010" stroke-width="0.9" />
<circle cx="1683.8" cy="1307.6" r="4.3" fill="#e3202a" stroke="#3a1010" stroke-width="0.9" />
<circle cx="1608.4" cy="1321" r="4.3" fill="#e3202a" stroke="#3a1010" stroke-width="0.9" />
<circle cx="1638.5" cy="1321" r="4.3" fill="#e3202a" stroke="#3a1010" stroke-width="0.9" />
<circle cx="1668.7" cy="1321" r="4.3" fill="#e3202a" stroke="#3a1010" stroke-width="0.9" />
<circle cx="1593.6" cy="1334.5" r="4.3" fill="#e3202a" stroke="#3a1010" stroke-width="0.9" />
<circle cx="1623.4" cy="1334.5" r="4.3" fill="#e3202a" stroke="#3a1010" stroke-width="0.9" />
<circle cx="1653.6" cy="1334.5" r="4.3" fill="#e3202a" stroke="#3a1010" stroke-width="0.9" />
<circle cx="1683.8" cy="1334.5" r="4.3" fill="#e3202a" stroke="#3a1010" stroke-width="0.9" />
<circle cx="1608.4" cy="1347.7" r="4.3" fill="#e3202a" stroke="#3a1010" stroke-width="0.9" />
<circle cx="1638.5" cy="1347.7" r="4.3" fill="#e3202a" stroke="#3a1010" stroke-width="0.9" />
<circle cx="1668.7" cy="1347.7" r="4.3" fill="#e3202a" stroke="#3a1010" stroke-width="0.9" />
<circle cx="1593.6" cy="1360.5" r="4.3" fill="#e3202a" stroke="#3a1010" stroke-width="0.9" />
<circle cx="1623.4" cy="1360.5" r="4.3" fill="#e3202a" stroke="#3a1010" stroke-width="0.9" />
<circle cx="1653.6" cy="1360.5" r="4.3" fill="#e3202a" stroke="#3a1010" stroke-width="0.9" />
<circle cx="1683.8" cy="1360.5" r="4.3" fill="#e3202a" stroke="#3a1010" stroke-width="0.9" />
<circle cx="1608.4" cy="1373.8" r="4.3" fill="#e3202a" stroke="#3a1010" stroke-width="0.9" />
<circle cx="1638.5" cy="1373.8" r="4.3" fill="#e3202a" stroke="#3a1010" stroke-width="0.9" />
<circle cx="1668.7" cy="1373.8" r="4.3" fill="#e3202a" stroke="#3a1010" stroke-width="0.9" />
<circle cx="1593.6" cy="1387" r="4.3" fill="#e3202a" stroke="#3a1010" stroke-width="0.9" />
<circle cx="1623.4" cy="1387" r="4.3" fill="#e3202a" stroke="#3a1010" stroke-width="0.9" />
<circle cx="1653.6" cy="1387" r="4.3" fill="#e3202a" stroke="#3a1010" stroke-width="0.9" />
<circle cx="1683.8" cy="1387" r="4.3" fill="#e3202a" stroke="#3a1010" stroke-width="0.9" />
<rect x="1579" y="1503.4" width="120" height="39.9" fill="#d1d0d3" stroke="#231f20" stroke-width="2.4" />
<circle cx="1593.6" cy="1516.2" r="4.3" fill="#e3202a" stroke="#3a1010" stroke-width="0.9" />
<circle cx="1623.4" cy="1516.2" r="4.3" fill="#e3202a" stroke="#3a1010" stroke-width="0.9" />
<circle cx="1653.6" cy="1516.2" r="4.3" fill="#e3202a" stroke="#3a1010" stroke-width="0.9" />
<circle cx="1683.8" cy="1516.2" r="4.3" fill="#e3202a" stroke="#3a1010" stroke-width="0.9" />
<circle cx="1608.4" cy="1531" r="4.3" fill="#e3202a" stroke="#3a1010" stroke-width="0.9" />
<circle cx="1638.5" cy="1531" r="4.3" fill="#e3202a" stroke="#3a1010" stroke-width="0.9" />
<circle cx="1668.7" cy="1531" r="4.3" fill="#e3202a" stroke="#3a1010" stroke-width="0.9" />
<rect x="1579" y="1563" width="120" height="51" fill="#d1d0d3" stroke="#231f20" stroke-width="2.4" />
<circle cx="1608.4" cy="1575" r="4.3" fill="#e3202a" stroke="#3a1010" stroke-width="0.9" />
<circle cx="1638.5" cy="1575" r="4.3" fill="#e3202a" stroke="#3a1010" stroke-width="0.9" />
<circle cx="1668.7" cy="1575" r="4.3" fill="#e3202a" stroke="#3a1010" stroke-width="0.9" />
<circle cx="1593.6" cy="1588.5" r="4.3" fill="#e3202a" stroke="#3a1010" stroke-width="0.9" />
<circle cx="1623.4" cy="1588.5" r="4.3" fill="#e3202a" stroke="#3a1010" stroke-width="0.9" />
<circle cx="1653.6" cy="1588.5" r="4.3" fill="#e3202a" stroke="#3a1010" stroke-width="0.9" />
<circle cx="1683.8" cy="1588.5" r="4.3" fill="#e3202a" stroke="#3a1010" stroke-width="0.9" />
<circle cx="1608.4" cy="1601" r="4.3" fill="#e3202a" stroke="#3a1010" stroke-width="0.9" />
<circle cx="1638.5" cy="1601" r="4.3" fill="#e3202a" stroke="#3a1010" stroke-width="0.9" />
<circle cx="1668.7" cy="1601" r="4.3" fill="#e3202a" stroke="#3a1010" stroke-width="0.9" />
<rect x="1579" y="1729" width="120" height="36" fill="#d1d0d3" stroke="#231f20" stroke-width="2.4" />
<circle cx="1593.6" cy="1741.7" r="4.3" fill="#e3202a" stroke="#3a1010" stroke-width="0.9" />
<circle cx="1623.4" cy="1741.7" r="4.3" fill="#e3202a" stroke="#3a1010" stroke-width="0.9" />
<circle cx="1653.6" cy="1741.7" r="4.3" fill="#e3202a" stroke="#3a1010" stroke-width="0.9" />
<circle cx="1683.8" cy="1741.7" r="4.3" fill="#e3202a" stroke="#3a1010" stroke-width="0.9" />
<circle cx="1608.4" cy="1755.5" r="4.3" fill="#e3202a" stroke="#3a1010" stroke-width="0.9" />
<circle cx="1638.5" cy="1755.5" r="4.3" fill="#e3202a" stroke="#3a1010" stroke-width="0.9" />
<circle cx="1668.7" cy="1755.5" r="4.3" fill="#e3202a" stroke="#3a1010" stroke-width="0.9" />
<rect x="1579" y="1873.2" width="120" height="31.8" fill="#d1d0d3" stroke="#231f20" stroke-width="2.4" />
<circle cx="1593.6" cy="1888.5" r="4.3" fill="#e3202a" stroke="#3a1010" stroke-width="0.9" />
<circle cx="1623.4" cy="1888.5" r="4.3" fill="#e3202a" stroke="#3a1010" stroke-width="0.9" />
<circle cx="1653.6" cy="1888.5" r="4.3" fill="#e3202a" stroke="#3a1010" stroke-width="0.9" />
<circle cx="1683.8" cy="1888.5" r="4.3" fill="#e3202a" stroke="#3a1010" stroke-width="0.9" />
<rect x="1579" y="1957" width="120" height="29.3" fill="#d1d0d3" stroke="#231f20" stroke-width="2.4" />
<circle cx="1608.4" cy="1971.7" r="4.3" fill="#e3202a" stroke="#3a1010" stroke-width="0.9" />
<circle cx="1638.5" cy="1971.7" r="4.3" fill="#e3202a" stroke="#3a1010" stroke-width="0.9" />
<circle cx="1668.7" cy="1971.7" r="4.3" fill="#e3202a" stroke="#3a1010" stroke-width="0.9" />
<rect x="1579" y="2055.8" width="120" height="35.2" fill="#d1d0d3" stroke="#231f20" stroke-width="2.4" />
<circle cx="1593.6" cy="2074" r="4.3" fill="#e3202a" stroke="#3a1010" stroke-width="0.9" />
<circle cx="1623.4" cy="2074" r="4.3" fill="#e3202a" stroke="#3a1010" stroke-width="0.9" />
<circle cx="1653.6" cy="2074" r="4.3" fill="#e3202a" stroke="#3a1010" stroke-width="0.9" />
<circle cx="1683.8" cy="2074" r="4.3" fill="#e3202a" stroke="#3a1010" stroke-width="0.9" />
<rect x="1579" y="2151.6" width="120" height="36.1" fill="#d1d0d3" stroke="#231f20" stroke-width="2.4" />
<circle cx="1593.6" cy="2170" r="4.3" fill="#e3202a" stroke="#3a1010" stroke-width="0.9" />
<circle cx="1623.4" cy="2170" r="4.3" fill="#e3202a" stroke="#3a1010" stroke-width="0.9" />
<circle cx="1653.6" cy="2170" r="4.3" fill="#e3202a" stroke="#3a1010" stroke-width="0.9" />
<circle cx="1683.8" cy="2170" r="4.3" fill="#e3202a" stroke="#3a1010" stroke-width="0.9" />
</g>
<g id="eval">
<path d="M1699 289.5 L1820 289.5 L1820 459.3 L1699 459.3 Z" fill="#ee4a30" stroke="#231f20" stroke-width="2.4" />
<text x="1757.5" y="385.9" font-size="33" text-anchor="middle" fill="#231f20" font-weight="normal" style="font-family:'Liberation Serif',serif">I</text>
<path d="M1699 581 L1709 571 L1820 571 L1820 604.8 L1699 604.8 Z" fill="#ee4a30" stroke="#231f20" stroke-width="2.4" />
<text x="1757.5" y="599.4" font-size="33" text-anchor="middle" fill="#231f20" font-weight="normal" style="font-family:'Liberation Serif',serif">I</text>
<path d="M1699 616.4 L1708 606.4 L1820 606.4 L1820 637.8 L1708 637.8 L1699 627.8 Z" fill="#f6dc7c" stroke="#231f20" stroke-width="2.4" />
<text x="1757.5" y="633.6" font-size="33" text-anchor="middle" fill="#231f20" font-weight="normal" style="font-family:'Liberation Serif',serif">III</text>
<path d="M1699 639.4 L1820 639.4 L1820 674 L1699 674 Z" fill="#f2b021" stroke="#231f20" stroke-width="2.4" />
<text x="1757.5" y="668.2" font-size="33" text-anchor="middle" fill="#231f20" font-weight="normal" style="font-family:'Liberation Serif',serif">II</text>
<path d="M1699 675.5 L1820 675.5 L1820 708 L1699 708 Z" fill="#ee4a30" stroke="#231f20" stroke-width="2.4" />
<text x="1757.5" y="703.2" font-size="33" text-anchor="middle" fill="#231f20" font-weight="normal" style="font-family:'Liberation Serif',serif">I</text>
<path d="M1699 719.5 L1709 709.5 L1820 709.5 L1820 743 L1699 743 Z" fill="#f6dc7c" stroke="#231f20" stroke-width="2.4" />
<text x="1757.5" y="737.8" font-size="33" text-anchor="middle" fill="#231f20" font-weight="normal" style="font-family:'Liberation Serif',serif">III</text>
<path d="M1699 801.8 L1709 791.8 L1820 791.8 L1820 826.4 L1699 826.4 Z" fill="#f2b021" stroke="#231f20" stroke-width="2.4" />
<text x="1757.5" y="820.6" font-size="33" text-anchor="middle" fill="#231f20" font-weight="normal" style="font-family:'Liberation Serif',serif">II</text>
<path d="M1699 828 L1820 828 L1820 876.7 L1699 876.7 Z" fill="#ee4a30" stroke="#231f20" stroke-width="2.4" />
<text x="1757.5" y="863.9" font-size="33" text-anchor="middle" fill="#231f20" font-weight="normal" style="font-family:'Liberation Serif',serif">I</text>
<path d="M1699 878.3 L1820 878.3 L1820 980.5 L1699 980.5 Z" fill="#f6dc7c" stroke="#231f20" stroke-width="2.4" />
<text x="1757.5" y="940.9" font-size="33" text-anchor="middle" fill="#231f20" font-weight="normal" style="font-family:'Liberation Serif',serif">III</text>
<path d="M1699 1044.4 L1820 1044.4 L1820 1100.4 L1699 1100.4 Z" fill="#f2b021" stroke="#231f20" stroke-width="2.4" />
<text x="1757.5" y="1083.9" font-size="33" text-anchor="middle" fill="#231f20" font-weight="normal" style="font-family:'Liberation Serif',serif">II</text>
<path d="M1699 1102 L1820 1102 L1820 1168.6 L1699 1168.6 Z" fill="#ee4a30" stroke="#231f20" stroke-width="2.4" />
<text x="1757.5" y="1146.8" font-size="33" text-anchor="middle" fill="#231f20" font-weight="normal" style="font-family:'Liberation Serif',serif">I</text>
<path d="M1699 1170.2 L1820 1170.2 L1820 1222 L1699 1222 Z" fill="#f6dc7c" stroke="#231f20" stroke-width="2.4" />
<text x="1757.5" y="1207.6" font-size="33" text-anchor="middle" fill="#231f20" font-weight="normal" style="font-family:'Liberation Serif',serif">III</text>
<path d="M1699 1256 L1820 1256 L1820 1327.4 L1699 1327.4 Z" fill="#f2b021" stroke="#231f20" stroke-width="2.4" />
<text x="1757.5" y="1303.2" font-size="33" text-anchor="middle" fill="#231f20" font-weight="normal" style="font-family:'Liberation Serif',serif">II</text>
<path d="M1699 1328.3 L1820 1328.3 L1820 1399 L1699 1399 Z" fill="#f6dc7c" stroke="#231f20" stroke-width="2.4" />
<text x="1757.5" y="1375.2" font-size="33" text-anchor="middle" fill="#231f20" font-weight="normal" style="font-family:'Liberation Serif',serif">III</text>
<path d="M1699 1503.4 L1820 1503.4 L1820 1543.3 L1699 1543.3 Z" fill="#ee4a30" stroke="#231f20" stroke-width="2.4" />
<text x="1757.5" y="1534.8" font-size="33" text-anchor="middle" fill="#231f20" font-weight="normal" style="font-family:'Liberation Serif',serif">I</text>
<path d="M1699 1559 L1709 1549 L1820 1549 L1820 1581.4 L1699 1581.4 Z" fill="#f6dc7c" stroke="#231f20" stroke-width="2.4" />
<text x="1757.5" y="1576.7" font-size="33" text-anchor="middle" fill="#231f20" font-weight="normal" style="font-family:'Liberation Serif',serif">III</text>
<path d="M1699 1582 L1820 1582 L1820 1614 L1699 1614 Z" fill="#f2b021" stroke="#231f20" stroke-width="2.4" />
<text x="1757.5" y="1609.5" font-size="33" text-anchor="middle" fill="#231f20" font-weight="normal" style="font-family:'Liberation Serif',serif">II</text>
<path d="M1699 1729 L1820 1729 L1820 1765 L1699 1765 Z" fill="#f6dc7c" stroke="#231f20" stroke-width="2.4" />
<text x="1757.5" y="1758.5" font-size="33" text-anchor="middle" fill="#231f20" font-weight="normal" style="font-family:'Liberation Serif',serif">III</text>
<path d="M1699 1873.2 L1820 1873.2 L1820 1905 L1699 1905 Z" fill="#f6dc7c" stroke="#231f20" stroke-width="2.4" />
<text x="1757.5" y="1900.6" font-size="33" text-anchor="middle" fill="#231f20" font-weight="normal" style="font-family:'Liberation Serif',serif">III</text>
<path d="M1699 1957 L1820 1957 L1820 1986.3 L1699 1986.3 Z" fill="#f2b021" stroke="#231f20" stroke-width="2.4" />
<text x="1757.5" y="1983.2" font-size="33" text-anchor="middle" fill="#231f20" font-weight="normal" style="font-family:'Liberation Serif',serif">II</text>
<path d="M1699 2055.8 L1820 2055.8 L1820 2091 L1699 2091 Z" fill="#ee4a30" stroke="#231f20" stroke-width="2.4" />
<text x="1757.5" y="2084.9" font-size="33" text-anchor="middle" fill="#231f20" font-weight="normal" style="font-family:'Liberation Serif',serif">I</text>
<path d="M1699 2151.6 L1820 2151.6 L1820 2187.7 L1699 2187.7 Z" fill="#f2b021" stroke="#231f20" stroke-width="2.4" />
<text x="1757.5" y="2181.1" font-size="33" text-anchor="middle" fill="#231f20" font-weight="normal" style="font-family:'Liberation Serif',serif">II</text>
</g>
<g id="frame">
<line x1="3.9" y1="1.8" x2="1821.3" y2="1.8" stroke="#231f20" stroke-width="3.2" />
<line x1="3.9" y1="2344.4" x2="1821.3" y2="2344.4" stroke="#231f20" stroke-width="2.8" />
<line x1="5.2" y1="151.5" x2="1820" y2="151.5" stroke="#231f20" stroke-width="3" />
<line x1="5.2" y1="1.8" x2="5.2" y2="2344.4" stroke="#231f20" stroke-width="2.8" />
<line x1="232.3" y1="1.8" x2="232.3" y2="2344.4" stroke="#231f20" stroke-width="2.8" />
<line x1="421.8" y1="1.8" x2="421.8" y2="2344.4" stroke="#231f20" stroke-width="2.8" />
<line x1="686.9" y1="1.8" x2="686.9" y2="2344.4" stroke="#231f20" stroke-width="2.8" />
<line x1="894.9" y1="1.8" x2="894.9" y2="2344.4" stroke="#231f20" stroke-width="2.8" />
<line x1="1075" y1="1.8" x2="1075" y2="2344.4" stroke="#231f20" stroke-width="2.8" />
<line x1="1302.8" y1="1.8" x2="1302.8" y2="2344.4" stroke="#231f20" stroke-width="2.8" />
<line x1="1423.5" y1="1.8" x2="1423.5" y2="2344.4" stroke="#231f20" stroke-width="2.8" />
<line x1="1578.8" y1="1.8" x2="1578.8" y2="2344.4" stroke="#231f20" stroke-width="2.8" />
<line x1="1698.9" y1="1.8" x2="1698.9" y2="2344.4" stroke="#231f20" stroke-width="2.8" />
<line x1="1820" y1="1.8" x2="1820" y2="2344.4" stroke="#231f20" stroke-width="2.8" />
<line x1="5.2" y1="76.5" x2="232.3" y2="76.5" stroke="#231f20" stroke-width="3" />
<line x1="80.7" y1="76.5" x2="80.7" y2="2344.4" stroke="#231f20" stroke-width="2.8" />
<line x1="156.8" y1="76.5" x2="156.8" y2="151.5" stroke="#231f20" stroke-width="2.8" />
<line x1="156.8" y1="283.5" x2="156.8" y2="2213" stroke="#231f20" stroke-width="2.8" />
<line x1="5.2" y1="283.5" x2="232.3" y2="283.5" stroke="#231f20" stroke-width="2.8" />
<line x1="5.2" y1="2213" x2="232.3" y2="2213" stroke="#231f20" stroke-width="2.8" />
<line x1="156.8" y1="487" x2="232.3" y2="487" stroke="#231f20" stroke-width="2.8" />
<line x1="156.8" y1="972.5" x2="232.3" y2="972.5" stroke="#231f20" stroke-width="2.8" />
<line x1="156.8" y1="1543.6" x2="232.3" y2="1543.6" stroke="#231f20" stroke-width="2.8" />
<line x1="1075" y1="58" x2="1302.8" y2="58" stroke="#231f20" stroke-width="2.8" />
<line x1="1150.8" y1="58" x2="1150.8" y2="151.5" stroke="#231f20" stroke-width="2.8" />
<line x1="1227" y1="58" x2="1227" y2="151.5" stroke="#231f20" stroke-width="2.8" />
<line x1="1302.8" y1="58" x2="1423.5" y2="58" stroke="#231f20" stroke-width="2.8" />
<line x1="1363" y1="58" x2="1363" y2="2344.4" stroke="#231f20" stroke-width="2.8" />
<line x1="1075" y1="289" x2="1302.8" y2="289" stroke="#231f20" stroke-width="2.8" />
<line x1="1075" y1="2213" x2="1302.8" y2="2213" stroke="#231f20" stroke-width="2.8" />
<line x1="1150.8" y1="289" x2="1150.8" y2="2213" stroke="#231f20" stroke-width="2.8" />
<line x1="1227" y1="289" x2="1227" y2="2213" stroke="#231f20" stroke-width="2.8" />
<line x1="1075" y1="1435.5" x2="1150.8" y2="1435.5" stroke="#231f20" stroke-width="2.8" />
<line x1="1075" y1="1776.5" x2="1150.8" y2="1776.5" stroke="#231f20" stroke-width="2.8" />
<line x1="536" y1="137.5" x2="536" y2="151.5" stroke="#231f20" stroke-width="2.2" />
<line x1="573.5" y1="137.5" x2="573.5" y2="151.5" stroke="#231f20" stroke-width="2.2" />
<line x1="611.4" y1="137.5" x2="611.4" y2="151.5" stroke="#231f20" stroke-width="2.2" />
<line x1="649" y1="137.5" x2="649" y2="151.5" stroke="#231f20" stroke-width="2.2" />
</g>
<g id="htext" style="font-family:'Liberation Serif','Noto Serif CJK SC',serif">
<text x="106.5" y="55.1" font-size="33" text-anchor="middle" fill="#231f20" font-weight="600" >地层</text>
<text x="39.5" y="129.8" font-size="33" text-anchor="middle" fill="#231f20" font-weight="600" >统</text>
<text x="119.5" y="129.8" font-size="33" text-anchor="middle" fill="#231f20" font-weight="600" >组</text>
<text x="192.5" y="129.8" font-size="33" text-anchor="middle" fill="#231f20" font-weight="600" >段</text>
<text x="320" y="76.3" font-size="33" text-anchor="middle" fill="#231f20" font-weight="600" >岩性</text>
<text x="320" y="111.8" font-size="33" text-anchor="middle" fill="#231f20" font-weight="600" >剖面</text>
<text x="553.5" y="96.3" font-size="33" text-anchor="middle" fill="#231f20" font-weight="600" >结构剖面</text>
<text x="795.5" y="95.8" font-size="33" text-anchor="middle" fill="#231f20" font-weight="600" >沉积构造</text>
<text x="990" y="52.8" font-size="33" text-anchor="middle" fill="#231f20" font-weight="600" >层厚</text>
<text x="909" y="110.8" font-size="23" text-anchor="middle" fill="#231f20" font-weight="500" >纹</text>
<text x="909" y="134.8" font-size="23" text-anchor="middle" fill="#231f20" font-weight="500" >层</text>
<text x="946.5" y="110.8" font-size="23" text-anchor="middle" fill="#231f20" font-weight="500" >薄</text>
<text x="946.5" y="134.8" font-size="23" text-anchor="middle" fill="#231f20" font-weight="500" >层</text>
<text x="987" y="110.8" font-size="23" text-anchor="middle" fill="#231f20" font-weight="500" >中</text>
<text x="987" y="134.8" font-size="23" text-anchor="middle" fill="#231f20" font-weight="500" >层</text>
<text x="1025.5" y="110.8" font-size="23" text-anchor="middle" fill="#231f20" font-weight="500" >厚</text>
<text x="1025.5" y="134.8" font-size="23" text-anchor="middle" fill="#231f20" font-weight="500" >层</text>
<text x="1063" y="110.8" font-size="23" text-anchor="middle" fill="#231f20" font-weight="500" >块</text>
<text x="1063" y="134.8" font-size="23" text-anchor="middle" fill="#231f20" font-weight="500" >状</text>
<text x="1188.5" y="42.8" font-size="33" text-anchor="middle" fill="#231f20" font-weight="600" >沉积相</text>
<text x="1111.5" y="99.3" font-size="33" text-anchor="middle" fill="#231f20" font-weight="600" >微</text>
<text x="1111.5" y="135.8" font-size="33" text-anchor="middle" fill="#231f20" font-weight="600" >相</text>
<text x="1187.5" y="99.3" font-size="33" text-anchor="middle" fill="#231f20" font-weight="600" >亚</text>
<text x="1187.5" y="135.8" font-size="33" text-anchor="middle" fill="#231f20" font-weight="600" >相</text>
<text x="1262" y="122.3" font-size="33" text-anchor="middle" fill="#231f20" font-weight="600" >相</text>
<text x="1364" y="43.3" font-size="33" text-anchor="middle" fill="#231f20" font-weight="600" >层序</text>
<text x="1329" y="100.3" font-size="33" text-anchor="middle" fill="#231f20" font-weight="600" >三</text>
<text x="1329" y="133.8" font-size="33" text-anchor="middle" fill="#231f20" font-weight="600" >级</text>
<text x="1391" y="98.8" font-size="33" text-anchor="middle" fill="#231f20" font-weight="600" >高</text>
<text x="1391" y="133.8" font-size="33" text-anchor="middle" fill="#231f20" font-weight="600" >频</text>
<text x="1640" y="52.8" font-size="33" text-anchor="middle" fill="#231f20" font-weight="600" >露头</text>
<text x="1640" y="88.8" font-size="33" text-anchor="middle" fill="#231f20" font-weight="600" >孔洞</text>
<text x="1640" y="124.3" font-size="33" text-anchor="middle" fill="#231f20" font-weight="600" >发育</text>
<text x="1765" y="78.8" font-size="33" text-anchor="middle" fill="#231f20" font-weight="600" >储层</text>
<text x="1765" y="114.8" font-size="33" text-anchor="middle" fill="#231f20" font-weight="600" >评价</text>
<text x="1503.5" y="31" font-size="24" text-anchor="middle" fill="#d71f26" font-weight="600">孔隙度<tspan font-weight="normal">/%</tspan></text>
<text x="1436.3" y="52" font-size="26.5" text-anchor="middle" fill="#d71f26" font-weight="normal" style="font-family:'Liberation Serif',serif">0</text>
<text x="1556.3" y="52" font-size="26.5" text-anchor="middle" fill="#d71f26" font-weight="normal" style="font-family:'Liberation Serif',serif">10</text>
<text x="1500.7" y="88.3" font-size="26" text-anchor="middle" fill="#1d3a70" font-weight="600" >渗透率</text>
<text x="1500.5" y="118" font-size="27" text-anchor="middle" fill="#1d3a70" style="font-family:'Liberation Serif',serif">/(10<tspan font-size="14" dy="-11">-3</tspan><tspan dy="11"> μm</tspan><tspan font-size="14" dy="-11">2</tspan><tspan dy="11">)</tspan></text>
<text x="1430" y="138.5" font-size="23" text-anchor="start" fill="#1d3a70" font-weight="normal" style="font-family:'Liberation Serif',serif">0.001</text>
<text x="1564" y="138.5" font-size="23" text-anchor="middle" fill="#1d3a70" font-weight="normal" style="font-family:'Liberation Serif',serif">7</text>
<line x1="1427.5" y1="63" x2="1573.5" y2="63" stroke="#d71f26" stroke-width="1.6" />
<line x1="1427.5" y1="55" x2="1427.5" y2="63" stroke="#d71f26" stroke-width="1.4" />
<line x1="1434.8" y1="59" x2="1434.8" y2="63" stroke="#d71f26" stroke-width="1.4" />
<line x1="1442.1" y1="55" x2="1442.1" y2="63" stroke="#d71f26" stroke-width="1.4" />
<line x1="1449.4" y1="59" x2="1449.4" y2="63" stroke="#d71f26" stroke-width="1.4" />
<line x1="1456.7" y1="55" x2="1456.7" y2="63" stroke="#d71f26" stroke-width="1.4" />
<line x1="1464" y1="59" x2="1464" y2="63" stroke="#d71f26" stroke-width="1.4" />
<line x1="1471.3" y1="55" x2="1471.3" y2="63" stroke="#d71f26" stroke-width="1.4" />
<line x1="1478.6" y1="59" x2="1478.6" y2="63" stroke="#d71f26" stroke-width="1.4" />
<line x1="1485.9" y1="55" x2="1485.9" y2="63" stroke="#d71f26" stroke-width="1.4" />
<line x1="1493.2" y1="59" x2="1493.2" y2="63" stroke="#d71f26" stroke-width="1.4" />
<line x1="1500.5" y1="55" x2="1500.5" y2="63" stroke="#d71f26" stroke-width="1.4" />
<line x1="1507.8" y1="59" x2="1507.8" y2="63" stroke="#d71f26" stroke-width="1.4" />
<line x1="1515.1" y1="55" x2="1515.1" y2="63" stroke="#d71f26" stroke-width="1.4" />
<line x1="1522.4" y1="59" x2="1522.4" y2="63" stroke="#d71f26" stroke-width="1.4" />
<line x1="1529.7" y1="55" x2="1529.7" y2="63" stroke="#d71f26" stroke-width="1.4" />
<line x1="1537" y1="59" x2="1537" y2="63" stroke="#d71f26" stroke-width="1.4" />
<line x1="1544.3" y1="55" x2="1544.3" y2="63" stroke="#d71f26" stroke-width="1.4" />
<line x1="1551.6" y1="59" x2="1551.6" y2="63" stroke="#d71f26" stroke-width="1.4" />
<line x1="1558.9" y1="55" x2="1558.9" y2="63" stroke="#d71f26" stroke-width="1.4" />
<line x1="1566.2" y1="59" x2="1566.2" y2="63" stroke="#d71f26" stroke-width="1.4" />
<line x1="1573.5" y1="55" x2="1573.5" y2="63" stroke="#d71f26" stroke-width="1.4" />
<line x1="1427.5" y1="148.6" x2="1573.5" y2="148.6" stroke="#1d3a70" stroke-width="1.6" />
<line x1="1427.5" y1="140.6" x2="1427.5" y2="148.6" stroke="#1d3a70" stroke-width="1.4" />
<line x1="1434.8" y1="144.6" x2="1434.8" y2="148.6" stroke="#1d3a70" stroke-width="1.4" />
<line x1="1442.1" y1="140.6" x2="1442.1" y2="148.6" stroke="#1d3a70" stroke-width="1.4" />
<line x1="1449.4" y1="144.6" x2="1449.4" y2="148.6" stroke="#1d3a70" stroke-width="1.4" />
<line x1="1456.7" y1="140.6" x2="1456.7" y2="148.6" stroke="#1d3a70" stroke-width="1.4" />
<line x1="1464" y1="144.6" x2="1464" y2="148.6" stroke="#1d3a70" stroke-width="1.4" />
<line x1="1471.3" y1="140.6" x2="1471.3" y2="148.6" stroke="#1d3a70" stroke-width="1.4" />
<line x1="1478.6" y1="144.6" x2="1478.6" y2="148.6" stroke="#1d3a70" stroke-width="1.4" />
<line x1="1485.9" y1="140.6" x2="1485.9" y2="148.6" stroke="#1d3a70" stroke-width="1.4" />
<line x1="1493.2" y1="144.6" x2="1493.2" y2="148.6" stroke="#1d3a70" stroke-width="1.4" />
<line x1="1500.5" y1="140.6" x2="1500.5" y2="148.6" stroke="#1d3a70" stroke-width="1.4" />
<line x1="1507.8" y1="144.6" x2="1507.8" y2="148.6" stroke="#1d3a70" stroke-width="1.4" />
<line x1="1515.1" y1="140.6" x2="1515.1" y2="148.6" stroke="#1d3a70" stroke-width="1.4" />
<line x1="1522.4" y1="144.6" x2="1522.4" y2="148.6" stroke="#1d3a70" stroke-width="1.4" />
<line x1="1529.7" y1="140.6" x2="1529.7" y2="148.6" stroke="#1d3a70" stroke-width="1.4" />
<line x1="1537" y1="144.6" x2="1537" y2="148.6" stroke="#1d3a70" stroke-width="1.4" />
<line x1="1544.3" y1="140.6" x2="1544.3" y2="148.6" stroke="#1d3a70" stroke-width="1.4" />
<line x1="1551.6" y1="144.6" x2="1551.6" y2="148.6" stroke="#1d3a70" stroke-width="1.4" />
<line x1="1558.9" y1="140.6" x2="1558.9" y2="148.6" stroke="#1d3a70" stroke-width="1.4" />
<line x1="1566.2" y1="144.6" x2="1566.2" y2="148.6" stroke="#1d3a70" stroke-width="1.4" />
<line x1="1573.5" y1="140.6" x2="1573.5" y2="148.6" stroke="#1d3a70" stroke-width="1.4" />
</g>
<g id="btext" style="font-family:'Liberation Serif','Noto Serif CJK SC',serif">
<text x="43.6" y="181.5" font-size="31" text-anchor="middle" fill="#231f20" font-weight="600" >下</text>
<text x="43.6" y="214" font-size="31" text-anchor="middle" fill="#231f20" font-weight="600" >寒</text>
<text x="43.6" y="245.5" font-size="31" text-anchor="middle" fill="#231f20" font-weight="600" >武</text>
<text x="43.6" y="275.5" font-size="31" text-anchor="middle" fill="#231f20" font-weight="600" >统</text>
<text x="156.5" y="195.8" font-size="33" text-anchor="middle" fill="#231f20" font-weight="600" >玉尔</text>
<text x="156.5" y="231.8" font-size="33" text-anchor="middle" fill="#231f20" font-weight="600" >吐斯</text>
<text x="156.5" y="267.3" font-size="33" text-anchor="middle" fill="#231f20" font-weight="600" >组</text>
<text x="194.5" y="361.8" font-size="33" text-anchor="middle" fill="#231f20" font-weight="600" >奇</text>
<text x="194.5" y="398" font-size="32" text-anchor="middle" fill="#231f20" font-weight="normal" style="font-family:'Liberation Serif',serif">4</text>
<text x="194.5" y="435.3" font-size="33" text-anchor="middle" fill="#231f20" font-weight="600" >段</text>
<text x="194.5" y="679.3" font-size="33" text-anchor="middle" fill="#231f20" font-weight="600" >奇</text>
<text x="194.5" y="732" font-size="32" text-anchor="middle" fill="#231f20" font-weight="normal" style="font-family:'Liberation Serif',serif">3</text>
<text x="194.5" y="785.3" font-size="33" text-anchor="middle" fill="#231f20" font-weight="600" >段</text>
<text x="194.5" y="1207.3" font-size="33" text-anchor="middle" fill="#231f20" font-weight="600" >奇</text>
<text x="194.5" y="1259.5" font-size="32" text-anchor="middle" fill="#231f20" font-weight="normal" style="font-family:'Liberation Serif',serif">2</text>
<text x="194.5" y="1313.8" font-size="33" text-anchor="middle" fill="#231f20" font-weight="600" >段</text>
<text x="194.5" y="1826.8" font-size="33" text-anchor="middle" fill="#231f20" font-weight="600" >奇</text>
<text x="194.5" y="1880" font-size="32" text-anchor="middle" fill="#231f20" font-weight="normal" style="font-family:'Liberation Serif',serif">1</text>
<text x="194.5" y="1933.8" font-size="33" text-anchor="middle" fill="#231f20" font-weight="600" >段</text>
<text x="112.3" y="1051.8" font-size="33" text-anchor="middle" fill="#231f20" font-weight="600" >奇</text>
<text x="112.3" y="1123.3" font-size="33" text-anchor="middle" fill="#231f20" font-weight="600" >格</text>
<text x="112.3" y="1194.3" font-size="33" text-anchor="middle" fill="#231f20" font-weight="600" >布</text>
<text x="112.3" y="1265.8" font-size="33" text-anchor="middle" fill="#231f20" font-weight="600" >拉</text>
<text x="112.3" y="1337.3" font-size="33" text-anchor="middle" fill="#231f20" font-weight="600" >克</text>
<text x="112.3" y="1407.8" font-size="33" text-anchor="middle" fill="#231f20" font-weight="600" >组</text>
<text x="37.8" y="1136.3" font-size="33" text-anchor="middle" fill="#231f20" font-weight="600" >上</text>
<text x="37.8" y="1207.8" font-size="33" text-anchor="middle" fill="#231f20" font-weight="600" >震</text>
<text x="37.8" y="1278.8" font-size="33" text-anchor="middle" fill="#231f20" font-weight="600" >旦</text>
<text x="37.8" y="1350.8" font-size="33" text-anchor="middle" fill="#231f20" font-weight="600" >统</text>
<text x="43" y="2272.3" font-size="33" text-anchor="middle" fill="#231f20" font-weight="600" >下震</text>
<text x="43" y="2309.3" font-size="33" text-anchor="middle" fill="#231f20" font-weight="600" >旦统</text>
<text x="156.5" y="2258.8" font-size="33" text-anchor="middle" fill="#231f20" font-weight="600" >苏盖特</text>
<text x="156.5" y="2293.3" font-size="33" text-anchor="middle" fill="#231f20" font-weight="600" >布拉克</text>
<text x="156.5" y="2327.8" font-size="33" text-anchor="middle" fill="#231f20" font-weight="600" >组</text>
<text x="1187.5" y="243.8" font-size="33" text-anchor="middle" fill="#231f20" font-weight="600" >陆棚相</text>
<text x="1189" y="2298.3" font-size="33" text-anchor="middle" fill="#231f20" font-weight="600" >滨岸相</text>
<text x="1110.7" y="787.8" font-size="31.5" text-anchor="middle" fill="#231f20" font-weight="600" >潮</text>
<text x="1110.7" y="820.8" font-size="31.5" text-anchor="middle" fill="#231f20" font-weight="600" >下</text>
<text x="1110.7" y="853.8" font-size="31.5" text-anchor="middle" fill="#231f20" font-weight="600" >带</text>
<text x="1110.7" y="886.8" font-size="31.5" text-anchor="middle" fill="#231f20" font-weight="600" >微</text>
<text x="1110.7" y="919.8" font-size="31.5" text-anchor="middle" fill="#231f20" font-weight="600" >生</text>
<text x="1110.7" y="952.8" font-size="31.5" text-anchor="middle" fill="#231f20" font-weight="600" >物</text>
<text x="1110.7" y="985.8" font-size="31.5" text-anchor="middle" fill="#231f20" font-weight="600" >丘</text>
<text x="1110.7" y="1018.8" font-size="31.5" text-anchor="middle" fill="#231f20" font-weight="600" >滩</text>
<text x="1111" y="1509.8" font-size="31.5" text-anchor="middle" fill="#231f20" font-weight="600" >潮</text>
<text x="1111" y="1540.1" font-size="31.5" text-anchor="middle" fill="#231f20" font-weight="600" >间</text>
<text x="1111" y="1570.4" font-size="31.5" text-anchor="middle" fill="#231f20" font-weight="600" >带</text>
<text x="1111" y="1600.7" font-size="31.5" text-anchor="middle" fill="#231f20" font-weight="600" >微</text>
<text x="1111" y="1631" font-size="31.5" text-anchor="middle" fill="#231f20" font-weight="600" >生</text>
<text x="1111" y="1661.3" font-size="31.5" text-anchor="middle" fill="#231f20" font-weight="600" >物</text>
<text x="1111" y="1691.6" font-size="31.5" text-anchor="middle" fill="#231f20" font-weight="600" >丘</text>
<text x="1111" y="1721.9" font-size="31.5" text-anchor="middle" fill="#231f20" font-weight="600" >滩</text>
<text x="1113" y="1819.1" font-size="26" text-anchor="middle" fill="#231f20" font-weight="600" >潮</text>
<text x="1113" y="1845" font-size="26" text-anchor="middle" fill="#231f20" font-weight="600" >间</text>
<line x1="1113" y1="1849.8" x2="1113" y2="1872.8" stroke="#231f20" stroke-width="1.2" />
<text x="1113" y="1896.8" font-size="26" text-anchor="middle" fill="#231f20" font-weight="600" >潮</text>
<text x="1113" y="1922.7" font-size="26" text-anchor="middle" fill="#231f20" font-weight="600" >上</text>
<text x="1113" y="1948.6" font-size="26" text-anchor="middle" fill="#231f20" font-weight="600" >带</text>
<text x="1113" y="1974.5" font-size="26" text-anchor="middle" fill="#231f20" font-weight="600" >微</text>
<text x="1113" y="2000.4" font-size="26" text-anchor="middle" fill="#231f20" font-weight="600" >生</text>
<text x="1113" y="2026.3" font-size="26" text-anchor="middle" fill="#231f20" font-weight="600" >物</text>
<text x="1113" y="2052.2" font-size="26" text-anchor="middle" fill="#231f20" font-weight="600" >丘</text>
<text x="1113" y="2078.1" font-size="26" text-anchor="middle" fill="#231f20" font-weight="600" >滩</text>
<line x1="1104" y1="2105.9" x2="1122" y2="2081.9" stroke="#231f20" stroke-width="1.4" />
<text x="1113" y="2129.9" font-size="26" text-anchor="middle" fill="#231f20" font-weight="600" >泥</text>
<text x="1113" y="2155.8" font-size="26" text-anchor="middle" fill="#231f20" font-weight="600" >云</text>
<text x="1113" y="2181.7" font-size="26" text-anchor="middle" fill="#231f20" font-weight="600" >坪</text>
<text x="1180" y="1194.3" font-size="33" text-anchor="middle" fill="#231f20" font-weight="600" >内</text>
<text x="1180" y="1267" font-size="33" text-anchor="middle" fill="#231f20" font-weight="600" >缓</text>
<text x="1180" y="1334.8" font-size="33" text-anchor="middle" fill="#231f20" font-weight="600" >坡</text>
<text x="1264.5" y="1181.8" font-size="33" text-anchor="middle" fill="#231f20" font-weight="600" >碳</text>
<text x="1264.5" y="1216.5" font-size="33" text-anchor="middle" fill="#231f20" font-weight="600" >酸</text>
<text x="1264.5" y="1251.2" font-size="33" text-anchor="middle" fill="#231f20" font-weight="600" >盐</text>
<text x="1264.5" y="1285.9" font-size="33" text-anchor="middle" fill="#231f20" font-weight="600" >岩</text>
<text x="1264.5" y="1320.6" font-size="33" text-anchor="middle" fill="#231f20" font-weight="600" >缓</text>
<text x="1264.5" y="1355.3" font-size="33" text-anchor="middle" fill="#231f20" font-weight="600" >坡</text>
</g>
<g id="legend" style="font-family:'Liberation Serif','Noto Serif CJK SC',serif">
<rect x="3.9" y="2369" width="119.6" height="62" fill="#cdebce" stroke="#231f20" stroke-width="2.6" />
<path d="M33 2410.5 C38.9 2386.6 58.1 2386.6 64 2410.5" fill="none" stroke="#231f20" stroke-width="2.4"/>
<path d="M38.9 2410.5 C42.5 2395.2 54.5 2395.2 58.1 2410.5" fill="none" stroke="#231f20" stroke-width="2.4"/>
<path d="M43.9 2410.5 C45.6 2402.6 51.4 2402.6 53.1 2410.5" fill="none" stroke="#231f20" stroke-width="2.4"/>
<path d="M64 2410.5 C69.9 2386.6 89.1 2386.6 95 2410.5" fill="none" stroke="#231f20" stroke-width="2.4"/>
<path d="M69.9 2410.5 C73.5 2395.2 85.5 2395.2 89.1 2410.5" fill="none" stroke="#231f20" stroke-width="2.4"/>
<path d="M74.8 2410.5 C76.6 2402.6 82.4 2402.6 84.2 2410.5" fill="none" stroke="#231f20" stroke-width="2.4"/>
<text x="60.5" y="2469.1" font-size="32" text-anchor="middle" fill="#231f20" font-weight="600" >叠层石</text>
<rect x="150.7" y="2369" width="116.6" height="62" fill="#cdebce" stroke="#231f20" stroke-width="2.6" />
<g transform="translate(185 2398) scale(1.7 2.0) translate(-185 -2398)">
<path d="M0 0.5 C-0.4 -2.2 1.5 -4.2 4 -4.3 C5 -5.3 7.5 -5.4 9 -4 C10.5 -4.8 12.3 -4.3 13.2 -3 C15.5 -3.6 18 -3.4 19.5 -2.2 C21 -3 24 -2.6 24.6 -0.8 C25 1 23.4 2.2 21.5 1.8 C20 2.8 17.5 2.6 16.2 1.9 C14.5 3.8 12 4.5 10.2 3.6 C8.5 5 5.5 5.2 3.8 4.2 C1.6 4.6 -0.2 3 0 0.5 Z" fill="#231f20" stroke="#231f20" stroke-width="0.9" transform="translate(172.7 2398) scale(1)"/>
<path d="M175.7 2396.5 l5 -0.6 M178.7 2399.2 l6 -0.4" stroke="#5a5a5a" stroke-width="0.6" fill="none"/>
</g>
<g transform="translate(233 2398) scale(1.7 2.0) translate(-233 -2398)">
<path d="M0 0.5 C-0.4 -2.2 1.5 -4.2 4 -4.3 C5 -5.3 7.5 -5.4 9 -4 C10.5 -4.8 12.3 -4.3 13.2 -3 C15.5 -3.6 18 -3.4 19.5 -2.2 C21 -3 24 -2.6 24.6 -0.8 C25 1 23.4 2.2 21.5 1.8 C20 2.8 17.5 2.6 16.2 1.9 C14.5 3.8 12 4.5 10.2 3.6 C8.5 5 5.5 5.2 3.8 4.2 C1.6 4.6 -0.2 3 0 0.5 Z" fill="#231f20" stroke="#231f20" stroke-width="0.9" transform="translate(220.7 2398) scale(1)"/>
<path d="M223.7 2396.5 l5 -0.6 M226.7 2399.2 l6 -0.4" stroke="#5a5a5a" stroke-width="0.6" fill="none"/>
</g>
<text x="208" y="2469.1" font-size="32" text-anchor="middle" fill="#231f20" font-weight="600" >凝块石</text>
<rect x="291.4" y="2369" width="119.6" height="62" fill="#cdebce" stroke="#231f20" stroke-width="2.6" />
<ellipse cx="306.1" cy="2400" rx="6.9" ry="6" fill="none" stroke="#231f20" stroke-width="2.4"/>
<ellipse cx="320.5" cy="2400" rx="6.9" ry="6" fill="none" stroke="#231f20" stroke-width="2.4"/>
<ellipse cx="334.9" cy="2400" rx="6.9" ry="6" fill="none" stroke="#231f20" stroke-width="2.4"/>
<ellipse cx="367.1" cy="2400" rx="6.9" ry="6" fill="none" stroke="#231f20" stroke-width="2.4"/>
<ellipse cx="381.5" cy="2400" rx="6.9" ry="6" fill="none" stroke="#231f20" stroke-width="2.4"/>
<ellipse cx="395.9" cy="2400" rx="6.9" ry="6" fill="none" stroke="#231f20" stroke-width="2.4"/>
<text x="351.5" y="2469.1" font-size="32" text-anchor="middle" fill="#231f20" font-weight="600" >泡沫</text>
<text x="351.5" y="2505.1" font-size="32" text-anchor="middle" fill="#231f20" font-weight="600" >绵层石</text>
<rect x="435.9" y="2369" width="119.7" height="62" fill="#cde673" stroke="#231f20" stroke-width="2.6" />
<circle cx="469" cy="2398" r="3.6" fill="#231f20" stroke="none" stroke-width="0" />
<path d="M446 2414.5 L447.4 2414.3 L448.9 2413.6 L450.3 2412.6 L451.8 2411.5 L453.2 2410.4 L454.6 2409.4 L456.1 2408.7 L457.5 2408.5 L458.9 2408.7 L460.4 2409.4 L461.8 2410.4 L463.2 2411.5 L464.7 2412.6 L466.1 2413.6 L467.6 2414.3 L469 2414.5 L470.4 2414.3 L471.9 2413.6 L473.3 2412.6 L474.8 2411.5 L476.2 2410.4 L477.6 2409.4 L479.1 2408.7 L480.5 2408.5 L481.9 2408.7 L483.4 2409.4 L484.8 2410.4 L486.2 2411.5 L487.7 2412.6 L489.1 2413.6 L490.6 2414.3 L492 2414.5" fill="none" stroke="#231f20" stroke-width="1.9" stroke-linecap="round" stroke-linejoin="round"/>
<circle cx="524.5" cy="2398" r="3.6" fill="#231f20" stroke="none" stroke-width="0" />
<path d="M501.5 2414.5 L502.9 2414.3 L504.4 2413.6 L505.8 2412.6 L507.2 2411.5 L508.7 2410.4 L510.1 2409.4 L511.6 2408.7 L513 2408.5 L514.4 2408.7 L515.9 2409.4 L517.3 2410.4 L518.8 2411.5 L520.2 2412.6 L521.6 2413.6 L523.1 2414.3 L524.5 2414.5 L525.9 2414.3 L527.4 2413.6 L528.8 2412.6 L530.2 2411.5 L531.7 2410.4 L533.1 2409.4 L534.6 2408.7 L536 2408.5 L537.4 2408.7 L538.9 2409.4 L540.3 2410.4 L541.8 2411.5 L543.2 2412.6 L544.6 2413.6 L546.1 2414.3 L547.5 2414.5" fill="none" stroke="#231f20" stroke-width="1.9" stroke-linecap="round" stroke-linejoin="round"/>
<text x="495.5" y="2469.1" font-size="32" text-anchor="middle" fill="#231f20" font-weight="600" >黏结砂屑</text>
<rect x="579.2" y="2369" width="120.3" height="62" fill="#fdf59c" stroke="#231f20" stroke-width="2.6" />
<circle cx="611.4" cy="2399.7" r="10" fill="none" stroke="#231f20" stroke-width="2.6" />
<circle cx="611.4" cy="2399.7" r="3.9" fill="#231f20" stroke="none" stroke-width="0" />
<circle cx="667.7" cy="2399.7" r="10" fill="none" stroke="#231f20" stroke-width="2.6" />
<circle cx="667.7" cy="2399.7" r="3.9" fill="#231f20" stroke="none" stroke-width="0" />
<text x="638" y="2469.1" font-size="32" text-anchor="middle" fill="#231f20" font-weight="600" >鲕粒</text>
<rect x="721.2" y="2369" width="118.8" height="62" fill="#d1886a" stroke="#231f20" stroke-width="2.6" />
<path d="M736.6 2383.7 L747.6 2380.3 L757.7 2381.1 L760.2 2390.5 L758.6 2396.4 L751 2397.2 L745 2401.4 L735.7 2393 L739.1 2388.8 Z" fill="#4b4a4c" stroke="#231f20" stroke-width="1" />
<path d="M778 2383.7 L784.8 2380.3 L794.1 2379.5 L800 2387.9 L794.9 2394.7 L789 2395.5 L780.6 2390.5 Z" fill="#4b4a4c" stroke="#231f20" stroke-width="1" />
<path d="M813.5 2387.9 L818.6 2381.1 L823.7 2379.5 L829.6 2385.4 L827.1 2393 L825.4 2398.1 L821.2 2398.6 L818.6 2392.1 Z" fill="#4b4a4c" stroke="#231f20" stroke-width="1" />
<path d="M759.4 2415 L762.8 2409.9 L768.7 2409.9 L771.2 2415.8 L776.3 2417.5 L772.9 2420.1 L767.9 2423.4 L761.1 2420.9 Z" fill="#4b4a4c" stroke="#231f20" stroke-width="1" />
<path d="M794.9 2412.4 L800 2408.2 L806.8 2409.9 L811.9 2415.8 L809.3 2420.9 L803.4 2420.9 Z" fill="#4b4a4c" stroke="#231f20" stroke-width="1" />
<text x="779.5" y="2469.1" font-size="32" text-anchor="middle" fill="#231f20" font-weight="600" >溶塌</text>
<text x="779.5" y="2505.1" font-size="32" text-anchor="middle" fill="#231f20" font-weight="600" >角砾结构</text>
<rect x="865.5" y="2369" width="118.7" height="62" fill="#fff59c" stroke="#231f20" stroke-width="2.6" />
<circle cx="899.5" cy="2400" r="2" fill="#231f20" stroke="none" stroke-width="0" />
<circle cx="904.5" cy="2400" r="2" fill="#231f20" stroke="none" stroke-width="0" />
<circle cx="944.5" cy="2400" r="2" fill="#231f20" stroke="none" stroke-width="0" />
<circle cx="949.5" cy="2400" r="2" fill="#231f20" stroke="none" stroke-width="0" />
<text x="924.8" y="2469.1" font-size="32" text-anchor="middle" fill="#231f20" font-weight="600" >砂屑云岩</text>
<rect x="1008.3" y="2369" width="119.1" height="62" fill="#ffffff" stroke="#231f20" stroke-width="2.6" />
<path d="M1030 2394 C1045.2 2391.7 1058.9 2392.3 1071.8 2394.1 S1094.6 2393.3 1106 2393.3" fill="none" stroke="#231f20" stroke-width="2.4"/>
<path d="M1030 2400.5 C1045.2 2398.2 1058.9 2398.8 1071.8 2400.6 S1094.6 2399.8 1106 2399.8" fill="none" stroke="#231f20" stroke-width="2.4"/>
<path d="M1030 2407 C1045.2 2404.7 1058.9 2405.3 1071.8 2407.1 S1094.6 2406.3 1106 2406.3" fill="none" stroke="#231f20" stroke-width="2.4"/>
<text x="1066" y="2469.1" font-size="32" text-anchor="middle" fill="#231f20" font-weight="600" >水平纹</text>
<text x="1066" y="2505.1" font-size="32" text-anchor="middle" fill="#231f20" font-weight="600" >层结构</text>
<rect x="1149.5" y="2369" width="119.6" height="62" fill="#ffffff" stroke="#231f20" stroke-width="2.6" />
<path d="M1168 2397.1 C1169.8 2396.5 1174.9 2394.4 1179.1 2393.3 C1183.3 2392.2 1189.8 2390.8 1193.1 2390.4 C1196.4 2390 1197.4 2390.3 1199 2390.8 C1200.5 2391.3 1201.3 2392.4 1202.5 2393.3 C1203.7 2394.2 1204.8 2395.7 1205.9 2396.2 C1207.1 2396.7 1206.8 2396.9 1209.5 2396.4 C1212.2 2395.9 1218.3 2394.3 1222.4 2393.3 C1226.4 2392.3 1231.3 2390.8 1234 2390.4 C1236.7 2390 1237.1 2390.2 1238.7 2390.8 C1240.2 2391.4 1241.8 2392.9 1243.3 2393.9 C1244.9 2394.9 1247.2 2396.6 1248 2397.1" fill="none" stroke="#231f20" stroke-width="2.6" stroke-linecap="round"/>
<path d="M1168 2407.1 C1169.8 2406.5 1174.9 2404.4 1179.1 2403.3 C1183.3 2402.2 1189.8 2400.8 1193.1 2400.4 C1196.4 2400 1197.4 2400.3 1199 2400.8 C1200.5 2401.3 1201.3 2402.4 1202.5 2403.3 C1203.7 2404.2 1204.8 2405.7 1205.9 2406.2 C1207.1 2406.7 1206.8 2406.9 1209.5 2406.4 C1212.2 2405.9 1218.3 2404.3 1222.4 2403.3 C1226.4 2402.3 1231.3 2400.8 1234 2400.4 C1236.7 2400 1237.1 2400.2 1238.7 2400.8 C1240.2 2401.4 1241.8 2402.9 1243.3 2403.9 C1244.9 2404.9 1247.2 2406.6 1248 2407.1" fill="none" stroke="#231f20" stroke-width="2.6" stroke-linecap="round"/>
<text x="1208.5" y="2469.1" font-size="32" text-anchor="middle" fill="#231f20" font-weight="600" >波状纹</text>
<text x="1208.5" y="2505.1" font-size="32" text-anchor="middle" fill="#231f20" font-weight="600" >层结构</text>
<rect x="1286.4" y="2369" width="119.6" height="62" fill="#ffffff" stroke="#231f20" stroke-width="2.6" />
<path d="M1303.6 2398.5 C1317.1 2399.5 1327.5 2380.5 1343.4 2380.5 C1359.3 2380.5 1369.7 2399.5 1383.2 2398.5" fill="none" stroke="#231f20" stroke-width="2.6" stroke-linecap="round"/>
<path d="M1303.6 2409 C1317.1 2410 1327.5 2391 1343.4 2391 C1359.3 2391 1369.7 2410 1383.2 2409" fill="none" stroke="#231f20" stroke-width="2.6" stroke-linecap="round"/>
<text x="1344" y="2469.1" font-size="32" text-anchor="middle" fill="#231f20" font-weight="600" >丘状纹</text>
<text x="1344" y="2505.1" font-size="32" text-anchor="middle" fill="#231f20" font-weight="600" >层结构</text>
<rect x="1422.8" y="2369" width="119.7" height="62" fill="#ffffff" stroke="#231f20" stroke-width="2.6" />
<path d="M1432 2408 L1446 2393 L1460 2408 L1474 2393 L1488 2408 L1502 2393 L1516 2408" fill="none" stroke="#231f20" stroke-width="2.6" stroke-linejoin="miter"/>
<text x="1478" y="2469.1" font-size="32" text-anchor="middle" fill="#231f20" font-weight="600" >微暴露</text>
<text x="1478" y="2505.1" font-size="32" text-anchor="middle" fill="#231f20" font-weight="600" >面</text>
<rect x="1549.8" y="2367.4" width="119.7" height="61.9" fill="#ffffff" stroke="#231f20" stroke-width="2.6" />
<g transform="translate(1579 2373) scale(1)" stroke="#231f20" stroke-width="2.3" stroke-linecap="round" stroke-linejoin="round"><path fill="#231f20" d="M0.5 7 C0 2 5 0.5 10 0.3 C17 0 25 0 28 1.5 C29 3 28.8 5 28.3 7 C20 5 9 5.5 0.5 7 Z"/><path fill="#231f20" d="M35 8 C35.5 3 38 1.5 43 1.5 C48 1.5 50 4 50 8 C45 6.5 40 6.5 35 8 Z"/><path fill="none" d="M0.5 7 C1 13 6 19 11 22 L13.5 27 L13.5 40 M28.3 7 L26.5 18 C27 20 30 20 32 19.5 C33.5 16 34.5 12 35 8 M50 8 C50 13 47 17 45 20 L39 27 L39.5 39 M2.5 11.5 C8 9 18 8.5 26.5 9.5 M4.5 16 C10 14 18 13.5 25.5 14.5 M13 27 C21 24.5 30 24 39 25.5 M13.5 32.5 C21 30 30 29.5 39.2 31 M35 12 C40 11 45 11 49 12.5 M35.5 16 C40 15 44 15 47.5 16.5"/></g>
<text x="1607" y="2469.1" font-size="32" text-anchor="middle" fill="#231f20" font-weight="600" >柱状纹</text>
<text x="1607" y="2505.1" font-size="32" text-anchor="middle" fill="#231f20" font-weight="600" >层结构</text>
<rect x="1703" y="2366" width="119.3" height="62" fill="#d1d0d3" stroke="#231f20" stroke-width="2.6" />
<path d="M0 0 C0 -3 2 -6 4.5 -6.3 C7 -6 10 -5 13 -4.8 C14.5 -3.5 15.5 -2.5 16.5 -2.5 C18 -2.5 19.5 -3.8 22 -3.5 C25 -3.2 27.6 -2 27.6 0 C27.6 2 25 4 22 3.8 C19.5 3.5 18 2.5 16 2.8 C13 3.5 9 5 7.5 6 C5 7 2 5.5 0.8 3 C0.2 2 0 1 0 0 Z" fill="#1ba6e0" stroke="#2a0a0a" stroke-width="1" transform="translate(1752.2 2378) scale(1)"/>
<path d="M0 0 C0 -3 2 -6 4.5 -6.3 C7 -6 10 -5 13 -4.8 C14.5 -3.5 15.5 -2.5 16.5 -2.5 C18 -2.5 19.5 -3.8 22 -3.5 C25 -3.2 27.6 -2 27.6 0 C27.6 2 25 4 22 3.8 C19.5 3.5 18 2.5 16 2.8 C13 3.5 9 5 7.5 6 C5 7 2 5.5 0.8 3 C0.2 2 0 1 0 0 Z" fill="#1ba6e0" stroke="#2a0a0a" stroke-width="1" transform="translate(1725.2 2396) scale(1)"/>
<path d="M0 0 C0 -3 2 -6 4.5 -6.3 C7 -6 10 -5 13 -4.8 C14.5 -3.5 15.5 -2.5 16.5 -2.5 C18 -2.5 19.5 -3.8 22 -3.5 C25 -3.2 27.6 -2 27.6 0 C27.6 2 25 4 22 3.8 C19.5 3.5 18 2.5 16 2.8 C13 3.5 9 5 7.5 6 C5 7 2 5.5 0.8 3 C0.2 2 0 1 0 0 Z" fill="#1ba6e0" stroke="#2a0a0a" stroke-width="1" transform="translate(1778.2 2396) scale(1)"/>
<path d="M0 0 C0 -3 2 -6 4.5 -6.3 C7 -6 10 -5 13 -4.8 C14.5 -3.5 15.5 -2.5 16.5 -2.5 C18 -2.5 19.5 -3.8 22 -3.5 C25 -3.2 27.6 -2 27.6 0 C27.6 2 25 4 22 3.8 C19.5 3.5 18 2.5 16 2.8 C13 3.5 9 5 7.5 6 C5 7 2 5.5 0.8 3 C0.2 2 0 1 0 0 Z" fill="#1ba6e0" stroke="#2a0a0a" stroke-width="1" transform="translate(1752.2 2416) scale(1)"/>
<text x="1763" y="2469.1" font-size="32" text-anchor="middle" fill="#231f20" font-weight="600" >充填溶</text>
<text x="1763" y="2505.1" font-size="32" text-anchor="middle" fill="#231f20" font-weight="600" >蚀孔洞</text>
<rect x="3.9" y="2522.5" width="119.6" height="61.5" fill="#f9cabb" stroke="#231f20" stroke-width="2.6" />
<line x1="3.9" y1="2553.2" x2="123.5" y2="2553.2" stroke="#231f20" stroke-width="2.2" />
<line x1="15.5" y1="2553.2" x2="30.9" y2="2522.5" stroke="#231f20" stroke-width="2.2" />
<line x1="56.3" y1="2553.2" x2="71.7" y2="2522.5" stroke="#231f20" stroke-width="2.2" />
<line x1="97.1" y1="2553.2" x2="112.5" y2="2522.5" stroke="#231f20" stroke-width="2.2" />
<path d="M38.2 2543.9 L50.2 2543.9 L44.2 2532.4 Z" fill="none" stroke="#231f20" stroke-width="2.2" />
<path d="M79 2543.9 L91 2543.9 L85 2532.4 Z" fill="none" stroke="#231f20" stroke-width="2.2" />
<line x1="15.5" y1="2584" x2="30.9" y2="2553.2" stroke="#231f20" stroke-width="2.2" />
<line x1="56.3" y1="2584" x2="71.7" y2="2553.2" stroke="#231f20" stroke-width="2.2" />
<line x1="97.1" y1="2584" x2="112.5" y2="2553.2" stroke="#231f20" stroke-width="2.2" />
<path d="M38.2 2574.6 L50.2 2574.6 L44.2 2563.1 Z" fill="none" stroke="#231f20" stroke-width="2.2" />
<path d="M79 2574.6 L91 2574.6 L85 2563.1 Z" fill="none" stroke="#231f20" stroke-width="2.2" />
<text x="64" y="2620.8" font-size="32" text-anchor="middle" fill="#231f20" font-weight="600" >岩溶角砾</text>
<text x="64" y="2656.3" font-size="32" text-anchor="middle" fill="#231f20" font-weight="600" >白云岩</text>
<rect x="148.8" y="2522.5" width="119.2" height="61.5" fill="#cdebce" stroke="#231f20" stroke-width="2.6" />
<line x1="148.8" y1="2553.2" x2="268" y2="2553.2" stroke="#231f20" stroke-width="2" />
<line x1="159.3" y1="2553.2" x2="174.7" y2="2522.5" stroke="#231f20" stroke-width="2.2" />
<line x1="201.1" y1="2553.2" x2="216.5" y2="2522.5" stroke="#231f20" stroke-width="2.2" />
<line x1="242.9" y1="2553.2" x2="258.3" y2="2522.5" stroke="#231f20" stroke-width="2.2" />
<line x1="151.5" y1="2584" x2="166.9" y2="2553.2" stroke="#231f20" stroke-width="2.2" />
<line x1="193.3" y1="2584" x2="208.7" y2="2553.2" stroke="#231f20" stroke-width="2.2" />
<line x1="235.1" y1="2584" x2="250.5" y2="2553.2" stroke="#231f20" stroke-width="2.2" />
<text x="208" y="2620.8" font-size="32" text-anchor="middle" fill="#231f20" font-weight="600" >微生物</text>
<text x="208" y="2656.3" font-size="32" text-anchor="middle" fill="#231f20" font-weight="600" >白云岩</text>
<rect x="293.3" y="2522.5" width="119.3" height="61.5" fill="#fff59c" stroke="#231f20" stroke-width="2.6" />
<line x1="293.3" y1="2553.2" x2="412.6" y2="2553.2" stroke="#231f20" stroke-width="2" />
<line x1="305" y1="2553.2" x2="320.4" y2="2522.5" stroke="#231f20" stroke-width="2.2" />
<line x1="345.8" y1="2553.2" x2="361.2" y2="2522.5" stroke="#231f20" stroke-width="2.2" />
<line x1="386.6" y1="2553.2" x2="402" y2="2522.5" stroke="#231f20" stroke-width="2.2" />
<line x1="307" y1="2584" x2="322.4" y2="2553.2" stroke="#231f20" stroke-width="2.2" />
<line x1="347.8" y1="2584" x2="363.2" y2="2553.2" stroke="#231f20" stroke-width="2.2" />
<line x1="388.6" y1="2584" x2="404" y2="2553.2" stroke="#231f20" stroke-width="2.2" />
<text x="351.6" y="2620.8" font-size="32" text-anchor="middle" fill="#231f20" font-weight="600" >颗粒</text>
<text x="351.6" y="2656.3" font-size="32" text-anchor="middle" fill="#231f20" font-weight="600" >白云岩</text>
<rect x="438" y="2522.5" width="120.3" height="61.5" fill="#f9ca7e" stroke="#231f20" stroke-width="2.6" />
<line x1="438" y1="2553.2" x2="558.3" y2="2553.2" stroke="#231f20" stroke-width="2" />
<circle cx="454.2" cy="2537" r="2.2" fill="#231f20" stroke="none" stroke-width="0" />
<circle cx="460.8" cy="2537" r="2.2" fill="#231f20" stroke="none" stroke-width="0" />
<circle cx="489.8" cy="2537" r="2.2" fill="#231f20" stroke="none" stroke-width="0" />
<circle cx="496.2" cy="2537" r="2.2" fill="#231f20" stroke="none" stroke-width="0" />
<circle cx="524.2" cy="2537" r="2.2" fill="#231f20" stroke="none" stroke-width="0" />
<circle cx="530.8" cy="2537" r="2.2" fill="#231f20" stroke="none" stroke-width="0" />
<circle cx="472.8" cy="2569.2" r="2.2" fill="#231f20" stroke="none" stroke-width="0" />
<circle cx="479.2" cy="2569.2" r="2.2" fill="#231f20" stroke="none" stroke-width="0" />
<circle cx="507.2" cy="2569.2" r="2.2" fill="#231f20" stroke="none" stroke-width="0" />
<circle cx="513.8" cy="2569.2" r="2.2" fill="#231f20" stroke="none" stroke-width="0" />
<text x="495.4" y="2620.8" font-size="32" text-anchor="middle" fill="#231f20" font-weight="600" >粉砂岩</text>
<rect x="579.2" y="2522.5" width="120.3" height="61.5" fill="#c9c1e3" stroke="#231f20" stroke-width="2.6" />
<line x1="579.2" y1="2553.2" x2="699.5" y2="2553.2" stroke="#231f20" stroke-width="2" />
<line x1="590" y1="2553.2" x2="605.4" y2="2522.5" stroke="#231f20" stroke-width="2.2" />
<line x1="630.8" y1="2553.2" x2="646.2" y2="2522.5" stroke="#231f20" stroke-width="2.2" />
<line x1="671.6" y1="2553.2" x2="687" y2="2522.5" stroke="#231f20" stroke-width="2.2" />
<line x1="590" y1="2584" x2="605.4" y2="2553.2" stroke="#231f20" stroke-width="2.2" />
<line x1="630.8" y1="2584" x2="646.2" y2="2553.2" stroke="#231f20" stroke-width="2.2" />
<line x1="671.6" y1="2584" x2="687" y2="2553.2" stroke="#231f20" stroke-width="2.2" />
<line x1="613" y1="2537.9" x2="625" y2="2537.9" stroke="#231f20" stroke-width="2" />
<line x1="613" y1="2568.6" x2="625" y2="2568.6" stroke="#231f20" stroke-width="2" />
<line x1="654" y1="2537.9" x2="666" y2="2537.9" stroke="#231f20" stroke-width="2" />
<line x1="654" y1="2568.6" x2="666" y2="2568.6" stroke="#231f20" stroke-width="2" />
<text x="638" y="2620.8" font-size="32" text-anchor="middle" fill="#231f20" font-weight="600" >泥质</text>
<text x="638" y="2656.3" font-size="32" text-anchor="middle" fill="#231f20" font-weight="600" >白云岩</text>
<rect x="719.6" y="2522.5" width="119.1" height="61.5" fill="#7b7b7b" stroke="#231f20" stroke-width="2.6" />
<line x1="719.6" y1="2553.2" x2="838.7" y2="2553.2" stroke="#231f20" stroke-width="2" />
<line x1="731" y1="2537.9" x2="743" y2="2537.9" stroke="#231f20" stroke-width="2" />
<line x1="773" y1="2537.9" x2="785" y2="2537.9" stroke="#231f20" stroke-width="2" />
<line x1="815" y1="2537.9" x2="827" y2="2537.9" stroke="#231f20" stroke-width="2" />
<line x1="751" y1="2570.6" x2="763" y2="2570.6" stroke="#231f20" stroke-width="2" />
<line x1="793" y1="2570.6" x2="805" y2="2570.6" stroke="#231f20" stroke-width="2" />
<text x="778" y="2620.8" font-size="32" text-anchor="middle" fill="#231f20" font-weight="600" >泥岩</text>
<rect x="864.7" y="2522.5" width="119.5" height="61.5" fill="#6c88ca" stroke="#231f20" stroke-width="2.6" />
<text x="924.4" y="2563.2" font-size="29" text-anchor="middle" fill="#231f20" font-weight="normal" style="font-family:'Liberation Serif',serif">Si</text>
<text x="922" y="2620.8" font-size="32" text-anchor="middle" fill="#231f20" font-weight="600" >硅质岩</text>
<rect x="1003" y="2524" width="119" height="61.5" fill="#ffffff" stroke="#231f20" stroke-width="2.6" />
<g transform="translate(1030 2533) scale(1.1)" stroke="#231f20" stroke-linecap="butt" fill="none"><path d="M0 0 L69 0" stroke-width="2.9"/><path d="M1.2 28.7 L43.5 2.5 M1.2 23 L34.3 2.5 M1.2 17.5 L25.4 2.5 M1.2 11.3 L15.4 2.5 M1.2 5.5 L6 2.5 M15.3 20.8 L31.4 30.5 M23.8 15.6 L48.6 30.5 M30.6 11.4 L62.4 30.5 M35.7 8.3 L67 27 M40 5.6 L67 21.9 M43.4 3.5 L67 17.7 M52 2.5 L67 10.8 M60 2.5 L67 6.4 " stroke-width="2"/></g>
<text x="1067" y="2620.8" font-size="32" text-anchor="middle" fill="#231f20" font-weight="600" >槽状交</text>
<text x="1067" y="2656.3" font-size="32" text-anchor="middle" fill="#231f20" font-weight="600" >错层理</text>
<rect x="1149.5" y="2524.3" width="118.8" height="61.7" fill="#ffffff" stroke="#231f20" stroke-width="2.6" />
<g transform="translate(0 2552) scale(1 1.3) translate(0 -2552)">
<path d="M1168 2552 C1177.6 2544 1195.9 2541.5 1209.4 2542 C1222.1 2542.5 1235.7 2548 1247.6 2549.5 C1223.7 2557 1203.8 2564 1179.9 2560 Z" fill="none" stroke="#231f20" stroke-width="2" stroke-linejoin="round"/>
<path d="M1176 2552 C1187.9 2544.5 1215.8 2544 1239.6 2549.4 C1215.8 2558.5 1187.9 2559 1176 2552 Z" fill="none" stroke="#231f20" stroke-width="1"/>
<path d="M1181.5 2552 C1191.9 2546.5 1211.8 2546.5 1229.3 2551.5 C1211.8 2556.8 1191.9 2556.8 1181.5 2552 Z" fill="none" stroke="#231f20" stroke-width="1.9"/>
<circle cx="1197.8" cy="2552" r="2.2" fill="#231f20" stroke="none" stroke-width="0" />
<circle cx="1209.4" cy="2552" r="2.2" fill="#231f20" stroke="none" stroke-width="0" />
</g>
<text x="1207" y="2620.8" font-size="32" text-anchor="middle" fill="#231f20" font-weight="600" >花边</text>
<text x="1207" y="2656.3" font-size="32" text-anchor="middle" fill="#231f20" font-weight="600" >构造</text>
<rect x="1287.7" y="2522.5" width="119.3" height="61.5" fill="#ffffff" stroke="#231f20" stroke-width="2.6" />
<g transform="translate(1344.5 2550) scale(1.4)" fill="none" stroke="#231f20" stroke-width="1.7" stroke-linecap="round"><path d="M-1 -5 C-2 -9 2 -17 8 -17 C12 -17 12 -12 10 -8 C8 -5 5 -3 3 -3"/><path d="M-4 -4 C-10 -6 -22 -6 -24 0 C-25 5 -18 7 -13 4"/><path d="M5 -2 C11 -4 19 -4 21 1 C23 6 18 9 13 8 C10 7 7 5 5 4"/><path d="M-5 3 C-7 9 -5 19 -2 20 C2 21 7 12 6 4"/><circle cx="0" cy="0" r="5" fill="white"/></g>
<text x="1343.5" y="2620.8" font-size="32" text-anchor="middle" fill="#231f20" font-weight="600" >缝洞</text>
<text x="1343.5" y="2656.3" font-size="32" text-anchor="middle" fill="#231f20" font-weight="600" >胶结物</text>
<rect x="1422.8" y="2522.5" width="119.7" height="61.5" fill="#ffffff" stroke="#231f20" stroke-width="2.6" />
<path d="M14.3 0 C17 2 19 4 21.4 4.8 C24 5.8 26 6 27.9 7.2 C29.5 8.5 30 10 30.9 10.7 C32 12.5 33 13.8 34.5 14.8 M46.4 0 C44 2.5 41 5 39.3 7.2 C38.5 8.5 38.7 9.5 38.9 10.6 C39.2 12 38.5 13.5 37 15 M37.5 14.5 C36 17 33 19 29.7 21.3 C26 24 23 26 20.2 28 C16 31 12.5 33.5 9.5 34.6 C6 36 3 37 0 38.1 M17.8 30.3 C20 31.5 23 32.5 26.2 33.3 C30 34.3 33 34.5 36.9 35.1 C39 35.8 41 37.5 42.8 38.1 L50 38.1" fill="none" stroke="#231f20" stroke-width="2.1" stroke-linejoin="round" stroke-linecap="round" transform="translate(1449 2531) scale(1.1)"/>
<text x="1475" y="2620.8" font-size="32" text-anchor="middle" fill="#231f20" font-weight="600" >裂缝</text>
<rect x="1549.8" y="2522.5" width="119.7" height="61.5" fill="#d1d0d3" stroke="#231f20" stroke-width="2.6" />
<circle cx="1580" cy="2533.5" r="4" fill="#e3202a" stroke="#3a1010" stroke-width="0.9" />
<circle cx="1609" cy="2533.5" r="4" fill="#e3202a" stroke="#3a1010" stroke-width="0.9" />
<circle cx="1638" cy="2533.5" r="4" fill="#e3202a" stroke="#3a1010" stroke-width="0.9" />
<circle cx="1566" cy="2545.5" r="4" fill="#e3202a" stroke="#3a1010" stroke-width="0.9" />
<circle cx="1595" cy="2545.5" r="4" fill="#e3202a" stroke="#3a1010" stroke-width="0.9" />
<circle cx="1624" cy="2545.5" r="4" fill="#e3202a" stroke="#3a1010" stroke-width="0.9" />
<circle cx="1653" cy="2545.5" r="4" fill="#e3202a" stroke="#3a1010" stroke-width="0.9" />
<circle cx="1580" cy="2557.5" r="4" fill="#e3202a" stroke="#3a1010" stroke-width="0.9" />
<circle cx="1609" cy="2557.5" r="4" fill="#e3202a" stroke="#3a1010" stroke-width="0.9" />
<circle cx="1638" cy="2557.5" r="4" fill="#e3202a" stroke="#3a1010" stroke-width="0.9" />
<circle cx="1566" cy="2568.5" r="4" fill="#e3202a" stroke="#3a1010" stroke-width="0.9" />
<circle cx="1595" cy="2568.5" r="4" fill="#e3202a" stroke="#3a1010" stroke-width="0.9" />
<circle cx="1624" cy="2568.5" r="4" fill="#e3202a" stroke="#3a1010" stroke-width="0.9" />
<circle cx="1653" cy="2568.5" r="4" fill="#e3202a" stroke="#3a1010" stroke-width="0.9" />
<text x="1610" y="2620.8" font-size="32" text-anchor="middle" fill="#231f20" font-weight="600" >基质孔</text>
<rect x="1703" y="2522.5" width="119.3" height="61.5" fill="#d1d0d3" stroke="#231f20" stroke-width="2.6" />
<path d="M0 0 C0 -3 2 -6 4.5 -6.3 C7 -6 10 -5 13 -4.8 C14.5 -3.5 15.5 -2.5 16.5 -2.5 C18 -2.5 19.5 -3.8 22 -3.5 C25 -3.2 27.6 -2 27.6 0 C27.6 2 25 4 22 3.8 C19.5 3.5 18 2.5 16 2.8 C13 3.5 9 5 7.5 6 C5 7 2 5.5 0.8 3 C0.2 2 0 1 0 0 Z" fill="#e3202a" stroke="#2a0a0a" stroke-width="1" transform="translate(1752.2 2534) scale(1)"/>
<path d="M0 0 C0 -3 2 -6 4.5 -6.3 C7 -6 10 -5 13 -4.8 C14.5 -3.5 15.5 -2.5 16.5 -2.5 C18 -2.5 19.5 -3.8 22 -3.5 C25 -3.2 27.6 -2 27.6 0 C27.6 2 25 4 22 3.8 C19.5 3.5 18 2.5 16 2.8 C13 3.5 9 5 7.5 6 C5 7 2 5.5 0.8 3 C0.2 2 0 1 0 0 Z" fill="#e3202a" stroke="#2a0a0a" stroke-width="1" transform="translate(1725.2 2552) scale(1)"/>
<path d="M0 0 C0 -3 2 -6 4.5 -6.3 C7 -6 10 -5 13 -4.8 C14.5 -3.5 15.5 -2.5 16.5 -2.5 C18 -2.5 19.5 -3.8 22 -3.5 C25 -3.2 27.6 -2 27.6 0 C27.6 2 25 4 22 3.8 C19.5 3.5 18 2.5 16 2.8 C13 3.5 9 5 7.5 6 C5 7 2 5.5 0.8 3 C0.2 2 0 1 0 0 Z" fill="#e3202a" stroke="#2a0a0a" stroke-width="1" transform="translate(1778.2 2552) scale(1)"/>
<path d="M0 0 C0 -3 2 -6 4.5 -6.3 C7 -6 10 -5 13 -4.8 C14.5 -3.5 15.5 -2.5 16.5 -2.5 C18 -2.5 19.5 -3.8 22 -3.5 C25 -3.2 27.6 -2 27.6 0 C27.6 2 25 4 22 3.8 C19.5 3.5 18 2.5 16 2.8 C13 3.5 9 5 7.5 6 C5 7 2 5.5 0.8 3 C0.2 2 0 1 0 0 Z" fill="#e3202a" stroke="#2a0a0a" stroke-width="1" transform="translate(1752.2 2572) scale(1)"/>
<text x="1762" y="2620.8" font-size="32" text-anchor="middle" fill="#231f20" font-weight="600" >未充填溶</text>
<text x="1762" y="2656.3" font-size="32" text-anchor="middle" fill="#231f20" font-weight="600" >蚀孔洞</text>
</g>
</svg></body></html>
